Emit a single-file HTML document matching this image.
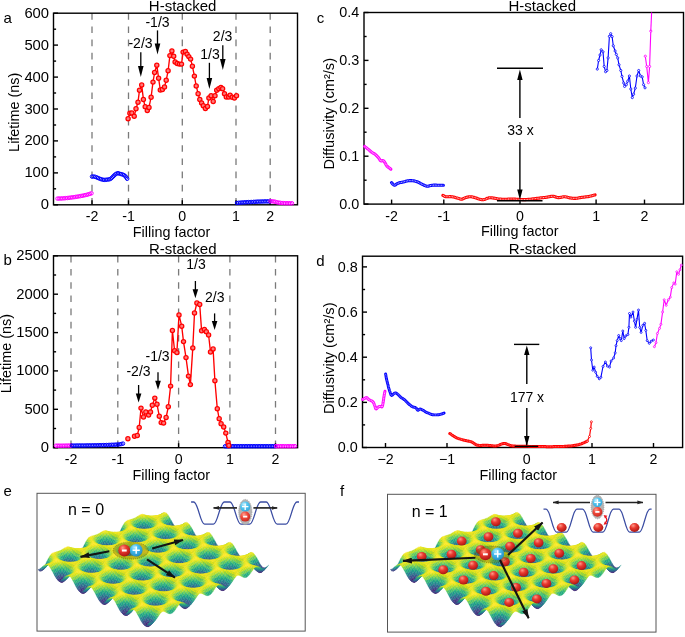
<!DOCTYPE html><html><head><meta charset="utf-8"><style>html,body{margin:0;padding:0;background:#fff;width:685px;height:637px;overflow:hidden}svg{display:block;will-change:transform}text{fill:#000}.c0{fill:#440154;stroke:#440154}.c1{fill:#46075a;stroke:#46075a}.c2{fill:#470d60;stroke:#470d60}.c3{fill:#471365;stroke:#471365}.c4{fill:#48186a;stroke:#48186a}.c5{fill:#481d6f;stroke:#481d6f}.c6{fill:#482374;stroke:#482374}.c7{fill:#482878;stroke:#482878}.c8{fill:#472d7b;stroke:#472d7b}.c9{fill:#46327e;stroke:#46327e}.c10{fill:#453781;stroke:#453781}.c11{fill:#443b84;stroke:#443b84}.c12{fill:#424086;stroke:#424086}.c13{fill:#404588;stroke:#404588}.c14{fill:#3e4989;stroke:#3e4989}.c15{fill:#3d4e8a;stroke:#3d4e8a}.c16{fill:#3b528b;stroke:#3b528b}.c17{fill:#39568c;stroke:#39568c}.c18{fill:#375b8d;stroke:#375b8d}.c19{fill:#355f8d;stroke:#355f8d}.c20{fill:#33638d;stroke:#33638d}.c21{fill:#31678e;stroke:#31678e}.c22{fill:#2f6b8e;stroke:#2f6b8e}.c23{fill:#2e6f8e;stroke:#2e6f8e}.c24{fill:#2c728e;stroke:#2c728e}.c25{fill:#2a768e;stroke:#2a768e}.c26{fill:#297a8e;stroke:#297a8e}.c27{fill:#277e8e;stroke:#277e8e}.c28{fill:#26828e;stroke:#26828e}.c29{fill:#25858e;stroke:#25858e}.c30{fill:#23898e;stroke:#23898e}.c31{fill:#228d8d;stroke:#228d8d}.c32{fill:#21918c;stroke:#21918c}.c33{fill:#1f948c;stroke:#1f948c}.c34{fill:#1f988b;stroke:#1f988b}.c35{fill:#1e9c89;stroke:#1e9c89}.c36{fill:#1fa088;stroke:#1fa088}.c37{fill:#20a386;stroke:#20a386}.c38{fill:#22a785;stroke:#22a785}.c39{fill:#25ab82;stroke:#25ab82}.c40{fill:#28ae80;stroke:#28ae80}.c41{fill:#2db27d;stroke:#2db27d}.c42{fill:#32b67a;stroke:#32b67a}.c43{fill:#38b977;stroke:#38b977}.c44{fill:#3fbc73;stroke:#3fbc73}.c45{fill:#46c06f;stroke:#46c06f}.c46{fill:#4ec36b;stroke:#4ec36b}.c47{fill:#56c667;stroke:#56c667}.c48{fill:#5ec962;stroke:#5ec962}.c49{fill:#67cc5c;stroke:#67cc5c}.c50{fill:#70cf57;stroke:#70cf57}.c51{fill:#7ad151;stroke:#7ad151}.c52{fill:#84d44b;stroke:#84d44b}.c53{fill:#8ed645;stroke:#8ed645}.c54{fill:#98d83e;stroke:#98d83e}.c55{fill:#a2da37;stroke:#a2da37}.c56{fill:#addc30;stroke:#addc30}.c57{fill:#b8de29;stroke:#b8de29}.c58{fill:#c2df23;stroke:#c2df23}.c59{fill:#cde11d;stroke:#cde11d}.c60{fill:#d8e219;stroke:#d8e219}.c61{fill:#e2e418;stroke:#e2e418}.c62{fill:#ece51b;stroke:#ece51b}.c63{fill:#f6e620;stroke:#f6e620}.c64{fill:#fde725;stroke:#fde725}</style></head><body><svg width="685" height="637" viewBox="0 0 685 637" font-family="Liberation Sans, sans-serif"><defs>
<radialGradient id="gr" cx=".4" cy=".33" r=".72" fx=".36" fy=".28"><stop offset="0" stop-color="#ff9a8a"/><stop offset=".4" stop-color="#ea3a30"/><stop offset=".85" stop-color="#b81c18"/><stop offset="1" stop-color="#8a1410"/></radialGradient>
<radialGradient id="gb" cx=".4" cy=".33" r=".72" fx=".36" fy=".28"><stop offset="0" stop-color="#b5ecff"/><stop offset=".4" stop-color="#47bdee"/><stop offset=".85" stop-color="#2c97cc"/><stop offset="1" stop-color="#1f78a8"/></radialGradient>
<radialGradient id="gr2" cx=".4" cy=".33" r=".72" fx=".36" fy=".28"><stop offset="0" stop-color="#ffa090"/><stop offset=".45" stop-color="#f04a3c"/><stop offset="1" stop-color="#c62820"/></radialGradient>
<radialGradient id="gb2" cx=".4" cy=".33" r=".72" fx=".36" fy=".28"><stop offset="0" stop-color="#c5f0ff"/><stop offset=".45" stop-color="#55c6f0"/><stop offset="1" stop-color="#35a5d8"/></radialGradient>
<marker id="ah" viewBox="0 0 16 10" refX="15" refY="5" markerUnits="userSpaceOnUse" markerWidth="9.5" markerHeight="6" orient="auto"><path d="M0 0L16 5L0 10z" fill="#141414"/></marker>
<marker id="ah2" viewBox="0 0 16 10" refX="15" refY="5" markerUnits="userSpaceOnUse" markerWidth="6" markerHeight="4.6" orient="auto"><path d="M0 0L16 5L0 10z" fill="#222"/></marker>
<filter id="bl" x="-5%" y="-5%" width="110%" height="110%"><feGaussianBlur stdDeviation="0.5"/></filter><g id="surf" filter="url(#bl)"><g transform="scale(.1)" style="stroke-width:3.0"><path class="c15" d="M1544 5206l15-7 15-24-15 5z"/><path class="c9" d="M1529 5223l15-10 15-14-15 7z"/><path class="c23" d="M1559 5199l15-15 15-20-15 11z"/><path class="c8" d="M1514 5225l15-9 15-3-15 10z"/><path class="c18" d="M1544 5213l16-16 14-13-15 15z"/><path class="c34" d="M1574 5184l16-18 15-17-16 15z"/><path class="c12" d="M1499 5215l15-6 15 7-15 9z"/><path class="c17" d="M1529 5216l16-15 15-4-16 16z"/><path class="c29" d="M1560 5197l15-19 15-12-16 18z"/><path class="c44" d="M1590 5166l15-16 15-14-15 13z"/><path class="c21" d="M1484 5199l15-4 15 14-15 6zm30 10l16-13 15 5-16 15z"/><path class="c29" d="M1545 5201l15-19 15-4-15 19z"/><path class="c41" d="M1575 5178l15-19 15-9-15 16z"/><path class="c54" d="M1605 5150l15-13 15-10-15 9z"/><path class="c28" d="M1499 5195l16-9 15 10-16 13z"/><path class="c31" d="M1530 5196l15-16 15 2-15 19z"/><path class="c32" d="M1469 5180l15-1 15 16-15 4z"/><path class="c41" d="M1560 5182l15-17 15-6-15 19z"/><path class="c52" d="M1590 5159l15-13 15-9-15 13z"/><path class="c60" d="M1620 5137l15-5 15-8-15 3z"/><path class="c37" d="M1484 5179l16-5 15 12-16 9zm31 7l15-12 15 6-15 16z"/><path class="c43" d="M1454 5162l16 2 14 15-15 1zm91 18l15-15 15 0-15 17z"/><path class="c51" d="M1575 5165l15-13 15-6-15 13z"/><path class="c59" d="M1605 5146l16-6 14-8-15 5z"/><path class="c63" d="M1635 5132l16 9 15-9-16-8z"/><path class="c45" d="M1500 5174l15-8 15 8-15 12z"/><path class="c47" d="M1470 5164l15-2 15 12-16 5zm60 10l15-11 15 2-15 15z"/><path class="c53" d="M1439 5149l16 4 15 11-16-2zm121 16l15-10 15-3-15 13z"/><path class="c59" d="M1590 5152l16-6 15-6-16 6zm61-11l15 21 15-12-15-18z"/><path class="c62" d="M1621 5140l15 9 15-8-16-9z"/><path class="c52" d="M1485 5162l15-2 15 6-15 8zm30 4l15-6 15 3-15 11zm151-4l15 27 15-15-15-24z"/><path class="c55" d="M1455 5153l15 2 15 7-15 2zm90 10l15-7 15-1-15 10z"/><path class="c58" d="M1636 5149l15 22 15-9-15-21z"/><path class="c60" d="M1424 5143l16 6 15 4-16-4zm151 12l16-4 15-5-16 6z"/><path class="c62" d="M1606 5146l15 9 15-6-15-9z"/><path class="c42" d="M1681 5189l15 31 15-18-15-28z"/><path class="c50" d="M1651 5171l15 28 15-10-15-27z"/><path class="c58" d="M1500 5160l15-1 15 1-15 6zm121-5l15 21 15-5-15-22z"/><path class="c59" d="M1470 5155l15 2 15 3-15 2zm60 5l15-2 15-2-15 7z"/><path class="c61" d="M1440 5149l15 6 15 0-15-2zm120 7l16 0 15-5-16 4z"/><path class="c62" d="M1591 5151l15 9 15-5-15-9z"/><path class="c63" d="M1409 5146l16 8 15-5-16-6z"/><path class="c31" d="M1696 5220l16 32 15-22-16-28z"/><path class="c39" d="M1666 5199l16 33 14-12-15-31z"/><path class="c49" d="M1636 5176l15 28 15-5-15-28z"/><path class="c59" d="M1606 5160l15 19 15-3-15-21z"/><path class="c61" d="M1485 5157l15 6 15-4-15 1z"/><path class="c62" d="M1425 5154l15 14 15-13-15-6zm30 1l15 11 15-9-15-2zm60 4l16 3 14-4-15 2z"/><path class="c63" d="M1395 5153l15 13 15-12-16-8zm150 5l16 4 15-6-16 0zm31-2l15 8 15-4-15-9z"/><path class="c21" d="M1712 5252l15 27 15-24-15-25z"/><path class="c27" d="M1682 5232l15 33 15-13-16-32z"/><path class="c38" d="M1651 5204l16 32 15-4-16-33z"/><path class="c51" d="M1621 5179l15 26 15-1-15-28z"/><path class="c60" d="M1410 5166l15 18 15-16-15-14zm30 2l15 16 15-18-15-11zm151-4l15 16 15-1-15-19z"/><path class="c61" d="M1380 5161l15 18 15-13-15-13zm90 5l15 13 15-16-15-6z"/><path class="c63" d="M1500 5163l16 9 15-10-16-3z"/><path class="c64" d="M1531 5162l15 7 15-7-16-4zm30 0l15 7 15-5-15-8z"/><path class="c14" d="M1727 5279l15 20 15-27-15-17z"/><path class="c16" d="M1697 5265l15 29 15-15-15-27z"/><path class="c26" d="M1667 5236l15 33 15-4-15-33z"/><path class="c41" d="M1636 5205l16 29 15 2-16-32z"/><path class="c54" d="M1606 5180l15 22 15 3-15-26z"/><path class="c55" d="M1425 5184l15 22 15-22-15-16z"/><path class="c56" d="M1395 5179l15 23 15-18-15-18z"/><path class="c57" d="M1455 5184l15 17 15-22-15-13z"/><path class="c59" d="M1365 5170l15 21 15-12-15-18z"/><path class="c60" d="M1485 5179l16 12 15-19-16-9z"/><path class="c62" d="M1576 5169l15 12 15-1-15-16z"/><path class="c63" d="M1516 5172l15 8 15-11-15-7z"/><path class="c64" d="M1546 5169l15 7 15-7-15-7z"/><path class="c7" d="M1712 5294l15 23 15-18-15-20z"/><path class="c11" d="M1742 5299l15 7 15-26-15-8z"/><path class="c15" d="M1682 5269l15 29 15-4-15-29z"/><path class="c29" d="M1652 5234l15 30 15 5-15-33z"/><path class="c45" d="M1621 5202l16 25 15 7-16-29z"/><path class="c49" d="M1410 5202l15 26 15-22-15-22zm30 4l15 22 15-27-15-17z"/><path class="c52" d="M1380 5191l15 27 15-16-15-23z"/><path class="c53" d="M1470 5201l16 16 15-26-16-12z"/><path class="c58" d="M1350 5179l15 22 15-10-15-21zm241 2l15 17 15 4-15-22z"/><path class="c59" d="M1501 5191l15 10 15-21-15-8z"/><path class="c63" d="M1531 5180l15 7 15-11-15-7zm30-4l15 7 15-2-15-12z"/><path class="c4" d="M1727 5317l16 7 14-18-15-7z"/><path class="c6" d="M1697 5298l15 20 15-1-15-23z"/><path class="c14" d="M1757 5306l16-5 15-24-16 3z"/><path class="c19" d="M1667 5264l15 26 15 8-15-29z"/><path class="c35" d="M1637 5227l15 26 15 11-15-30z"/><path class="c41" d="M1425 5228l16 26 14-26-15-22z"/><path class="c43" d="M1395 5218l15 30 15-20-15-26z"/><path class="c44" d="M1455 5228l16 18 15-29-16-16z"/><path class="c49" d="M1365 5201l15 29 15-12-15-27z"/><path class="c51" d="M1486 5217l15 11 15-27-15-10zm120-19l16 21 15 8-16-25z"/><path class="c57" d="M1335 5186l15 22 15-7-15-22z"/><path class="c58" d="M1516 5201l15 7 15-21-15-7z"/><path class="c61" d="M1576 5183l15 13 15 2-15-17z"/><path class="c63" d="M1546 5187l15 6 15-10-15-7z"/><path class="c3" d="M1712 5318l16 8 15-2-16-7z"/><path class="c7" d="M1743 5324l15-8 15-15-16 5z"/><path class="c11" d="M1682 5290l15 18 15 10-15-20z"/><path class="c21" d="M1773 5301l15-14 15-21-15 11z"/><path class="c26" d="M1652 5253l15 23 15 14-15-26z"/><path class="c33" d="M1410 5248l16 30 15-24-16-26z"/><path class="c34" d="M1441 5254l15 23 15-31-16-18z"/><path class="c39" d="M1380 5230l15 33 15-15-15-30z"/><path class="c40" d="M1471 5246l15 14 15-32-15-11z"/><path class="c43" d="M1622 5219l15 21 15 13-15-26z"/><path class="c48" d="M1350 5208l15 30 15-8-15-29z"/><path class="c50" d="M1501 5228l15 7 15-27-15-7z"/><path class="c57" d="M1320 5191l15 21 15-4-15-22zm271 5l16 15 15 8-16-21z"/><path class="c59" d="M1531 5208l15 4 15-19-15-6z"/><path class="c63" d="M1561 5193l16 5 14-2-15-13z"/><path class="c6" d="M1728 5326l15-7 15-3-15 8z"/><path class="c8" d="M1697 5308l16 8 15 10-16-8z"/><path class="c16" d="M1758 5316l15-15 15-14-15 14z"/><path class="c20" d="M1667 5276l15 16 15 16-15-18z"/><path class="c24" d="M1426 5278l15 26 15-27-15-23z"/><path class="c27" d="M1395 5263l16 32 15-17-16-30z"/><path class="c29" d="M1456 5277l15 15 15-32-15-14z"/><path class="c31" d="M1788 5287l15-17 15-18-15 14z"/><path class="c36" d="M1637 5240l15 19 15 17-15-23z"/><path class="c37" d="M1365 5238l15 32 15-7-15-33z"/><path class="c39" d="M1486 5260l15 6 15-31-15-7z"/><path class="c49" d="M1335 5212l15 28 15-2-15-30z"/><path class="c51" d="M1516 5235l15 2 15-25-15-4zm91-24l15 17 15 12-15-21z"/><path class="c59" d="M1305 5195l15 18 15-1-15-21z"/><path class="c60" d="M1546 5212l16 1 15-15-16-5z"/><path class="c61" d="M1577 5198l15 10 15 3-16-15z"/><path class="c11" d="M1713 5316l15-4 15 7-15 7z"/><path class="c14" d="M1743 5319l15-14 15-4-15 15z"/><path class="c17" d="M1411 5295l15 29 15-20-15-26zm271-3l16 7 15 17-16-8z"/><path class="c18" d="M1441 5304l15 18 15-30-15-15z"/><path class="c25" d="M1380 5270l16 33 15-8-16-32z"/><path class="c27" d="M1471 5292l15 6 15-32-15-6zm302 9l15-19 15-12-15 17z"/><path class="c31" d="M1652 5259l15 13 15 20-15-16z"/><path class="c38" d="M1350 5240l16 31 14-1-15-32z"/><path class="c41" d="M1501 5266l15 0 15-29-15-2z"/><path class="c42" d="M1803 5270l15-17 15-15-15 14z"/><path class="c46" d="M1622 5228l15 15 15 16-15-19z"/><path class="c51" d="M1320 5213l15 24 15 3-15-28z"/><path class="c54" d="M1531 5237l16-2 15-22-16-1z"/><path class="c58" d="M1592 5208l15 12 15 8-15-17z"/><path class="c61" d="M1290 5199l15 14 15 0-15-18z"/><path class="c62" d="M1562 5213l15 2 15-7-15-10z"/><path class="c9" d="M1426 5324l15 20 15-22-15-18z"/><path class="c14" d="M1396 5303l15 29 15-8-15-29z"/><path class="c16" d="M1456 5322l15 6 15-30-15-6z"/><path class="c18" d="M1728 5312l15-12 15 5-15 14z"/><path class="c20" d="M1698 5299l15-2 15 15-15 4z"/><path class="c26" d="M1366 5271l15 31 15 1-16-33zm392 34l15-19 15-4-15 19z"/><path class="c29" d="M1667 5272l16 8 15 19-16-7z"/><path class="c30" d="M1486 5298l15-2 15-30-15 0z"/><path class="c38" d="M1788 5282l16-19 14-10-15 17z"/><path class="c42" d="M1335 5237l16 28 15 6-16-31zm302 6l15 12 15 17-15-13z"/><path class="c45" d="M1516 5266l16-6 15-25-16 2z"/><path class="c52" d="M1818 5253l16-14 15-11-16 10z"/><path class="c55" d="M1305 5213l15 20 15 4-15-24zm302 7l15 11 15 12-15-15z"/><path class="c57" d="M1547 5235l15-3 15-17-15-2z"/><path class="c62" d="M1577 5215l15 3 15 2-15-12z"/><path class="c63" d="M1275 5204l15 10 15-1-15-14z"/><path class="c5" d="M1411 5332l15 21 15-9-15-20z"/><path class="c7" d="M1441 5344l15 6 15-22-15-6z"/><path class="c15" d="M1381 5302l15 27 15 3-15-29z"/><path class="c19" d="M1471 5328l15-6 15-26-15 2z"/><path class="c26" d="M1713 5297l15-8 15 11-15 12z"/><path class="c29" d="M1743 5300l15-16 15 2-15 19z"/><path class="c31" d="M1351 5265l15 28 15 9-15-31zm332 15l15 0 15 17-15 2z"/><path class="c35" d="M1501 5296l16-10 15-26-16 6z"/><path class="c38" d="M1773 5286l16-18 15-5-16 19z"/><path class="c41" d="M1652 5255l16 7 15 18-16-8z"/><path class="c47" d="M1320 5233l16 23 15 9-16-28z"/><path class="c49" d="M1804 5263l15-14 15-10-16 14z"/><path class="c51" d="M1532 5260l15-7 15-21-15 3z"/><path class="c52" d="M1622 5231l15 10 15 14-15-12z"/><path class="c59" d="M1290 5214l15 15 15 4-15-20zm544 25l15-6 15-9-15 4z"/><path class="c61" d="M1562 5232l15-2 15-12-15-3zm30-14l15 9 15 4-15-11z"/><path class="c63" d="M1260 5213l15 6 15-5-15-10z"/><path class="c2" d="M1426 5353l15 6 15-9-15-6z"/><path class="c7" d="M1396 5329l15 18 15 6-15-21z"/><path class="c10" d="M1456 5350l16-8 14-20-15 6z"/><path class="c22" d="M1366 5293l15 23 15 13-15-27z"/><path class="c26" d="M1486 5322l16-12 15-24-16 10z"/><path class="c35" d="M1728 5289l15-12 15 7-15 16z"/><path class="c36" d="M1698 5280l15-4 15 13-15 8z"/><path class="c39" d="M1336 5256l15 24 15 13-15-28z"/><path class="c40" d="M1758 5284l16-15 15-1-16 18z"/><path class="c42" d="M1668 5262l15 2 15 16-15 0z"/><path class="c43" d="M1517 5286l15-12 15-21-15 7z"/><path class="c49" d="M1789 5268l15-14 15-5-15 14z"/><path class="c51" d="M1637 5241l16 7 15 14-16-7z"/><path class="c53" d="M1305 5229l16 18 15 9-16-23z"/><path class="c56" d="M1547 5253l15-7 15-16-15 2z"/><path class="c58" d="M1819 5249l15-8 15-8-15 6z"/><path class="c60" d="M1607 5227l15 8 15 6-15-10z"/><path class="c61" d="M1245 5229l15 5 15-15-15-6z"/><path class="c62" d="M1275 5219l16 9 14 1-15-15zm574 14l15 4 15-8-15-5z"/><path class="c63" d="M1577 5230l15 2 15-5-15-9z"/><path class="c5" d="M1411 5347l15 6 15 6-15-6z"/><path class="c6" d="M1441 5359l16-9 15-8-16 8z"/><path class="c15" d="M1381 5316l15 16 15 15-15-18z"/><path class="c19" d="M1472 5342l15-16 15-16-16 12z"/><path class="c31" d="M1351 5280l15 20 15 16-15-23z"/><path class="c35" d="M1502 5310l15-17 15-19-15 12z"/><path class="c43" d="M1713 5276l15-7 15 8-15 12z"/><path class="c45" d="M1743 5277l16-11 15 3-16 15z"/><path class="c46" d="M1683 5264l15-1 15 13-15 4z"/><path class="c47" d="M1321 5247l15 19 15 14-15-24z"/><path class="c50" d="M1774 5269l15-12 15-3-15 14z"/><path class="c51" d="M1532 5274l15-12 15-16-15 7z"/><path class="c52" d="M1653 5248l15 5 15 11-15-2z"/><path class="c55" d="M1230 5253l15 3 15-22-15-5z"/><path class="c58" d="M1804 5254l15-7 15-6-15 8z"/><path class="c59" d="M1291 5228l15 13 15 6-16-18zm331 7l16 7 15 6-16-7z"/><path class="c61" d="M1562 5246l15-4 15-10-15-2zm302-9l15 19 15-11-15-16z"/><path class="c62" d="M1260 5234l16 3 15-9-16-9zm574 7l15 4 15-8-15-4z"/><path class="c63" d="M1592 5232l16 6 14-3-15-8z"/><path class="c9" d="M1426 5353l16-6 15 3-16 9z"/><path class="c13" d="M1396 5332l15 7 15 14-15-6z"/><path class="c16" d="M1457 5350l15-16 15-8-15 16z"/><path class="c25" d="M1366 5300l15 14 15 18-15-16z"/><path class="c29" d="M1487 5326l15-18 15-15-15 17z"/><path class="c41" d="M1336 5266l15 16 15 18-15-20z"/><path class="c45" d="M1517 5293l15-15 15-16-15 12z"/><path class="c46" d="M1215 5283l15 0 15-27-15-3z"/><path class="c51" d="M1698 5263l15-2 15 8-15 7zm30 6l16-7 15 4-16 11z"/><path class="c54" d="M1759 5266l15-8 15-1-15 12zm120-10l16 26 15-14-16-23z"/><path class="c55" d="M1306 5241l15 14 15 11-15-19zm362 12l15 2 15 8-15 1z"/><path class="c57" d="M1245 5256l16 0 15-19-16-3zm302 6l15-8 15-12-15 4z"/><path class="c58" d="M1789 5257l15-5 15-5-15 7z"/><path class="c59" d="M1849 5245l15 20 15-9-15-19z"/><path class="c60" d="M1638 5242l15 6 15 5-15-5z"/><path class="c62" d="M1276 5237l15 4 15 0-15-13zm543 10l15 4 15-6-15-4z"/><path class="c63" d="M1577 5242l16 3 15-7-16-6zm31-4l15 7 15-3-16-7z"/><path class="c16" d="M1411 5339l16-4 15 12-16 6z"/><path class="c17" d="M1442 5347l15-14 15 1-15 16z"/><path class="c24" d="M1381 5314l15 6 15 19-15-7z"/><path class="c27" d="M1472 5334l15-18 15-8-15 18z"/><path class="c35" d="M1200 5315l16-2 14-30-15 0z"/><path class="c37" d="M1351 5282l15 13 15 19-15-14z"/><path class="c41" d="M1502 5308l15-18 15-12-15 15z"/><path class="c45" d="M1895 5282l15 31 15-18-15-27z"/><path class="c50" d="M1230 5283l16-4 15-23-16 0z"/><path class="c51" d="M1321 5255l15 13 15 14-15-16z"/><path class="c52" d="M1864 5265l16 27 15-10-16-26z"/><path class="c54" d="M1532 5278l15-12 15-12-15 8z"/><path class="c56" d="M1713 5261l16-1 15 2-16 7z"/><path class="c57" d="M1744 5262l15-3 15-1-15 8z"/><path class="c58" d="M1683 5255l15 2 15 4-15 2z"/><path class="c59" d="M1834 5251l16 20 14-6-15-20z"/><path class="c60" d="M1261 5256l15-1 15-14-15-4zm513 2l15-2 15-4-15 5z"/><path class="c61" d="M1291 5241l15 9 15 5-15-14zm362 7l15 6 15 1-15-2z"/><path class="c62" d="M1562 5254l16-1 15-8-16-3zm242-2l15 5 15-6-15-4z"/><path class="c63" d="M1623 5245l15 8 15-5-15-6z"/><path class="c64" d="M1593 5245l15 7 15-7-15-7z"/><path class="c23" d="M1427 5335l15-10 15 8-15 14z"/><path class="c24" d="M1185 5346l16-5 15-28-16 2z"/><path class="c26" d="M1396 5320l16-1 15 16-16 4z"/><path class="c28" d="M1457 5333l15-17 15 0-15 18z"/><path class="c34" d="M1910 5313l15 31 15-20-15-29z"/><path class="c36" d="M1366 5295l16 6 14 19-15-6z"/><path class="c39" d="M1487 5316l15-19 15-7-15 18z"/><path class="c40" d="M1216 5313l15-8 15-26-16 4z"/><path class="c42" d="M1880 5292l15 32 15-11-15-31z"/><path class="c48" d="M1336 5268l15 11 15 16-15-13z"/><path class="c51" d="M1517 5290l15-14 15-10-15 12z"/><path class="c52" d="M1850 5271l15 26 15-5-16-27z"/><path class="c54" d="M1246 5279l15-6 15-18-15 1z"/><path class="c58" d="M1306 5250l15 10 15 8-15-13z"/><path class="c60" d="M1547 5266l16-4 15-9-16 1zm272-9l16 17 15-3-16-20z"/><path class="c61" d="M1698 5257l16 5 15-2-16 1zm31 3l15 1 15-2-15 3z"/><path class="c62" d="M1276 5255l15 1 15-6-15-9zm392-1l15 10 15-7-15-2zm91 5l15 2 15-5-15 2z"/><path class="c63" d="M1608 5252l15 11 15-10-15-8zm30 1l15 12 15-11-15-6zm151 3l15 6 15-5-15-5z"/><path class="c64" d="M1578 5253l15 7 15-8-15-7z"/><path class="c14" d="M1170 5371l16-8 15-22-16 5z"/><path class="c24" d="M1925 5344l15 29 15-23-15-26z"/><path class="c30" d="M1895 5324l15 33 15-13-15-31z"/><path class="c31" d="M1201 5341l15-12 15-24-15 8z"/><path class="c32" d="M1412 5319l15-6 15 12-15 10z"/><path class="c33" d="M1442 5325l15-14 15 5-15 17z"/><path class="c38" d="M1382 5301l15 2 15 16-16 1z"/><path class="c40" d="M1472 5316l15-16 15-3-15 19z"/><path class="c41" d="M1865 5297l15 32 15-5-15-32z"/><path class="c47" d="M1231 5305l15-11 15-21-15 6zm120-26l16 7 15 15-16-6z"/><path class="c50" d="M1502 5297l15-14 15-7-15 14z"/><path class="c53" d="M1835 5274l15 24 15-1-15-26z"/><path class="c57" d="M1321 5260l15 9 15 10-15-11z"/><path class="c59" d="M1261 5273l15-4 15-13-15-1zm271 3l16-6 15-8-16 4z"/><path class="c61" d="M1623 5263l15 18 15-16-15-12zm30 2l15 16 15-17-15-10zm151-3l16 14 15-2-16-17z"/><path class="c62" d="M1291 5256l15 4 15 0-15-10zm302 4l15 15 15-12-15-11zm90 4l16 13 15-15-16-5z"/><path class="c63" d="M1563 5262l15 6 15-8-15-7zm151 0l15 9 15-10-15-1zm30-1l15 7 15-7-15-2z"/><path class="c64" d="M1774 5261l15 7 15-6-15-6z"/><path class="c8" d="M1155 5386l16-9 15-14-16 8z"/><path class="c16" d="M1940 5373l16 22 15-26-16-19z"/><path class="c18" d="M1910 5357l15 31 15-15-15-29z"/><path class="c22" d="M1186 5363l15-14 15-20-15 12z"/><path class="c29" d="M1880 5329l15 32 15-4-15-33z"/><path class="c39" d="M1216 5329l15-15 15-20-15 11z"/><path class="c40" d="M1427 5313l15-10 15 8-15 14z"/><path class="c42" d="M1397 5303l15-3 15 13-15 6z"/><path class="c43" d="M1850 5298l15 29 15 2-15-32z"/><path class="c44" d="M1457 5311l15-13 15 2-15 16z"/><path class="c48" d="M1367 5286l15 3 15 14-15-2z"/><path class="c51" d="M1487 5300l16-13 14-4-15 14z"/><path class="c54" d="M1246 5294l15-9 15-16-15 4z"/><path class="c56" d="M1336 5269l16 7 15 10-16-7zm302 12l15 21 15-21-15-16zm182-5l15 21 15 1-15-24z"/><path class="c58" d="M1517 5283l16-6 15-7-16 6zm91-8l15 22 15-16-15-18zm60 6l16 18 15-22-16-13z"/><path class="c60" d="M1699 5277l15 12 15-18-15-9z"/><path class="c61" d="M1578 5268l15 19 15-12-15-15z"/><path class="c62" d="M1276 5269l15 0 15-9-15-4zm30-9l15 8 15 1-15-9zm242 10l15 6 15-8-15-6z"/><path class="c63" d="M1729 5271l15 8 15-11-15-7zm60-3l16 10 15-2-16-14z"/><path class="c64" d="M1759 5268l15 7 15-7-15-7z"/><path class="c8" d="M1141 5387l15-9 15-1-16 9z"/><path class="c9" d="M1925 5388l16 24 15-17-16-22z"/><path class="c12" d="M1956 5395l15 11 15-27-15-10z"/><path class="c17" d="M1895 5361l16 31 14-4-15-31z"/><path class="c18" d="M1171 5377l15-17 15-11-15 14z"/><path class="c32" d="M1865 5327l15 30 15 4-15-32z"/><path class="c33" d="M1201 5349l15-18 15-17-15 15z"/><path class="c47" d="M1835 5297l15 25 15 5-15-29z"/><path class="c48" d="M1231 5314l15-13 15-16-15 9zm181-14l15-5 15 8-15 10z"/><path class="c49" d="M1442 5303l15-8 15 3-15 13z"/><path class="c51" d="M1382 5289l15 1 15 10-15 3zm241 8l16 26 14-21-15-21zm30 5l16 22 15-25-16-18z"/><path class="c53" d="M1472 5298l16-9 15-2-16 13z"/><path class="c54" d="M1593 5287l15 26 15-16-15-22zm91 12l15 16 15-26-15-12z"/><path class="c57" d="M1352 5276l15 6 15 7-15-3z"/><path class="c59" d="M1503 5287l15-5 15-5-16 6zm60-11l15 21 15-10-15-19zm151 13l15 11 15-21-15-8zm91-11l15 16 15 3-15-21z"/><path class="c60" d="M1261 5285l15-5 15-11-15 0z"/><path class="c62" d="M1321 5268l16 7 15 1-16-7zm212 9l15 6 15-7-15-6z"/><path class="c63" d="M1744 5279l15 8 15-12-15-7z"/><path class="c64" d="M1291 5269l16 5 14-6-15-8zm483 6l16 7 15-4-16-10z"/><path class="c4" d="M1941 5412l15 12 15-18-15-11z"/><path class="c8" d="M1911 5392l15 23 15-3-16-24z"/><path class="c13" d="M1126 5376l15-6 15 8-15 9zm845 30l15-3 15-25-15 1z"/><path class="c17" d="M1156 5378l15-15 15-3-15 17z"/><path class="c21" d="M1880 5357l16 28 15 7-16-31z"/><path class="c29" d="M1186 5360l15-19 15-10-15 18z"/><path class="c38" d="M1850 5322l15 26 15 9-15-30z"/><path class="c43" d="M1639 5323l15 27 15-26-16-22z"/><path class="c44" d="M1216 5331l15-17 15-13-15 13z"/><path class="c45" d="M1608 5313l16 29 15-19-16-26zm61 11l15 20 15-29-15-16z"/><path class="c51" d="M1699 5315l15 12 15-27-15-11z"/><path class="c52" d="M1578 5297l15 28 15-12-15-26zm242-3l15 20 15 8-15-25z"/><path class="c55" d="M1427 5295l15-3 15 3-15 8z"/><path class="c56" d="M1246 5301l15-10 15-11-15 5zm151-11l15 0 15 5-15 5zm60 5l16-5 15-1-16 9z"/><path class="c58" d="M1729 5300l15 7 15-20-15-8z"/><path class="c59" d="M1367 5282l15 4 15 4-15-1zm181 1l15 21 15-7-15-21z"/><path class="c60" d="M1488 5289l15-2 15-5-15 5z"/><path class="c62" d="M1337 5275l15 7 15 0-15-6zm181 7l15 7 15-6-15-6zm272 0l15 11 15 1-15-16z"/><path class="c63" d="M1276 5280l16 1 15-7-16-5zm483 7l16 6 15-11-16-7z"/><path class="c64" d="M1307 5274l15 7 15-6-16-7z"/><path class="c3" d="M1926 5415l15 11 15-2-15-12z"/><path class="c6" d="M1956 5424l15-5 15-16-15 3z"/><path class="c12" d="M1896 5385l15 20 15 10-15-23z"/><path class="c19" d="M1986 5403l15-12 15-22-15 9z"/><path class="c21" d="M1141 5370l15-12 15 5-15 15z"/><path class="c22" d="M1111 5359l15-3 15 14-15 6z"/><path class="c28" d="M1865 5348l16 23 15 14-16-28z"/><path class="c29" d="M1171 5363l15-18 15-4-15 19z"/><path class="c35" d="M1624 5342l15 31 15-23-15-27zm30 8l15 24 15-30-15-20z"/><path class="c41" d="M1201 5341l15-17 15-10-15 17zm392-16l16 32 15-15-16-29zm91 19l15 15 15-32-15-12z"/><path class="c45" d="M1835 5314l15 22 15 12-15-26z"/><path class="c50" d="M1563 5304l15 28 15-7-15-28zm151 23l15 8 15-28-15-7z"/><path class="c53" d="M1231 5314l15-12 15-11-15 10z"/><path class="c58" d="M1805 5293l15 15 15 6-15-20z"/><path class="c59" d="M1533 5289l15 19 15-4-15-21zm211 18l16 5 15-19-16-6z"/><path class="c60" d="M1412 5290l15 2 15 0-15 3zm30 2l16 0 15-2-16 5z"/><path class="c61" d="M1382 5286l15 6 15-2-15 0z"/><path class="c62" d="M1261 5291l16-2 15-8-16-1zm91-9l15 11 15-7-15-4zm121 8l15 2 15-5-15 2z"/><path class="c63" d="M1503 5287l15 7 15-5-15-7zm272 6l15 5 15-5-15-11z"/><path class="c64" d="M1292 5281l15 8 15-8-15-7zm30 0l15 10 15-9-15-7z"/><path class="c5" d="M1941 5426l15-4 15-3-15 5z"/><path class="c8" d="M1911 5405l15 10 15 11-15-11z"/><path class="c13" d="M1971 5419l15-14 15-14-15 12z"/><path class="c21" d="M1881 5371l15 18 15 16-15-20z"/><path class="c26" d="M1639 5373l15 27 15-26-15-24z"/><path class="c29" d="M1126 5356l15-9 15 11-15 12zm875 35l16-17 15-19-16 14z"/><path class="c30" d="M1609 5357l15 33 15-17-15-31zm60 17l15 17 15-32-15-15z"/><path class="c32" d="M1156 5358l15-15 15 2-15 18z"/><path class="c33" d="M1096 5340l15-1 15 17-15 3z"/><path class="c37" d="M1850 5336l16 19 15 16-16-23z"/><path class="c39" d="M1699 5359l15 8 15-32-15-8z"/><path class="c40" d="M1578 5332l16 33 15-8-16-32z"/><path class="c41" d="M1186 5345l15-17 15-4-15 17z"/><path class="c51" d="M1216 5324l16-14 14-8-15 12zm332-16l15 27 15-3-15-28zm181 27l16 3 15-26-16-5z"/><path class="c52" d="M1820 5308l15 17 15 11-15-22z"/><path class="c60" d="M1246 5302l16-5 15-8-16 2zm272-8l15 16 15-2-15-19zm242 18l15 2 15-16-15-5z"/><path class="c62" d="M1337 5291l15 16 15-14-15-11zm30 2l15 14 15-15-15-6zm30-1l15 11 15-11-15-2zm30 0l16 6 15-6-16 0zm363 6l15 8 15 2-15-15z"/><path class="c63" d="M1277 5289l15 8 15-8-15-8zm30 0l15 14 15-12-15-10zm151 3l15 6 15-6-15-2zm30 0l15 7 15-5-15-7z"/><path class="c9" d="M1926 5415l15-1 15 8-15 4z"/><path class="c12" d="M1956 5422l15-13 15-4-15 14z"/><path class="c17" d="M1896 5389l15 9 15 17-15-10z"/><path class="c19" d="M1624 5390l15 30 15-20-15-27zm30 10l15 20 15-29-15-17z"/><path class="c24" d="M1986 5405l16-19 15-12-16 17z"/><path class="c27" d="M1594 5365l15 33 15-8-15-33zm90 26l15 8 15-32-15-8z"/><path class="c32" d="M1866 5355l15 15 15 19-15-18z"/><path class="c38" d="M1111 5339l15-4 15 12-15 9zm30 8l15-11 15 7-15 15z"/><path class="c39" d="M2017 5374l15-17 15-16-15 14z"/><path class="c40" d="M1714 5367l16 1 15-30-16-3z"/><path class="c41" d="M1563 5335l16 30 15 0-16-33z"/><path class="c43" d="M1171 5343l15-15 15 0-15 17z"/><path class="c44" d="M1081 5322l15 2 15 15-15 1z"/><path class="c47" d="M1835 5325l16 15 15 15-16-19z"/><path class="c51" d="M1201 5328l16-12 15-6-16 14z"/><path class="c53" d="M1533 5310l15 24 15 1-15-27zm212 28l15-1 15-23-15-2z"/><path class="c58" d="M1352 5307l15 20 15-20-15-14z"/><path class="c59" d="M1232 5310l15-6 15-7-16 5zm90-7l15 21 15-17-15-16zm483 3l15 12 15 7-15-17z"/><path class="c60" d="M1382 5307l16 15 14-19-15-11z"/><path class="c61" d="M1292 5297l15 19 15-13-15-14zm483 17l15 1 15-9-15-8z"/><path class="c62" d="M1262 5297l15 9 15-9-15-8zm150 6l16 11 15-16-16-6zm91-4l15 13 15-2-15-16z"/><path class="c63" d="M1443 5298l15 8 15-8-15-6z"/><path class="c64" d="M1473 5298l15 7 15-6-15-7z"/><path class="c11" d="M1639 5420l15 22 15-22-15-20z"/><path class="c16" d="M1609 5398l15 30 15-8-15-30zm60 22l15 9 15-30-15-8zm272-6l15-11 15 6-15 13z"/><path class="c19" d="M1911 5398l15 1 15 15-15 1z"/><path class="c23" d="M1971 5409l16-18 15-5-16 19z"/><path class="c29" d="M1579 5365l15 32 15 1-15-33zm120 34l16-1 15-30-16-1zm182-29l15 9 15 19-15-9z"/><path class="c36" d="M2002 5386l15-19 15-10-15 17z"/><path class="c43" d="M1851 5340l15 13 15 17-15-15z"/><path class="c44" d="M1548 5334l16 27 15 4-16-30zm182 34l15-5 15-26-15 1z"/><path class="c46" d="M1126 5335l15-7 15 8-15 11z"/><path class="c47" d="M1156 5336l15-10 15 2-15 15z"/><path class="c48" d="M1096 5324l15 0 15 11-15 4z"/><path class="c50" d="M2032 5357l15-15 15-13-15 12z"/><path class="c53" d="M1186 5328l16-9 15-3-16 12zm151-4l15 24 15-21-15-20zm30 3l16 20 15-25-16-15z"/><path class="c54" d="M1066 5310l15 4 15 10-15-2z"/><path class="c55" d="M1307 5316l15 25 15-17-15-21zm513 2l16 12 15 10-16-15z"/><path class="c57" d="M1398 5322l15 14 15-22-16-11zm120-10l15 18 15 4-15-24zm242 25l15-3 15-19-15-1z"/><path class="c59" d="M1217 5316l15-6 15-6-15 6zm60-10l15 21 15-11-15-19z"/><path class="c61" d="M1428 5314l15 9 15-17-15-8z"/><path class="c62" d="M1247 5304l15 10 15-8-15-9zm543 11l15 3 15 0-15-12z"/><path class="c63" d="M1488 5305l15 9 15-2-15-13z"/><path class="c64" d="M1458 5306l15 8 15-9-15-7z"/><path class="c7" d="M1624 5428l15 23 15-9-15-22zm30 14l15 9 15-22-15-9z"/><path class="c18" d="M1594 5397l15 28 15 3-15-30zm90 32l16-3 15-28-16 1z"/><path class="c24" d="M1926 5399l15-7 15 11-15 11z"/><path class="c26" d="M1956 5403l16-15 15 3-16 18z"/><path class="c30" d="M1896 5379l15 2 15 18-15-1z"/><path class="c34" d="M1564 5361l15 28 15 8-15-32zm151 37l15-8 15-27-15 5z"/><path class="c35" d="M1987 5391l15-18 15-6-15 19z"/><path class="c41" d="M1866 5353l15 8 15 18-15-9z"/><path class="c46" d="M1352 5348l16 25 15-26-16-20z"/><path class="c47" d="M1322 5341l15 28 15-21-15-24zm695 26l15-16 15-9-15 15z"/><path class="c49" d="M1383 5347l15 18 15-29-15-14zm150-17l16 23 15 8-16-27zm212 33l15-7 15-22-15 3z"/><path class="c52" d="M1292 5327l15 28 15-14-15-25z"/><path class="c53" d="M1111 5324l15-2 15 6-15 7zm30 4l16-5 14 3-15 10zm695 2l15 10 15 13-15-13z"/><path class="c55" d="M1413 5336l15 12 15-25-15-9z"/><path class="c56" d="M1081 5314l15 3 15 7-15 0zm90 12l16-6 15-1-16 9z"/><path class="c58" d="M1262 5314l15 22 15-9-15-21zm785 28l15-9 15-9-15 5z"/><path class="c60" d="M1051 5305l15 6 15 3-15-4zm151 14l15-3 15-6-15 6zm301-5l15 14 15 2-15-18zm272 20l15-3 15-13-15-3z"/><path class="c61" d="M1443 5323l15 7 15-16-15-8zm362-5l16 8 15 4-16-12z"/><path class="c62" d="M1232 5310l15 10 15-6-15-10z"/><path class="c63" d="M1473 5314l15 6 15-6-15-9z"/><path class="c3" d="M1639 5451l16 10 14-10-15-9z"/><path class="c9" d="M1609 5425l15 21 15 5-15-23zm60 26l16-5 15-20-16 3z"/><path class="c24" d="M1579 5389l15 25 15 11-15-28zm121 37l15-11 15-25-15 8z"/><path class="c33" d="M1941 5392l16-11 15 7-16 15z"/><path class="c34" d="M1911 5381l15-3 15 14-15 7z"/><path class="c38" d="M1337 5369l16 29 15-25-16-25zm635 19l15-16 15 1-15 18z"/><path class="c39" d="M1368 5373l15 22 15-30-15-18z"/><path class="c41" d="M1549 5353l15 24 15 12-15-28zm181 37l15-12 15-22-15 7z"/><path class="c42" d="M1307 5355l15 32 15-18-15-28zm574 6l15 4 15 16-15-2z"/><path class="c46" d="M1398 5365l15 13 15-30-15-12z"/><path class="c47" d="M2002 5373l15-16 15-6-15 16z"/><path class="c50" d="M1277 5336l15 28 15-9-15-28z"/><path class="c52" d="M1851 5340l15 8 15 13-15-8z"/><path class="c54" d="M1428 5348l15 7 15-25-15-7z"/><path class="c55" d="M1518 5328l16 17 15 8-16-23zm242 28l15-8 15-17-15 3z"/><path class="c56" d="M2032 5351l15-9 15-9-15 9z"/><path class="c58" d="M1126 5322l16 0 15 1-16 5zm121-2l15 21 15-5-15-22z"/><path class="c59" d="M1096 5317l15 3 15 2-15 2zm61 6l15-1 15-2-16 6z"/><path class="c60" d="M1821 5326l15 9 15 5-15-10z"/><path class="c61" d="M1066 5311l15 8 15-2-15-3zm121 9l15 1 15-5-15 3zm271 10l15 5 15-15-15-6z"/><path class="c62" d="M1217 5316l15 8 15-4-15-10zm573 15l16 1 15-6-16-8zm272 2l16 1 15-8-16-2z"/><path class="c63" d="M1036 5309l15 9 15-7-15-6zm452 11l16 8 14 0-15-14z"/><path class="c5" d="M1624 5446l16 9 15 6-16-10zm31 15l15-6 15-9-16 5z"/><path class="c16" d="M1594 5414l15 18 15 14-15-21zm91 32l15-14 15-17-15 11z"/><path class="c29" d="M1353 5398l15 26 15-29-15-22z"/><path class="c31" d="M1322 5387l16 32 15-21-16-29z"/><path class="c32" d="M1564 5377l15 21 15 16-15-25z"/><path class="c33" d="M1715 5415l15-16 15-21-15 12z"/><path class="c34" d="M1383 5395l15 15 15-32-15-13z"/><path class="c39" d="M1292 5364l16 33 14-10-15-32z"/><path class="c41" d="M1926 5378l16-7 15 10-16 11z"/><path class="c42" d="M1957 5381l15-12 15 3-15 16z"/><path class="c44" d="M1413 5378l15 7 15-30-15-7z"/><path class="c45" d="M1896 5365l16-1 14 14-15 3z"/><path class="c48" d="M1534 5345l15 19 15 13-15-24zm453 27l15-12 15-3-15 16z"/><path class="c49" d="M1262 5341l15 28 15-5-15-28zm483 37l15-12 15-18-15 8z"/><path class="c52" d="M1866 5348l15 5 15 12-15-4z"/><path class="c55" d="M1443 5355l15 3 15-23-15-5z"/><path class="c56" d="M2017 5357l15-9 15-6-15 9z"/><path class="c59" d="M1232 5324l15 19 15-2-15-21zm604 11l15 7 15 6-15-8z"/><path class="c60" d="M1504 5328l15 13 15 4-16-17zm271 20l16-4 15-12-16-1z"/><path class="c62" d="M1051 5318l15 14 15-13-15-8zm30 1l15 12 15-11-15-3zm30 1l16 8 15-6-16 0zm31 2l15 4 15-4-15 1zm331 13l16 4 15-11-16-8zm574 7l16 0 15-8-16-1zm31-8l15 17 15-11-15-14z"/><path class="c63" d="M1021 5316l15 14 15-12-15-9zm151 6l15 5 15-6-15-1zm30-1l15 8 15-5-15-8zm604 11l15 6 15-3-15-9z"/><path class="c7" d="M1640 5455l15-4 15 4-15 6z"/><path class="c13" d="M1609 5432l16 8 15 15-16-9zm61 23l15-15 15-8-15 14z"/><path class="c21" d="M1338 5419l15 28 15-23-15-26z"/><path class="c23" d="M1368 5424l15 17 15-31-15-15z"/><path class="c26" d="M1579 5398l15 15 15 19-15-18z"/><path class="c27" d="M1308 5397l15 34 15-12-16-32zm392 35l15-18 15-15-15 16z"/><path class="c33" d="M1398 5410l15 8 15-33-15-7z"/><path class="c38" d="M1277 5369l16 32 15-4-16-33z"/><path class="c42" d="M1549 5364l15 17 15 17-15-21z"/><path class="c43" d="M1730 5399l15-16 15-17-15 12z"/><path class="c45" d="M1428 5385l15 2 15-29-15-3z"/><path class="c49" d="M1942 5371l15-7 15 5-15 12z"/><path class="c50" d="M1912 5364l15-2 15 9-16 7z"/><path class="c51" d="M1247 5343l15 26 15 0-15-28z"/><path class="c52" d="M1972 5369l15-9 15 0-15 12z"/><path class="c54" d="M1881 5353l16 3 15 8-16 1z"/><path class="c56" d="M1519 5341l15 14 15 9-15-19zm241 25l16-9 15-13-16 4zm333-15l15 24 15-13-15-22z"/><path class="c57" d="M1458 5358l16 1 15-20-16-4zm544 2l15-8 15-4-15 9z"/><path class="c59" d="M1851 5342l15 6 15 5-15-5z"/><path class="c60" d="M1036 5330l15 19 15-17-15-14zm30 2l16 18 14-19-15-12z"/><path class="c61" d="M1006 5325l15 18 15-13-15-14zm90 6l16 14 15-17-16-8zm121-2l15 15 15-1-15-19zm815 19l16 0 15-6-16 0zm31-6l15 17 15-8-15-17z"/><path class="c62" d="M1489 5339l15 3 15-1-15-13z"/><path class="c63" d="M1127 5328l15 9 15-11-15-4zm664 16l15 1 15-7-15-6zm30-6l15 7 15-3-15-7z"/><path class="c64" d="M1157 5326l15 7 15-6-15-5zm30 1l15 7 15-5-15-8z"/><path class="c13" d="M1353 5447l15 20 15-26-15-17z"/><path class="c15" d="M1625 5440l15-1 15 12-15 4zm30 11l15-12 15 1-15 15z"/><path class="c16" d="M1323 5431l15 30 15-14-15-28z"/><path class="c21" d="M1383 5441l15 8 15-31-15-8z"/><path class="c24" d="M1594 5413l16 9 15 18-16-8zm91 27l15-18 15-8-15 18z"/><path class="c26" d="M1293 5401l15 32 15-2-15-34z"/><path class="c34" d="M1413 5418l15-1 15-30-15-2z"/><path class="c38" d="M1564 5381l15 14 15 18-15-15zm151 33l15-18 15-13-15 16z"/><path class="c41" d="M1262 5369l16 29 15 3-16-32z"/><path class="c47" d="M2108 5375l15 30 16-16-16-27z"/><path class="c49" d="M1443 5387l16-4 15-24-16-1z"/><path class="c52" d="M1534 5355l15 13 15 13-15-17zm211 28l16-13 15-13-16 9z"/><path class="c54" d="M1051 5349l16 22 15-21-16-18zm181-5l15 22 15 3-15-26zm846 15l15 26 15-10-15-24z"/><path class="c55" d="M1927 5362l15-2 15 4-15 7z"/><path class="c56" d="M1021 5343l15 23 15-17-15-19zm61 7l15 18 15-23-16-14zm875 14l15-4 15 0-15 9z"/><path class="c57" d="M1897 5356l15 2 15 4-15 2z"/><path class="c59" d="M991 5334l15 21 15-12-15-18zm121 11l15 12 15-20-15-9zm362 14l15-1 15-16-15-3zm513 1l15-4 15-4-15 8z"/><path class="c60" d="M1866 5348l16 6 15 2-16-3z"/><path class="c61" d="M1504 5342l15 9 15 4-15-14zm272 15l15-3 15-9-15-1zm272-9l15 18 15-7-15-17z"/><path class="c62" d="M1202 5334l15 11 15-1-15-15zm815 18l16 2 15-6-16 0z"/><path class="c63" d="M1142 5337l15 9 15-13-15-7zm694 8l15 7 15-4-15-6z"/><path class="c64" d="M1172 5333l15 8 15-7-15-7zm634 12l15 7 15-7-15-7z"/><path class="c7" d="M1338 5461l15 22 15-16-15-20z"/><path class="c10" d="M1368 5467l15 8 15-26-15-8z"/><path class="c15" d="M1308 5433l15 29 15-1-15-30z"/><path class="c21" d="M1640 5439l15-9 15 9-15 12z"/><path class="c23" d="M1398 5449l15-3 15-29-15 1z"/><path class="c25" d="M1610 5422l15 0 15 17-15 1z"/><path class="c26" d="M1670 5439l15-17 15 0-15 18z"/><path class="c30" d="M1278 5398l15 30 15 5-15-32z"/><path class="c36" d="M1579 5395l16 8 15 19-16-9zm121 27l15-19 15-7-15 18zm423-17l16 32 15-20-15-28z"/><path class="c39" d="M1428 5417l16-7 15-27-16 4z"/><path class="c44" d="M2093 5385l15 31 15-11-15-30z"/><path class="c46" d="M1247 5366l16 25 15 7-16-29z"/><path class="c48" d="M1036 5366l16 28 15-23-16-22zm31 5l15 23 15-26-15-18zm482-3l15 11 15 16-15-14z"/><path class="c49" d="M1730 5396l16-15 15-11-16 13z"/><path class="c52" d="M1006 5355l16 27 14-16-15-23zm91 13l15 16 15-27-15-12z"/><path class="c53" d="M1459 5383l15-5 15-20-15 1z"/><path class="c54" d="M2063 5366l15 25 15-6-15-26z"/><path class="c58" d="M976 5342l15 23 15-10-15-21zm151 15l15 11 15-22-15-9zm90-12l15 17 15 4-15-22z"/><path class="c59" d="M1519 5351l15 10 15 7-15-13zm242 19l15-7 15-9-15 3z"/><path class="c60" d="M1912 5358l15 3 15-1-15 2zm30 2l15 1 15-1-15 4z"/><path class="c61" d="M1972 5360l15 1 15-5-15 4zm61-6l15 16 15-4-15-18z"/><path class="c62" d="M1157 5346l15 7 15-12-15-8zm332 12l15 0 15-7-15-9zm393-4l15 9 15-5-15-2z"/><path class="c63" d="M1187 5341l15 7 15-3-15-11zm664 11l16 11 15-9-16-6zm151 4l16 4 15-6-16-2z"/><path class="c64" d="M1791 5354l15 5 15-7-15-7zm30-2l15 9 15-9-15-7z"/><path class="c4" d="M1353 5483l15 8 15-16-15-8z"/><path class="c6" d="M1323 5462l15 21 15 0-15-22z"/><path class="c13" d="M1383 5475l15-6 15-23-15 3z"/><path class="c19" d="M1293 5428l15 26 15 8-15-29z"/><path class="c26" d="M2139 5437l15 30 15-23-15-27z"/><path class="c29" d="M1413 5446l16-11 15-25-16 7z"/><path class="c31" d="M1625 5422l15-5 15 13-15 9zm30 8l15-13 15 5-15 17z"/><path class="c33" d="M2108 5416l16 34 15-13-16-32z"/><path class="c36" d="M1263 5391l15 25 15 12-15-30z"/><path class="c37" d="M1595 5403l15 2 15 17-15 0zm90 19l15-17 15-2-15 19z"/><path class="c40" d="M1052 5394l15 27 15-27-15-23z"/><path class="c43" d="M1022 5382l15 31 15-19-16-28zm60 12l15 20 15-30-15-16z"/><path class="c44" d="M2078 5391l15 30 15-5-15-31z"/><path class="c45" d="M1444 5410l15-10 15-22-15 5z"/><path class="c47" d="M1564 5379l16 8 15 16-16-8z"/><path class="c48" d="M1715 5403l16-15 15-7-16 15z"/><path class="c49" d="M991 5365l16 29 15-12-16-27z"/><path class="c50" d="M1112 5384l15 12 15-28-15-11z"/><path class="c52" d="M1232 5362l16 20 15 9-16-25z"/><path class="c55" d="M2048 5370l15 23 15-2-15-25z"/><path class="c57" d="M961 5348l15 23 15-6-15-23zm181 20l15 7 15-22-15-7zm392-7l15 9 15 9-15-11zm212 20l15-9 15-9-15 7z"/><path class="c58" d="M1474 5378l15-5 15-15-15 0z"/><path class="c61" d="M1202 5348l16 12 14 2-15-17zm665 15l15 16 15-16-15-9z"/><path class="c62" d="M1504 5358l15 4 15-1-15-10zm332 3l16 17 15-15-16-11zm61 2l15 12 15-14-15-3zm30-2l15 9 15-9-15-1zm91-1l15 12 15-2-15-16z"/><path class="c63" d="M1172 5353l15 6 15-11-15-7zm604 10l15 4 15-8-15-5zm30-4l15 14 15-12-15-9zm151 2l15 6 15-6-15-1z"/><path class="c64" d="M1987 5361l16 6 15-7-16-4z"/><path class="c3" d="M1338 5483l15 8 15 0-15-8z"/><path class="c7" d="M1368 5491l16-8 14-14-15 6z"/><path class="c12" d="M1308 5454l15 18 15 11-15-21z"/><path class="c17" d="M2154 5467l15 24 15-26-15-21z"/><path class="c20" d="M1398 5469l16-13 15-21-16 11z"/><path class="c21" d="M2124 5450l15 31 15-14-15-30z"/><path class="c27" d="M1278 5416l15 23 15 15-15-26z"/><path class="c32" d="M1037 5413l15 31 15-23-15-27zm1056 8l16 33 15-4-16-34z"/><path class="c33" d="M1067 5421l15 23 15-30-15-20z"/><path class="c37" d="M1429 5435l15-14 15-21-15 10z"/><path class="c38" d="M1007 5394l15 33 15-14-15-31zm633 23l15-9 15 9-15 13z"/><path class="c39" d="M1097 5414l15 14 15-32-15-12z"/><path class="c41" d="M1610 5405l15-2 15 14-15 5zm60 12l15-14 15 2-15 17z"/><path class="c44" d="M1248 5382l15 21 15 13-15-25z"/><path class="c46" d="M2063 5393l15 28 15 0-15-30z"/><path class="c48" d="M976 5371l16 30 15-7-16-29zm604 16l15 4 15 14-15-2zm120 18l16-13 15-4-16 15z"/><path class="c49" d="M1127 5396l15 7 15-28-15-7z"/><path class="c52" d="M1459 5400l15-10 15-17-15 5z"/><path class="c56" d="M1549 5370l16 8 15 9-16-8z"/><path class="c57" d="M1218 5360l15 15 15 7-16-20zm513 28l15-9 15-7-15 9zm302-16l15 20 15 1-15-23z"/><path class="c58" d="M946 5353l15 22 15-4-15-23zm211 22l15 3 15-19-15-6zm695 3l15 20 15-19-15-16zm30 1l15 17 15-21-15-12z"/><path class="c59" d="M1821 5373l16 20 15-15-16-17z"/><path class="c61" d="M1912 5375l15 13 15-18-15-9z"/><path class="c62" d="M1489 5373l15-2 15-9-15-4zm30-11l15 7 15 1-15-9zm242 10l15 3 15-8-15-4zm30-5l15 17 15-11-15-14z"/><path class="c63" d="M1187 5359l16 5 15-4-16-12zm755 11l15 8 15-11-15-6zm61-3l15 9 15-4-15-12z"/><path class="c64" d="M1972 5367l16 7 15-7-16-6z"/><path class="c6" d="M1353 5491l16-6 15-2-16 8z"/><path class="c9" d="M1323 5472l15 7 15 12-15-8z"/><path class="c11" d="M2139 5481l15 27 15-17-15-24z"/><path class="c12" d="M2169 5491l15 13 16-27-16-12z"/><path class="c15" d="M1384 5483l15-15 15-12-16 13z"/><path class="c20" d="M2109 5454l15 31 15-4-15-31z"/><path class="c21" d="M1293 5439l15 16 15 17-15-18z"/><path class="c23" d="M1052 5444l15 26 15-26-15-23z"/><path class="c27" d="M1022 5427l15 33 15-16-15-31zm60 17l15 16 15-32-15-14z"/><path class="c30" d="M1414 5456l15-18 15-17-15 14z"/><path class="c34" d="M2078 5421l16 30 15 3-16-33z"/><path class="c37" d="M992 5401l15 33 15-7-15-33zm271 2l15 19 15 17-15-23z"/><path class="c38" d="M1112 5428l15 6 15-31-15-7z"/><path class="c46" d="M1444 5421l15-14 15-17-15 10z"/><path class="c47" d="M1625 5403l15-4 15 9-15 9zm30 5l15-9 15 4-15 14z"/><path class="c49" d="M961 5375l16 27 15-1-16-30zm1087 17l15 24 15 5-15-28z"/><path class="c50" d="M1142 5403l15 1 15-26-15-3z"/><path class="c51" d="M1595 5391l15 1 15 11-15 2zm90 12l16-10 15-1-16 13z"/><path class="c52" d="M1233 5375l15 16 15 12-15-21zm634 23l15 22 15-24-15-17z"/><path class="c53" d="M1837 5393l15 25 15-20-15-20z"/><path class="c55" d="M1897 5396l15 16 15-24-15-13z"/><path class="c56" d="M1806 5384l16 24 15-15-16-20z"/><path class="c57" d="M1565 5378l15 5 15 8-15-4zm151 14l15-7 15-6-15 9z"/><path class="c58" d="M1474 5390l15-6 15-13-15 2z"/><path class="c59" d="M931 5357l16 19 14-1-15-22zm996 31l15 11 15-21-15-8z"/><path class="c60" d="M1172 5378l16 2 15-16-16-5zm604-3l15 18 15-9-15-17zm242 1l15 14 15 2-15-20z"/><path class="c61" d="M1203 5364l15 8 15 3-15-15z"/><path class="c62" d="M1534 5369l16 7 15 2-16-8zm212 10l15 3 15-7-15-3z"/><path class="c63" d="M1957 5378l16 8 15-12-16-7z"/><path class="c64" d="M1504 5371l15 4 15-6-15-7zm484 3l15 7 15-5-15-9z"/><path class="c5" d="M2154 5508l15 15 15-19-15-13z"/><path class="c10" d="M2124 5485l15 25 15-2-15-27z"/><path class="c12" d="M1338 5479l16-3 15 9-16 6zm846 25l16 0 15-25-15-2z"/><path class="c15" d="M1369 5485l15-14 15-3-15 15z"/><path class="c16" d="M1037 5460l15 29 15-19-15-26z"/><path class="c17" d="M1067 5470l15 19 15-29-15-16z"/><path class="c19" d="M1308 5455l15 7 15 17-15-7z"/><path class="c23" d="M2094 5451l15 28 15 6-15-31z"/><path class="c25" d="M1007 5434l15 33 15-7-15-33z"/><path class="c26" d="M1097 5460l15 6 15-32-15-6zm302 8l15-19 15-11-15 18z"/><path class="c32" d="M1278 5422l15 14 15 19-15-16z"/><path class="c38" d="M977 5402l15 31 15 1-15-33z"/><path class="c40" d="M1127 5434l16 0 14-30-15-1zm936-18l16 26 15 9-16-30z"/><path class="c41" d="M1429 5438l15-17 15-14-15 14z"/><path class="c45" d="M1852 5418l15 27 15-25-15-22z"/><path class="c46" d="M1882 5420l15 21 15-29-15-16z"/><path class="c47" d="M1248 5391l15 15 15 16-15-19z"/><path class="c48" d="M1822 5408l15 29 15-19-15-25z"/><path class="c52" d="M947 5376l15 24 15 2-16-27zm965 36l15 14 15-27-15-11z"/><path class="c53" d="M1157 5404l16-2 15-22-16-2zm483-5l15-4 15 4-15 9z"/><path class="c54" d="M1791 5393l16 27 15-12-16-24zm242-3l15 20 15 6-15-24z"/><path class="c55" d="M1459 5407l15-11 15-12-15 6zm151-15l15 1 15 6-15 4zm60 7l16-6 15 0-16 10z"/><path class="c58" d="M1580 5383l15 5 15 4-15-1zm362 16l16 8 15-21-16-8z"/><path class="c59" d="M1218 5372l15 12 15 7-15-16zm483 21l15-4 15-4-15 7z"/><path class="c60" d="M1761 5382l15 19 15-8-15-18z"/><path class="c61" d="M916 5362l16 14 15 0-16-19zm272 18l15 1 15-9-15-8z"/><path class="c62" d="M1489 5384l15-1 15-8-15-4zm61-8l15 7 15 0-15-5zm181 9l15 3 15-6-15-3zm272-4l15 10 15-1-15-14z"/><path class="c63" d="M1973 5386l15 6 15-11-15-7z"/><path class="c64" d="M1519 5375l16 8 15-7-16-7z"/><path class="c3" d="M2139 5510l15 15 15-2-15-15z"/><path class="c5" d="M2169 5523l16-2 15-17-16 0z"/><path class="c8" d="M1052 5489l15 21 15-21-15-19z"/><path class="c13" d="M1022 5467l15 29 15-7-15-29z"/><path class="c14" d="M2109 5479l15 23 15 8-15-25z"/><path class="c15" d="M1082 5489l15 6 15-29-15-6z"/><path class="c17" d="M2200 5504l15-10 15-23-15 8z"/><path class="c19" d="M1354 5476l15-11 15 6-15 14z"/><path class="c21" d="M1323 5462l16-1 15 15-16 3z"/><path class="c26" d="M1384 5471l15-18 15-4-15 19z"/><path class="c27" d="M992 5433l15 31 15 3-15-33z"/><path class="c28" d="M1112 5466l16-3 15-29-16 0z"/><path class="c30" d="M1293 5436l15 7 15 19-15-7zm786 6l15 25 15 12-15-28z"/><path class="c37" d="M1867 5445l15 25 15-29-15-21z"/><path class="c38" d="M1414 5449l15-18 15-10-15 17zm423-12l15 31 15-23-15-27z"/><path class="c42" d="M962 5400l15 27 15 6-15-31zm935 41l15 16 15-31-15-14z"/><path class="c44" d="M1143 5434l15-6 15-26-16 2zm120-28l15 12 15 18-15-14zm544 14l15 31 15-14-15-29z"/><path class="c47" d="M2048 5410l16 21 15 11-16-26z"/><path class="c50" d="M1927 5426l16 9 15-28-16-8z"/><path class="c51" d="M1444 5421l15-13 15-12-15 11z"/><path class="c53" d="M1776 5401l16 26 15-7-16-27z"/><path class="c56" d="M932 5376l15 19 15 5-15-24zm301 8l15 12 15 10-15-15z"/><path class="c57" d="M1173 5402l15-3 15-18-15-1z"/><path class="c59" d="M1625 5393l15 1 15 1-15 4zm30 2l16-1 15-1-16 6zm303 12l15 5 15-20-15-6zm60-16l15 14 15 5-15-20z"/><path class="c60" d="M1595 5388l15 4 15 1-15-1zm151 0l15 17 15-4-15-19z"/><path class="c61" d="M1474 5396l15-4 15-9-15 1zm212-3l15 0 15-4-15 4z"/><path class="c62" d="M1203 5381l15 3 15 0-15-12zm362 2l15 10 15-5-15-5z"/><path class="c63" d="M901 5367l16 10 15-1-16-14zm815 22l15 4 15-5-15-3zm272 3l15 5 15-6-15-10z"/><path class="c64" d="M1504 5383l16 7 15-7-16-8zm31 0l15 9 15-9-15-7z"/><path class="c4" d="M2154 5525l16-1 15-3-16 2z"/><path class="c5" d="M1037 5496l15 21 15-7-15-21z"/><path class="c6" d="M1067 5510l15 5 15-20-15-6z"/><path class="c8" d="M2124 5502l15 12 15 11-15-15z"/><path class="c11" d="M2185 5521l15-12 15-15-15 10z"/><path class="c16" d="M1007 5464l15 27 15 5-15-29z"/><path class="c18" d="M1097 5495l16-6 15-26-16 3z"/><path class="c22" d="M2094 5467l15 19 15 16-15-23z"/><path class="c26" d="M2215 5494l15-16 15-20-15 13z"/><path class="c27" d="M1339 5461l15-7 15 11-15 11z"/><path class="c28" d="M1852 5468l15 28 15-26-15-25z"/><path class="c29" d="M1369 5465l15-15 15 3-15 18z"/><path class="c31" d="M1882 5470l15 19 15-32-15-16z"/><path class="c32" d="M977 5427l15 27 15 10-15-31zm331 16l16 1 15 17-16 1z"/><path class="c33" d="M1822 5451l15 33 15-16-15-31z"/><path class="c34" d="M1128 5463l15-9 15-26-15 6z"/><path class="c38" d="M1399 5453l15-18 15-4-15 18z"/><path class="c39" d="M1912 5457l16 10 15-32-16-9zm152-26l15 20 15 16-15-25z"/><path class="c42" d="M1278 5418l15 8 15 17-15-7zm514 9l15 32 15-8-15-31z"/><path class="c48" d="M947 5395l15 23 15 9-15-27z"/><path class="c49" d="M1429 5431l15-15 15-8-15 13z"/><path class="c50" d="M1158 5428l15-8 15-21-15 3zm785 7l15 4 15-27-15-5z"/><path class="c53" d="M1248 5396l15 10 15 12-15-12zm513 9l16 25 15-3-16-26z"/><path class="c54" d="M2033 5405l16 16 15 10-16-21z"/><path class="c59" d="M917 5377l15 15 15 3-15-19zm542 31l16-7 14-9-15 4z"/><path class="c60" d="M1188 5399l15-2 15-13-15-3zm785 13l15 3 15-18-15-5z"/><path class="c61" d="M1218 5384l15 8 15 4-15-12zm513 9l15 15 15-3-15-17z"/><path class="c62" d="M1550 5392l15 14 15-13-15-10zm30 1l15 13 15-14-15-4zm30-1l15 11 15-9-15-1zm30 2l16 5 15-5-16 1zm363 3l15 7 15 1-15-14z"/><path class="c63" d="M887 5376l15 7 15-6-16-10zm602 16l16 6 15-8-16-7zm31-2l15 13 15-11-15-9zm151 4l15 5 15-6-15 0zm30-1l15 6 15-6-15-4z"/><path class="c2" d="M1052 5517l16 6 14-8-15-5z"/><path class="c8" d="M1022 5491l15 18 15 8-15-21z"/><path class="c9" d="M2139 5514l16 1 15 9-16 1z"/><path class="c10" d="M1082 5515l16-7 15-19-16 6zm1088 9l15-12 15-3-15 12z"/><path class="c18" d="M2109 5486l15 11 15 17-15-12z"/><path class="c20" d="M1867 5496l15 22 15-29-15-19z"/><path class="c21" d="M1837 5484l15 31 15-19-15-28zm363 25l15-18 15-13-15 16z"/><path class="c23" d="M992 5454l15 24 15 13-15-27z"/><path class="c25" d="M1113 5489l15-13 15-22-15 9z"/><path class="c28" d="M1897 5489l16 11 15-33-16-10z"/><path class="c30" d="M1807 5459l15 33 15-8-15-33z"/><path class="c33" d="M2079 5451l15 17 15 18-15-19z"/><path class="c36" d="M1354 5454l15-11 15 7-15 15z"/><path class="c37" d="M1324 5444l15-4 15 14-15 7zm906 34l16-18 15-16-16 14z"/><path class="c40" d="M962 5418l15 23 15 13-15-27zm966 49l15 2 15-30-15-4z"/><path class="c41" d="M1384 5450l15-15 15 0-15 18z"/><path class="c42" d="M1143 5454l15-13 15-21-15 8z"/><path class="c43" d="M1777 5430l15 30 15-1-15-32z"/><path class="c44" d="M1293 5426l16 3 15 15-16-1z"/><path class="c48" d="M2049 5421l15 16 15 14-15-20z"/><path class="c49" d="M1414 5435l15-13 15-6-15 15z"/><path class="c53" d="M1263 5406l16 7 14 13-15-8zm695 33l15-1 15-23-15-3z"/><path class="c54" d="M932 5392l15 17 15 9-15-23z"/><path class="c55" d="M1746 5408l16 22 15 0-16-25z"/><path class="c56" d="M1173 5420l15-7 15-16-15 2z"/><path class="c58" d="M1444 5416l16-7 15-8-16 7z"/><path class="c59" d="M1565 5406l15 19 15-19-15-13z"/><path class="c60" d="M1233 5392l15 9 15 5-15-10zm302 11l15 19 15-16-15-14zm60 3l15 16 15-19-15-11zm423-2l16 12 15 5-16-16z"/><path class="c61" d="M872 5394l15 4 15-15-15-7zm1116 21l15 1 15-12-15-7z"/><path class="c62" d="M902 5383l15 8 15 1-15-15zm573 18l15 5 15-8-16-6zm30-3l15 16 15-11-15-13zm120 5l16 11 15-15-16-5zm91-4l15 11 15-2-15-15z"/><path class="c63" d="M1203 5397l15 1 15-6-15-8zm453 2l15 8 15-8-15-5z"/><path class="c64" d="M1686 5399l15 7 15-7-15-6z"/><path class="c6" d="M1037 5509l16 7 15 7-16-6zm31 14l15-8 15-7-16 7z"/><path class="c12" d="M1852 5515l15 25 15-22-15-22z"/><path class="c14" d="M2155 5515l15-8 15 5-15 12z"/><path class="c16" d="M1007 5478l15 16 15 15-15-18zm875 40l16 12 15-30-16-11z"/><path class="c18" d="M1098 5508l15-16 15-16-15 13zm724-16l15 31 15-8-15-31zm302 5l16 3 15 15-16-1z"/><path class="c20" d="M2185 5512l15-17 15-4-15 18z"/><path class="c28" d="M1913 5500l15 1 15-32-15-2z"/><path class="c29" d="M2094 5468l15 10 15 19-15-11z"/><path class="c32" d="M977 5441l15 20 15 17-15-24zm815 19l15 32 15 0-15-33z"/><path class="c33" d="M2215 5491l15-19 16-12-16 18z"/><path class="c34" d="M1128 5476l15-16 15-19-15 13z"/><path class="c43" d="M1943 5469l15-3 15-28-15 1z"/><path class="c44" d="M1339 5440l15-6 15 9-15 11zm725-3l15 14 15 17-15-17z"/><path class="c45" d="M1369 5443l15-11 15 3-15 15z"/><path class="c46" d="M1762 5430l15 26 15 4-15-30z"/><path class="c47" d="M1309 5429l15-1 15 12-15 4zm937 31l15-15 15-14-15 13z"/><path class="c48" d="M947 5409l15 19 15 13-15-23z"/><path class="c50" d="M1158 5441l15-12 15-16-15 7z"/><path class="c51" d="M1399 5435l15-11 15-2-15 13z"/><path class="c53" d="M1279 5413l15 5 15 11-16-3z"/><path class="c54" d="M857 5419l15 2 15-23-15-4zm693 3l15 24 15-21-15-19z"/><path class="c55" d="M1580 5425l15 20 15-23-15-16z"/><path class="c56" d="M1973 5438l15-2 15-20-15-1zm61-22l15 12 15 9-15-16z"/><path class="c57" d="M1520 5414l15 24 15-16-15-19z"/><path class="c58" d="M1429 5422l16-7 15-6-16 7zm181 0l16 14 15-22-16-11zm121-12l16 18 15 2-16-22z"/><path class="c59" d="M917 5391l15 13 15 5-15-17z"/><path class="c60" d="M1188 5413l15-4 15-11-15-1zm60-12l16 7 15 5-16-7zm242 5l15 19 15-11-15-16z"/><path class="c61" d="M1641 5414l15 10 15-17-15-8z"/><path class="c62" d="M887 5398l15 4 15-11-15-8zm573 11l15 4 15-7-15-5zm543 7l16 2 15-2-16-12z"/><path class="c63" d="M1218 5398l15 6 15-3-15-9zm483 8l15 8 15-4-15-11z"/><path class="c64" d="M1671 5407l15 8 15-9-15-7z"/><path class="c7" d="M1867 5540l16 13 15-23-16-12z"/><path class="c9" d="M1053 5516l15-6 15 5-15 8zm784 7l15 26 15-9-15-25z"/><path class="c14" d="M1022 5494l16 7 15 15-16-7z"/><path class="c15" d="M1083 5515l15-16 15-7-15 16z"/><path class="c17" d="M1898 5530l15-1 15-28-15-1z"/><path class="c20" d="M1807 5492l15 29 15 2-15-31z"/><path class="c23" d="M2140 5500l15-6 15 13-15 8z"/><path class="c24" d="M2170 5507l15-15 15 3-15 17z"/><path class="c27" d="M992 5461l15 14 15 19-15-16z"/><path class="c29" d="M1113 5492l15-18 15-14-15 16zm996-14l16 4 15 18-16-3z"/><path class="c32" d="M1928 5501l15-7 15-28-15 3zm272-6l15-18 15-5-15 19z"/><path class="c36" d="M1777 5456l15 29 15 7-15-32z"/><path class="c41" d="M2079 5451l15 9 15 18-15-10z"/><path class="c42" d="M962 5428l15 16 15 17-15-20z"/><path class="c44" d="M1143 5460l15-15 15-16-15 12z"/><path class="c45" d="M842 5449l15 0 15-28-15-2zm1388 23l16-17 15-10-15 15z"/><path class="c47" d="M1565 5446l16 25 14-26-15-20z"/><path class="c48" d="M1958 5466l15-7 15-23-15 2z"/><path class="c49" d="M1535 5438l15 28 15-20-15-24z"/><path class="c50" d="M1595 5445l16 19 15-28-16-14z"/><path class="c51" d="M1354 5434l15-6 15 4-15 11zm393-6l15 22 15 6-15-26z"/><path class="c52" d="M1324 5428l15-1 15 7-15 6z"/><path class="c53" d="M2049 5428l15 11 15 12-15-14z"/><path class="c54" d="M1384 5432l15-7 15-1-15 11zm121-7l15 26 15-13-15-24z"/><path class="c55" d="M1626 5436l15 12 15-24-15-10z"/><path class="c56" d="M932 5404l15 14 15 10-15-19zm362 14l15 3 15 7-15 1zm967 27l15-11 15-10-15 7z"/><path class="c57" d="M872 5421l15 0 15-19-15-4zm301 8l15-8 15-12-15 4z"/><path class="c59" d="M1414 5424l16-5 15-4-16 7zm61-11l15 20 15-8-15-19zm513 23l16-3 15-15-16-2z"/><path class="c60" d="M1264 5408l15 6 15 4-15-5z"/><path class="c61" d="M1656 5424l15 8 15-17-15-8zm60-10l16 13 15 1-16-18zm303 4l15 7 15 3-15-12z"/><path class="c62" d="M902 5402l15 3 15-1-15-13zm543 13l15 5 15-7-15-4z"/><path class="c63" d="M1203 5409l15 2 15-7-15-6zm30-5l16 8 15-4-16-7z"/><path class="c64" d="M1686 5415l15 6 15-7-15-8z"/><path class="c3" d="M1852 5549l16 13 15-9-16-13z"/><path class="c8" d="M1883 5553l15-3 15-21-15 1z"/><path class="c11" d="M1822 5521l15 23 15 5-15-26z"/><path class="c17" d="M1038 5501l15-3 15 12-15 6z"/><path class="c18" d="M1068 5510l15-13 15 2-15 16z"/><path class="c22" d="M1913 5529l15-10 15-25-15 7z"/><path class="c25" d="M1007 5475l16 7 15 19-16-7z"/><path class="c26" d="M1792 5485l15 25 15 11-15-29z"/><path class="c27" d="M1098 5499l15-18 15-7-15 18z"/><path class="c31" d="M2155 5494l15-10 15 8-15 15z"/><path class="c33" d="M2125 5482l15-3 15 15-15 6z"/><path class="c34" d="M827 5481l15-2 15-30-15 0z"/><path class="c35" d="M2185 5492l15-16 15 1-15 18z"/><path class="c38" d="M977 5444l16 12 14 19-15-14z"/><path class="c39" d="M1943 5494l15-11 15-24-15 7z"/><path class="c40" d="M1550 5466l16 29 15-24-16-25zm31 5l15 22 15-29-16-19z"/><path class="c41" d="M1128 5474l15-18 15-11-15 15zm966-14l16 5 15 17-16-4z"/><path class="c43" d="M1762 5450l15 24 15 11-15-29z"/><path class="c44" d="M1520 5451l15 32 15-17-15-28zm695 26l16-17 15-5-16 17z"/><path class="c46" d="M1611 5464l15 14 15-30-15-12z"/><path class="c49" d="M857 5449l15-4 15-24-15 0z"/><path class="c52" d="M947 5418l15 13 15 13-15-16zm543 15l15 28 15-10-15-26zm574 6l15 8 15 13-15-9z"/><path class="c54" d="M1158 5445l15-12 15-12-15 8zm483 3l15 9 15-25-15-8zm332 11l16-8 15-18-16 3zm273-4l15-12 15-9-15 11z"/><path class="c56" d="M1732 5427l15 17 15 6-15-22z"/><path class="c57" d="M1339 5427l15-1 15 2-15 6z"/><path class="c58" d="M1369 5428l15-2 15-1-15 7z"/><path class="c59" d="M1309 5421l15 3 15 3-15 1zm151-1l15 19 15-6-15-20z"/><path class="c60" d="M887 5421l15-1 15-15-15-3zm512 4l16-1 15-5-16 5zm635 0l15 9 15 5-15-11z"/><path class="c61" d="M917 5405l15 8 15 5-15-14zm362 9l15 7 15 0-15-3zm392 18l15 5 15-16-15-6z"/><path class="c62" d="M1188 5421l15-2 15-8-15-2zm242-2l15 6 15-5-15-5zm574 14l15 0 15-8-15-7zm272 1l15-2 15-8-15 0z"/><path class="c63" d="M1249 5412l15 8 15-6-15-6zm452 9l16 7 15-1-16-13z"/><path class="c64" d="M1218 5411l16 8 15-7-16-8z"/><path class="c4" d="M1868 5562l15-3 15-9-15 3z"/><path class="c5" d="M1837 5544l16 12 15 6-16-13z"/><path class="c14" d="M1898 5550l15-12 15-19-15 10z"/><path class="c18" d="M1807 5510l15 20 15 14-15-23z"/><path class="c23" d="M812 5511l15-5 15-27-15 2z"/><path class="c24" d="M1053 5498l15-10 15 9-15 13z"/><path class="c28" d="M1023 5482l15-1 15 17-15 3z"/><path class="c29" d="M1083 5497l15-16 15 0-15 18z"/><path class="c31" d="M1566 5495l15 27 15-29-15-22zm362 24l15-15 15-21-15 11z"/><path class="c33" d="M1535 5483l16 32 15-20-16-29z"/><path class="c34" d="M1777 5474l15 22 15 14-15-25z"/><path class="c35" d="M1596 5493l15 18 15-33-15-14z"/><path class="c37" d="M993 5456l15 7 15 19-16-7z"/><path class="c39" d="M842 5479l15-9 15-25-15 4zm271 2l15-18 15-7-15 18zm1027-2l15-6 15 11-15 10z"/><path class="c40" d="M2170 5484l15-12 15 4-15 16z"/><path class="c41" d="M1505 5461l15 32 15-10-15-32z"/><path class="c44" d="M1626 5478l15 9 15-30-15-9zm484-13l15 0 15 14-15 3z"/><path class="c46" d="M2200 5476l16-14 15-2-16 17z"/><path class="c47" d="M1958 5483l16-13 15-19-16 8z"/><path class="c49" d="M962 5431l16 10 15 15-16-12z"/><path class="c50" d="M1747 5444l15 18 15 12-15-24z"/><path class="c51" d="M1143 5456l15-13 15-10-15 12z"/><path class="c52" d="M1475 5439l15 27 15-5-15-28zm604 8l16 6 15 12-16-5z"/><path class="c53" d="M872 5445l15-6 15-19-15 1z"/><path class="c54" d="M2231 5460l15-11 15-6-15 12z"/><path class="c55" d="M1656 5457l15 4 15-24-15-5z"/><path class="c59" d="M932 5413l15 10 15 8-15-13zm1057 38l15-5 15-13-15 0zm60-17l15 7 15 6-15-8z"/><path class="c60" d="M1173 5433l15-5 15-9-15 2zm272-8l15 17 15-3-15-19z"/><path class="c61" d="M1324 5424l15 6 15-4-15 1zm30 2l15 3 15-3-15 2zm363 2l15 12 15 4-15-17zm544 15l15-3 15-8-15 2z"/><path class="c62" d="M902 5420l15 0 15-7-15-8zm392 1l15 12 15-9-15-3zm90 5l16 3 15-5-16 1zm302 11l16 4 15-13-16-7zm605-5l16 14 15-10-16-12z"/><path class="c63" d="M1234 5419l15 12 15-11-15-8zm30 1l15 13 15-12-15-7zm151 4l15 6 15-5-15-6zm604 9l15 4 15-3-15-9z"/><path class="c64" d="M1203 5419l16 8 15-8-16-8z"/><path class="c6" d="M1853 5556l15-1 15 4-15 3z"/><path class="c11" d="M1883 5559l15-13 15-8-15 12z"/><path class="c13" d="M797 5536l15-8 15-22-15 5zm1025-6l16 11 15 15-16-12z"/><path class="c23" d="M1551 5515l15 29 15-22-15-27z"/><path class="c24" d="M1581 5522l15 19 15-30-15-18zm332 16l15-18 15-16-15 15z"/><path class="c27" d="M1792 5496l15 17 15 17-15-20z"/><path class="c29" d="M827 5506l15-12 15-24-15 9zm693-13l16 34 15-12-16-32z"/><path class="c33" d="M1038 5481l15-6 15 13-15 10zm573 30l15 9 15-33-15-9z"/><path class="c34" d="M1068 5488l15-13 15 6-15 16z"/><path class="c39" d="M1008 5463l15 2 15 16-15 1z"/><path class="c40" d="M1098 5481l15-16 15-2-15 18zm845 23l16-16 15-18-16 13z"/><path class="c41" d="M1490 5466l15 31 15-4-15-32z"/><path class="c44" d="M1762 5462l15 18 15 16-15-22z"/><path class="c45" d="M1641 5487l15 3 15-29-15-4z"/><path class="c46" d="M857 5470l15-10 15-21-15 6z"/><path class="c47" d="M2155 5473l15-7 15 6-15 12z"/><path class="c48" d="M978 5441l15 7 15 15-15-7zm1147 24l15-2 15 10-15 6z"/><path class="c50" d="M1128 5463l15-14 15-6-15 13zm1057 9l16-10 15 0-16 14z"/><path class="c53" d="M1460 5442l15 24 15 0-15-27zm635 11l15 3 15 9-15 0z"/><path class="c55" d="M1974 5470l15-10 15-14-15 5zm242-8l15-8 15-5-15 11z"/><path class="c56" d="M1671 5461l16 1 15-21-16-4z"/><path class="c57" d="M1732 5440l15 14 15 8-15-18zm575 6l15 23 15-13-15-20z"/><path class="c58" d="M887 5439l15-5 15-14-15 0zm60-16l16 9 15 9-16-10z"/><path class="c59" d="M1158 5443l16-7 14-8-15 5zm906-2l16 7 15 5-16-6z"/><path class="c60" d="M1279 5433l15 17 15-17-15-12z"/><path class="c61" d="M1249 5431l15 18 15-16-15-13zm60 2l15 13 15-16-15-6zm121-3l15 14 15-2-15-17zm816 19l15-3 15-6-15 3z"/><path class="c62" d="M1219 5427l15 16 15-12-15-12zm483 14l15 3 15-4-15-12zm302 5l15-1 15-8-15-4zm272-6l15 15 16-9-16-14z"/><path class="c63" d="M917 5420l15 4 15-1-15-10zm271 8l16 7 15-8-16-8zm151 2l15 10 15-11-15-3zm30-1l16 7 15-7-16-3zm665 8l15 7 15-3-15-7z"/><path class="c64" d="M1400 5429l15 7 15-6-15-6z"/><path class="c8" d="M782 5549l15-9 15-12-15 8z"/><path class="c13" d="M1868 5555l15-11 15 2-15 13z"/><path class="c14" d="M1838 5541l15 1 15 13-15 1z"/><path class="c15" d="M1566 5544l15 23 15-26-15-19z"/><path class="c18" d="M1536 5527l15 31 15-14-15-29z"/><path class="c21" d="M1596 5541l15 10 15-31-15-9z"/><path class="c22" d="M812 5528l15-15 15-19-15 12zm1086 18l15-18 15-8-15 18z"/><path class="c24" d="M1807 5513l16 10 15 18-16-11z"/><path class="c29" d="M1505 5497l16 33 15-3-16-34z"/><path class="c34" d="M1626 5520l15 1 15-31-15-3z"/><path class="c36" d="M1928 5520l16-19 15-13-16 16z"/><path class="c38" d="M842 5494l15-14 15-20-15 10z"/><path class="c39" d="M1777 5480l15 15 15 18-15-17z"/><path class="c41" d="M1053 5475l15-8 15 8-15 13z"/><path class="c43" d="M1023 5465l15-2 15 12-15 6zm452 1l15 29 15 2-15-31z"/><path class="c44" d="M1083 5475l15-12 15 2-15 16z"/><path class="c48" d="M1656 5490l16-3 15-25-16-1z"/><path class="c49" d="M2322 5469l15 29 15-16-15-26z"/><path class="c50" d="M993 5448l15 4 15 13-15-2zm966 40l15-14 15-14-15 10z"/><path class="c51" d="M1113 5465l15-12 15-4-15 14z"/><path class="c53" d="M872 5460l15-10 15-16-15 5zm875-6l15 14 15 12-15-18z"/><path class="c54" d="M2140 5463l15-2 15 5-15 7zm30 3l16-5 15 1-16 10z"/><path class="c56" d="M1264 5449l15 22 15-21-15-17zm181-5l15 20 15 2-15-24zm665 12l15 2 15 5-15 2zm181-1l16 24 15-10-15-23z"/><path class="c57" d="M963 5432l15 8 15 8-15-7zm271 11l15 23 15-17-15-18zm60 7l15 18 15-22-15-13zm907 12l15-5 15-3-15 8z"/><path class="c58" d="M1143 5449l16-6 15-7-16 7z"/><path class="c59" d="M1687 5462l15-1 15-17-15-3z"/><path class="c60" d="M1204 5435l15 19 15-11-15-16zm120 11l15 13 15-19-15-10zm665 14l15-4 15-11-15 1zm91-12l15 5 15 3-15-3z"/><path class="c61" d="M1717 5444l15 7 15 3-15-14zm514 10l15-1 15-7-15 3zm30-8l15 15 15-6-15-15z"/><path class="c62" d="M902 5434l16-1 14-9-15-4zm30-10l16 8 15 0-16-9zm242 12l15 7 15-8-16-7z"/><path class="c63" d="M1354 5440l16 9 15-13-16-7zm61-4l15 10 15-2-15-14zm634 8l16 7 15-3-16-7z"/><path class="c64" d="M1385 5436l15 7 15-7-15-7zm634 9l15 6 15-7-15-7z"/><path class="c8" d="M767 5548l15-8 15 0-15 9z"/><path class="c9" d="M1551 5558l15 24 15-15-15-23z"/><path class="c10" d="M1581 5567l15 11 15-27-15-10z"/><path class="c17" d="M797 5540l15-16 15-11-15 15z"/><path class="c18" d="M1521 5530l15 30 15-2-15-31z"/><path class="c19" d="M1853 5542l15-7 15 9-15 11z"/><path class="c22" d="M1611 5551l15 0 15-30-15-1z"/><path class="c23" d="M1883 5544l15-16 15 0-15 18z"/><path class="c25" d="M1823 5523l15 2 15 17-15-1z"/><path class="c32" d="M827 5513l15-18 15-15-15 14zm663-18l16 30 15 5-16-33z"/><path class="c34" d="M1913 5528l16-19 15-8-16 19z"/><path class="c36" d="M1792 5495l16 9 15 19-16-10z"/><path class="c38" d="M1641 5521l16-6 15-28-16 3z"/><path class="c39" d="M2337 5498l15 31 15-19-15-28z"/><path class="c47" d="M1944 5501l15-16 15-11-15 14zm363-22l15 30 15-11-15-29z"/><path class="c48" d="M857 5480l15-14 15-16-15 10zm603-16l15 25 15 6-15-29z"/><path class="c49" d="M1038 5463l15-4 15 8-15 8zm724 5l15 12 15 15-15-15z"/><path class="c50" d="M1068 5467l15-7 15 3-15 12zm181-1l15 26 15-21-15-22zm30 5l15 23 15-26-15-18z"/><path class="c52" d="M1008 5452l15 2 15 9-15 2zm664 35l15-5 15-21-15 1z"/><path class="c53" d="M1098 5463l15-8 15-2-15 12zm211 5l16 17 14-26-15-13z"/><path class="c54" d="M1219 5454l15 27 15-15-15-23z"/><path class="c56" d="M2276 5461l16 24 15-6-16-24z"/><path class="c58" d="M978 5440l15 5 15 7-15-4zm361 19l16 11 15-21-16-9zm635 15l15-8 15-10-15 4z"/><path class="c59" d="M887 5450l16-5 15-12-16 1zm241 3l16-5 15-5-16 6zm61-10l15 21 15-10-15-19zm241 3l15 16 15 2-15-20zm302 5l15 10 15 7-15-14zm423 10l16 0 15 0-16 5z"/><path class="c60" d="M2125 5458l15 3 15 0-15 2zm61 3l15-1 15-3-15 5z"/><path class="c61" d="M1702 5461l15 0 15-10-15-7zm393-8l15 8 15-3-15-2z"/><path class="c62" d="M948 5432l15 8 15 0-15-8zm211 11l15 7 15-7-15-7zm211 6l15 7 15-13-15-7zm846 8l15 2 15-6-15 1zm30-4l15 13 15-5-15-15z"/><path class="c63" d="M2004 5456l15 2 15-7-15-6zm61-5l15 10 15-8-15-5z"/><path class="c64" d="M918 5433l15 5 15-6-16-8zm482 10l15 8 15-5-15-10zm634 8l16 9 15-9-16-7z"/><path class="c4" d="M1566 5582l15 12 15-16-15-11z"/><path class="c8" d="M1536 5560l15 23 15-1-15-24z"/><path class="c12" d="M1596 5578l15-3 15-24-15 0z"/><path class="c14" d="M752 5536l15-5 15 9-15 8z"/><path class="c17" d="M782 5540l15-14 15-2-15 16z"/><path class="c22" d="M1506 5525l15 27 15 8-15-30z"/><path class="c27" d="M1626 5551l16-9 15-27-16 6z"/><path class="c28" d="M1868 5535l15-13 15 6-15 16zm484-6l16 31 15-22-16-28z"/><path class="c29" d="M812 5524l15-19 15-10-15 18zm1026 1l15-4 15 14-15 7z"/><path class="c35" d="M1898 5528l16-17 15-2-16 19zm424-19l15 33 15-13-15-31z"/><path class="c36" d="M1808 5504l15 3 15 18-15-2z"/><path class="c38" d="M1475 5489l16 26 15 10-16-30z"/><path class="c42" d="M1264 5492l15 28 15-26-15-23z"/><path class="c43" d="M842 5495l16-16 14-13-15 14z"/><path class="c44" d="M1294 5494l16 20 15-29-16-17zm363 21l15-9 15-24-15 5z"/><path class="c45" d="M1234 5481l15 30 15-19-15-26zm695 28l15-16 15-8-15 16z"/><path class="c46" d="M2292 5485l15 29 15-5-15-30z"/><path class="c47" d="M1777 5480l16 8 15 16-16-9z"/><path class="c50" d="M1325 5485l15 13 15-28-16-11z"/><path class="c51" d="M1204 5464l15 28 15-11-15-27z"/><path class="c53" d="M1445 5462l15 20 15 7-15-25z"/><path class="c55" d="M1053 5459l15-2 15 3-15 7z"/><path class="c56" d="M872 5466l16-10 15-11-16 5zm151-12l15 1 15 4-15 4zm936 31l15-10 15-9-15 8z"/><path class="c57" d="M1083 5460l15-4 15-1-15 8zm272 10l15 8 15-22-15-7zm332 12l15-5 15-16-15 0zm60-21l15 10 15 9-15-12zm514 5l16 21 15-2-16-24z"/><path class="c59" d="M993 5445l15 5 15 4-15-2zm181 5l15 21 15-7-15-21z"/><path class="c60" d="M1113 5455l16-2 15-5-16 5z"/><path class="c62" d="M1144 5448l15 7 15-5-15-7zm271 3l15 10 15 1-15-16zm302 10l15 2 15-2-15-10zm272 5l15 0 15-8-15-2zm61-6l15 15 15-14-15-10zm30 1l15 15 15-15-15-8zm30 0l15 12 15-12-15-3zm30 0l16 7 15-7-16 0zm31 0l15 5 15-6-15 1z"/><path class="c63" d="M903 5445l15 1 15-8-15-5zm60-5l15 7 15-2-15-5zm422 16l15 6 15-11-15-8zm634 2l16 12 15-10-16-9zm182 2l15 6 15-7-15-2zm30-1l15 10 15-3-15-13z"/><path class="c64" d="M933 5438l15 8 15-6-15-8z"/><path class="c3" d="M1551 5583l15 11 15 0-15-12z"/><path class="c5" d="M1581 5594l15-5 15-14-15 3z"/><path class="c13" d="M1521 5552l15 20 15 11-15-23z"/><path class="c18" d="M1611 5575l16-12 15-21-16 9z"/><path class="c19" d="M2368 5560l15 26 15-26-15-22z"/><path class="c22" d="M767 5531l15-11 15 6-15 14z"/><path class="c23" d="M737 5519l15-3 15 15-15 5zm1600 23l15 32 16-14-16-31z"/><path class="c29" d="M797 5526l15-18 15-3-15 19zm694-11l15 23 15 14-15-27z"/><path class="c34" d="M1279 5520l16 24 15-30-16-20z"/><path class="c35" d="M1249 5511l15 31 15-22-15-28zm393 31l15-14 15-22-15 9zm665-28l15 33 15-5-15-33z"/><path class="c36" d="M1853 5521l15-9 15 10-15 13z"/><path class="c39" d="M1883 5522l16-14 15 3-16 17z"/><path class="c40" d="M1310 5514l15 16 15-32-15-13zm513-7l15-1 15 15-15 4z"/><path class="c41" d="M827 5505l16-17 15-9-16 16zm392-13l15 33 15-14-15-30z"/><path class="c46" d="M1460 5482l16 21 15 12-16-26zm454 29l15-15 15-3-15 16z"/><path class="c48" d="M1793 5488l15 5 15 14-15-3zm484-1l15 27 15 0-15-29z"/><path class="c49" d="M1340 5498l15 8 15-28-15-8z"/><path class="c50" d="M1189 5471l15 28 15-7-15-28z"/><path class="c51" d="M1672 5506l15-11 15-18-15 5z"/><path class="c53" d="M858 5479l15-12 15-11-16 10z"/><path class="c55" d="M1944 5493l15-11 15-7-15 10z"/><path class="c56" d="M1762 5471l16 8 15 9-16-8z"/><path class="c58" d="M1370 5478l15 4 15-20-15-6zm60-17l15 15 15 6-15-20z"/><path class="c59" d="M1159 5455l15 20 15-4-15-21zm906 20l15 19 15-18-15-15zm30 1l15 17 15-20-15-12zm151-7l16 18 15 0-16-21z"/><path class="c60" d="M1038 5455l15 2 15 0-15 2zm30 2l16 1 14-2-15 4zm967 13l15 19 15-14-15-15z"/><path class="c61" d="M888 5456l15-2 15-8-15-1zm120-6l15 8 15-3-15-1zm694 27l15-3 15-11-15-2zm423-4l16 13 15-18-16-7z"/><path class="c62" d="M1098 5456l16 2 15-5-16 2zm634 7l15 7 15 1-15-10zm242 12l15-2 15-7-15 0zm30-9l15 15 16-11-16-12z"/><path class="c63" d="M978 5447l15 12 15-9-15-5zm151 6l15 7 15-5-15-7zm271 9l15 5 15-6-15-10zm756 6l15 9 15-11-15-5z"/><path class="c64" d="M918 5446l15 8 15-8-15-8zm30 0l15 11 15-10-15-7zm1238 20l15 7 15-7-15-6zm30 0l15 8 15-5-15-10z"/><path class="c5" d="M1566 5594l15-3 15-2-15 5z"/><path class="c9" d="M1536 5572l15 11 15 11-15-11z"/><path class="c13" d="M1596 5589l16-13 15-13-16 12zm756-15l16 28 15-16-15-26zm31 12l15 16 15-27-15-15z"/><path class="c22" d="M1506 5538l15 18 15 16-15-20z"/><path class="c23" d="M2322 5547l15 31 15-4-15-32z"/><path class="c25" d="M1264 5542l16 28 15-26-16-24z"/><path class="c28" d="M1295 5544l15 18 15-32-15-16zm332 19l15-17 15-18-15 14z"/><path class="c29" d="M1234 5525l15 33 15-16-15-31z"/><path class="c30" d="M752 5516l15-8 15 12-15 11z"/><path class="c33" d="M782 5520l16-15 14 3-15 18z"/><path class="c34" d="M722 5500l15 0 15 16-15 3z"/><path class="c37" d="M2292 5514l15 30 15 3-15-33z"/><path class="c38" d="M1325 5530l15 8 15-32-15-8z"/><path class="c39" d="M1476 5503l15 19 15 16-15-23z"/><path class="c40" d="M1204 5499l15 33 15-7-15-33z"/><path class="c41" d="M812 5508l16-16 15-4-16 17z"/><path class="c44" d="M1657 5528l15-15 15-18-15 11z"/><path class="c45" d="M1838 5506l15-4 15 10-15 9zm30 6l15-9 16 5-16 14z"/><path class="c49" d="M1899 5508l15-11 15-1-15 15z"/><path class="c50" d="M1355 5506l15 3 15-27-15-4zm453-13l15 2 15 11-15 1z"/><path class="c51" d="M843 5488l15-13 15-8-15 12zm331-13l15 26 15-2-15-28zm1088 12l15 24 15 3-15-27z"/><path class="c53" d="M1445 5476l16 16 15 11-16-21zm635 18l15 22 15-23-15-17z"/><path class="c54" d="M2050 5489l15 25 15-20-15-19z"/><path class="c55" d="M1929 5496l15-8 15-6-15 11z"/><path class="c56" d="M1778 5479l15 6 15 8-15-5zm332 14l15 17 16-24-16-13z"/><path class="c57" d="M1687 5495l15-7 15-14-15 3z"/><path class="c58" d="M2019 5481l16 22 15-14-15-19z"/><path class="c59" d="M1385 5482l15 2 15-17-15-5z"/><path class="c60" d="M873 5467l15-5 15-8-15 2zm271-7l15 16 15-1-15-20zm997 26l15 11 15-20-15-9z"/><path class="c61" d="M963 5457l15 17 15-15-15-12zm30 2l15 15 15-16-15-8zm966 23l15-2 15-7-15 2zm30-9l15 17 15-9-15-15zm242 1l16 13 15 0-16-18z"/><path class="c62" d="M933 5454l15 15 15-12-15-11zm90 4l15 12 15-13-15-2zm392 9l15 7 15 2-15-15zm332 3l16 8 15 1-16-8z"/><path class="c63" d="M903 5454l15 8 15-8-15-8zm150 3l16 8 15-7-16-1zm31 1l15 6 15-6-16-2zm633 16l15 3 15-7-15-7zm454 3l15 8 15-12-15-7z"/><path class="c64" d="M1114 5458l15 7 15-5-15-7zm1087 15l15 7 15-6-15-8z"/><path class="c6" d="M2368 5602l15 19 15-19-15-16z"/><path class="c10" d="M1551 5583l15-1 15 9-15 3z"/><path class="c12" d="M1581 5591l16-13 15-2-16 13zm756-13l16 27 15-3-16-28zm61 24l15 3 15-26-15-4z"/><path class="c18" d="M1249 5558l16 30 15-18-16-28zm31 12l15 21 15-29-15-18z"/><path class="c19" d="M1521 5556l15 9 15 18-15-11z"/><path class="c24" d="M1612 5576l15-19 15-11-15 17z"/><path class="c26" d="M1310 5562l15 9 15-33-15-8zm997-18l15 29 15 5-15-31z"/><path class="c27" d="M1219 5532l15 33 15-7-15-33z"/><path class="c33" d="M1491 5522l15 15 15 19-15-18z"/><path class="c39" d="M767 5508l16-10 15 7-16 15zm573 30l15 1 15-30-15-3zm302 8l15-18 15-15-15 15z"/><path class="c40" d="M737 5500l15-4 15 12-15 8z"/><path class="c41" d="M1189 5501l15 31 15 0-15-33z"/><path class="c42" d="M2277 5511l15 25 15 8-15-30z"/><path class="c43" d="M798 5505l15-14 15 1-16 16z"/><path class="c45" d="M707 5483l15 2 15 15-15 0z"/><path class="c47" d="M2065 5514l15 27 15-25-15-22z"/><path class="c48" d="M1461 5492l15 15 15 15-15-19zm634 24l15 22 15-28-15-17z"/><path class="c50" d="M2035 5503l15 29 15-18-15-25z"/><path class="c51" d="M828 5492l15-12 15-5-15 13z"/><path class="c52" d="M1370 5509l15-1 15-24-15-2zm483-7l15-4 15 5-15 9zm272 8l16 14 15-27-15-11z"/><path class="c53" d="M1672 5513l15-11 15-14-15 7zm211-10l16-7 15 1-15 11z"/><path class="c54" d="M1159 5476l15 23 15 2-15-26zm664 19l15 0 15 7-15 4z"/><path class="c56" d="M2004 5490l16 25 15-12-16-22zm243-3l15 19 15 5-15-24z"/><path class="c57" d="M1914 5497l15-6 15-3-15 8z"/><path class="c58" d="M948 5469l15 22 15-17-15-17zm30 5l15 20 15-20-15-15zm815 11l15 4 15 6-15-2zm363 12l15 9 15-21-15-8z"/><path class="c59" d="M858 5475l15-6 15-7-15 5zm150-1l15 16 15-20-15-12zm422 0l16 12 15 6-16-16z"/><path class="c61" d="M918 5462l15 20 15-13-15-15zm120 8l16 11 15-16-16-8zm362 14l15 2 15-12-15-7zm544 4l15-1 15-7-15 2zm30-8l15 17 15-7-15-17z"/><path class="c62" d="M888 5462l15 9 15-9-15-8zm241 3l15 13 15-2-15-16zm573 23l15-2 15-9-15-3zm61-10l15 7 15 0-15-6z"/><path class="c63" d="M1069 5465l15 8 15-9-15-6zm1117 20l15 7 15-12-15-7zm30-5l16 9 15-2-16-13z"/><path class="c64" d="M1099 5464l15 8 15-7-15-7zm633 13l16 7 15-6-16-8z"/><path class="c4" d="M2353 5605l15 18 15-2-15-19zm30 16l15 2 15-18-15-3z"/><path class="c10" d="M1265 5588l15 23 15-20-15-21z"/><path class="c15" d="M1295 5591l15 9 15-29-15-9z"/><path class="c16" d="M1234 5565l16 30 15-7-16-30zm1088 8l16 24 15 8-16-27zm91 32l16-8 15-24-16 6z"/><path class="c17" d="M1566 5582l16-10 15 6-16 13z"/><path class="c20" d="M1536 5565l15 1 15 16-15 1z"/><path class="c23" d="M1597 5578l15-17 15-4-15 19z"/><path class="c27" d="M1325 5571l15-1 15-31-15-1z"/><path class="c29" d="M1204 5532l15 31 15 2-15-33z"/><path class="c31" d="M1506 5537l15 9 15 19-15-9z"/><path class="c32" d="M2292 5536l15 26 15 11-15-29z"/><path class="c36" d="M1627 5557l15-18 15-11-15 18z"/><path class="c39" d="M2080 5541l15 25 15-28-15-22z"/><path class="c40" d="M2050 5532l15 30 15-21-15-27z"/><path class="c43" d="M1355 5539l15-4 15-27-15 1zm755-1l16 17 15-31-16-14z"/><path class="c44" d="M1476 5507l15 13 15 17-15-15z"/><path class="c45" d="M1174 5499l15 27 15 6-15-31z"/><path class="c46" d="M752 5496l16-6 15 8-16 10zm1268 19l15 30 15-13-15-29z"/><path class="c48" d="M783 5498l15-9 15 2-15 14zm1479 8l15 21 15 9-15-25z"/><path class="c49" d="M722 5485l16 0 14 11-15 4zm935 43l15-14 15-12-15 11z"/><path class="c50" d="M2141 5524l15 10 15-28-15-9z"/><path class="c52" d="M963 5491l15 25 15-22-15-20z"/><path class="c53" d="M813 5491l15-9 15-2-15 12zm180 3l16 21 14-25-15-16z"/><path class="c54" d="M933 5482l15 25 15-16-15-22z"/><path class="c55" d="M692 5471l15 5 15 9-15-2zm1297 26l16 25 15-7-16-25z"/><path class="c56" d="M1023 5490l16 15 15-24-16-11zm362 18l15-3 15-19-15-2zm61-22l15 12 15 9-15-15z"/><path class="c57" d="M1144 5478l15 18 15 3-15-23z"/><path class="c58" d="M1838 5495l15 1 15 2-15 4zm30 3l16-1 15-1-16 7zm303 8l15 6 15-20-15-7z"/><path class="c59" d="M843 5480l15-5 15-6-15 6zm60-9l15 22 15-11-15-20z"/><path class="c60" d="M1687 5502l15-6 15-10-15 2zm121-13l15 5 15 1-15 0zm91 7l15-1 15-4-15 6zm333-7l15 13 15 4-15-19z"/><path class="c61" d="M1054 5481l15 10 15-18-15-8zm905 6l15 15 15-5-15-17z"/><path class="c62" d="M873 5469l15 9 15-7-15-9zm542 17l16 2 15-2-16-12zm363-1l15 8 15-4-15-4zm151 6l15 2 15-6-15 1z"/><path class="c63" d="M1084 5473l15 8 15-9-15-8zm30-1l15 8 15-2-15-13zm1087 20l15 5 16-8-16-9z"/><path class="c64" d="M1717 5486l16 5 15-7-16-7zm31-2l15 8 15-7-15-7z"/><path class="c3" d="M2368 5623l15 2 15-2-15-2z"/><path class="c6" d="M1280 5611l15 10 15-21-15-9z"/><path class="c7" d="M1250 5595l15 23 15-7-15-23z"/><path class="c9" d="M2338 5597l15 16 15 10-15-18zm60 26l15-11 16-15-16 8z"/><path class="c16" d="M1310 5600l15-3 15-27-15 1z"/><path class="c18" d="M1219 5563l16 28 15 4-16-30z"/><path class="c24" d="M2307 5562l16 21 15 14-16-24zm122 35l15-15 15-21-15 12z"/><path class="c25" d="M1551 5566l16-6 15 12-16 10z"/><path class="c27" d="M1582 5572l15-14 15 3-15 17z"/><path class="c30" d="M2065 5562l15 29 15-25-15-25z"/><path class="c31" d="M1521 5546l15 3 15 17-15-1z"/><path class="c32" d="M1340 5570l15-8 15-27-15 4zm755-4l16 21 15-32-16-17z"/><path class="c34" d="M1189 5526l16 28 14 9-15-31z"/><path class="c35" d="M1612 5561l15-18 15-4-15 18zm423-16l15 33 15-16-15-30z"/><path class="c40" d="M2126 5555l15 11 15-32-15-10z"/><path class="c41" d="M2277 5527l15 21 15 14-15-26z"/><path class="c42" d="M1491 5520l15 9 15 17-15-9z"/><path class="c45" d="M978 5516l16 25 15-26-16-21zm1027 6l15 31 15-8-15-30z"/><path class="c46" d="M948 5507l15 30 15-21-15-25z"/><path class="c47" d="M1642 5539l15-16 15-9-15 14z"/><path class="c48" d="M1009 5515l15 18 15-28-16-15zm361 20l15-8 15-22-15 3z"/><path class="c50" d="M1159 5496l15 23 15 7-15-27zm997 38l15 5 15-27-15-6z"/><path class="c51" d="M918 5493l15 28 15-14-15-25z"/><path class="c54" d="M738 5485l15 0 15 5-16 6zm30 5l15-4 15 3-15 9zm271 15l15 12 15-26-15-10zm422-7l15 10 15 12-15-13z"/><path class="c55" d="M1974 5502l16 24 15-4-16-25zm273 0l15 16 15 9-15-21z"/><path class="c56" d="M798 5489l15-5 15-2-15 9z"/><path class="c57" d="M707 5476l16 3 15 6-16 0zm965 38l15-9 15-9-15 6z"/><path class="c58" d="M888 5478l15 23 15-8-15-22z"/><path class="c59" d="M2186 5512l15 3 15-18-15-5z"/><path class="c60" d="M828 5482l15-2 15-5-15 5zm241 9l15 8 15-18-15-8zm60-11l15 14 15 2-15-18zm271 25l16-3 15-14-16-2z"/><path class="c61" d="M677 5467l16 7 14 2-15-5zm754 21l15 7 15 3-15-12zm422 8l16 4 15-3-16 1z"/><path class="c62" d="M858 5475l15 9 15-6-15-9zm935 18l15 13 15-12-15-5zm30 1l15 9 15-7-15-1zm61 3l15 3 15-5-15 1zm60-4l15 13 15-4-15-15zm272 4l16 6 15-1-15-13z"/><path class="c63" d="M1099 5481l15 7 15-8-15-8zm603 15l16 2 15-7-16-5zm31-5l15 11 15-10-15-8zm30 1l15 13 15-12-15-8zm151 3l15 5 15-7-15-2z"/><path class="c2" d="M1265 5618l15 10 15-7-15-10z"/><path class="c8" d="M1295 5621l15-5 15-19-15 3zm1058-8l15 3 15 9-15-2zm30 12l15-9 15-4-15 11z"/><path class="c10" d="M1235 5591l15 21 15 6-15-23z"/><path class="c19" d="M2323 5583l15 13 15 17-15-16zm90 29l16-17 15-13-15 15z"/><path class="c22" d="M2080 5591l16 24 15-28-16-21z"/><path class="c23" d="M1325 5597l15-12 15-23-15 8z"/><path class="c24" d="M2050 5578l15 32 15-19-15-29z"/><path class="c25" d="M1205 5554l15 25 15 12-16-28z"/><path class="c28" d="M2111 5587l15 12 15-33-15-11z"/><path class="c33" d="M2020 5553l15 33 15-8-15-33z"/><path class="c34" d="M1567 5560l15-11 15 9-15 14zm725-12l16 17 15 18-16-21zm152 34l15-18 15-17-15 14z"/><path class="c36" d="M1536 5549l16-3 15 14-16 6z"/><path class="c37" d="M963 5537l16 29 15-25-16-25z"/><path class="c38" d="M994 5541l15 23 15-31-15-18zm603 17l15-16 15 1-15 18z"/><path class="c40" d="M1355 5562l15-13 15-22-15 8zm786 4l15 5 15-32-15-5z"/><path class="c41" d="M933 5521l15 32 15-16-15-30zm241-2l16 23 15 12-16-28z"/><path class="c43" d="M1506 5529l15 4 15 16-15-3z"/><path class="c44" d="M1024 5533l15 14 15-30-15-12z"/><path class="c46" d="M1990 5526l15 29 15-2-15-31z"/><path class="c47" d="M1627 5543l15-15 15-5-15 16z"/><path class="c49" d="M903 5501l15 29 15-9-15-28z"/><path class="c50" d="M2262 5518l15 17 15 13-15-21z"/><path class="c52" d="M2171 5539l15 1 15-25-15-3z"/><path class="c53" d="M1054 5517l15 7 15-25-15-8zm422-9l15 8 15 13-15-9z"/><path class="c54" d="M1385 5527l16-8 15-17-16 3z"/><path class="c55" d="M1144 5494l15 17 15 8-15-23z"/><path class="c56" d="M1657 5523l15-10 15-8-15 9z"/><path class="c57" d="M1959 5506l16 20 15 0-16-24z"/><path class="c58" d="M873 5484l15 21 15-4-15-23z"/><path class="c59" d="M753 5485l15 0 15 1-15 4zm30 1l15 0 15-2-15 5z"/><path class="c60" d="M723 5479l15 4 15 2-15 0zm1055 26l15 18 15-17-15-13zm454-2l15 11 15 4-15-16z"/><path class="c61" d="M1084 5499l15 5 15-16-15-7zm362-4l15 8 15 5-15-10zm302 7l15 18 15-15-15-13zm60 4l15 15 15-18-15-9zm393 9l16 2 15-14-16-6z"/><path class="c62" d="M693 5474l15 9 15-4-16-3zm120 10l15 1 15-5-15 2zm30-4l15 9 15-5-15-9zm573 22l15 0 15-7-15-7zm271 3l16 1 15-8-16-2zm31-7l15 15 15-11-15-11zm120 5l16 11 15-14-16-4z"/><path class="c63" d="M662 5472l16 10 15-8-16-7zm452 16l15 7 15-1-15-14zm755 12l15 8 15-8-15-3zm60 0l15 9 15-3-15-13z"/><path class="c64" d="M1899 5500l15 7 15-7-15-5z"/><path class="c5" d="M1280 5628l15-5 15-7-15 5z"/><path class="c6" d="M1250 5612l15 9 15 7-15-10z"/><path class="c13" d="M2368 5616l15-7 15 7-15 9z"/><path class="c14" d="M2065 5610l16 26 15-21-16-24z"/><path class="c16" d="M1310 5616l15-14 15-17-15 12z"/><path class="c17" d="M1220 5579l15 18 15 15-15-21zm876 36l15 15 15-31-15-12z"/><path class="c18" d="M2338 5596l15 4 15 16-15-3zm60 20l16-16 15-5-16 17z"/><path class="c21" d="M2035 5586l15 32 15-8-15-32z"/><path class="c28" d="M979 5566l15 26 15-28-15-23zm1147 33l15 4 15-32-15-5z"/><path class="c30" d="M948 5553l16 32 15-19-16-29zm1360 12l15 12 15 19-15-13zm121 30l15-19 15-12-15 18z"/><path class="c32" d="M1340 5585l15-16 15-20-15 13z"/><path class="c33" d="M1009 5564l15 16 15-33-15-14z"/><path class="c34" d="M1190 5542l15 21 15 16-15-25zm815 13l15 31 15 0-15-33z"/><path class="c39" d="M918 5530l16 33 14-10-15-32z"/><path class="c42" d="M1552 5546l15-6 15 9-15 11zm604 25l15-3 15-28-15-1z"/><path class="c43" d="M1039 5547l15 8 15-31-15-7zm543 2l15-11 15 4-15 16z"/><path class="c45" d="M2277 5535l15 14 16 16-16-17zm182 29l15-16 15-14-15 13z"/><path class="c46" d="M1521 5533l16 0 15 13-16 3z"/><path class="c48" d="M1370 5549l16-12 15-18-16 8z"/><path class="c49" d="M1159 5511l16 19 15 12-16-23zm453 31l15-12 15-2-15 15zm363-16l15 26 15 3-15-29z"/><path class="c50" d="M888 5505l15 29 15-4-15-29z"/><path class="c53" d="M1491 5516l15 5 15 12-15-4z"/><path class="c54" d="M1069 5524l15 4 15-24-15-5z"/><path class="c55" d="M2186 5540l16-3 15-20-16-2z"/><path class="c56" d="M1642 5528l15-9 15-6-15 10zm121-8l15 23 15-20-15-18zm30 3l15 20 15-22-15-15z"/><path class="c57" d="M2247 5514l15 12 15 9-15-17z"/><path class="c58" d="M1733 5513l15 22 15-15-15-18zm90 8l16 15 15-22-16-11z"/><path class="c59" d="M858 5489l15 19 15-3-15-21zm1086 20l16 17 15 0-16-20z"/><path class="c60" d="M1129 5495l15 12 15 4-15-17zm272 24l15-5 15-12-15 0zm60-16l15 8 15 5-15-8z"/><path class="c61" d="M1099 5504l15 3 15-12-15-7zm604 2l15 17 15-10-15-15z"/><path class="c62" d="M678 5482l15 15 15-14-15-9zm30 1l15 13 15-13-15-4zm30 0l15 10 15-8-15 0zm30 2l15 5 15-4-15 0zm904 28l16 0 15-7-16-1zm182 1l15 10 15-16-15-8zm363 3l15 2 15-5-15-11z"/><path class="c63" d="M647 5479l16 15 15-12-16-10zm151 7l15 5 15-6-15-1zm30-1l15 8 15-4-15-9zm603 17l15 5 15-4-15-8z"/><path class="c64" d="M1884 5508l15 8 15-9-15-7zm30-1l15 7 15-5-15-9z"/><path class="c8" d="M1265 5621l15-3 15 5-15 5zm816 15l15 17 15-23-15-15z"/><path class="c11" d="M2050 5618l16 27 15-9-16-26z"/><path class="c13" d="M1295 5623l15-14 15-7-15 14z"/><path class="c14" d="M1235 5597l15 9 15 15-15-9z"/><path class="c16" d="M2111 5630l15 2 15-29-15-4z"/><path class="c20" d="M964 5585l15 29 15-22-15-26z"/><path class="c21" d="M2353 5600l15-4 15 13-15 7zm30 9l16-13 15 4-16 16z"/><path class="c22" d="M994 5592l15 18 15-30-15-16z"/><path class="c23" d="M2020 5586l15 31 15 1-15-32z"/><path class="c26" d="M934 5563l15 34 15-12-16-32zm391 39l16-18 14-15-15 16z"/><path class="c28" d="M1205 5563l15 15 15 19-15-18z"/><path class="c29" d="M2323 5577l15 5 15 18-15-4zm91 23l15-19 15-5-15 19z"/><path class="c31" d="M1024 5580l15 7 15-32-15-8zm1117 23l15-5 15-30-15 3z"/><path class="c38" d="M1990 5552l15 28 15 6-15-31z"/><path class="c39" d="M903 5534l16 32 15-3-16-33z"/><path class="c42" d="M1355 5569l16-16 15-16-16 12zm937-20l16 10 15 18-15-12zm152 27l15-18 15-10-15 16z"/><path class="c44" d="M1054 5555l15 1 15-28-15-4zm121-25l15 17 15 16-15-21z"/><path class="c47" d="M2171 5568l16-6 15-25-16 3z"/><path class="c49" d="M1778 5543l15 25 15-25-15-20z"/><path class="c50" d="M1567 5540l15-6 15 4-15 11z"/><path class="c51" d="M873 5508l15 25 15 1-15-29zm664 25l15-2 15 9-15 6zm211 2l15 28 15-20-15-23zm60 8l16 20 15-27-16-15z"/><path class="c52" d="M1597 5538l15-8 15 0-15 12z"/><path class="c53" d="M1960 5526l15 21 15 5-15-26z"/><path class="c54" d="M2262 5526l15 11 15 12-15-14zm212 22l16-12 15-11-16 9z"/><path class="c55" d="M1506 5521l16 4 15 8-16 0zm212 2l15 25 15-13-15-22z"/><path class="c56" d="M1084 5528l15 0 15-21-15-3zm302 9l15-9 15-14-15 5zm453-1l15 13 15-25-15-10z"/><path class="c57" d="M1144 5507l16 14 15 9-16-19zm483 23l15-6 15-5-15 9z"/><path class="c59" d="M663 5494l15 20 15-17-15-15zm30 3l15 18 15-19-15-13zm1509 40l15-2 15-16-15-2z"/><path class="c60" d="M1476 5511l15 7 15 3-15-5z"/><path class="c61" d="M633 5488l15 19 15-13-16-15zm90 8l15 14 15-17-15-10zm120-3l15 15 15 0-15-19zm814 26l16 1 15-7-16 0zm31-6l15 19 15-9-15-17zm181 11l15 9 15-17-15-8z"/><path class="c62" d="M753 5493l15 10 15-13-15-5zm361 14l15 3 15-3-15-12zm815 7l16 12 15 0-16-17zm303 5l15 5 15 2-15-12z"/><path class="c63" d="M1416 5514l15 1 15-8-15-5zm30-7l15 8 15-4-15-8z"/><path class="c64" d="M783 5490l15 8 15-7-15-5zm30 1l15 8 15-6-15-8zm1086 25l15 6 15-8-15-7z"/><path class="c4" d="M2066 5645l15 17 15-9-15-17z"/><path class="c7" d="M2096 5653l15 0 15-21-15-2z"/><path class="c12" d="M979 5614l15 21 15-25-15-18zm1056 3l16 24 15 4-16-27z"/><path class="c15" d="M949 5597l15 30 15-13-15-29zm331 21l15-12 15 3-15 14z"/><path class="c16" d="M1250 5606l15-1 15 13-15 3z"/><path class="c19" d="M1009 5610l15 8 15-31-15-7z"/><path class="c21" d="M2126 5632l15-8 15-26-15 5z"/><path class="c24" d="M1310 5609l16-19 15-6-16 18z"/><path class="c25" d="M1220 5578l15 9 15 19-15-9z"/><path class="c27" d="M919 5566l15 32 15-1-15-34z"/><path class="c28" d="M2005 5580l15 27 15 10-15-31z"/><path class="c29" d="M2368 5596l16-9 15 9-16 13z"/><path class="c32" d="M2338 5582l15-1 15 15-15 4zm61 14l15-16 15 1-15 19z"/><path class="c33" d="M1039 5587l15 0 15-31-15-1z"/><path class="c37" d="M2156 5598l16-11 15-25-16 6z"/><path class="c38" d="M1341 5584l15-19 15-12-16 16z"/><path class="c39" d="M1190 5547l15 13 15 18-15-15z"/><path class="c41" d="M888 5533l16 29 15 4-16-32zm1420 26l15 6 15 17-15-5zm121 22l15-17 15-6-15 18z"/><path class="c42" d="M1763 5563l15 29 15-24-15-25zm30 5l16 24 15-29-16-20z"/><path class="c45" d="M1975 5547l15 23 15 10-15-28z"/><path class="c46" d="M1733 5548l15 31 15-16-15-28z"/><path class="c47" d="M1824 5563l15 15 15-29-15-13z"/><path class="c48" d="M1069 5556l15-3 15-25-15 0z"/><path class="c52" d="M1371 5553l15-13 15-12-15 9zm816 9l15-8 15-19-15 2zm90-25l16 9 15 13-16-10zm182 21l15-13 16-9-16 12z"/><path class="c53" d="M1160 5521l15 13 15 13-15-17z"/><path class="c54" d="M678 5514l15 23 15-22-15-18zm1025 18l15 26 15-10-15-25zm151 17l15 9 15-25-15-9z"/><path class="c55" d="M648 5507l15 24 15-17-15-20zm60 8l15 19 15-24-15-14zm150-7l15 22 15 3-15-25z"/><path class="c56" d="M1552 5531l15-1 15 4-15 6zm30 3l15-4 15 0-15 8z"/><path class="c57" d="M1945 5526l15 16 15 5-15-21z"/><path class="c58" d="M1522 5525l15 3 15 3-15 2z"/><path class="c59" d="M618 5497l15 22 15-12-15-19zm120 13l15 14 15-21-15-10zm361 18l15-2 15-16-15-3zm513 2l15-3 15-3-15 6z"/><path class="c60" d="M2247 5524l15 9 15 4-15-11z"/><path class="c61" d="M1129 5510l16 7 15 4-16-14zm272 18l15-4 15-9-15-1zm90-10l16 6 15 1-16-4zm182 2l15 17 15-5-15-19zm211 13l15 6 15-17-15-6zm606 3l15-4 15-9-15 2z"/><path class="c62" d="M768 5503l15 9 15-14-15-8zm60-4l15 11 15-2-15-15zm814 25l16 2 15-6-16-1zm575 11l15-1 15-10-15-5z"/><path class="c63" d="M1461 5515l15 8 15-5-15-7zm453 7l16 7 15-3-16-12z"/><path class="c64" d="M798 5498l15 8 15-7-15-8zm633 17l15 7 15-7-15-8z"/><path class="c3" d="M2081 5662l15 1 15-10-15 0z"/><path class="c6" d="M2051 5641l15 15 15 6-15-17z"/><path class="c7" d="M964 5627l15 22 15-14-15-21z"/><path class="c9" d="M994 5635l15 8 15-25-15-8z"/><path class="c12" d="M2111 5653l15-10 15-19-15 8z"/><path class="c15" d="M934 5598l15 29 15 0-15-30z"/><path class="c19" d="M2020 5607l16 22 15 12-16-24z"/><path class="c21" d="M1024 5618l15-3 15-28-15 0z"/><path class="c22" d="M1265 5605l15-9 15 10-15 12z"/><path class="c26" d="M1295 5606l16-16 15 0-16 19z"/><path class="c27" d="M1235 5587l15 1 15 17-15 1z"/><path class="c28" d="M2141 5624l16-15 15-22-16 11z"/><path class="c30" d="M904 5562l15 30 15 6-15-32z"/><path class="c33" d="M1778 5592l16 27 15-27-16-24z"/><path class="c36" d="M1326 5590l15-18 15-7-15 19zm422-11l15 32 15-19-15-29zm61 13l15 18 15-32-15-15zm181-22l15 23 15 14-15-27z"/><path class="c37" d="M1205 5560l15 8 15 19-15-9z"/><path class="c38" d="M1054 5587l15-8 15-26-15 3zm1299-6l16-6 15 12-16 9zm31 6l15-12 15 5-15 16z"/><path class="c43" d="M2323 5565l15 1 15 15-15 1zm91 15l15-15 15-1-15 17z"/><path class="c44" d="M1718 5558l15 31 15-10-15-31z"/><path class="c45" d="M1839 5578l15 11 15-31-15-9zm333 9l15-12 15-21-15 8z"/><path class="c46" d="M873 5530l16 25 15 7-16-29z"/><path class="c47" d="M693 5537l15 24 15-27-15-19z"/><path class="c48" d="M663 5531l15 28 15-22-15-23z"/><path class="c49" d="M1356 5565l15-15 15-10-15 13z"/><path class="c50" d="M1175 5534l15 11 15 15-15-13z"/><path class="c51" d="M723 5534l15 17 15-27-15-14zm1237 8l15 18 15 10-15-23z"/><path class="c52" d="M633 5519l15 28 15-16-15-24zm451 34l15-6 15-21-15 2zm1209-7l15 7 15 12-15-6zm151 18l15-13 15-6-15 13z"/><path class="c54" d="M1688 5537l15 26 15-5-15-26zm181 21l15 5 15-24-15-6z"/><path class="c57" d="M603 5505l15 23 15-9-15-22zm150 19l15 10 15-22-15-9z"/><path class="c58" d="M843 5510l16 16 14 4-15-22zm1359 44l15-6 15-14-15 1z"/><path class="c59" d="M1386 5540l15-6 15-10-15 4zm876-7l16 8 15 5-16-9z"/><path class="c60" d="M1145 5517l15 10 15 7-15-13zm422 13l15 2 15-2-15 4zm907 15l16-5 15-8-15 4z"/><path class="c61" d="M1114 5526l16 0 15-9-16-7zm423 2l15 4 15-2-15 1zm60 2l15 2 15-5-15 3zm61-4l15 15 15-4-15-17zm272 3l15 11 15 2-15-16z"/><path class="c62" d="M783 5512l15 7 15-13-15-8zm724 12l15 10 15-6-15-3zm392 15l16 4 15-14-16-7zm606-7l15 10 15-10-15-9z"/><path class="c63" d="M1416 5524l15 5 15-7-15-7zm60-1l16 12 15-11-16-6zm151 4l16 5 15-6-16-2zm605 7l15 3 15-4-15-9z"/><path class="c64" d="M813 5506l15 7 15-3-15-11zm633 16l15 10 15-9-15-8z"/><path class="c3" d="M979 5649l15 8 15-14-15-8z"/><path class="c5" d="M2066 5656l15 2 15 5-15-1z"/><path class="c7" d="M949 5627l15 21 15 1-15-22z"/><path class="c9" d="M2096 5663l15-12 15-8-15 10z"/><path class="c12" d="M1009 5643l15-5 15-23-15 3z"/><path class="c14" d="M2036 5629l15 13 15 14-15-15z"/><path class="c20" d="M919 5592l15 25 15 10-15-29z"/><path class="c22" d="M2126 5643l16-17 15-17-16 15z"/><path class="c25" d="M1763 5611l16 30 15-22-16-27zm31 8l15 22 15-31-15-18z"/><path class="c28" d="M1039 5615l15-11 15-25-15 8z"/><path class="c29" d="M2005 5593l15 19 16 17-16-22z"/><path class="c32" d="M1250 5588l15-5 15 13-15 9zm30 8l16-12 15 6-16 16zm453-7l15 34 15-12-15-32z"/><path class="c33" d="M1824 5610l15 12 15-33-15-11z"/><path class="c37" d="M889 5555l15 25 15 12-15-30z"/><path class="c38" d="M1220 5568l15 3 15 17-15-1zm91 22l15-16 15-2-15 18zm846 19l15-16 15-18-15 12z"/><path class="c39" d="M678 5559l15 28 15-26-15-24z"/><path class="c42" d="M648 5547l15 31 15-19-15-28zm60 14l15 20 15-30-15-17z"/><path class="c44" d="M1069 5579l16-10 14-22-15 6zm634-16l15 30 15-4-15-31z"/><path class="c45" d="M1854 5589l15 4 15-30-15-5zm121-29l15 19 15 14-15-23zm394 15l15-7 15 7-15 12z"/><path class="c47" d="M2338 5566l15-1 16 10-16 6z"/><path class="c48" d="M1190 5545l15 8 15 15-15-8zm151 27l15-15 15-7-15 15zm1058 3l15-11 15 1-15 15z"/><path class="c49" d="M618 5528l15 30 15-11-15-28zm120 23l15 12 15-29-15-10z"/><path class="c52" d="M859 5526l15 20 15 9-16-25z"/><path class="c53" d="M2187 5575l15-11 15-16-15 6zm121-22l15 3 15 10-15-1zm121 12l15-10 15-4-15 13z"/><path class="c55" d="M1673 5541l15 23 15-1-15-26z"/><path class="c56" d="M1884 5563l15 1 16-21-16-4z"/><path class="c57" d="M588 5511l15 23 15-6-15-23zm180 23l15 8 15-23-15-7zm331 13l16-5 15-16-16 0zm272 3l15-8 15-8-15 6z"/><path class="c58" d="M1160 5527l15 10 15 8-15-11zm785 13l15 13 15 7-15-18z"/><path class="c59" d="M2278 5541l15 6 15 6-15-7zm242 1l15 21 15-12-15-19z"/><path class="c60" d="M2459 5551l16-5 15-6-16 5z"/><path class="c61" d="M1461 5532l16 17 15-14-16-12zm31 3l15 16 15-17-15-10z"/><path class="c62" d="M798 5519l15 6 15-12-15-7zm30-6l16 11 15 2-16-16zm694 21l15 14 15-16-15-4zm30-2l15 10 15-10-15-2zm91 0l15 12 15-3-15-15zm272 11l15 3 15-6-15-11zm302 5l15-2 15-9-15-3zm273-8l15 10 15-8-15-10z"/><path class="c63" d="M1130 5526l15 4 15-3-15-10zm271 8l15 3 15-8-15-5zm30-5l15 14 15-11-15-10zm151 3l15 6 15-6-15-2zm665 5l16 7 15-3-16-8z"/><path class="c64" d="M1612 5532l16 7 15-7-16-5z"/><path class="c3" d="M964 5648l15 8 15 1-15-8z"/><path class="c6" d="M994 5657l15-7 15-12-15 5z"/><path class="c11" d="M2081 5658l15-9 15 2-15 12z"/><path class="c13" d="M934 5617l15 19 15 12-15-21zm1117 25l15 3 15 13-15-2z"/><path class="c16" d="M1779 5641l15 25 15-25-15-22z"/><path class="c19" d="M1024 5638l15-14 15-20-15 11zm1087 13l15-17 16-8-16 17z"/><path class="c20" d="M1748 5623l16 32 15-14-16-30z"/><path class="c21" d="M1809 5641l15 12 15-31-15-12z"/><path class="c24" d="M2020 5612l16 11 15 19-15-13z"/><path class="c29" d="M904 5580l15 22 15 15-15-25z"/><path class="c31" d="M663 5578l15 31 15-22-15-28zm30 9l15 24 15-30-15-20z"/><path class="c32" d="M1718 5593l15 33 15-3-15-34z"/><path class="c33" d="M1839 5622l15 3 15-32-15-4zm303 4l15-19 15-14-15 16z"/><path class="c36" d="M1054 5604l16-14 15-21-16 10z"/><path class="c38" d="M633 5558l15 33 15-13-15-31zm90 23l15 14 15-32-15-12z"/><path class="c39" d="M1265 5583l16-8 15 9-16 12z"/><path class="c40" d="M1990 5579l15 15 15 18-15-19z"/><path class="c42" d="M1235 5571l15-1 15 13-15 5zm61 13l15-13 15 3-15 16z"/><path class="c45" d="M874 5546l15 21 15 13-15-25z"/><path class="c46" d="M1688 5564l15 28 15 1-15-30z"/><path class="c47" d="M1869 5593l15-2 15-27-15-1z"/><path class="c48" d="M603 5534l15 30 15-6-15-30zm150 29l15 7 15-28-15-8zm1419 30l15-15 15-14-15 11z"/><path class="c49" d="M1205 5553l15 5 15 13-15-3zm121 21l15-13 15-4-15 15z"/><path class="c51" d="M2535 5563l16 28 15-16-16-24z"/><path class="c52" d="M1085 5569l15-10 15-17-16 5z"/><path class="c53" d="M1960 5553l15 14 15 12-15-19zm393 12l16-3 15 6-15 7zm31 3l15-6 15 2-15 11z"/><path class="c56" d="M2323 5556l15 2 15 7-15 1zm91 8l15-6 15-3-15 10z"/><path class="c57" d="M783 5542l16 4 14-21-15-6zm392-5l15 7 15 9-15-8zm181 20l15-8 15-7-15 8zm121-8l15 22 15-20-15-16z"/><path class="c58" d="M573 5516l15 21 15-3-15-23zm271 8l15 15 15 7-15-20zm663 27l15 18 15-21-15-14zm151-7l15 19 15 1-15-23zm241 20l16 0 15-18-15-3zm606-14l15 22 15-9-15-21z"/><path class="c59" d="M1446 5543l16 22 15-16-16-17zm756 21l15-7 15-11-15 2z"/><path class="c60" d="M1537 5548l15 13 15-19-15-10zm756-1l15 6 15 3-15-3zm151 8l16-3 15-6-16 5z"/><path class="c61" d="M1115 5542l15-2 15-10-15-4zm301-5l15 17 15-11-15-14z"/><path class="c62" d="M813 5525l16 5 15-6-16-11zm573 17l15 3 15-8-15-3zm544 4l15 5 15 2-15-13zm545 0l15 11 15-7-15-10z"/><path class="c63" d="M1145 5530l15 7 15 0-15-10zm422 12l15 9 15-13-15-6zm61-3l15 8 15-3-15-12zm635 5l15 7 15-4-15-6z"/><path class="c64" d="M1597 5538l16 8 15-7-16-7zm635 8l16 5 15-7-16-7z"/><path class="c7" d="M979 5656l15-6 15 0-15 7z"/><path class="c10" d="M949 5636l15 7 15 13-15-8zm815 19l15 26 15-15-15-25z"/><path class="c11" d="M1794 5666l15 14 15-27-15-12z"/><path class="c15" d="M1009 5650l15-15 15-11-15 14z"/><path class="c18" d="M2066 5645l15-6 15 10-15 9z"/><path class="c20" d="M1733 5626l16 31 15-2-16-32zm363 23l15-15 15 0-15 17z"/><path class="c21" d="M1824 5653l15 2 15-30-15-3z"/><path class="c22" d="M678 5609l15 28 15-26-15-24zm241-7l15 16 15 18-15-19z"/><path class="c24" d="M2036 5623l15 4 15 18-15-3z"/><path class="c26" d="M648 5591l15 34 15-16-15-31zm60 20l15 16 15-32-15-14z"/><path class="c30" d="M1039 5624l16-17 15-17-16 14z"/><path class="c31" d="M2126 5634l16-19 15-8-15 19z"/><path class="c35" d="M1703 5592l15 30 15 4-15-33z"/><path class="c36" d="M738 5595l15 7 15-32-15-7zm1116 30l15-5 15-29-15 2zm151-31l16 11 15 18-16-11z"/><path class="c37" d="M618 5564l15 33 15-6-15-33z"/><path class="c38" d="M889 5567l15 18 15 17-15-22z"/><path class="c41" d="M2551 5591l15 31 15-19-15-28z"/><path class="c44" d="M2157 5607l15-17 15-12-15 15z"/><path class="c46" d="M1070 5590l15-14 15-17-15 10z"/><path class="c48" d="M1250 5570l16-4 15 9-16 8zm31 5l15-8 15 4-15 13z"/><path class="c49" d="M588 5537l15 28 15-1-15-30zm180 33l16 2 15-26-16-4zm1752 2l15 29 16-10-16-28z"/><path class="c50" d="M1673 5563l15 24 15 5-15-28zm302 4l15 13 15 14-15-15z"/><path class="c51" d="M1311 5571l15-9 15-1-15 13zm181 0l15 23 15-25-15-18zm392 20l16-5 15-22-16 0z"/><path class="c52" d="M1220 5558l15 2 15 10-15 1zm242 7l15 26 15-20-15-22z"/><path class="c53" d="M859 5539l15 16 15 12-15-21z"/><path class="c54" d="M1522 5569l15 17 15-25-15-13z"/><path class="c56" d="M1431 5554l16 25 15-14-16-22zm756 24l15-9 15-12-15 7z"/><path class="c57" d="M1341 5561l15-7 15-5-15 8zm1149-4l15 22 15-7-15-22z"/><path class="c58" d="M1100 5559l15-7 15-12-15 2zm90-15l15 6 15 8-15-5zm1179 18l15 0 15 0-15 6z"/><path class="c59" d="M558 5520l15 18 15-1-15-21zm241 26l15 1 15-17-16-5zm753 15l15 11 15-21-15-9zm786-3l16 3 15 1-16 3zm61 4l15-2 15-2-15 6z"/><path class="c60" d="M1401 5545l15 19 15-10-15-17zm242 2l15 15 15 1-15-19zm302 4l15 11 15 5-15-14z"/><path class="c61" d="M1915 5564l15-1 15-12-15-5zm393-11l15 6 15-1-15-2zm121 5l16 0 15-6-16 3z"/><path class="c62" d="M829 5530l15 7 15 2-15-15zm331 7l15 7 15 0-15-7zm211 12l15 3 15-7-15-3zm211 2l16 8 15-13-16-8zm878 1l15 10 15-5-15-11z"/><path class="c63" d="M1130 5540l15 3 15-6-15-7zm1087 17l15 1 16-7-16-5zm61-6l15 9 15-7-15-6z"/><path class="c64" d="M1613 5546l15 7 15-6-15-8zm635 5l15 8 15-8-15-7z"/><path class="c4" d="M1779 5681l15 16 15-17-15-14z"/><path class="c10" d="M1749 5657l15 25 15-1-15-26z"/><path class="c11" d="M1809 5680l15 0 15-25-15-2z"/><path class="c13" d="M964 5643l15-2 15 9-15 6z"/><path class="c15" d="M693 5637l15 18 15-28-15-16zm301 13l15-13 15-2-15 15z"/><path class="c16" d="M663 5625l15 29 15-17-15-28z"/><path class="c20" d="M934 5618l15 8 15 17-15-7z"/><path class="c24" d="M723 5627l16 7 14-32-15-7zm995-5l16 28 15 7-16-31z"/><path class="c25" d="M633 5597l15 33 15-5-15-34z"/><path class="c26" d="M1024 5635l16-18 15-10-16 17zm815 20l15-7 15-28-15 5zm242-16l15-12 15 7-15 15z"/><path class="c28" d="M2051 5627l15-3 15 15-15 6z"/><path class="c31" d="M2566 5622l15 31 15-22-15-28z"/><path class="c32" d="M2111 5634l16-17 15-2-16 19z"/><path class="c34" d="M904 5585l15 14 15 19-15-16z"/><path class="c36" d="M2021 5605l15 5 15 17-15-4z"/><path class="c38" d="M753 5602l16 0 15-30-16-2zm1782-1l16 33 15-12-15-31z"/><path class="c39" d="M603 5565l15 31 15 1-15-33z"/><path class="c41" d="M1055 5607l15-18 15-13-15 14zm633-20l15 26 15 9-15-30z"/><path class="c42" d="M1869 5620l16-9 15-25-16 5z"/><path class="c43" d="M2142 5615l15-17 15-8-15 17z"/><path class="c44" d="M1477 5591l15 27 15-24-15-23z"/><path class="c45" d="M1507 5594l15 21 15-29-15-17z"/><path class="c47" d="M1447 5579l15 30 15-18-15-26zm543 1l16 9 15 16-16-11z"/><path class="c48" d="M874 5555l15 15 15 15-15-18z"/><path class="c49" d="M2505 5579l15 28 15-6-15-29z"/><path class="c51" d="M1537 5586l15 14 15-28-15-11z"/><path class="c52" d="M573 5538l15 24 15 3-15-28zm211 34l15-2 15-23-15-1z"/><path class="c53" d="M1416 5564l16 27 15-12-16-25z"/><path class="c54" d="M1085 5576l15-11 15-13-15 7zm181-10l15-3 15 4-15 8zm906 24l15-11 15-10-15 9z"/><path class="c55" d="M1235 5560l16 1 15 5-16 4zm61 7l15-5 15 0-15 9zm362-5l15 19 15 6-15-24z"/><path class="c56" d="M1900 5586l15-5 15-18-15 1z"/><path class="c58" d="M1567 5572l16 9 15-22-16-8zm393-10l15 9 15 9-15-13zm515 0l15 20 15-3-15-22z"/><path class="c59" d="M844 5537l15 12 15 6-15-16zm361 13l15 5 15 5-15-2zm121 12l15-4 15-4-15 7z"/><path class="c60" d="M1386 5552l15 19 15-7-15-19z"/><path class="c61" d="M543 5524l15 14 15 0-15-18zm271 23l15 1 15-11-15-7z"/><path class="c62" d="M1115 5552l15-1 15-8-15-3zm60-8l15 8 15-2-15-6zm181 10l15 4 15-6-15-3zm574 9l15 2 15-3-15-11zm272 6l15-3 15-8-15-1zm91-9l15 13 15-14-15-6zm30-1l16 12 15-10-16-3zm31 2l15 6 15-5-15 0zm30 1l15 3 15-5-15 2z"/><path class="c63" d="M1598 5559l15 6 15-12-15-7zm30-6l15 10 15-1-15-15zm635 6l15 13 15-12-15-9zm151 1l15 5 16-7-16 0zm31-2l15 9 15-5-15-10z"/><path class="c64" d="M1145 5543l15 8 15-7-15-7zm1087 15l16 10 15-9-15-8z"/><path class="c4" d="M1764 5682l15 15 15 0-15-16zm30 15l15-2 15-15-15 0z"/><path class="c8" d="M678 5654l15 21 15-20-15-18z"/><path class="c13" d="M648 5630l15 29 15-5-15-29zm60 25l16 7 15-28-16-7z"/><path class="c15" d="M1734 5650l15 22 15 10-15-25z"/><path class="c16" d="M1824 5680l15-10 15-22-15 7z"/><path class="c20" d="M979 5641l16-11 14 7-15 13z"/><path class="c21" d="M2581 5653l15 28 15-26-15-24z"/><path class="c22" d="M949 5626l15-1 15 16-15 2z"/><path class="c26" d="M1009 5637l16-18 15-2-16 18zm1542-3l15 33 15-14-15-31z"/><path class="c27" d="M618 5596l15 31 15 3-15-33zm121 38l15-3 15-29-16 0z"/><path class="c31" d="M1703 5613l16 24 15 13-16-28z"/><path class="c32" d="M919 5599l15 7 15 20-15-8z"/><path class="c33" d="M1854 5648l16-13 15-24-16 9z"/><path class="c34" d="M2066 5624l15-7 15 10-15 12z"/><path class="c36" d="M1492 5618l15 26 15-29-15-21zm604 9l16-13 15 3-16 17z"/><path class="c37" d="M1462 5609l15 31 15-22-15-27zm1058-2l16 32 15-5-16-33z"/><path class="c38" d="M1040 5617l15-18 15-10-15 18z"/><path class="c39" d="M2036 5610l15-1 15 15-15 3z"/><path class="c41" d="M1522 5615l15 17 15-32-15-14z"/><path class="c43" d="M588 5562l15 27 15 7-15-31zm181 40l15-6 15-26-15 2z"/><path class="c44" d="M1432 5591l15 31 15-13-15-30zm695 26l15-16 15-3-15 17z"/><path class="c45" d="M889 5570l15 12 15 17-15-14z"/><path class="c47" d="M2006 5589l15 6 15 15-15-5z"/><path class="c48" d="M1673 5581l15 21 15 11-15-26z"/><path class="c49" d="M1552 5600l16 10 15-29-16-9zm333 11l15-10 15-20-15 5z"/><path class="c50" d="M2490 5582l15 26 15-1-15-28z"/><path class="c51" d="M1070 5589l15-13 15-11-15 11z"/><path class="c53" d="M1401 5571l16 26 15-6-16-27zm756 27l15-12 15-7-15 11z"/><path class="c56" d="M558 5538l15 19 15 5-15-24zm241 32l15-4 15-18-15-1zm1176 1l16 9 15 9-16-9z"/><path class="c57" d="M859 5549l15 11 15 10-15-15z"/><path class="c58" d="M1583 5581l15 5 15-21-15-6z"/><path class="c59" d="M1251 5561l15 2 15 0-15 3zm30 2l15 0 15-1-15 5zm362 0l15 13 15 5-15-19z"/><path class="c60" d="M1100 5565l15-5 15-9-15 1zm271-7l15 17 15-4-15-19zm544 23l15-4 15-12-15-2zm363-9l15 19 15-18-15-13zm30 1l16 17 15-19-16-12zm152-6l15 16 15-1-15-20z"/><path class="c61" d="M1220 5555l16 7 15-1-16-1zm91 7l15 1 15-5-15 4zm876 17l15-5 15-8-15 3zm61-11l15 18 15-14-15-13zm91 3l15 13 15-17-15-6z"/><path class="c62" d="M829 5548l15 2 15-1-15-12zm1116 17l15 6 15 0-15-9z"/><path class="c63" d="M528 5530l15 10 15-2-15-14zm662 22l15 10 15-7-15-5zm151 6l15 5 15-5-15-4zm272 7l15 6 15-8-15-10zm604 1l16 12 15-10-16-10zm152 1l15 9 15-11-15-3z"/><path class="c64" d="M1130 5551l15 7 15-7-15-8zm30 0l15 10 15-9-15-8zm1239 14l15 7 15-7-15-5zm30 0l16 7 15-5-15-9z"/><path class="c4" d="M1779 5697l15-1 15-1-15 2z"/><path class="c5" d="M663 5659l16 21 14-5-15-21zm30 16l16 6 15-19-16-7z"/><path class="c9" d="M1749 5672l15 13 15 12-15-15z"/><path class="c11" d="M1809 5695l15-12 15-13-15 10z"/><path class="c14" d="M2596 5681l16 18 15-27-16-17z"/><path class="c15" d="M2566 5667l15 29 15-15-15-28z"/><path class="c16" d="M633 5627l15 26 15 6-15-29zm91 35l15-6 15-25-15 3z"/><path class="c24" d="M1719 5637l15 19 15 16-15-22z"/><path class="c25" d="M1839 5670l16-16 15-19-16 13zm697-31l15 33 15-5-15-33z"/><path class="c27" d="M1477 5640l15 29 15-25-15-26z"/><path class="c28" d="M964 5625l16-7 15 12-16 11z"/><path class="c29" d="M1507 5644l15 20 15-32-15-17z"/><path class="c30" d="M995 5630l15-14 15 3-16 18z"/><path class="c32" d="M1447 5622l15 34 15-16-15-31z"/><path class="c33" d="M603 5589l15 27 15 11-15-31zm151 42l15-10 15-25-15 6z"/><path class="c34" d="M934 5606l15 2 15 17-15 1z"/><path class="c38" d="M1025 5619l15-17 15-3-15 18zm512 13l15 10 16-32-16-10z"/><path class="c40" d="M1688 5602l16 20 15 15-16-24zm817 6l16 29 15 2-16-32z"/><path class="c42" d="M1417 5597l15 32 15-7-15-31zm453 38l15-15 15-19-15 10z"/><path class="c43" d="M2081 5617l16-10 15 7-16 13z"/><path class="c44" d="M904 5582l15 7 15 17-15-7zm1147 27l15-3 15 11-15 7z"/><path class="c47" d="M2112 5614l15-13 15 0-15 16z"/><path class="c49" d="M573 5557l15 23 15 9-15-27zm211 39l15-9 15-21-15 4zm271 3l15-15 15-8-15 13zm513 11l15 4 15-28-15-5zm453-15l15 2 15 12-15 1z"/><path class="c53" d="M1386 5575l16 25 15-3-16-26zm1089 8l15 22 15 3-15-26z"/><path class="c54" d="M874 5560l15 10 15 12-15-12zm1268 41l15-10 15-5-15 12z"/><path class="c55" d="M1658 5576l15 16 15 10-15-21zm635 15l15 22 16-23-16-17z"/><path class="c56" d="M1900 5601l15-9 15-15-15 4zm91-21l15 6 15 9-15-6zm272 6l15 23 15-18-15-19zm61 4l15 17 15-23-15-13z"/><path class="c59" d="M1085 5576l15-7 15-9-15 5zm513 10l15 3 15-18-15-6zm635-8l15 21 15-13-15-18z"/><path class="c60" d="M543 5540l15 14 15 3-15-19zm271 26l15-2 15-14-15-2zm1358 20l15-4 15-8-15 5zm182-2l15 12 15-20-15-9z"/><path class="c61" d="M1356 5563l15 15 15-3-15-17z"/><path class="c62" d="M844 5550l15 8 15 2-15-11zm331 11l15 15 15-14-15-10zm30 1l16 15 15-15-16-7zm31 0l15 11 15-10-15-2zm30 1l15 6 15-6-15 0zm362 8l15 5 15 0-15-13zm332 0l16 8 15 1-16-9zm242 3l16 13 15-9-16-12zm243-2l15 12 15-1-15-16z"/><path class="c63" d="M513 5540l15 7 15-7-15-10zm602 20l15 6 15-8-15-7zm30-2l15 14 15-11-15-10zm151 5l15 6 15-6-15-1zm30 0l15 6 15-6-15-5zm604 14l15 2 15-8-15-6zm454-1l15 8 15-12-15-7z"/><path class="c64" d="M2414 5572l16 7 15-7-16-7z"/><path class="c2" d="M679 5680l15 6 15-5-16-6z"/><path class="c7" d="M2581 5696l15 22 16-19-16-18z"/><path class="c9" d="M648 5653l16 19 15 8-16-21zm61 28l15-8 15-17-15 6z"/><path class="c10" d="M1764 5685l15 2 15 9-15 1zm30 11l15-10 15-3-15 12z"/><path class="c11" d="M2612 5699l15 7 15-28-15-6z"/><path class="c14" d="M2551 5672l15 28 15-4-15-29z"/><path class="c19" d="M1492 5669l15 23 15-28-15-20zm242-13l15 12 15 17-15-13z"/><path class="c21" d="M1462 5656l15 31 15-18-15-29zm362 27l16-18 15-11-16 16z"/><path class="c24" d="M618 5616l15 23 15 14-15-26zm121 40l15-13 15-22-15 10z"/><path class="c26" d="M1522 5664l15 11 15-33-15-10z"/><path class="c28" d="M2521 5637l15 30 15 5-15-33z"/><path class="c30" d="M1432 5629l15 34 15-7-15-34z"/><path class="c34" d="M1704 5622l15 16 15 18-15-19z"/><path class="c36" d="M1855 5654l15-18 15-16-15 15z"/><path class="c37" d="M980 5618l15-10 15 8-15 14z"/><path class="c38" d="M949 5608l16-3 15 13-16 7zm603 34l16 3 15-31-15-4z"/><path class="c41" d="M588 5580l15 23 15 13-15-27zm181 41l15-12 15-22-15 9zm241-5l15-14 15 0-15 17z"/><path class="c43" d="M1402 5600l15 30 15-1-15-32z"/><path class="c44" d="M2490 5605l16 26 15 6-16-29z"/><path class="c45" d="M919 5589l15 4 15 15-15-2z"/><path class="c48" d="M2278 5609l15 27 15-23-15-22z"/><path class="c49" d="M1040 5602l15-13 15-5-15 15zm633-10l15 16 16 14-16-20zm635 21l16 21 15-27-15-17z"/><path class="c50" d="M2066 5606l16-5 15 6-16 10z"/><path class="c51" d="M1583 5614l15-1 15-24-15-3zm302 6l15-13 15-15-15 9zm212-13l15-7 15 1-15 13z"/><path class="c52" d="M2248 5599l15 27 15-17-15-23z"/><path class="c53" d="M2036 5597l15 1 15 8-15 3zm303 10l15 15 15-26-15-12z"/><path class="c54" d="M889 5570l15 8 15 11-15-7z"/><path class="c55" d="M558 5554l15 17 15 9-15-23zm241 33l15-7 15-16-15 2zm1328 14l15-7 15-3-15 10z"/><path class="c56" d="M1371 5578l16 21 15 1-16-25z"/><path class="c57" d="M2006 5586l15 5 15 6-15-2zm212 1l15 23 15-11-15-21zm242-3l15 18 15 3-15-22z"/><path class="c58" d="M1070 5584l15-7 15-8-15 7z"/><path class="c59" d="M1160 5572l15 20 15-16-15-15zm30 4l16 20 15-19-16-15zm1179 20l15 9 15-21-15-8z"/><path class="c60" d="M498 5559l15 4 15-16-15-7zm723 18l15 16 15-20-15-11zm422-1l15 11 15 5-15-16zm514 15l15-3 15-6-15 4z"/><path class="c61" d="M859 5558l15 8 15 4-15-10zm754 31l15 1 15-14-15-5zm302 3l15-3 15-10-15-2z"/><path class="c62" d="M528 5547l15 7 15 0-15-14zm572 22l15 5 15-8-15-6zm30-3l15 17 15-11-15-14zm121 7l15 12 15-16-15-6zm725 6l15 7 15 0-15-6zm211 3l16 12 15-7-16-13z"/><path class="c63" d="M829 5564l15 1 15-7-15-8zm452 5l15 9 15-9-15-6zm60 0l15 11 15-2-15-15zm1058 15l16 7 15-12-16-7zm31-5l15 8 15-3-15-12z"/><path class="c64" d="M1311 5569l15 7 15-7-15-6zm634 10l16 6 15-6-16-8z"/><path class="c4" d="M2596 5718l16 6 15-18-15-7z"/><path class="c6" d="M664 5672l15 6 15 8-15-6zm30 14l15-7 15-6-15 8zm1872 14l15 20 15-2-15-22z"/><path class="c11" d="M1477 5687l15 25 15-20-15-23z"/><path class="c14" d="M2627 5706l15-6 15-25-15 3z"/><path class="c15" d="M1507 5692l15 12 15-29-15-11zm272-5l15-8 15 7-15 10z"/><path class="c17" d="M633 5639l16 17 15 16-16-19zm91 34l15-15 15-15-15 13z"/><path class="c18" d="M1447 5663l15 31 15-7-15-31zm1089 4l15 26 15 7-15-28z"/><path class="c19" d="M1749 5668l15 3 15 16-15-2z"/><path class="c21" d="M1809 5686l16-17 15-4-16 18z"/><path class="c27" d="M1537 5675l16 1 15-31-16-3z"/><path class="c31" d="M1719 5638l15 11 15 19-15-12z"/><path class="c32" d="M1417 5630l15 31 15 2-15-34z"/><path class="c33" d="M603 5603l16 19 14 17-15-23zm151 40l15-16 15-18-15 12zm1086 22l15-19 15-10-15 18z"/><path class="c35" d="M2506 5631l15 26 15 10-15-30z"/><path class="c40" d="M2293 5636l16 26 15-28-16-21z"/><path class="c42" d="M1568 5645l15-4 15-28-15 1zm695-19l15 31 15-21-15-27z"/><path class="c44" d="M2324 5634l15 19 15-31-15-15z"/><path class="c45" d="M965 5605l15-6 15 9-15 10zm723 3l16 14 15 16-15-16z"/><path class="c46" d="M995 5608l15-10 15 4-15 14z"/><path class="c47" d="M1387 5599l15 27 15 4-15-30zm483 37l15-16 15-13-15 13z"/><path class="c48" d="M934 5593l16 0 15 12-16 3z"/><path class="c49" d="M573 5571l15 18 15 14-15-23zm211 38l15-13 15-16-15 7zm1449 1l15 29 15-13-15-27z"/><path class="c50" d="M2475 5602l15 20 16 9-16-26z"/><path class="c51" d="M1025 5602l15-11 15-2-15 13zm1329 20l15 12 15-29-15-9z"/><path class="c53" d="M483 5585l15 2 15-24-15-4zm692 7l16 25 15-21-16-20z"/><path class="c54" d="M904 5578l15 5 15 10-15-4zm302 18l15 21 15-24-15-16z"/><path class="c55" d="M1598 5613l15-3 15-20-15-1z"/><path class="c56" d="M1145 5583l15 25 15-16-15-20zm937 18l15-2 15 1-15 7zm121-7l15 24 15-8-15-23z"/><path class="c57" d="M1236 5593l15 15 15-23-15-12zm422-6l15 12 15 9-15-16zm393 11l15 0 16 3-16 5z"/><path class="c58" d="M1055 5589l15-6 15-6-15 7zm301-9l16 17 15 2-16-21zm544 27l15-7 15-11-15 3zm212-7l15-3 15-3-15 7zm272 5l16 7 15-21-16-7z"/><path class="c59" d="M2021 5591l15 4 15 3-15-1z"/><path class="c60" d="M543 5554l15 12 15 5-15-17zm271 26l15-4 15-11-15-1zm60-14l15 8 15 4-15-8zm241 8l15 20 15-11-15-17z"/><path class="c61" d="M513 5563l15 3 15-12-15-7zm753 22l15 11 15-18-15-9zm876 9l15 0 15-6-15 3zm303-7l15 12 15 3-15-18z"/><path class="c62" d="M1085 5577l15 5 15-8-15-5zm543 13l15 2 15-5-15-11zm363-4l15 7 15-2-15-5zm181 2l16 12 15-6-16-12z"/><path class="c63" d="M844 5565l15 6 15-5-15-8zm452 13l15 7 15-9-15-7zm634 11l15 3 16-7-16-6zm485 2l15 6 15-10-15-8z"/><path class="c64" d="M1326 5576l15 8 15-4-15-11zm635 9l15 8 15-7-15-7z"/><path class="c3" d="M2581 5720l16 6 15-2-16-6z"/><path class="c6" d="M1492 5712l15 14 15-22-15-12z"/><path class="c8" d="M1462 5694l15 26 15-8-15-25zm1150 30l15-9 15-15-15 6z"/><path class="c10" d="M679 5678l15-5 15 6-15 7zm1872 15l15 17 15 10-15-20z"/><path class="c15" d="M649 5656l15 6 15 16-15-6zm60 23l15-15 15-6-15 15z"/><path class="c16" d="M1522 5704l16-1 15-27-16-1z"/><path class="c21" d="M1432 5661l15 30 15 3-15-31z"/><path class="c22" d="M2642 5700l15-14 15-22-15 11z"/><path class="c24" d="M1764 5671l15-5 15 13-15 8zm30 8l16-14 15 4-16 17z"/><path class="c26" d="M2521 5657l15 22 15 14-15-26z"/><path class="c28" d="M619 5622l15 14 15 20-16-17z"/><path class="c29" d="M739 5658l15-18 15-13-15 16z"/><path class="c31" d="M1553 5676l15-7 15-28-15 4zm181-27l15 4 15 18-15-3z"/><path class="c32" d="M1825 5669l15-18 15-5-15 19zm453-12l16 30 15-25-16-26z"/><path class="c33" d="M2309 5662l15 22 15-31-15-19z"/><path class="c37" d="M1402 5626l15 28 15 7-15-31z"/><path class="c38" d="M2248 5639l15 33 15-15-15-31z"/><path class="c40" d="M2339 5653l15 13 15-32-15-12z"/><path class="c43" d="M468 5615l15 0 15-28-15-2zm1236 7l15 9 15 18-15-11zm786 0l16 22 15 13-15-26z"/><path class="c44" d="M588 5589l16 17 15 16-16-19zm181 38l15-16 15-15-15 13zm1086 19l15-16 15-10-15 16z"/><path class="c46" d="M1191 5617l15 25 15-25-15-21z"/><path class="c47" d="M1583 5641l15-7 15-24-15 3zm635-23l15 29 15-8-15-29z"/><path class="c48" d="M1160 5608l16 29 15-20-16-25z"/><path class="c49" d="M1221 5617l15 19 15-28-15-15z"/><path class="c50" d="M2369 5634l15 6 16-28-16-7z"/><path class="c52" d="M980 5599l15-4 15 3-15 10zm392-2l15 22 15 7-15-27z"/><path class="c53" d="M950 5593l15 0 15 6-15 6zm180 1l16 27 14-13-15-25z"/><path class="c54" d="M1010 5598l15-6 15-1-15 11zm241 10l15 13 15-25-15-11zm422-9l16 11 15 12-16-14z"/><path class="c56" d="M498 5587l15-1 15-20-15-3zm60-21l16 14 14 9-15-18zm361 17l16 4 15 6-16 0zm966 37l15-10 15-10-15 7zm575-21l15 16 15 7-15-20z"/><path class="c57" d="M799 5596l15-8 15-12-15 4zm1389 4l15 22 15-4-15-24z"/><path class="c59" d="M1040 5591l15-4 15-4-15 6zm60-9l15 20 15-8-15-20zm513 28l15-3 15-15-15-2zm787 2l15 4 15-19-15-6z"/><path class="c60" d="M1281 5596l15 8 15-19-15-7z"/><path class="c61" d="M889 5574l16 7 14 2-15-5zm452 10l16 12 15 1-16-17zm695 11l15 8 15-5-15 0zm30 3l16 3 15-2-15 2zm31 1l15 2 15-4-15 3z"/><path class="c62" d="M528 5566l15 3 15-3-15-12zm542 17l15 5 15-6-15-5zm573 9l15 6 15 1-15-12zm363 1l15 12 15-10-15-4zm151 1l15 10 16-4-16-12z"/><path class="c63" d="M829 5576l15 2 15-7-15-6zm482 9l15 7 15-8-15-8zm604 15l15 0 15-8-15-3zm61-7l15 12 15-12-15-7zm151 4l15 3 15-6-15 0zm303 0l15 5 15-3-15-12z"/><path class="c64" d="M859 5571l15 7 15-4-15-8zm1086 21l16 10 15-9-15-8z"/><path class="c3" d="M1477 5720l15 13 15-7-15-14z"/><path class="c6" d="M2597 5726l15-7 15-4-15 9z"/><path class="c7" d="M1507 5726l16-3 15-20-16 1z"/><path class="c8" d="M2566 5710l16 7 15 9-16-6z"/><path class="c11" d="M1447 5691l15 22 15 7-15-26z"/><path class="c16" d="M2627 5715l15-16 15-13-15 14z"/><path class="c18" d="M664 5662l15-2 15 13-15 5zm30 11l15-12 15 3-15 15z"/><path class="c19" d="M2536 5679l15 15 15 16-15-17z"/><path class="c21" d="M1538 5703l15-10 15-24-15 7z"/><path class="c23" d="M2294 5687l15 25 15-28-15-22z"/><path class="c26" d="M2263 5672l16 33 15-18-16-30z"/><path class="c27" d="M634 5636l15 7 15 19-15-6zm90 28l15-18 15-6-15 18zm693-10l15 25 15 12-15-30z"/><path class="c29" d="M2324 5684l15 15 15-33-15-13z"/><path class="c32" d="M453 5647l15-2 15-30-15 0zm1326 19l16-10 15 9-16 14zm878 20l16-18 15-18-16 14z"/><path class="c34" d="M1749 5653l15-2 15 15-15 5z"/><path class="c35" d="M1810 5665l15-15 15 1-15 18zm696-21l15 18 15 17-15-22z"/><path class="c36" d="M2233 5647l15 33 15-8-15-33z"/><path class="c38" d="M1568 5669l15-12 15-23-15 7z"/><path class="c39" d="M1176 5637l15 29 15-24-15-25zm30 5l15 24 15-30-15-19zm1148 24l15 6 15-32-15-6z"/><path class="c40" d="M604 5606l15 12 15 18-15-14zm150 34l15-18 15-11-15 16z"/><path class="c43" d="M1387 5619l15 23 15 12-15-28zm332 12l15 5 15 17-15-4z"/><path class="c44" d="M1146 5621l15 31 15-15-16-29zm694 30l15-16 15-5-15 16z"/><path class="c45" d="M1236 5636l15 15 15-30-15-13z"/><path class="c47" d="M483 5615l15-4 15-25-15 1z"/><path class="c48" d="M2203 5622l15 28 15-3-15-29z"/><path class="c51" d="M2384 5640l16 1 15-25-15-4zm91-25l16 17 15 12-16-22z"/><path class="c52" d="M1115 5602l16 28 15-9-16-27z"/><path class="c53" d="M574 5580l15 13 15 13-16-17zm210 31l15-12 15-11-15 8zm482 10l15 8 15-25-15-8zm332 13l15-9 15-18-15 3zm91-24l15 9 15 12-15-9z"/><path class="c54" d="M1870 5630l15-12 15-8-15 10z"/><path class="c57" d="M1357 5596l15 17 15 6-15-22z"/><path class="c58" d="M965 5593l15 0 15 2-15 4zm30 2l15-2 15-1-15 6zm1177 9l16 19 15-1-15-22z"/><path class="c59" d="M513 5586l15-1 15-16-15-3zm422 1l15 3 15 3-15 0zm150 1l15 19 15-5-15-20z"/><path class="c60" d="M1296 5604l15 5 15-17-15-7zm1119 12l15 1 15-15-15-5z"/><path class="c61" d="M543 5569l16 8 15 3-16-14zm482 23l15 0 15-5-15 4zm633 6l16 8 15 4-16-11zm333 7l15 17 15-17-15-12zm30 0l15 15 15-17-15-8zm424-3l15 10 15 3-15-16z"/><path class="c62" d="M814 5588l15-2 15-8-15-2zm91-7l15 7 15-1-16-4zm150 6l15 6 15-5-15-5zm573 20l15-1 15-8-15-6zm272 3l15-2 15-8-15 0zm61-8l15 17 15-14-15-12zm90 1l16 11 15-13-16-3z"/><path class="c63" d="M874 5578l16 9 15-6-16-7zm452 14l16 7 15-3-16-12zm604 8l16 12 15-10-16-10zm152 1l15 8 15-8-15-2zm60-1l15 9 15-5-15-10z"/><path class="c64" d="M844 5578l15 7 15-7-15-7zm1268 23l15 7 15-8-15-3z"/><path class="c4" d="M1492 5733l16-3 15-7-16 3z"/><path class="c6" d="M1462 5713l15 13 15 7-15-13z"/><path class="c11" d="M2582 5717l15-5 15 7-15 7z"/><path class="c14" d="M1523 5723l15-12 15-18-15 10z"/><path class="c15" d="M2612 5719l15-15 15-5-15 16z"/><path class="c16" d="M2279 5705l15 28 15-21-15-25z"/><path class="c17" d="M2309 5712l15 17 15-30-15-15zm242-18l15 7 16 16-16-7z"/><path class="c19" d="M1432 5679l15 20 15 14-15-22z"/><path class="c21" d="M438 5677l15-5 15-27-15 2z"/><path class="c24" d="M2248 5680l15 33 16-8-16-33z"/><path class="c25" d="M679 5660l15-9 15 10-15 12z"/><path class="c27" d="M2339 5699l15 5 15-32-15-6zm303 0l15-19 16-12-16 18z"/><path class="c29" d="M649 5643l15 0 15 17-15 2zm60 18l15-16 15 1-15 18z"/><path class="c30" d="M1191 5666l15 27 15-27-15-24zm362 27l15-15 15-21-15 12z"/><path class="c31" d="M2521 5662l15 13 15 19-15-15z"/><path class="c33" d="M1161 5652l15 33 15-19-15-29z"/><path class="c34" d="M1221 5666l15 17 15-32-15-15z"/><path class="c35" d="M1402 5642l15 22 15 15-15-25z"/><path class="c37" d="M2218 5650l15 31 15-1-15-33z"/><path class="c38" d="M468 5645l15-9 15-25-15 4z"/><path class="c39" d="M619 5618l15 7 15 18-15-7zm120 28l15-18 15-6-15 18z"/><path class="c41" d="M1131 5630l15 32 15-10-15-31zm633 21l15-6 16 11-16 10zm31 5l15-11 15 5-15 15zm574 16l16-1 15-30-16-1z"/><path class="c43" d="M1251 5651l15 9 15-31-15-8z"/><path class="c45" d="M1734 5636l15 1 15 14-15 2z"/><path class="c46" d="M1583 5657l15-12 15-20-15 9zm242-7l15-14 15-1-15 16zm666-18l15 15 15 15-15-18z"/><path class="c50" d="M589 5593l15 10 15 15-15-12z"/><path class="c51" d="M769 5622l15-13 15-10-15 12zm603-9l15 18 15 11-15-23zm816 10l15 25 15 2-15-28z"/><path class="c52" d="M1100 5607l16 27 15-4-16-28z"/><path class="c53" d="M498 5611l16-7 14-19-15 1zm1206 8l15 6 15 11-15-5z"/><path class="c54" d="M1281 5629l15 5 15-25-15-5zm574 6l15-11 15-6-15 12zm545 6l15-2 15-22-15-1z"/><path class="c57" d="M1976 5619l15 22 15-19-15-17zm30 3l15 20 15-22-15-15z"/><path class="c58" d="M1613 5625l15-5 15-14-15 1zm847-13l16 12 15 8-16-17z"/><path class="c59" d="M1946 5612l15 21 15-14-15-17zm90 8l16 15 15-21-16-11z"/><path class="c60" d="M559 5577l15 9 15 7-15-13zm240 22l15-4 15-9-15 2zm271-6l15 17 15-3-15-19zm604 13l15 8 15 5-15-9z"/><path class="c61" d="M1311 5609l16 4 15-14-16-7zm31-10l15 11 15 3-15-17zm543 19l15-3 15-7-15 2zm272-9l16 15 15-1-16-19z"/><path class="c62" d="M528 5585l16 0 15-8-16-8zm392 3l15 13 15-11-15-3zm30 2l15 8 15-5-15 0zm30 3l15 4 15-4-15 2zm30 0l15 4 15-5-15 0zm905 15l16 14 15-10-16-12zm152 6l15 11 15-16-15-8zm363 3l15 2 15-7-15-10z"/><path class="c63" d="M859 5585l16 13 15-11-16-9zm31 2l15 14 15-13-15-7zm150 5l15 6 15-5-15-6zm603 14l16 5 15-5-16-8z"/><path class="c64" d="M829 5586l15 7 15-8-15-7zm1268 23l15 7 15-8-15-7zm30-1l15 7 15-6-15-9z"/><path class="c7" d="M1477 5726l16-1 15 5-16 3z"/><path class="c9" d="M2294 5733l15 19 15-23-15-17z"/><path class="c11" d="M1508 5730l15-12 15-7-15 12z"/><path class="c12" d="M423 5700l15-7 15-21-15 5z"/><path class="c13" d="M2263 5713l16 29 15-9-15-28z"/><path class="c14" d="M1447 5699l15 11 15 16-15-13z"/><path class="c16" d="M2324 5729l15 5 15-30-15-5z"/><path class="c19" d="M2597 5712l15-12 15 4-15 15z"/><path class="c20" d="M2566 5701l16-3 15 14-15 5z"/><path class="c22" d="M1176 5685l15 30 15-22-15-27z"/><path class="c23" d="M1206 5693l15 21 15-31-15-17z"/><path class="c24" d="M1538 5711l15-18 15-15-15 15z"/><path class="c25" d="M2233 5681l15 31 15 1-15-33z"/><path class="c27" d="M2627 5704l15-18 15-6-15 19z"/><path class="c28" d="M453 5672l16-12 14-24-15 9z"/><path class="c29" d="M1146 5662l15 34 15-11-15-33zm271 2l15 17 15 18-15-20zm1119 11l15 7 15 19-15-7z"/><path class="c30" d="M2354 5704l16-3 15-30-16 1z"/><path class="c31" d="M1236 5683l15 10 15-33-15-9z"/><path class="c35" d="M664 5643l15-5 15 13-15 9zm30 8l15-12 15 6-15 16z"/><path class="c40" d="M634 5625l15 2 15 16-15 0zm934 53l15-16 15-17-15 12z"/><path class="c41" d="M724 5645l15-15 15-2-15 18zm392-11l15 31 15-3-15-32zm1087 14l15 28 15 5-15-31z"/><path class="c42" d="M2506 5647l15 11 15 17-15-13z"/><path class="c44" d="M1266 5660l15 3 15-29-15-5z"/><path class="c45" d="M483 5636l16-11 15-21-16 7zm904-5l15 18 15 15-15-22zm998 40l15-6 15-26-15 2z"/><path class="c48" d="M1779 5645l16-6 15 6-15 11z"/><path class="c50" d="M604 5603l15 8 15 14-15-7zm150 25l15-13 15-6-15 13zm995 9l15-1 15 9-15 6zm61 8l15-9 15 0-15 14zm181-4l15 25 15-24-15-20z"/><path class="c52" d="M2021 5642l16 20 15-27-16-15z"/><path class="c53" d="M1085 5610l16 24 15 0-16-27zm876 23l15 26 15-18-15-22z"/><path class="c54" d="M1598 5645l15-11 15-14-15 5zm121-20l15 4 15 8-15-1z"/><path class="c55" d="M1296 5634l16 0 15-21-16-4zm544 2l15-8 15-4-15 11zm333-12l15 20 15 4-15-25zm303 0l15 12 15 11-15-15z"/><path class="c56" d="M2052 5635l15 14 15-24-15-11z"/><path class="c57" d="M1357 5610l15 13 15 8-15-18zm574 12l15 23 15-12-15-21z"/><path class="c58" d="M514 5604l15-5 15-14-16 0zm60-18l15 10 15 7-15-10zm1841 53l15-3 15-17-15-2z"/><path class="c59" d="M784 5609l15-7 15-7-15 4z"/><path class="c60" d="M875 5598l15 19 15-16-15-14zm30 3l15 18 15-18-15-13zm784 13l15 7 15 4-15-6z"/><path class="c61" d="M935 5601l15 14 15-17-15-8zm935 23l15-2 15-7-15 3zm30-9l16 15 15-8-16-14zm182 10l15 9 15-18-15-7z"/><path class="c62" d="M844 5593l16 17 15-12-16-13zm121 5l15 11 15-12-15-4zm90 0l15 14 15-2-15-17zm272 15l15 3 15-6-15-11zm301 7l16-1 15-8-16-5zm514-5l16 10 15-1-16-15zm303 4l15 4 16 1-16-12z"/><path class="c63" d="M544 5585l15 4 15-3-15-9zm270 10l15 7 15-9-15-7zm845 16l15 7 15-4-15-8z"/><path class="c64" d="M995 5597l15 7 15-7-15-4zm30 0l15 8 15-7-15-6zm1087 19l15 7 15-8-15-7z"/><path class="c5" d="M2279 5742l15 20 15-10-15-19z"/><path class="c7" d="M2309 5752l15 4 15-22-15-5z"/><path class="c8" d="M408 5712l16-9 14-10-15 7z"/><path class="c13" d="M1493 5725l15-10 15 3-15 12z"/><path class="c14" d="M1191 5715l15 24 15-25-15-21z"/><path class="c15" d="M1462 5710l16 1 15 14-16 1zm786 2l16 26 15 4-16-29z"/><path class="c18" d="M1161 5696l15 32 15-13-15-30z"/><path class="c19" d="M1221 5714l15 10 15-31-15-10zm1118 20l16-6 15-27-16 3z"/><path class="c21" d="M438 5693l16-15 15-18-16 12zm1085 25l15-18 15-7-15 18z"/><path class="c25" d="M1432 5681l15 10 15 19-15-11z"/><path class="c27" d="M2582 5698l15-8 15 10-15 12z"/><path class="c29" d="M1131 5665l15 33 15-2-15-34z"/><path class="c30" d="M2218 5676l15 27 15 9-15-31zm394 24l15-16 15 2-15 18z"/><path class="c31" d="M2551 5682l16 0 15 16-16 3z"/><path class="c32" d="M1251 5693l15 1 15-31-15-3z"/><path class="c35" d="M1553 5693l15-18 15-13-15 16z"/><path class="c36" d="M2370 5701l15-10 15-26-15 6z"/><path class="c38" d="M469 5660l15-15 15-20-16 11z"/><path class="c40" d="M1402 5649l15 14 15 18-15-17z"/><path class="c41" d="M2521 5658l15 7 15 17-15-7z"/><path class="c42" d="M679 5638l15-7 15 8-15 12z"/><path class="c43" d="M2006 5666l16 24 15-28-16-20z"/><path class="c44" d="M649 5627l15-1 15 12-15 5zm452 7l15 29 15 2-15-31zm875 25l15 29 15-22-15-25z"/><path class="c45" d="M709 5639l15-11 15 2-15 15z"/><path class="c47" d="M1281 5663l16-3 15-26-16 0zm907-19l15 23 15 9-15-28z"/><path class="c48" d="M2037 5662l15 16 15-29-15-14z"/><path class="c49" d="M1946 5645l15 30 15-16-15-26z"/><path class="c50" d="M1583 5662l15-14 15-14-15 11z"/><path class="c51" d="M619 5611l15 4 15 12-15-2zm120 19l15-11 15-4-15 13zm1661 35l15-8 15-21-15 3z"/><path class="c52" d="M2491 5636l15 9 15 13-15-11z"/><path class="c53" d="M499 5625l15-10 15-16-15 5zm873-2l15 14 15 12-15-18z"/><path class="c54" d="M2067 5649l15 10 15-25-15-9z"/><path class="c55" d="M890 5617l15 23 15-21-15-18zm874 19l16-1 15 4-16 6zm31 3l15-4 15 1-15 9z"/><path class="c56" d="M920 5619l15 19 15-23-15-14zm150-7l16 20 15 2-16-24zm846 18l15 25 15-10-15-23z"/><path class="c57" d="M860 5610l15 24 15-17-15-19zm874 19l15 2 15 5-15 1z"/><path class="c58" d="M589 5596l15 7 15 8-15-8zm180 19l15-6 15-7-15 7zm543 19l15-1 15-17-15-3zm513 2l15-5 15-3-15 8z"/><path class="c59" d="M950 5615l15 14 15-20-15-11zm1208 10l15 15 15 4-15-20z"/><path class="c60" d="M829 5602l16 20 15-12-16-17zm784 32l16-5 15-10-16 1z"/><path class="c61" d="M1704 5621l15 6 15 2-15-4zm151 7l15 0 15-6-15 2zm30-6l16 14 15-6-16-15zm212 12l15 6 15-17-15-7zm333 2l15-1 15-12-15-4zm30-13l16 9 15 4-15-12z"/><path class="c62" d="M529 5599l15-1 15-9-15-4zm270 3l16 8 14-8-15-7zm181 7l15 9 15-14-15-7zm362 7l15 5 15 2-15-13z"/><path class="c63" d="M559 5589l15 7 15 0-15-10zm481 16l15 9 15-2-15-14zm634 13l15 7 15-4-15-7zm453 5l16 7 15-5-16-10z"/><path class="c64" d="M1010 5604l15 8 15-7-15-8zm634 15l15 6 15-7-15-7z"/><path class="c3" d="M2294 5762l15 4 15-10-15-4z"/><path class="c7" d="M2264 5738l15 18 15 6-15-20z"/><path class="c8" d="M1176 5728l15 24 15-13-15-24z"/><path class="c9" d="M393 5709l16-7 15 1-16 9zm813 30l15 11 15-26-15-10z"/><path class="c11" d="M2324 5756l15-8 16-20-16 6z"/><path class="c17" d="M424 5703l15-16 15-9-16 15z"/><path class="c18" d="M1146 5698l15 30 15 0-15-32z"/><path class="c20" d="M1478 5711l15-6 15 10-15 10z"/><path class="c21" d="M1236 5724l15 0 15-30-15-1zm997-21l16 23 15 12-16-26z"/><path class="c23" d="M1508 5715l15-15 15 0-15 18z"/><path class="c26" d="M1447 5691l16 3 15 17-16-1zm908 37l15-13 15-24-15 10z"/><path class="c32" d="M454 5678l15-18 15-15-15 15z"/><path class="c33" d="M1116 5663l15 29 15 6-15-33z"/><path class="c34" d="M1538 5700l15-18 15-7-15 18z"/><path class="c35" d="M1991 5688l15 29 16-27-16-24z"/><path class="c36" d="M1266 5694l16-6 15-28-16 3zm1301-12l15-5 15 13-15 8zm30 8l15-12 15 6-15 16z"/><path class="c37" d="M1417 5663l15 10 15 18-15-10zm605 27l15 20 15-32-15-16z"/><path class="c38" d="M1961 5675l15 32 15-19-15-29zm242-8l15 23 15 13-15-27z"/><path class="c42" d="M2536 5665l16 2 15 15-16 0z"/><path class="c43" d="M2385 5691l15-12 15-22-15 8z"/><path class="c45" d="M2052 5678l15 12 15-31-15-10z"/><path class="c46" d="M1568 5675l15-16 15-11-15 14zm363-20l15 30 15-10-15-30z"/><path class="c47" d="M484 5645l15-14 15-16-15 10z"/><path class="c48" d="M1086 5632l15 24 15 7-15-29z"/><path class="c49" d="M875 5634l15 27 15-21-15-23zm30 6l15 24 15-26-15-19z"/><path class="c50" d="M664 5626l15-3 15 8-15 7zm30 5l15-7 15 4-15 11zm693 6l15 12 15 14-15-14z"/><path class="c51" d="M1297 5660l15-5 15-22-15 1zm1209-15l15 7 15 13-15-7z"/><path class="c52" d="M935 5638l15 17 15-26-15-14z"/><path class="c53" d="M634 5615l15 2 15 9-15 1zm1539 25l15 18 15 9-15-23z"/><path class="c54" d="M724 5628l15-8 15-1-15 11zm121-6l15 26 15-14-15-24zm1237 37l15 6 15-25-15-6z"/><path class="c56" d="M1901 5636l15 24 15-5-15-25z"/><path class="c57" d="M965 5629l15 11 15-22-15-9zm1450 28l15-7 15-15-15 1z"/><path class="c58" d="M1598 5648l16-8 15-11-16 5z"/><path class="c59" d="M514 5615l15-6 15-11-15 1zm90-12l15 6 15 6-15-4zm150 16l15-5 15-5-15 6zm61-9l15 21 15-9-16-20zm965 25l15 1 15-1-15 4z"/><path class="c60" d="M1055 5614l16 16 15 2-16-20zm302 7l15 10 15 6-15-14zm392 10l16 4 15 0-16 1zm61 4l15 0 15-4-15 5zm666-3l15 8 15 5-15-9z"/><path class="c61" d="M1327 5633l15 0 15-12-15-5zm785 7l16 5 15-15-16-7z"/><path class="c62" d="M784 5609l16 7 15-6-16-8zm211 9l15 8 15-14-15-8zm724 9l15 9 15-5-15-2zm121 4l15 3 15-6-15 0zm30-3l16 13 15-5-16-14zm273 2l15 9 15 1-15-15z"/><path class="c63" d="M574 5596l15 8 15-1-15-7zm1055 33l15 3 15-7-15-6zm60-4l15 11 15-9-15-6zm756 10l16 2 15-5-16-9z"/><path class="c64" d="M544 5598l15 5 15-7-15-7zm481 14l15 7 15-5-15-9zm634 13l15 9 15-9-15-7z"/><path class="c3" d="M1191 5752l15 13 15-15-15-11z"/><path class="c5" d="M2279 5756l15 5 15 5-15-4z"/><path class="c7" d="M2309 5766l15-9 15-9-15 8z"/><path class="c8" d="M1161 5728l15 23 15 1-15-24z"/><path class="c11" d="M1221 5750l15-3 15-23-15 0z"/><path class="c15" d="M379 5696l15-4 15 10-16 7zm1870 30l15 16 15 14-15-18z"/><path class="c18" d="M409 5702l15-14 15-1-15 16z"/><path class="c19" d="M2339 5748l16-16 15-17-15 13z"/><path class="c22" d="M1131 5692l15 27 15 9-15-30z"/><path class="c26" d="M1251 5724l16-10 15-26-16 6z"/><path class="c27" d="M1976 5707l15 31 15-21-15-29zm30 10l16 23 15-30-15-20z"/><path class="c29" d="M439 5687l15-18 15-9-15 18zm1054 18l15-12 15 7-15 15z"/><path class="c30" d="M1463 5694l15-4 15 15-15 6zm755-4l16 20 15 16-16-23z"/><path class="c33" d="M2037 5710l15 13 15-33-15-12z"/><path class="c35" d="M1523 5700l15-17 15-1-15 18zm423-15l15 34 15-12-15-32z"/><path class="c36" d="M2370 5715l15-17 15-19-15 12z"/><path class="c38" d="M1432 5673l16 4 15 17-16-3z"/><path class="c39" d="M1101 5656l15 26 15 10-15-29z"/><path class="c41" d="M890 5661l15 28 15-25-15-24z"/><path class="c43" d="M469 5660l15-17 15-12-15 14zm451 4l15 21 15-30-15-17zm362 24l15-10 15-23-15 5zm1300-11l15-7 15 8-15 12z"/><path class="c44" d="M860 5648l15 31 15-18-15-27zm1207 42l15 5 15-30-15-6z"/><path class="c45" d="M1553 5682l15-16 15-7-15 16z"/><path class="c46" d="M1916 5660l15 30 15-5-15-30zm272-2l15 19 15 13-15-23zm364 9l15-1 15 11-15 5z"/><path class="c48" d="M1402 5649l15 9 15 15-15-10z"/><path class="c49" d="M950 5655l15 14 15-29-15-11z"/><path class="c51" d="M830 5631l15 29 15-12-15-26zm1570 48l15-12 15-17-15 7z"/><path class="c52" d="M2521 5652l15 4 16 11-16-2z"/><path class="c54" d="M1071 5630l15 19 15 7-15-24z"/><path class="c55" d="M499 5631l15-10 15-12-15 6zm1598 34l15 2 16-22-16-5z"/><path class="c56" d="M679 5623l15-1 15 2-15 7zm633 32l15-6 15-16-15 0zm271 4l16-10 15-9-16 8z"/><path class="c57" d="M649 5617l15 2 15 4-15 3zm60 7l15-3 15-1-15 8zm271 16l15 9 15-23-15-8zm906 1l15 21 15-2-15-24z"/><path class="c58" d="M1372 5631l15 10 15 8-15-12z"/><path class="c59" d="M800 5616l15 21 15-6-15-21zm1358 23l15 14 15 5-15-18zm333 1l15 7 15 5-15-7z"/><path class="c60" d="M619 5609l15 6 15 2-15-2zm120 11l15-1 15-5-15 5z"/><path class="c61" d="M2430 5650l16-3 15-10-16-2z"/><path class="c62" d="M769 5614l16 8 15-6-16-7zm241 12l15 6 15-13-15-7zm30-7l16 10 15 1-16-16zm302 14l15 2 15-4-15-10zm272 7l15-1 15-7-15-3zm60-6l15 16 15-14-15-11zm30 2l15 16 15-16-15-9zm30 0l16 13 15-14-16-4zm31-1l15 9 15-8-15-1zm363 10l15 3 15-9-15-9z"/><path class="c63" d="M529 5609l15 1 15-7-15-5zm60-5l15 8 15-3-15-6zm1055 28l15 12 15-10-15-9zm151 4l15 5 15-6-15 0zm30-1l15 6 15-7-15-3zm30-1l15 11 16-4-16-13zm606 3l15 6 15-3-15-8z"/><path class="c64" d="M559 5603l15 8 15-7-15-8z"/><path class="c4" d="M1176 5751l15 11 15 3-15-13z"/><path class="c5" d="M1206 5765l15-5 15-13-15 3z"/><path class="c9" d="M2294 5761l15-7 15 3-15 9z"/><path class="c13" d="M2264 5742l15 5 15 14-15-5z"/><path class="c14" d="M1146 5719l15 21 15 11-15-23z"/><path class="c16" d="M2324 5757l16-17 15-8-16 16z"/><path class="c17" d="M1236 5747l16-12 15-21-16 10z"/><path class="c18" d="M1991 5738l16 27 15-25-16-23z"/><path class="c22" d="M2022 5740l15 15 15-32-15-13z"/><path class="c23" d="M394 5692l15-11 15 7-15 14zm1567 27l15 32 15-13-15-31z"/><path class="c25" d="M2234 5710l15 14 15 18-15-16z"/><path class="c29" d="M424 5688l15-17 15-2-15 18z"/><path class="c30" d="M1116 5682l15 23 15 14-15-27zm1239 50l15-19 15-15-15 17z"/><path class="c33" d="M905 5689l15 25 15-29-15-21zm1147 34l15 5 15-33-15-5z"/><path class="c34" d="M875 5679l15 32 15-22-15-28zm392 35l15-14 15-22-15 10z"/><path class="c35" d="M1931 5690l15 32 15-3-15-34z"/><path class="c37" d="M1478 5690l15-7 15 10-15 12z"/><path class="c38" d="M935 5685l15 16 15-32-15-14z"/><path class="c39" d="M1508 5693l15-13 15 3-15 17z"/><path class="c41" d="M454 5669l15-18 15-8-15 17zm391-9l15 32 15-13-15-31zm603 17l15-1 15 14-15 4zm755 0l15 16 16 17-16-20z"/><path class="c46" d="M1538 5683l15-14 15-3-15 16zm544 12l15 0 15-28-15-2zm303 3l15-15 15-16-15 12z"/><path class="c47" d="M1086 5649l15 21 15 12-15-26z"/><path class="c48" d="M965 5669l15 8 15-28-15-9zm936-7l15 27 15 1-15-30z"/><path class="c49" d="M1417 5658l16 5 15 14-16-4z"/><path class="c50" d="M815 5637l15 29 15-6-15-29zm482 41l15-10 15-19-15 6z"/><path class="c51" d="M2567 5666l15-2 15 6-15 7z"/><path class="c53" d="M484 5643l15-12 15-10-15 10z"/><path class="c54" d="M2173 5653l15 14 15 10-15-19z"/><path class="c55" d="M1568 5666l16-10 15-7-16 10zm968-10l16 3 15 7-15 1z"/><path class="c57" d="M995 5649l15 4 15-21-15-6zm392-8l15 8 15 9-15-9z"/><path class="c58" d="M1689 5650l15 20 15-18-15-16zm423 17l16 0 15-19-15-3zm303 0l15-7 16-13-16 3z"/><path class="c59" d="M785 5622l15 19 15-4-15-21zm271 7l15 15 15 5-15-19zm663 23l16 17 15-20-16-13zm151-7l16 17 15 0-15-21z"/><path class="c60" d="M1659 5644l15 20 15-14-15-16zm847 3l15 6 15 3-15-4z"/><path class="c61" d="M514 5621l15-3 15-8-15-1zm120-6l15 9 15-5-15-2zm30 4l15 4 15-1-15 1zm30 3l15 2 15-3-15 3zm633 27l15-3 15-11-15-2zm423 0l15 13 15-18-15-9z"/><path class="c62" d="M724 5621l16 3 14-5-15 1zm301 11l16 5 15-8-16-10zm574 17l15-2 15-8-15 1zm30-10l15 16 15-11-15-12zm514 9l15 4 15 1-15-14z"/><path class="c63" d="M574 5611l15 12 15-11-15-8zm30 1l15 13 15-10-15-6zm150 7l16 7 15-4-16-8zm603 16l15 7 15-1-15-10zm423 9l15 10 15-13-15-5zm666 3l15 3 15-7-15-6zm30-4l15 7 15-3-15-7z"/><path class="c64" d="M544 5610l15 9 15-8-15-8zm1266 31l15 8 15-8-15-6zm30 0l15 8 15-4-15-11z"/><path class="c5" d="M1191 5762l15-2 15 0-15 5z"/><path class="c10" d="M1161 5740l15 10 15 12-15-11z"/><path class="c12" d="M2007 5765l15 17 15-27-15-15z"/><path class="c13" d="M1221 5760l16-14 15-11-16 12zm755-9l16 28 15-14-16-27z"/><path class="c16" d="M2279 5747l15-4 15 11-15 7z"/><path class="c18" d="M2309 5754l16-14 15 0-16 17z"/><path class="c21" d="M2037 5755l15 4 15-31-15-5z"/><path class="c23" d="M1131 5705l15 18 15 17-15-21zm815 17l15 32 15-3-15-32z"/><path class="c24" d="M890 5711l15 29 15-26-15-25zm1359 13l15 5 15 18-15-5z"/><path class="c27" d="M920 5714l15 19 15-32-15-16zm332 21l15-17 15-18-15 14z"/><path class="c28" d="M2340 5740l15-19 15-8-15 19z"/><path class="c29" d="M860 5692l15 34 15-15-15-32z"/><path class="c33" d="M409 5681l15-14 15 4-15 17z"/><path class="c35" d="M2067 5728l15-3 15-30-15 0z"/><path class="c36" d="M950 5701l15 9 15-33-15-8z"/><path class="c37" d="M2218 5693l16 12 15 19-15-14z"/><path class="c38" d="M1916 5689l15 30 15 3-15-32z"/><path class="c40" d="M830 5666l15 32 15-6-15-32zm271 4l15 19 15 16-15-23z"/><path class="c41" d="M439 5671l15-16 15-4-15 18z"/><path class="c42" d="M2370 5713l15-17 15-13-15 15z"/><path class="c43" d="M1282 5700l15-14 15-18-15 10z"/><path class="c46" d="M1463 5676l15-3 15 10-15 7zm30 7l15-8 15 5-15 13z"/><path class="c48" d="M980 5677l16 3 14-27-15-4z"/><path class="c49" d="M1523 5680l15-11 15 0-15 14z"/><path class="c50" d="M2097 5695l16-4 15-24-16 0zm91-28l15 13 15 13-15-16z"/><path class="c51" d="M469 5651l15-12 15-8-15 12zm331-10l15 26 15-1-15-29zm633 22l15 2 15 11-15 1z"/><path class="c52" d="M1886 5662l15 23 15 4-15-27z"/><path class="c53" d="M1704 5670l16 23 15-24-16-17z"/><path class="c54" d="M1071 5644l15 15 15 11-15-21zm603 20l15 26 15-20-15-20z"/><path class="c55" d="M1735 5669l15 18 15-25-15-13zm665 14l15-11 15-12-15 7z"/><path class="c56" d="M1553 5669l16-8 15-5-16 10z"/><path class="c57" d="M1312 5668l15-8 15-14-15 3zm90-19l16 7 15 7-16-5zm242 6l15 23 15-14-15-20z"/><path class="c58" d="M2552 5659l15 2 15 3-15 2z"/><path class="c59" d="M1010 5653l16 2 15-18-16-5zm755 9l15 13 15-21-15-10z"/><path class="c60" d="M499 5631l15-5 15-8-15 3zm1629 36l15-1 15-14-15-4zm30-15l15 10 15 5-15-14z"/><path class="c61" d="M589 5623l15 17 15-15-15-13zm30 2l15 16 15-17-15-9zm151 1l15 17 15-2-15-19zm814 30l15-2 15-7-15 2zm30-9l15 17 15-9-15-16zm241 2l16 13 15 0-16-17zm666 4l16 5 15 1-16-3z"/><path class="c62" d="M559 5619l15 16 15-12-15-12zm90 5l15 13 15-14-15-4zm392 13l15 6 15 1-15-15zm331 5l15 7 15 0-15-8zm1058 18l16-1 15-9-15-3z"/><path class="c63" d="M529 5618l15 10 15-9-15-9zm150 5l15 9 15-8-15-2zm30 1l16 7 15-7-16-3zm633 22l15 3 15-7-15-7zm453 8l15 8 15-13-15-8zm696-4l15 8 15-5-15-6z"/><path class="c64" d="M740 5624l15 8 15-6-16-7zm1085 25l15 7 15-7-15-8zm636 1l15 8 15-8-15-7z"/><path class="c5" d="M1992 5779l15 19 15-16-15-17z"/><path class="c11" d="M1176 5750l15-1 15 11-15 2zm846 32l15 3 15-26-15-4z"/><path class="c12" d="M1961 5754l16 27 15-2-16-28z"/><path class="c13" d="M1206 5760l16-12 15-2-16 14z"/><path class="c17" d="M905 5740l15 21 15-28-15-19z"/><path class="c18" d="M875 5726l15 31 15-17-15-29z"/><path class="c20" d="M1146 5723l15 9 15 18-15-10z"/><path class="c23" d="M1237 5746l15-18 15-10-15 17z"/><path class="c24" d="M935 5733l15 9 15-32-15-9zm1117 26l15-6 15-28-15 3zm242-16l15-11 16 8-16 14z"/><path class="c26" d="M1931 5719l15 29 15 6-15-32z"/><path class="c27" d="M845 5698l15 34 15-6-15-34zm1419 31l15-1 15 15-15 4z"/><path class="c29" d="M2325 5740l15-17 15-2-15 19z"/><path class="c35" d="M1116 5689l15 15 15 19-15-18z"/><path class="c36" d="M2234 5705l15 6 15 18-15-5z"/><path class="c38" d="M965 5710l16 1 15-31-16-3zm302 8l15-18 15-14-15 14z"/><path class="c40" d="M2355 5721l15-18 15-7-15 17z"/><path class="c41" d="M815 5667l15 31 15 0-15-32zm1267 58l16-8 15-26-16 4z"/><path class="c43" d="M1901 5685l15 26 15 8-15-30z"/><path class="c44" d="M424 5667l15-13 15 1-15 16z"/><path class="c46" d="M1689 5690l16 27 15-24-16-23z"/><path class="c47" d="M1720 5693l15 22 15-28-15-18z"/><path class="c48" d="M2203 5680l16 10 15 15-16-12z"/><path class="c49" d="M1086 5659l15 16 15 14-15-19zm573 19l15 29 15-17-15-26z"/><path class="c51" d="M996 5680l15-1 15-24-16-2zm754 7l15 15 15-27-15-13z"/><path class="c52" d="M454 5655l15-12 15-4-15 12zm843 31l15-12 15-14-15 8zm1088 10l15-14 15-10-15 11z"/><path class="c53" d="M1478 5673l15-3 15 5-15 8z"/><path class="c54" d="M785 5643l15 22 15 2-15-26zm723 32l15-6 15 0-15 11z"/><path class="c55" d="M1448 5665l15 2 15 6-15 3zm181-1l15 25 15-11-15-23zm484 27l15-6 15-19-15 1z"/><path class="c56" d="M1871 5662l15 18 15 5-15-23z"/><path class="c57" d="M604 5640l15 21 15-20-15-16zm934 29l15-5 16-3-16 8z"/><path class="c58" d="M574 5635l15 22 15-17-15-17zm60 6l15 17 15-21-15-13zm1146 34l15 9 15-22-15-8zm393-13l15 10 15 8-15-13z"/><path class="c59" d="M484 5639l15-6 15-7-15 5zm934 17l15 5 15 4-15-2z"/><path class="c60" d="M544 5628l15 19 15-12-15-16zm512 15l15 11 15 5-15-15z"/><path class="c61" d="M664 5637l16 12 14-17-15-9zm362 18l15 1 15-13-15-6zm573-1l15 17 15-7-15-17zm816 18l16-4 15-9-16 1z"/><path class="c62" d="M514 5626l15 10 15-8-15-10zm241 6l15 12 15-1-15-17zm572 28l15-2 15-9-15-3zm60-11l16 7 15 0-16-7zm182 12l15-1 15-6-15 2zm241 1l15 7 15-13-15-7zm333 4l15 1 15-5-15-10zm394-8l15 11 15-8-15-2z"/><path class="c63" d="M694 5632l16 9 15-10-16-7zm1146 24l16 8 15-2-16-13zm636 2l15 12 15-12-15-8zm30 0l16 13 15-13-16-5z"/><path class="c64" d="M725 5631l15 7 15-6-15-8zm632 18l15 7 15-7-15-7zm1089 10l15 7 15-8-15-8z"/><path class="c4" d="M2007 5798l15 2 15-15-15-3z"/><path class="c5" d="M1977 5781l15 17 15 0-15-19z"/><path class="c9" d="M890 5757l15 23 15-19-15-21z"/><path class="c13" d="M920 5761l15 9 15-28-15-9z"/><path class="c15" d="M2037 5785l15-9 15-23-15 6z"/><path class="c16" d="M860 5732l15 30 15-5-15-31z"/><path class="c17" d="M1946 5748l16 24 15 9-16-27z"/><path class="c18" d="M1191 5749l16-9 15 8-16 12z"/><path class="c21" d="M1161 5732l15 2 15 15-15 1z"/><path class="c23" d="M1222 5748l15-17 15-3-15 18z"/><path class="c26" d="M950 5742l16-1 15-30-16-1z"/><path class="c30" d="M830 5698l15 31 15 3-15-34z"/><path class="c31" d="M2067 5753l16-12 15-24-16 8z"/><path class="c32" d="M1131 5704l15 9 15 19-15-9z"/><path class="c33" d="M1916 5711l15 25 15 12-15-29zm363 17l15-7 15 11-15 11z"/><path class="c34" d="M2309 5732l16-13 15 4-15 17z"/><path class="c35" d="M1252 5728l15-18 15-10-15 18z"/><path class="c38" d="M1705 5717l15 26 15-28-15-22zm544-6l15 1 15 16-15 1z"/><path class="c39" d="M1674 5707l15 31 16-21-16-27z"/><path class="c41" d="M981 5711l15-5 15-27-15 1zm754 4l15 18 15-31-15-15zm605 8l15-16 15-4-15 18z"/><path class="c45" d="M800 5665l15 27 15 6-15-31z"/><path class="c46" d="M1101 5675l15 12 15 17-15-15zm543 14l15 31 15-13-15-29z"/><path class="c47" d="M2098 5717l15-11 15-21-15 6zm121-27l15 6 15 15-15-6z"/><path class="c49" d="M1282 5700l15-14 15-12-15 12zm483 2l15 11 15-29-15-9zm121-22l15 21 15 10-15-26z"/><path class="c51" d="M589 5657l15 26 15-22-15-21zm1781 46l15-13 15-8-15 14z"/><path class="c52" d="M619 5661l15 22 15-25-15-17z"/><path class="c53" d="M439 5654l15-8 15-3-15 12z"/><path class="c54" d="M559 5647l15 27 15-17-15-22z"/><path class="c55" d="M649 5658l16 15 15-24-16-12zm362 21l15-4 15-19-15-1zm603-8l15 25 15-7-15-25z"/><path class="c57" d="M1071 5654l15 12 15 9-15-16zm1117 18l16 9 15 9-16-10z"/><path class="c58" d="M770 5644l15 18 15 3-15-22zm693 23l15 1 15 2-15 3zm30 3l15-1 15 0-15 6zm302 14l15 6 15-21-15-7z"/><path class="c59" d="M469 5643l15-4 15-6-15 6zm60-7l15 22 15-11-15-19zm783 38l15-6 15-10-15 2zm816 11l15-4 15-14-15-1zm272-3l16-6 15-8-16 4z"/><path class="c60" d="M680 5649l15 10 15-18-16-9zm843 20l15-1 15-4-15 5zm333-5l15 13 15 3-15-18z"/><path class="c61" d="M1433 5661l15 5 15 1-15-2zm151-1l15 16 15-5-15-17zm907 10l15 17 16-16-16-13zm31 1l15 16 15-18-15-11z"/><path class="c62" d="M499 5633l15 10 15-7-15-10zm542 23l15 2 15-4-15-11zm512 8l16 3 15-7-15 1zm605 3l15 5 15 0-15-10zm303-1l15 16 15-12-15-12z"/><path class="c63" d="M710 5641l15 7 15-10-15-7zm30-3l15 9 15-3-15-12zm663 18l15 10 15-5-15-5zm422 13l16 5 15-10-16-8zm606-1l15 8 15-10-15-7z"/><path class="c64" d="M1342 5658l15 5 15-7-15-7zm30-2l16 8 15-8-16-7z"/><path class="c3" d="M1992 5798l15 3 15-1-15-2z"/><path class="c5" d="M905 5780l15 10 15-20-15-9z"/><path class="c7" d="M875 5762l15 24 15-6-15-23z"/><path class="c9" d="M2022 5800l15-10 15-14-15 9z"/><path class="c10" d="M1962 5772l15 15 15 11-15-17z"/><path class="c15" d="M935 5770l16-3 15-26-16 1z"/><path class="c19" d="M845 5729l15 28 15 5-15-30z"/><path class="c23" d="M2052 5776l15-15 16-20-16 12z"/><path class="c25" d="M1931 5736l15 21 16 15-16-24z"/><path class="c27" d="M1176 5734l16-6 15 12-16 9z"/><path class="c28" d="M1207 5740l15-13 15 4-15 17z"/><path class="c29" d="M1689 5738l16 30 15-25-15-26z"/><path class="c31" d="M966 5741l15-8 15-27-15 5zm754 2l15 22 15-32-15-18z"/><path class="c33" d="M1146 5713l15 3 15 18-15-2z"/><path class="c35" d="M815 5692l15 27 15 10-15-31zm422 39l15-17 15-4-15 18zm422-11l15 33 15-15-15-31z"/><path class="c38" d="M1750 5733l15 12 15-32-15-11z"/><path class="c40" d="M2083 5741l15-15 15-20-15 11z"/><path class="c41" d="M2294 5721l16-9 15 7-16 13z"/><path class="c42" d="M1901 5701l15 21 15 14-15-25z"/><path class="c43" d="M2264 5712l15-3 15 12-15 7z"/><path class="c44" d="M604 5683l16 26 14-26-15-22zm512 4l15 9 15 17-15-9zm1209 32l15-13 15 1-15 16z"/><path class="c45" d="M574 5674l15 29 15-20-15-26zm1055 22l15 31 15-7-15-31z"/><path class="c47" d="M634 5683l16 19 15-29-16-15zm362 23l15-8 15-23-15 4zm271 4l15-16 15-8-15 14z"/><path class="c49" d="M1780 5713l15 5 15-28-15-6zm454-17l15 4 15 12-15-1z"/><path class="c51" d="M544 5658l15 29 15-13-15-27zm241 4l15 22 15 8-15-27zm1570 45l15-12 15-5-15 13z"/><path class="c53" d="M665 5673l15 13 15-27-15-10z"/><path class="c54" d="M2113 5706l15-9 15-16-15 4z"/><path class="c55" d="M1086 5666l15 10 15 11-15-12zm513 10l15 23 15-3-15-25z"/><path class="c56" d="M1871 5677l15 16 15 8-15-21zm333 4l15 7 15 8-15-6zm302 6l16 22 15-22-15-16z"/><path class="c57" d="M1297 5686l15-9 15-9-15 6zm1179-4l15 23 15-18-15-17z"/><path class="c58" d="M514 5643l15 23 15-8-15-22z"/><path class="c59" d="M695 5659l15 8 15-19-15-7zm331 16l15-3 15-14-15-2zm784 15l16 3 15-19-16-5zm575 0l16-6 15-8-16 6z"/><path class="c60" d="M454 5646l15-2 15-5-15 4zm1992 30l15 19 15-13-15-16z"/><path class="c61" d="M755 5647l15 13 15 2-15-18z"/><path class="c62" d="M484 5639l15 10 15-6-15-10zm572 19l15 6 15 2-15-12zm362 8l15 13 15-13-15-5zm30 0l15 11 15-9-15-1zm30 2l15 5 15-4-15 1zm30 1l15 4 15-5-15 1zm61-2l15 12 15-3-15-16zm272 7l15 5 15-2-15-13zm302 7l15 0 15-9-15-5zm30-9l16 8 15 1-16-9zm243 4l15 9 15-9-15-8z"/><path class="c63" d="M725 5648l15 7 15-8-15-9zm602 20l15 2 15-7-15-5zm30-5l16 12 15-11-16-8zm31 1l15 15 15-13-15-10zm150 4l16 5 15-6-16-3z"/><path class="c2" d="M890 5786l15 9 15-5-15-10z"/><path class="c8" d="M920 5790l16-5 15-18-16 3zm1087 11l15-9 15-2-15 10z"/><path class="c9" d="M1977 5787l15 4 15 10-15-3z"/><path class="c10" d="M860 5757l15 20 15 9-15-24z"/><path class="c18" d="M2037 5790l15-17 15-12-15 15z"/><path class="c20" d="M1946 5757l16 13 15 17-15-15z"/><path class="c21" d="M1705 5768l15 25 15-28-15-22z"/><path class="c22" d="M951 5767l15-11 15-23-15 8z"/><path class="c23" d="M1674 5753l16 33 15-18-16-30z"/><path class="c26" d="M830 5719l15 25 15 13-15-28z"/><path class="c27" d="M1735 5765l15 13 15-33-15-12z"/><path class="c33" d="M1644 5727l15 34 15-8-15-33z"/><path class="c34" d="M2067 5761l16-18 15-17-15 15z"/><path class="c35" d="M1192 5728l15-10 15 9-15 13zm724-6l15 17 15 18-15-21z"/><path class="c36" d="M589 5703l16 31 15-25-16-26z"/><path class="c37" d="M620 5709l15 24 15-31-16-19zm541 7l16-2 15 14-16 6z"/><path class="c38" d="M1765 5745l15 4 15-31-15-5z"/><path class="c39" d="M981 5733l15-13 15-22-15 8zm241-6l15-15 15 2-15 17z"/><path class="c41" d="M559 5687l15 32 15-16-15-29z"/><path class="c42" d="M800 5684l15 23 15 12-15-27z"/><path class="c43" d="M650 5702l15 15 15-31-15-13z"/><path class="c44" d="M1131 5696l15 4 15 16-15-3z"/><path class="c46" d="M1614 5699l15 29 15-1-15-31z"/><path class="c47" d="M1252 5714l15-15 15-5-15 16z"/><path class="c49" d="M529 5666l15 29 15-8-15-29zm1569 60l15-13 15-16-15 9zm181-17l16-4 15 7-16 9zm31 3l15-8 15 2-15 13z"/><path class="c50" d="M2491 5705l16 26 15-22-16-22z"/><path class="c51" d="M1795 5718l15 0 16-25-16-3zm91-25l15 16 15 13-15-21z"/><path class="c52" d="M680 5686l15 7 15-26-15-8zm1569 14l15 0 15 9-15 3z"/><path class="c54" d="M1011 5698l15-8 15-18-15 3zm90-22l15 8 15 12-15-9zm1239 30l15-9 15-2-15 12zm121-11l15 26 15-16-15-23z"/><path class="c56" d="M770 5660l15 17 15 7-15-22zm512 34l15-9 15-8-15 9z"/><path class="c57" d="M1584 5679l15 21 15-1-15-23zm635 9l15 5 15 7-15-4z"/><path class="c58" d="M499 5649l15 21 15-4-15-23z"/><path class="c59" d="M2370 5695l15-5 16-6-16 6zm61-10l15 21 15-11-15-19z"/><path class="c60" d="M710 5667l15 5 15-17-15-7zm663 8l15 19 15-15-15-15zm30 4l15 19 15-19-15-13zm30 0l15 16 15-18-15-11zm393 14l15 1 15-15-15-5zm302 4l15-5 15-11-15 0z"/><path class="c61" d="M1071 5664l15 8 15 4-15-10zm785 15l15 10 15 4-15-16z"/><path class="c62" d="M469 5644l15 9 15-4-15-10zm572 28l15 0 15-8-15-6zm271 5l15 1 15-8-15-2zm30-7l16 16 15-11-16-12zm121 7l15 12 15-16-15-5zm726 3l15 7 15 1-15-7zm212 4l15 8 15-7-15-9z"/><path class="c63" d="M740 5655l15 6 15-1-15-13zm753 18l15 9 15-9-15-4zm61 0l15 10 15-4-15-12z"/><path class="c64" d="M1523 5673l16 7 15-7-16-5zm635 8l15 6 16-7-16-8z"/><path class="c5" d="M905 5795l16-5 15-5-16 5z"/><path class="c6" d="M875 5777l15 10 15 8-15-9z"/><path class="c13" d="M1690 5786l15 27 15-20-15-25zm302 5l15-6 15 7-15 9z"/><path class="c15" d="M936 5785l15-14 15-15-15 11zm784 8l15 14 15-29-15-13z"/><path class="c18" d="M845 5744l15 18 15 15-15-20zm1177 48l15-15 15-4-15 17z"/><path class="c19" d="M1962 5770l15 5 15 16-15-4z"/><path class="c21" d="M1659 5761l16 32 15-7-16-33z"/><path class="c26" d="M1750 5778l15 3 15-32-15-4z"/><path class="c27" d="M605 5734l15 26 15-27-15-24z"/><path class="c29" d="M574 5719l16 33 15-18-16-31z"/><path class="c30" d="M2052 5773l16-19 15-11-16 18z"/><path class="c31" d="M966 5756l15-16 15-20-15 13zm965-17l16 12 15 19-16-13z"/><path class="c32" d="M635 5733l15 16 15-32-15-15z"/><path class="c35" d="M815 5707l15 21 15 16-15-25zm814 21l15 32 15 1-15-34z"/><path class="c38" d="M544 5695l16 33 14-9-15-32z"/><path class="c41" d="M1780 5749l15-2 15-29-15 0z"/><path class="c42" d="M665 5717l15 8 15-32-15-7z"/><path class="c43" d="M1177 5714l15-5 15 9-15 10z"/><path class="c44" d="M1207 5718l15-10 15 4-15 15z"/><path class="c45" d="M2083 5743l15-16 15-14-15 13zm393-22l16 30 15-20-16-26z"/><path class="c46" d="M1901 5709l15 14 15 16-15-17z"/><path class="c47" d="M996 5720l15-12 15-18-15 8zm150-20l16 1 15 13-16 2z"/><path class="c49" d="M1237 5712l15-11 15-2-15 15zm362-12l15 25 15 3-15-29z"/><path class="c50" d="M514 5670l15 28 15-3-15-29zm271 7l15 18 15 12-15-23z"/><path class="c51" d="M2446 5706l15 28 15-13-15-26z"/><path class="c53" d="M695 5693l15 4 15-25-15-5z"/><path class="c54" d="M1116 5684l15 6 15 10-15-4zm694 34l16-2 15-22-15-1z"/><path class="c55" d="M1388 5694l15 24 15-20-15-19zm30 4l15 21 15-24-15-16zm877 7l15-3 15 2-15 8z"/><path class="c56" d="M1267 5699l15-8 15-6-15 9zm997 1l15 1 16 4-16 4z"/><path class="c57" d="M1448 5695l15 16 15-22-15-12zm665 18l15-9 15-12-15 5zm212-9l15-5 15-2-15 9z"/><path class="c58" d="M1358 5686l15 23 15-15-15-19zm513 3l15 12 15 8-15-16zm545 3l15 22 15-8-15-21z"/><path class="c59" d="M484 5653l15 19 15-2-15-21zm542 37l15-5 15-13-15 0zm1208 3l15 4 15 3-15 0z"/><path class="c60" d="M1569 5683l15 16 15 1-15-21zm786 14l15-2 15-5-15 5z"/><path class="c61" d="M725 5672l15 4 15-15-15-6zm30-11l15 12 15 4-15-17zm331 11l15 8 15 4-15-8zm211 13l15 0 15-7-15-1zm30-7l16 18 15-10-16-16zm151 11l15 11 15-18-15-9z"/><path class="c62" d="M1841 5694l15 2 15-7-15-10zm363-7l15 7 15-1-15-5zm181 3l16 8 15-6-15-8z"/><path class="c63" d="M1056 5672l15 5 15-5-15-8zm452 10l16 8 15-10-16-7zm635 10l15 2 15-7-15-6z"/><path class="c64" d="M1539 5680l15 8 15-5-15-10zm634 7l16 7 15-7-15-7z"/><path class="c7" d="M1705 5813l15 16 15-22-15-14z"/><path class="c9" d="M890 5787l16-3 15 6-16 5z"/><path class="c11" d="M1675 5793l15 27 15-7-15-27z"/><path class="c13" d="M921 5790l15-13 15-6-15 14z"/><path class="c15" d="M860 5762l16 9 14 16-15-10zm875 45l15 3 15-29-15-3z"/><path class="c19" d="M590 5752l15 30 15-22-15-26z"/><path class="c20" d="M620 5760l15 19 15-30-15-16z"/><path class="c22" d="M1977 5775l15-4 15 14-15 6zm30 10l15-13 15 5-15 15z"/><path class="c23" d="M1644 5760l16 30 15 3-16-32z"/><path class="c26" d="M560 5728l15 34 15-10-16-33zm391 43l15-18 15-13-15 16z"/><path class="c29" d="M830 5728l15 15 15 19-15-18z"/><path class="c30" d="M650 5749l15 8 15-32-15-8zm1115 32l15-5 15-29-15 2zm272-4l16-18 15-5-16 19z"/><path class="c31" d="M1947 5751l15 6 15 18-15-5z"/><path class="c39" d="M529 5698l16 32 15-2-16-33zm1085 27l15 28 15 7-15-32z"/><path class="c40" d="M2461 5734l15 32 16-15-16-30z"/><path class="c42" d="M981 5740l15-17 15-15-15 12zm1087 14l15-17 15-10-15 16z"/><path class="c43" d="M680 5725l15 1 15-29-15-4zm1236-2l16 11 15 17-16-12z"/><path class="c45" d="M800 5695l15 17 15 16-15-21z"/><path class="c46" d="M1795 5747l16-7 15-24-16 2z"/><path class="c48" d="M1403 5718l15 25 15-24-15-21z"/><path class="c50" d="M1192 5709l15-6 15 5-15 10zm181 0l15 28 15-19-15-24zm60 10l15 19 15-27-15-16zm998-5l15 28 15-8-15-28z"/><path class="c52" d="M499 5672l15 25 15 1-15-28zm663 29l15 0 15 8-15 5z"/><path class="c53" d="M1222 5708l15-7 15 0-15 11zm362-9l15 21 15 5-15-25z"/><path class="c54" d="M2098 5727l15-12 15-11-15 9z"/><path class="c55" d="M710 5697l15 0 15-21-15-4zm301 11l15-10 15-13-15 5zm332-12l15 25 15-12-15-23zm120 15l15 14 15-25-15-11zm423-10l15 11 15 11-15-14z"/><path class="c56" d="M1131 5690l16 4 15 7-16-1z"/><path class="c57" d="M770 5673l15 14 15 8-15-18zm482 28l15-6 15-4-15 8z"/><path class="c58" d="M1826 5716l15-4 15-16-15-2zm575-18l15 20 15-4-15-22z"/><path class="c60" d="M1493 5700l16 8 15-18-16-8zm786 1l16 2 15-1-15 3zm31 1l15 0 15-3-15 5z"/><path class="c61" d="M1101 5680l15 7 15 3-15-6zm211 5l16 19 15-8-16-18zm937 12l15 6 15-2-15-1z"/><path class="c62" d="M740 5676l15 3 15-6-15-12zm542 15l15 1 15-7-15 0zm272-3l15 11 15 0-15-16zm302 8l15 4 15 1-15-12zm272 8l15-2 15-8-15-2zm91-10l15 11 15-8-15-4zm121 5l15 2 15-6-15 2z"/><path class="c63" d="M1041 5685l15 0 15-8-15-5zm483 5l15 7 15-9-15-8zm665 4l15 11 15-11-15-7zm181 1l16 8 15-5-16-8z"/><path class="c64" d="M1071 5677l15 8 15-5-15-8zm1087 17l16 8 15-8-16-7z"/><path class="c4" d="M1690 5820l15 17 15-8-15-16z"/><path class="c6" d="M1720 5829l15 1 15-20-15-3z"/><path class="c11" d="M605 5782l15 21 15-24-15-19z"/><path class="c13" d="M1660 5790l15 25 15 5-15-27z"/><path class="c15" d="M575 5762l15 31 15-11-15-30z"/><path class="c16" d="M906 5784l15-11 15 4-15 13z"/><path class="c17" d="M876 5771l15 0 15 13-16 3z"/><path class="c18" d="M635 5779l15 8 15-30-15-8z"/><path class="c19" d="M1750 5810l15-8 15-26-15 5z"/><path class="c24" d="M936 5777l15-18 15-6-15 18z"/><path class="c27" d="M545 5730l15 33 15-1-15-34zm300 13l16 9 15 19-16-9z"/><path class="c29" d="M1629 5753l16 27 15 10-16-30z"/><path class="c30" d="M1992 5771l15-8 15 9-15 13z"/><path class="c31" d="M665 5757l15-1 15-30-15-1z"/><path class="c33" d="M1962 5757l15-1 15 15-15 4zm60 15l16-15 15 2-16 18z"/><path class="c36" d="M1780 5776l16-11 15-25-16 7z"/><path class="c38" d="M966 5753l15-18 15-12-15 17z"/><path class="c39" d="M2446 5742l15 33 15-9-15-32z"/><path class="c40" d="M815 5712l15 13 15 18-15-15z"/><path class="c41" d="M1388 5737l15 29 15-23-15-25zm30 6l15 25 15-30-15-19z"/><path class="c42" d="M514 5697l16 29 15 4-16-32zm1418 37l15 6 15 17-15-6zm121 25l15-17 15-5-15 17z"/><path class="c45" d="M1599 5720l15 23 15 10-15-28z"/><path class="c46" d="M695 5726l15-4 15-25-15 0zm663-5l15 31 15-15-15-28zm90 17l15 17 15-30-15-14z"/><path class="c50" d="M2416 5718l15 27 15-3-15-28z"/><path class="c51" d="M996 5723l15-13 15-12-15 10zm815 17l15-8 15-20-15 4z"/><path class="c52" d="M2083 5737l15-13 15-9-15 12z"/><path class="c53" d="M1478 5725l16 9 15-26-16-8zm423-13l16 10 15 12-16-11z"/><path class="c54" d="M785 5687l15 13 15 12-15-17zm543 17l15 26 15-9-15-25z"/><path class="c57" d="M1177 5701l15 0 15 2-15 6zm30 2l15-2 15 0-15 7z"/><path class="c58" d="M725 5697l15-2 15-16-15-3zm844 2l15 16 15 5-15-21z"/><path class="c59" d="M1147 5694l15 3 15 4-15 0zm90 7l15-2 15-4-15 6z"/><path class="c60" d="M1509 5708l15 6 15-17-15-7zm877-5l15 17 15-2-15-20z"/><path class="c61" d="M755 5679l15 5 15 3-15-14zm271 19l15-4 15-9-15 0zm271-6l16 17 15-5-16-19zm544 20l15-1 15-11-15-4zm30-12l15 9 15 3-15-11zm242 15l15-4 15-9-15 2z"/><path class="c62" d="M1116 5687l16 7 15 0-16-4zm151 8l15 3 15-6-15-1zm907 7l15 15 15-12-15-11zm30 3l15 16 15-16-15-11zm30 0l15 14 15-16-15-6zm30-2l16 11 15-11-16-2z"/><path class="c63" d="M1539 5697l15 6 15-4-15-11zm604 5l16 10 15-10-16-8zm152 1l15 6 15-7-15 0zm30-1l15 6 15-7-15-2zm30-1l16 8 15-6-16-8z"/><path class="c64" d="M1056 5685l15 7 15-7-15-8zm30 0l15 8 15-6-15-7z"/><path class="c3" d="M1705 5837l15 1 15-8-15-1z"/><path class="c6" d="M590 5793l15 23 15-13-15-21z"/><path class="c7" d="M1675 5815l15 14 15 8-15-17z"/><path class="c8" d="M620 5803l15 8 15-24-15-8z"/><path class="c12" d="M1735 5830l15-11 15-17-15 8z"/><path class="c16" d="M560 5763l15 28 15 2-15-31z"/><path class="c20" d="M650 5787l15-3 15-28-15 1zm995-7l15 21 15 14-15-25z"/><path class="c23" d="M891 5771l15-8 15 10-15 11z"/><path class="c27" d="M921 5773l15-15 15 1-15 18zm844 29l16-15 15-22-16 11z"/><path class="c28" d="M861 5752l15 1 15 18-15 0z"/><path class="c31" d="M530 5726l15 29 15 8-15-33z"/><path class="c32" d="M1403 5766l15 29 15-27-15-25z"/><path class="c35" d="M1373 5752l15 33 15-19-15-29zm60 16l15 19 15-32-15-17z"/><path class="c36" d="M680 5756l15-7 15-27-15 4zm271 3l15-18 15-6-15 18z"/><path class="c37" d="M1614 5743l16 22 15 15-16-27z"/><path class="c39" d="M830 5725l16 9 15 18-16-9zm1147 31l15-5 15 12-15 8zm30 7l15-12 16 6-16 15z"/><path class="c40" d="M2431 5745l15 31 15-1-15-33z"/><path class="c43" d="M1463 5755l16 10 15-31-16-9z"/><path class="c44" d="M1343 5730l15 32 15-10-15-31zm453 35l15-12 15-21-15 8zm151-25l15 2 15 14-15 1zm91 17l15-14 15-1-15 17z"/><path class="c49" d="M981 5735l15-15 15-10-15 13z"/><path class="c51" d="M710 5722l15-6 15-21-15 2zm90-22l15 11 15 14-15-13z"/><path class="c52" d="M1584 5715l15 18 15 10-15-23zm484 27l15-12 15-6-15 13z"/><path class="c53" d="M1494 5734l15 5 15-25-15-6zm423-12l15 6 15 12-15-6zm484-2l15 24 15 1-15-27z"/><path class="c54" d="M1313 5709l15 26 15-5-15-26z"/><path class="c57" d="M1826 5732l15-6 15-15-15 1z"/><path class="c58" d="M2189 5717l15 22 15-18-15-16zm30 4l15 19 15-21-15-14z"/><path class="c59" d="M1011 5710l15-6 15-10-15 4zm1238 9l16 16 15-21-16-11z"/><path class="c60" d="M770 5684l15 10 15 6-15-13zm1116 25l15 8 16 5-16-10zm212 15l15-5 15-8-15 4zm61-12l15 19 15-14-15-15z"/><path class="c61" d="M740 5695l15 0 15-11-15-5zm422 2l15 7 15-3-15 0zm30 4l15 2 15-2-15 2zm90-3l16 15 15-4-16-17zm242 16l15 4 15-15-15-6zm847-5l15 13 15-2-15-17z"/><path class="c62" d="M1132 5694l15 12 15-9-15-3zm90 7l15 2 15-4-15 2zm332 2l15 10 15 2-15-16zm574 8l15 10 16-9-16-10zm152 3l15 11 15-16-15-6z"/><path class="c63" d="M1041 5694l15 5 15-7-15-7zm60-1l16 13 15-12-16-7zm151 6l15 5 15-6-15-3zm604 12l15 3 15-5-15-9z"/><path class="c64" d="M1071 5692l15 11 15-10-15-8zm1239 17l15 8 15-9-15-6zm30-1l15 7 16-6-16-8z"/><path class="c3" d="M605 5816l15 8 15-13-15-8z"/><path class="c6" d="M1690 5829l15 3 15 6-15-1z"/><path class="c7" d="M575 5791l15 21 15 4-15-23z"/><path class="c9" d="M1720 5838l15-11 15-8-15 11z"/><path class="c11" d="M635 5811l15-5 15-22-15 3z"/><path class="c15" d="M1660 5801l15 13 15 15-15-14z"/><path class="c21" d="M545 5755l15 26 15 10-15-28zm1205 64l16-16 15-16-16 15z"/><path class="c24" d="M1388 5785l15 31 15-21-15-29zm30 10l15 22 15-30-15-19z"/><path class="c26" d="M665 5784l15-11 15-24-15 7z"/><path class="c30" d="M1630 5765l15 19 15 17-15-21z"/><path class="c32" d="M906 5763l15-12 15 7-15 15zm452-1l15 34 15-11-15-33zm90 25l16 11 15-33-16-10z"/><path class="c33" d="M876 5753l15-4 15 14-15 8z"/><path class="c37" d="M1781 5787l15-16 15-18-15 12z"/><path class="c38" d="M936 5758l15-16 15-1-15 18z"/><path class="c40" d="M846 5734l15 3 15 16-15-1z"/><path class="c43" d="M695 5749l15-11 15-22-15 6zm784 16l15 5 15-31-15-5zm937-21l15 28 15 4-15-31z"/><path class="c44" d="M1328 5735l15 30 15-3-15-32z"/><path class="c46" d="M1599 5733l15 18 16 14-16-22zm393 18l15-6 15 6-15 12z"/><path class="c48" d="M966 5741l15-14 15-7-15 15zm996 1l15-1 15 10-15 5zm60 9l16-9 15 1-15 14z"/><path class="c50" d="M815 5711l16 8 15 15-16-9z"/><path class="c52" d="M1811 5753l15-12 15-15-15 6zm393-14l15 24 15-23-15-19z"/><path class="c53" d="M2234 5740l16 20 15-25-16-16z"/><path class="c54" d="M1932 5728l15 4 15 10-15-2zm121 15l15-9 15-4-15 12zm121-12l15 25 15-17-15-22z"/><path class="c55" d="M1298 5713l15 23 15-1-15-26zm211 26l15 2 15-23-15-4z"/><path class="c56" d="M2386 5722l15 19 15 3-15-24z"/><path class="c57" d="M725 5716l15-6 15-15-15 0zm271 4l15-8 15-8-15 6zm1269 15l15 14 15-24-15-11z"/><path class="c58" d="M1569 5713l15 13 15 7-15-18z"/><path class="c59" d="M785 5694l15 10 15 7-15-11zm1358 27l16 22 15-12-15-19z"/><path class="c60" d="M1901 5717l16 7 15 4-15-6zm182 13l15-5 15-6-15 5z"/><path class="c61" d="M1086 5703l16 18 15-15-16-13zm31 3l15 17 15-17-15-12zm30 0l15 14 15-16-15-7zm1148 19l15 10 15-18-15-8z"/><path class="c62" d="M1177 5704l15 10 15-11-15-2zm90 0l16 12 15-3-16-15zm272 14l15 4 15-9-15-10zm302 8l15-2 15-10-15-3zm272-7l15 10 15-8-15-10z"/><path class="c63" d="M755 5695l15 3 15-4-15-10zm271 9l15 3 15-8-15-5zm30-5l16 15 14-11-15-11zm151 4l15 7 15-7-15-2zm664 11l15 7 15-4-15-8zm484 1l16 9 15-2-15-13z"/><path class="c64" d="M1237 5703l15 8 15-7-15-5zm1088 14l15 7 15-9-15-7z"/><path class="c4" d="M590 5812l15 8 15 4-15-8z"/><path class="c6" d="M620 5824l15-7 15-11-15 5z"/><path class="c11" d="M1705 5832l15-8 15 3-15 11z"/><path class="c14" d="M560 5781l15 18 15 13-15-21zm1115 33l15 4 15 14-15-3z"/><path class="c15" d="M1403 5816l15 25 15-24-15-22z"/><path class="c19" d="M650 5806l15-14 15-19-15 11zm1085 21l15-17 16-7-16 16z"/><path class="c20" d="M1373 5796l15 32 15-12-15-31zm60 21l16 13 15-32-16-11z"/><path class="c26" d="M1645 5784l15 12 15 18-15-13z"/><path class="c32" d="M1343 5765l15 33 15-2-15-34zm121 33l15 3 15-31-15-5z"/><path class="c33" d="M1766 5803l15-19 15-13-15 16z"/><path class="c35" d="M680 5773l15-14 15-21-15 11z"/><path class="c40" d="M891 5749l15-7 15 9-15 12z"/><path class="c41" d="M1614 5751l16 15 15 18-15-19z"/><path class="c42" d="M921 5751l15-12 15 3-15 16z"/><path class="c43" d="M861 5737l15-1 15 13-15 4z"/><path class="c45" d="M2219 5763l15 25 16-28-16-20z"/><path class="c46" d="M1313 5736l15 27 15 2-15-30zm181 34l15-2 15-27-15-2zm695-14l15 29 15-22-15-24z"/><path class="c47" d="M1796 5771l15-15 15-15-15 12z"/><path class="c49" d="M951 5742l15-12 15-3-15 14zm1299 18l15 18 15-29-15-14zm151-19l15 23 15 8-15-28z"/><path class="c50" d="M831 5719l15 5 15 13-15-3z"/><path class="c51" d="M710 5738l15-10 15-18-15 6zm1449 5l15 28 15-15-15-25z"/><path class="c53" d="M2007 5745l16-5 15 2-16 9z"/><path class="c54" d="M1584 5726l15 14 15 11-15-18zm393 15l15-2 15 6-15 6z"/><path class="c55" d="M2280 5749l15 11 15-25-15-10z"/><path class="c56" d="M1102 5721l15 22 15-20-15-17zm845 11l15 3 15 6-15 1zm91 10l15-6 15-2-15 9z"/><path class="c57" d="M981 5727l15-8 15-7-15 8zm151-4l15 19 15-22-15-14zm392 18l15-1 15-18-15-4zm604-12l16 23 15-9-16-22z"/><path class="c58" d="M800 5704l16 7 15 8-16-8zm272 10l15 23 15-16-16-18zm211 2l15 19 15 1-15-23z"/><path class="c59" d="M1826 5741l15-6 15-11-15 2z"/><path class="c60" d="M1162 5720l15 14 15-20-15-10zm906 14l15-3 15-6-15 5zm303-10l15 15 15 2-15-19z"/><path class="c61" d="M740 5710l15-2 15-10-15-3zm301-3l16 18 15-11-16-15zm876 17l15 6 15 2-15-4zm393 11l15 7 15-18-15-7z"/><path class="c62" d="M1011 5712l15 3 15-8-15-3zm181 2l15 10 15-14-15-7zm362 8l15 3 15 1-15-13zm544 3l15 11 15-7-15-10z"/><path class="c63" d="M770 5698l15 7 15-1-15-10zm482 13l16 8 15-3-16-12zm634 10l16 7 15-4-16-7zm454 3l16 7 15-7-16-9z"/><path class="c64" d="M1222 5710l15 8 15-7-15-8zm634 14l15 4 15-7-15-7z"/><path class="c7" d="M605 5820l15-4 15 1-15 7z"/><path class="c10" d="M1388 5828l15 27 15-14-15-25zm30 13l15 15 16-26-16-13z"/><path class="c11" d="M575 5799l15 8 15 13-15-8z"/><path class="c15" d="M635 5817l15-15 15-10-15 14z"/><path class="c19" d="M1690 5818l15-6 15 12-15 8z"/><path class="c20" d="M1358 5798l15 31 15-1-15-32zm91 32l15 2 15-31-15-3z"/><path class="c21" d="M1720 5824l15-15 15 1-15 17z"/><path class="c26" d="M1660 5796l15 4 15 18-15-4z"/><path class="c29" d="M665 5792l15-17 15-16-15 14z"/><path class="c31" d="M1750 5810l16-19 15-7-15 19z"/><path class="c35" d="M1479 5801l15-4 15-29-15 2z"/><path class="c36" d="M1328 5763l15 30 15 5-15-33z"/><path class="c37" d="M2204 5785l15 29 15-26-15-25z"/><path class="c38" d="M1630 5766l15 11 15 19-15-12z"/><path class="c39" d="M2234 5788l16 21 15-31-15-18z"/><path class="c41" d="M2174 5771l15 32 15-18-15-29z"/><path class="c44" d="M1781 5784l15-17 15-11-15 15z"/><path class="c45" d="M695 5759l15-15 15-16-15 10zm1570 19l15 13 15-31-15-11z"/><path class="c48" d="M906 5742l15-7 15 4-15 12z"/><path class="c49" d="M876 5736l15-2 15 8-15 7zm1268 16l15 29 15-10-15-28z"/><path class="c50" d="M1117 5743l15 24 15-25-15-19zm181-8l15 23 15 5-15-27zm211 33l15-5 15-23-15 1z"/><path class="c51" d="M1087 5737l15 26 15-20-15-22zm512 3l16 13 15 13-16-15z"/><path class="c52" d="M936 5739l15-8 15-1-15 12z"/><path class="c53" d="M846 5724l15 3 15 9-15 1zm301 18l15 18 15-26-15-14z"/><path class="c54" d="M2295 5760l15 7 15-25-15-7zm91-21l15 18 15 7-15-23z"/><path class="c55" d="M1057 5725l15 26 15-14-15-23z"/><path class="c56" d="M1811 5756l15-10 15-11-15 6z"/><path class="c57" d="M966 5730l15-6 15-5-15 8zm1147 6l16 22 15-6-16-23z"/><path class="c58" d="M725 5728l15-7 15-13-15 2zm91-17l15 7 15 6-15-5zm361 23l15 12 15-22-15-10zm815 5l16 1 15 0-16 5z"/><path class="c59" d="M2023 5740l15-1 15-3-15 6z"/><path class="c60" d="M1026 5715l16 19 15-9-16-18zm513 25l15-1 15-14-15-3zm30-15l15 11 15 4-15-14zm393 10l15 3 15 1-15 2z"/><path class="c61" d="M1268 5719l15 14 15 2-15-19zm1057 23l15 5 16-16-16-7z"/><path class="c62" d="M996 5719l15 3 15-7-15-3zm211 5l15 8 15-14-15-8zm725 6l15 8 15-3-15-3zm121 6l15 1 15-6-15 3zm30-5l15 10 15-5-15-11zm273 0l15 8 15 0-15-15z"/><path class="c63" d="M755 5708l16 3 14-6-15-7zm30-3l16 7 15-1-16-7zm1056 30l15 1 15-8-15-4zm61-7l15 10 15-8-15-6z"/><path class="c64" d="M1237 5718l15 7 16-6-16-8zm634 10l16 8 15-8-16-7z"/><path class="c4" d="M1403 5855l15 16 15-15-15-15z"/><path class="c10" d="M1373 5829l15 25 15 1-15-27zm60 27l16 0 15-24-15-2z"/><path class="c14" d="M590 5807l15-2 15 11-15 4z"/><path class="c15" d="M620 5816l15-13 15-1-15 15z"/><path class="c24" d="M1464 5832l15-8 15-27-15 4z"/><path class="c25" d="M1343 5793l15 28 15 8-15-31z"/><path class="c26" d="M650 5802l15-18 15-9-15 17z"/><path class="c27" d="M1705 5812l15-11 15 8-15 15z"/><path class="c28" d="M2219 5814l16 24 15-29-16-21z"/><path class="c29" d="M1675 5800l15-2 15 14-15 6z"/><path class="c30" d="M2189 5803l15 32 15-21-15-29z"/><path class="c32" d="M1735 5809l16-17 15-1-16 19z"/><path class="c34" d="M2250 5809l15 15 15-33-15-13z"/><path class="c37" d="M1645 5777l15 5 15 18-15-4z"/><path class="c38" d="M2159 5781l15 33 15-11-15-32z"/><path class="c40" d="M680 5775l15-18 15-13-15 15z"/><path class="c41" d="M1313 5758l15 26 15 9-15-30zm181 39l15-9 15-25-15 5z"/><path class="c43" d="M1102 5763l15 29 15-25-15-24zm664 28l15-17 15-7-15 17z"/><path class="c44" d="M1132 5767l15 22 15-29-15-18zm1148 24l15 7 15-31-15-7z"/><path class="c47" d="M1072 5751l15 30 15-18-15-26z"/><path class="c49" d="M1615 5753l15 9 15 15-15-11zm514 5l15 28 15-5-15-29z"/><path class="c50" d="M1162 5760l15 15 15-29-15-12z"/><path class="c53" d="M1042 5734l15 27 15-10-15-26z"/><path class="c54" d="M710 5744l15-11 15-12-15 7zm1086 23l15-11 15-10-15 10z"/><path class="c55" d="M891 5734l15-2 15 3-15 7zm392-1l15 19 15 6-15-23zm241 30l15-6 15-18-15 1zm786 4l15 3 15-23-15-5z"/><path class="c56" d="M861 5727l15 2 15 5-15 2zm60 8l15-4 15 0-15 8z"/><path class="c57" d="M1192 5746l15 9 15-23-15-8z"/><path class="c58" d="M2098 5741l15 20 16-3-16-22z"/><path class="c59" d="M951 5731l15-3 15-4-15 6zm633 5l16 9 15 8-16-13z"/><path class="c60" d="M831 5718l15 5 15 4-15-3zm180 4l16 19 15-7-16-19zm1360 17l15 13 15 5-15-18z"/><path class="c62" d="M740 5721l16-1 15-9-16-3zm241 3l15 3 15-5-15-3zm241 8l15 7 15-14-15-7zm332 7l15 1 15-4-15-11zm272 7l15-2 15-8-15-1zm91-8l15 14 15-14-15-8zm30 0l15 12 15-12-15-3zm30 0l15 8 16-6-16-1zm31 2l15 4 15-5-15 1zm332 7l16 3 15-11-15-8z"/><path class="c63" d="M801 5712l15 8 15-2-15-7zm451 13l16 9 15-1-15-14zm604 11l16 10 15-10-16-8zm31 0l15 14 15-12-15-10zm151 3l15 5 15-7-15-1zm30-2l15 9 15-5-15-10z"/><path class="c64" d="M771 5711l15 8 15-7-16-7z"/><path class="c4" d="M1388 5854l15 14 15 3-15-16zm30 17l16-2 15-13-16 0z"/><path class="c16" d="M1358 5821l15 22 15 11-15-25zm91 35l15-11 15-21-15 8z"/><path class="c20" d="M2204 5835l15 28 16-25-16-24z"/><path class="c21" d="M605 5805l15-10 15 8-15 13z"/><path class="c23" d="M2235 5838l15 18 15-32-15-15z"/><path class="c26" d="M635 5803l15-17 15-2-15 18zm1539 11l15 34 15-13-15-32z"/><path class="c32" d="M1328 5784l15 24 15 13-15-28zm151 40l15-13 15-23-15 9z"/><path class="c33" d="M2265 5824l15 7 15-33-15-7z"/><path class="c35" d="M1117 5792l15 26 15-29-15-22z"/><path class="c36" d="M1087 5781l15 32 15-21-15-29zm603 17l15-7 15 10-15 11z"/><path class="c37" d="M1720 5801l16-12 15 3-16 17z"/><path class="c38" d="M665 5784l15-18 15-9-15 18zm1479 2l15 32 15-4-15-33z"/><path class="c39" d="M1147 5789l15 17 15-31-15-15z"/><path class="c40" d="M1660 5782l15 1 15 15-15 2z"/><path class="c43" d="M1057 5761l15 33 15-13-15-30z"/><path class="c44" d="M1751 5792l15-15 15-3-15 17z"/><path class="c46" d="M2295 5798l15 0 15-28-15-3z"/><path class="c48" d="M1177 5775l15 9 15-29-15-9zm121-23l15 21 15 11-15-26zm211 36l15-11 15-20-15 6z"/><path class="c49" d="M1630 5762l15 6 15 14-15-5z"/><path class="c50" d="M2113 5761l16 26 15-1-15-28z"/><path class="c51" d="M695 5757l15-13 15-11-15 11z"/><path class="c53" d="M1027 5741l15 27 15-7-15-27zm754 33l15-11 15-7-15 11z"/><path class="c57" d="M1207 5755l15 6 15-22-15-7zm393-10l15 9 15 8-15-9zm725 25l16 0 15-20-16-3z"/><path class="c59" d="M1902 5750l15 20 15-18-15-14zm30 2l15 18 15-20-15-12z"/><path class="c60" d="M725 5733l16-4 15-9-16 1zm151-4l15 2 15 1-15 2zm30 3l15 1 15-2-15 4zm90-5l16 18 15-4-16-19zm272 7l15 14 15 4-15-19zm271 23l15-4 15-13-15-1zm544-11l15 16 15-1-15-20z"/><path class="c61" d="M846 5723l15 9 15-3-15-2zm90 8l15 1 15-4-15 3zm875 25l15-4 15-8-15 2zm61-10l15 18 15-14-15-14zm90 4l15 14 15-18-15-8z"/><path class="c62" d="M1237 5739l16 5 15-10-16-9zm1119 11l15 4 15-2-15-13z"/><path class="c63" d="M816 5720l15 12 15-9-15-5zm150 8l15 5 15-6-15-3zm603 12l16 6 15-1-16-9zm272 4l15 12 16-10-16-10zm151 2l16 10 15-12-15-4z"/><path class="c64" d="M756 5720l15 6 15-7-15-8zm30-1l15 11 15-10-15-8zm1237 25l15 7 15-7-15-5zm30 0l15 7 15-5-15-9z"/><path class="c4" d="M1403 5868l16 1 15 0-16 2z"/><path class="c10" d="M1373 5843l15 13 15 12-15-14zm61 26l15-12 15-12-15 11z"/><path class="c13" d="M2219 5863l16 19 15-26-15-18z"/><path class="c15" d="M2189 5848l15 29 15-14-15-28z"/><path class="c21" d="M2250 5856l15 6 15-31-15-7z"/><path class="c25" d="M1343 5808l15 19 15 16-15-22zm121 37l15-16 15-18-15 13zm695-27l15 33 15-3-15-34z"/><path class="c26" d="M1102 5813l15 29 15-24-15-26z"/><path class="c28" d="M1132 5818l15 20 15-32-15-17z"/><path class="c31" d="M620 5795l15-13 15 4-15 17z"/><path class="c32" d="M1072 5794l15 33 15-14-15-32z"/><path class="c34" d="M2280 5831l15-2 15-31-15 0z"/><path class="c37" d="M1162 5806l15 11 15-33-15-9z"/><path class="c38" d="M650 5786l15-17 15-3-15 18z"/><path class="c40" d="M2129 5787l15 29 15 2-15-32z"/><path class="c41" d="M1313 5773l15 19 15 16-15-24zm181 38l15-15 15-19-15 11z"/><path class="c42" d="M1042 5768l15 32 15-6-15-33z"/><path class="c44" d="M1705 5791l16-9 15 7-16 12z"/><path class="c45" d="M1675 5783l15-3 15 11-15 7z"/><path class="c47" d="M1736 5789l15-12 15 0-15 15z"/><path class="c48" d="M1192 5784l15 4 15-27-15-6z"/><path class="c49" d="M680 5766l15-14 15-8-15 13zm1630 32l16-3 15-25-16 0z"/><path class="c50" d="M1645 5768l15 3 15 12-15-1z"/><path class="c54" d="M1012 5745l15 25 15-2-15-27zm754 32l15-9 15-5-15 11zm151-7l15 23 15-23-15-18zm181-8l16 22 15 3-16-26z"/><path class="c55" d="M1283 5748l15 16 15 9-15-21zm241 29l15-9 15-15-15 4zm363-13l15 25 15-19-15-20z"/><path class="c56" d="M1947 5770l15 18 15-24-15-14z"/><path class="c57" d="M1615 5754l15 7 15 7-15-6z"/><path class="c58" d="M1222 5761l16 2 15-19-16-5z"/><path class="c59" d="M710 5744l16-7 15-8-16 4zm1146 12l16 21 15-13-15-18zm121 8l16 13 15-21-16-10z"/><path class="c60" d="M1796 5763l15-4 15-7-15 4zm545 7l15-1 15-15-15-4z"/><path class="c62" d="M801 5730l15 16 15-14-15-12zm30 2l15 15 15-15-15-9zm30 0l15 12 15-13-15-2zm30-1l15 8 15-6-15-1zm90 2l16 15 15-3-16-18zm272 11l15 5 15-1-15-14zm332 2l15 8 15 0-15-9zm241 6l15 13 15-9-15-12zm242-1l15 12 15-1-15-16z"/><path class="c63" d="M741 5729l15 6 15-9-15-6zm30-3l15 15 15-11-15-11zm150 7l15 5 15-6-15-1zm633 20l16 1 15-8-16-6zm454 3l15 9 15-14-15-7z"/><path class="c64" d="M951 5732l15 7 15-6-15-5zm1087 19l15 7 15-7-15-7z"/><path class="c6" d="M2204 5877l16 22 15-17-16-19z"/><path class="c10" d="M2235 5882l15 7 15-27-15-6z"/><path class="c11" d="M1388 5856l16 2 15 11-16-1zm31 13l15-11 15-1-15 12z"/><path class="c14" d="M2174 5851l15 28 15-2-15-29z"/><path class="c18" d="M1117 5842l15 24 15-28-15-20z"/><path class="c20" d="M1087 5827l15 32 15-17-15-29z"/><path class="c21" d="M1358 5827l15 11 15 18-15-13zm91 30l15-17 15-11-15 16z"/><path class="c23" d="M2265 5862l15-3 15-30-15 2z"/><path class="c25" d="M1147 5838l15 11 15-32-15-11z"/><path class="c29" d="M2144 5816l15 29 15 6-15-33z"/><path class="c30" d="M1057 5800l15 33 15-6-15-33z"/><path class="c36" d="M1328 5792l15 17 15 18-15-19zm151 37l15-18 15-15-15 15z"/><path class="c37" d="M1177 5817l15 3 15-32-15-4z"/><path class="c39" d="M2295 5829l15-7 16-27-16 3z"/><path class="c42" d="M635 5782l15-14 15 1-15 17z"/><path class="c44" d="M1027 5770l15 30 15 0-15-32z"/><path class="c45" d="M2114 5784l15 25 15 7-15-29z"/><path class="c48" d="M1902 5789l15 27 15-23-15-23zm30 4l15 22 15-27-15-18z"/><path class="c49" d="M665 5769l16-12 14-5-15 14z"/><path class="c50" d="M1207 5788l16 0 15-25-16-2zm91-24l15 15 15 13-15-19zm211 32l15-13 15-15-15 9z"/><path class="c51" d="M1690 5780l16-3 15 5-16 9zm182-3l15 28 15-16-15-25z"/><path class="c52" d="M1721 5782l15-6 15 1-15 12zm241 6l16 16 15-27-16-13z"/><path class="c54" d="M1660 5771l15 1 15 8-15 3zm666 24l15-6 15-20-15 1z"/><path class="c56" d="M997 5748l15 21 15 1-15-25zm754 29l15-6 15-3-15 9z"/><path class="c57" d="M1841 5765l16 23 15-11-16-21z"/><path class="c58" d="M695 5752l16-7 15-8-16 7zm121-6l15 21 15-20-15-15zm814 15l15 5 15 5-15-3zm363 16l15 10 15-22-15-9zm90-14l16 17 15 4-16-22z"/><path class="c59" d="M786 5741l15 21 15-16-15-16zm60 6l15 17 15-20-15-12z"/><path class="c60" d="M1238 5763l15 1 15-15-15-5z"/><path class="c61" d="M756 5735l15 18 15-12-15-15zm120 9l15 12 15-17-15-8zm392 5l15 10 15 5-15-16zm271 19l15-4 16-10-16-1zm242 0l15-3 15-6-15 4z"/><path class="c62" d="M726 5737l15 6 15-8-15-6zm874 17l15 7 15 0-15-7zm211 5l15 13 15-7-15-13zm212 6l15 7 15-14-15-7z"/><path class="c63" d="M906 5739l15 9 15-10-15-5zm60 0l16 11 15-2-16-15zm1087 19l15 8 15-3-15-12z"/><path class="c64" d="M936 5738l15 8 15-7-15-7zm634 16l15 7 15-7-15-8z"/><path class="c4" d="M2220 5899l15 6 15-16-15-7z"/><path class="c6" d="M2189 5879l16 20 15 0-16-22z"/><path class="c11" d="M1102 5859l15 26 15-19-15-24z"/><path class="c13" d="M2250 5889l15-7 15-23-15 3z"/><path class="c14" d="M1132 5866l15 12 15-29-15-11z"/><path class="c16" d="M1404 5858l15-7 15 7-15 11z"/><path class="c18" d="M1072 5833l15 32 15-6-15-32z"/><path class="c19" d="M2159 5845l15 26 15 8-15-28z"/><path class="c21" d="M1373 5838l16 4 15 16-16-2zm61 20l15-16 15-2-15 17z"/><path class="c25" d="M1162 5849l15 2 15-31-15-3z"/><path class="c29" d="M2280 5859l15-11 15-26-15 7z"/><path class="c32" d="M1042 5800l15 31 15 2-15-33zm301 9l15 10 15 19-15-11z"/><path class="c33" d="M1464 5840l15-19 15-10-15 18z"/><path class="c35" d="M2129 5809l15 25 15 11-15-29z"/><path class="c39" d="M1917 5816l15 27 15-28-15-22z"/><path class="c40" d="M1192 5820l16-4 15-28-16 0z"/><path class="c42" d="M1887 5805l15 31 15-20-15-27z"/><path class="c43" d="M1947 5815l15 20 16-31-16-16z"/><path class="c46" d="M1313 5779l15 14 15 16-15-17zm181 32l15-15 15-13-15 13zm816 11l16-10 15-23-15 6z"/><path class="c47" d="M1012 5769l15 26 15 5-15-30z"/><path class="c48" d="M1857 5788l15 30 15-13-15-28z"/><path class="c50" d="M1978 5804l15 11 15-28-15-10z"/><path class="c51" d="M650 5768l16-10 15-1-16 12zm1449 12l15 20 15 9-15-25z"/><path class="c53" d="M801 5762l15 25 15-20-15-21zm30 5l15 21 15-24-15-17z"/><path class="c54" d="M1223 5788l15-3 15-21-15-1z"/><path class="c56" d="M771 5753l15 25 15-16-15-21zm90 11l15 16 15-24-15-12zm965 8l16 23 15-7-16-23z"/><path class="c57" d="M1706 5777l15-2 15 1-15 6zm302 10l15 6 15-21-15-7z"/><path class="c58" d="M681 5757l15-7 15-5-16 7zm602 2l15 12 15 8-15-15zm241 24l15-8 15-11-15 4zm151-11l15 2 16 3-16 3z"/><path class="c59" d="M982 5750l15 17 15 2-15-21zm754 26l15-3 15-2-15 6z"/><path class="c60" d="M741 5743l15 20 15-10-15-18zm150 13l15 11 15-19-15-9zm754 10l15 5 15 1-15-1z"/><path class="c61" d="M2068 5766l15 12 16 2-16-17z"/><path class="c62" d="M711 5745l15 5 15-7-15-6zm542 19l15 1 15-6-15-10zm513 7l15 0 15-6-15 3zm30-6l15 12 15-5-15-13z"/><path class="c63" d="M921 5748l15 8 15-10-15-8zm633 16l16 4 15-7-15-7zm61-3l15 9 15-4-15-5zm423 11l15 5 15-11-15-8z"/><path class="c64" d="M951 5746l16 8 15-4-16-11zm634 15l15 8 15-8-15-7z"/><path class="c3" d="M2205 5899l15 7 15-1-15-6z"/><path class="c6" d="M1117 5885l15 14 15-21-15-12z"/><path class="c7" d="M2235 5905l15-8 15-15-15 7z"/><path class="c9" d="M1087 5865l15 25 15-5-15-26z"/><path class="c11" d="M2174 5871l15 17 16 11-16-20z"/><path class="c14" d="M1147 5878l15 0 15-27-15-2z"/><path class="c21" d="M1057 5831l15 29 15 5-15-32zm1208 51l15-14 15-20-15 11z"/><path class="c25" d="M1389 5842l15-5 15 14-15 7zm30 9l15-13 15 4-15 16z"/><path class="c27" d="M2144 5834l15 22 15 15-15-26z"/><path class="c30" d="M1177 5851l16-7 15-28-16 4z"/><path class="c32" d="M1358 5819l16 5 15 18-16-4zm544 17l15 31 15-24-15-27zm30 7l15 23 15-31-15-20z"/><path class="c33" d="M1449 5842l15-17 15-4-15 19z"/><path class="c37" d="M1027 5795l15 28 15 8-15-31zm845 23l15 33 15-15-15-31z"/><path class="c38" d="M2295 5848l16-15 15-21-16 10z"/><path class="c39" d="M1962 5835l16 13 15-33-15-11z"/><path class="c44" d="M1328 5793l15 9 15 17-15-10zm151 28l15-16 15-9-15 15zm635-21l15 21 15 13-15-25z"/><path class="c45" d="M816 5787l15 27 15-26-15-21z"/><path class="c46" d="M1208 5816l15-8 15-23-15 3z"/><path class="c47" d="M786 5778l15 29 15-20-15-25zm1056 17l15 30 15-7-15-30z"/><path class="c48" d="M846 5788l15 20 15-28-15-16z"/><path class="c49" d="M1993 5815l15 7 15-29-15-6z"/><path class="c52" d="M997 5767l15 21 15 7-15-26z"/><path class="c53" d="M756 5763l15 27 15-12-15-25zm120 17l15 13 15-26-15-11z"/><path class="c55" d="M1298 5771l15 11 15 11-15-14zm211 25l15-11 15-10-15 8z"/><path class="c57" d="M1811 5777l16 22 15-4-16-23zm272 1l16 16 15 6-15-20z"/><path class="c58" d="M1238 5785l15-4 15-16-15-1zm785 8l15 4 15-20-15-5z"/><path class="c59" d="M666 5758l15-3 15-5-15 7zm60-8l15 21 15-8-15-20z"/><path class="c60" d="M906 5767l15 9 15-20-15-8z"/><path class="c61" d="M1690 5774l16 4 15-3-15 2zm31 1l15 3 15-5-15 3z"/><path class="c62" d="M696 5750l15 6 15-6-15-5zm271 4l15 12 15 1-15-17zm301 11l15 5 15 1-15-12zm271 10l16 0 15-7-16-4zm91-5l15 13 15-12-15-5zm30 1l15 9 15-6-15-2z"/><path class="c63" d="M936 5756l16 7 15-9-16-8zm664 13l15 13 15-12-15-9zm151 4l15 5 15-7-15 0zm30-2l15 11 15-5-15-12zm272 6l15 5 15-4-15-12z"/><path class="c64" d="M1570 5768l15 10 15-9-15-8z"/><path class="c3" d="M1102 5890l15 14 15-5-15-14z"/><path class="c6" d="M1132 5899l15-3 15-18-15 0z"/><path class="c7" d="M2220 5906l15-7 15-2-15 8z"/><path class="c9" d="M2189 5888l16 7 15 11-15-7z"/><path class="c12" d="M1072 5860l15 23 15 7-15-25z"/><path class="c16" d="M2250 5897l15-16 15-13-15 14z"/><path class="c20" d="M1162 5878l16-10 15-24-16 7z"/><path class="c21" d="M2159 5856l15 16 15 16-15-17z"/><path class="c22" d="M1917 5867l15 26 15-27-15-23z"/><path class="c26" d="M1887 5851l15 33 15-17-15-31z"/><path class="c27" d="M1947 5866l16 15 15-33-16-13z"/><path class="c28" d="M1042 5823l15 25 15 12-15-29z"/><path class="c31" d="M2280 5868l16-17 15-18-16 15z"/><path class="c33" d="M1404 5837l15-9 15 10-15 13z"/><path class="c36" d="M1374 5824l15-2 15 15-15 5zm60 14l15-15 15 2-15 17zm423-13l15 33 15-7-15-33z"/><path class="c37" d="M1193 5844l15-12 15-24-15 8zm936-23l15 19 15 16-15-22z"/><path class="c38" d="M801 5807l15 30 15-23-15-27zm30 7l15 24 15-30-15-20zm1147 34l15 6 15-32-15-7z"/><path class="c43" d="M771 5790l15 32 15-15-15-29z"/><path class="c44" d="M861 5808l15 16 15-31-15-13zm151-20l15 23 15 12-15-28zm331 14l16 6 15 16-16-5zm121 23l15-16 15-4-15 16z"/><path class="c48" d="M1827 5799l15 28 15-2-15-30z"/><path class="c50" d="M2008 5822l15 1 15-26-15-4z"/><path class="c52" d="M741 5771l15 28 15-9-15-27zm150 22l15 9 15-26-15-9zm332 15l15-8 15-19-15 4zm876-14l15 16 15 11-15-21z"/><path class="c54" d="M1313 5782l15 9 15 11-15-9zm181 23l15-11 15-9-15 11z"/><path class="c57" d="M982 5766l15 16 15 6-15-21z"/><path class="c59" d="M711 5756l15 19 15-4-15-21zm1085 26l15 18 16-1-16-22z"/><path class="c60" d="M921 5776l16 5 15-18-16-7zm694 6l15 18 15-17-15-13zm423 15l15 2 15-17-15-5z"/><path class="c61" d="M1283 5770l15 9 15 3-15-11zm241 15l16-2 15-8-16 0zm61-7l15 18 15-14-15-13zm60 5l15 15 15-18-15-9zm423-1l16 9 15 3-16-16z"/><path class="c62" d="M681 5755l15 6 15-5-15-6zm572 26l15-1 15-10-15-5zm422-1l16 12 15-14-16-4z"/><path class="c63" d="M952 5763l15 7 15-4-15-12zm603 12l15 13 15-10-15-10zm151 3l15 8 15-8-15-3zm60 0l15 8 15-4-15-11z"/><path class="c64" d="M1736 5778l15 7 15-7-15-5z"/><path class="c4" d="M1117 5904l15-2 15-6-15 3z"/><path class="c7" d="M1087 5883l15 12 15 9-15-14z"/><path class="c12" d="M2205 5895l15-4 15 8-15 7z"/><path class="c13" d="M1147 5896l16-12 15-16-16 10z"/><path class="c15" d="M1902 5884l15 28 15-19-15-26zm333 15l15-15 15-3-15 16z"/><path class="c16" d="M1932 5893l16 17 15-29-16-15z"/><path class="c19" d="M2174 5872l16 7 15 16-16-7z"/><path class="c20" d="M1057 5848l15 20 15 15-15-23z"/><path class="c24" d="M1872 5858l15 33 15-7-15-33z"/><path class="c26" d="M1963 5881l15 5 15-32-15-6z"/><path class="c27" d="M2265 5881l15-19 16-11-16 17z"/><path class="c29" d="M816 5837l15 28 15-27-15-24zm362 31l15-16 15-20-15 12z"/><path class="c32" d="M786 5822l15 34 15-19-15-30zm60 16l15 18 15-32-15-16zm1298 2l15 13 15 19-15-16z"/><path class="c36" d="M1027 5811l15 22 15 15-15-25z"/><path class="c37" d="M1842 5827l15 31 15 0-15-33z"/><path class="c40" d="M1993 5854l15-1 15-30-15-1z"/><path class="c41" d="M756 5799l15 32 15-9-15-32z"/><path class="c42" d="M876 5824l15 10 15-32-15-9zm513-2l15-4 15 10-15 9zm30 6l15-10 15 5-15 15z"/><path class="c45" d="M1208 5832l15-13 15-19-15 8z"/><path class="c46" d="M1359 5808l15 1 15 13-15 2z"/><path class="c47" d="M1449 5823l15-12 15-2-15 16zm665-13l15 15 15 15-15-19z"/><path class="c51" d="M1811 5800l16 25 15 2-15-28z"/><path class="c52" d="M726 5775l15 27 15-3-15-28zm180 27l16 4 15-25-16-5zm91-20l15 18 15 11-15-23z"/><path class="c53" d="M2023 5823l15-2 15-22-15-2z"/><path class="c54" d="M1328 5791l15 6 16 11-16-6zm151 18l15-10 15-5-15 11z"/><path class="c56" d="M1600 5796l15 23 15-19-15-18zm30 4l15 20 15-22-15-15z"/><path class="c58" d="M1238 5800l15-6 15-14-15 1zm422-2l16 16 15-22-16-12zm424-7l15 12 15 7-15-16z"/><path class="c59" d="M1570 5788l15 22 15-14-15-18z"/><path class="c60" d="M696 5761l15 17 15-3-15-19z"/><path class="c61" d="M937 5781l15 4 15-15-15-7zm30-11l15 10 15 2-15-16zm331 9l15 8 15 4-15-9zm211 15l16-3 15-8-16 2zm182-2l15 12 15-18-15-8zm90-6l15 15 15-1-15-18zm272 13l16 1 15-9-16-9z"/><path class="c62" d="M1540 5783l15 15 15-10-15-13z"/><path class="c63" d="M1268 5780l15 4 15-5-15-9zm453 6l15 8 15-9-15-7z"/><path class="c64" d="M1751 5785l15 7 15-6-15-8z"/><path class="c8" d="M1102 5895l15 0 15 7-15 2zm815 17l16 20 15-22-16-17z"/><path class="c11" d="M1132 5902l16-12 15-6-16 12z"/><path class="c13" d="M1887 5891l15 29 15-8-15-28z"/><path class="c15" d="M1948 5910l15 5 15-29-15-5z"/><path class="c16" d="M1072 5868l15 11 15 16-15-12z"/><path class="c20" d="M2220 5891l15-12 15 5-15 15z"/><path class="c21" d="M801 5856l15 30 15-21-15-28zm1389 23l15-2 15 14-15 4z"/><path class="c22" d="M831 5865l15 21 15-30-15-18z"/><path class="c23" d="M1163 5884l15-18 15-14-15 16z"/><path class="c26" d="M1857 5858l15 31 15 2-15-33z"/><path class="c27" d="M2250 5884l15-17 15-5-15 19z"/><path class="c29" d="M771 5831l15 34 15-9-15-34zm1207 55l15-3 15-30-15 1z"/><path class="c30" d="M861 5856l15 10 15-32-15-10zm181-23l15 17 15 18-15-20zm1117 20l16 7 15 19-16-7z"/><path class="c39" d="M1193 5852l15-16 15-17-15 13z"/><path class="c41" d="M741 5802l15 32 15-3-15-32zm1086 23l15 27 15 6-15-31z"/><path class="c42" d="M891 5834l16 2 15-30-16-4z"/><path class="c43" d="M2129 5825l15 11 15 17-15-13z"/><path class="c44" d="M2008 5853l15-6 15-26-15 2z"/><path class="c46" d="M1012 5800l15 18 15 15-15-22z"/><path class="c49" d="M1404 5818l15-6 15 6-15 10z"/><path class="c50" d="M1615 5819l15 25 15-24-15-20z"/><path class="c51" d="M1374 5809l15 0 15 9-15 4zm60 9l15-8 15 1-15 12zm211 2l16 21 15-27-16-16z"/><path class="c52" d="M1585 5810l15 27 15-18-15-23z"/><path class="c53" d="M1223 5819l15-11 15-14-15 6z"/><path class="c54" d="M711 5778l15 24 15 0-15-27zm211 28l15 1 15-22-15-4z"/><path class="c55" d="M1343 5797l16 4 15 8-15-1zm333 17l15 14 15-24-15-12zm120-13l16 20 15 4-16-25zm303 2l15 11 15 11-15-15z"/><path class="c56" d="M1464 5811l15-8 15-4-15 10z"/><path class="c57" d="M1555 5798l15 24 15-12-15-22zm483 23l15-3 16-18-16-1z"/><path class="c58" d="M982 5780l15 13 15 7-15-18z"/><path class="c60" d="M1706 5804l15 9 15-19-15-8z"/><path class="c61" d="M1313 5787l15 7 15 3-15-6zm181 12l16-2 15-6-16 3zm31-8l15 15 15-8-15-15z"/><path class="c62" d="M952 5785l15 3 15-8-15-10zm301 9l15-1 15-9-15-4zm816 6l15 3 15 0-15-12z"/><path class="c63" d="M1736 5794l15 8 15-10-15-7zm30-2l15 10 15-1-15-15z"/><path class="c64" d="M1283 5784l15 8 15-5-15-8z"/><path class="c5" d="M1902 5920l15 20 16-8-16-20z"/><path class="c6" d="M1933 5932l15 5 15-22-15-5z"/><path class="c13" d="M816 5886l15 24 15-24-15-21z"/><path class="c14" d="M1117 5895l16-9 15 4-16 12z"/><path class="c15" d="M1872 5889l15 26 15 5-15-29z"/><path class="c16" d="M1087 5879l15 2 15 14-15 0z"/><path class="c17" d="M786 5865l15 32 15-11-15-30z"/><path class="c18" d="M846 5886l15 11 15-31-15-10zm1117 29l15-6 15-26-15 3z"/><path class="c22" d="M1148 5890l15-18 15-6-15 18z"/><path class="c27" d="M1057 5850l15 10 15 19-15-11z"/><path class="c28" d="M2205 5877l15-8 15 10-15 12z"/><path class="c30" d="M756 5834l15 32 15-1-15-34zm1479 45l15-15 15 3-15 17z"/><path class="c31" d="M876 5866l16 2 15-32-16-2zm966-14l15 27 15 10-15-31z"/><path class="c32" d="M2175 5860l15 1 15 16-15 2z"/><path class="c34" d="M1993 5883l15-10 15-26-15 6z"/><path class="c35" d="M1178 5866l15-18 15-12-15 16z"/><path class="c41" d="M1027 5818l15 14 15 18-15-17z"/><path class="c42" d="M1630 5844l15 25 16-28-16-21zm514-8l15 7 16 17-16-7z"/><path class="c43" d="M1600 5837l15 30 15-23-15-25z"/><path class="c44" d="M726 5802l15 28 15 4-15-32z"/><path class="c45" d="M907 5836l15-2 15-27-15-1z"/><path class="c46" d="M1661 5841l15 17 15-30-15-14z"/><path class="c47" d="M1812 5821l15 23 15 8-15-27z"/><path class="c48" d="M1570 5822l15 30 15-15-15-27z"/><path class="c49" d="M1208 5836l15-14 15-14-15 11z"/><path class="c50" d="M2023 5847l15-8 15-21-15 3z"/><path class="c53" d="M1691 5828l15 11 15-26-15-9zm423-14l15 10 15 12-15-11z"/><path class="c54" d="M997 5793l15 14 15 11-15-18z"/><path class="c55" d="M1389 5809l15-1 15 4-15 6z"/><path class="c56" d="M1419 5812l15-3 15 1-15 8zm121-6l15 25 15-9-15-24z"/><path class="c57" d="M937 5807l15-1 15-18-15-3z"/><path class="c58" d="M1359 5801l15 4 15 4-15 0zm90 9l15-4 15-3-15 8z"/><path class="c59" d="M1781 5802l16 15 15 4-16-20z"/><path class="c60" d="M1238 5808l15-5 15-10-15 1zm483 5l15 7 15-18-15-8z"/><path class="c61" d="M1328 5794l16 7 15 0-16-4zm151 9l15 0 16-6-16 2zm31-6l15 15 15-6-15-15zm543 21l16-2 15-13-15-3zm31-15l15 8 15 3-15-11z"/><path class="c62" d="M967 5788l15 4 15 1-15-13z"/><path class="c63" d="M1751 5802l15 6 15-6-15-10z"/><path class="c64" d="M1268 5793l15 5 15-6-15-8zm30-1l15 7 15-5-15-7z"/><path class="c2" d="M1917 5940l16 4 15-7-15-5z"/><path class="c8" d="M801 5897l15 25 15-12-15-24zm30 13l15 12 15-25-15-11zm1056 5l15 18 15 7-15-20z"/><path class="c10" d="M1948 5937l15-9 15-19-15 6z"/><path class="c18" d="M771 5866l15 30 15 1-15-32z"/><path class="c19" d="M861 5897l16-1 15-28-16-2z"/><path class="c22" d="M1102 5881l16-6 15 11-16 9zm755-2l15 23 15 13-15-26z"/><path class="c24" d="M1133 5886l15-15 15 1-15 18z"/><path class="c25" d="M1978 5909l15-13 15-23-15 10z"/><path class="c27" d="M1072 5860l15 3 15 18-15-2z"/><path class="c34" d="M741 5830l15 30 15 6-15-32zm422 42l15-18 15-6-15 18zm452-5l15 28 15-26-15-25z"/><path class="c35" d="M892 5868l15-7 15-27-15 2z"/><path class="c36" d="M1645 5869l16 21 15-32-15-17z"/><path class="c37" d="M2190 5861l15-5 15 13-15 8zm30 8l15-11 15 6-15 15z"/><path class="c38" d="M1585 5852l15 32 15-17-15-30z"/><path class="c39" d="M1042 5832l15 10 15 18-15-10zm785 12l15 22 15 13-15-27z"/><path class="c42" d="M2008 5873l15-12 15-22-15 8z"/><path class="c44" d="M1676 5858l15 12 15-31-15-11zm483-15l16 3 15 15-15-1z"/><path class="c46" d="M1193 5848l15-16 15-10-15 14zm362-17l15 30 15-9-15-30z"/><path class="c50" d="M922 5834l15-6 15-22-15 1z"/><path class="c51" d="M1012 5807l15 11 15 14-15-14z"/><path class="c53" d="M1706 5839l15 6 15-25-15-7zm423-15l15 7 15 12-15-7z"/><path class="c54" d="M1797 5817l15 18 15 9-15-23z"/><path class="c56" d="M1525 5812l15 24 15-5-15-25zm513 27l16-7 15-16-16 2z"/><path class="c57" d="M1223 5822l15-9 15-10-15 5z"/><path class="c60" d="M1404 5808l15 2 15-1-15 3zm695 3l15 9 15 4-15-10z"/><path class="c61" d="M952 5806l15-1 15-13-15-4zm30-14l15 10 15 5-15-14zm392 13l15 5 15-2-15 1zm60 4l15 1 15-4-15 4zm302 11l15 4 15-16-15-6z"/><path class="c62" d="M1344 5801l15 10 15-6-15-4zm150 2l16 13 15-4-15-15zm272 5l15 9 16 0-16-15z"/><path class="c63" d="M1253 5803l15 3 15-8-15-5zm60-4l16 12 15-10-16-7zm151 7l15 4 15-7-15 0zm605 10l15 1 15-6-15-8z"/><path class="c64" d="M1283 5798l15 10 15-9-15-7z"/><path class="c3" d="M816 5922l15 12 15-12-15-12z"/><path class="c6" d="M1902 5933l16 5 15 6-16-4z"/><path class="c7" d="M1933 5944l15-9 15-7-15 9z"/><path class="c9" d="M786 5896l15 23 15 3-15-25z"/><path class="c10" d="M846 5922l16-3 15-23-16 1z"/><path class="c16" d="M1872 5902l15 16 15 15-15-18z"/><path class="c19" d="M1963 5928l15-16 15-16-15 13z"/><path class="c23" d="M756 5860l15 27 15 9-15-30z"/><path class="c25" d="M877 5896l15-9 15-26-15 7z"/><path class="c26" d="M1630 5895l16 24 15-29-16-21z"/><path class="c27" d="M1600 5884l15 32 15-21-15-28z"/><path class="c30" d="M1118 5875l15-12 15 8-15 15z"/><path class="c31" d="M1842 5866l15 20 15 16-15-23z"/><path class="c32" d="M1087 5863l16-3 15 15-16 6zm574 27l15 13 15-33-15-12z"/><path class="c35" d="M1148 5871l15-16 15-1-15 18zm422-10l15 34 15-11-15-32zm423 35l15-16 15-19-15 12z"/><path class="c39" d="M1057 5842l15 4 15 17-15-3z"/><path class="c42" d="M907 5861l15-10 15-23-15 6z"/><path class="c43" d="M1691 5870l15 6 15-31-15-6z"/><path class="c44" d="M2205 5856l15-6 15 8-15 11z"/><path class="c45" d="M1178 5854l15-15 15-7-15 16z"/><path class="c46" d="M1540 5836l15 29 15-4-15-30z"/><path class="c47" d="M2175 5846l15-1 15 11-15 5z"/><path class="c48" d="M1812 5835l15 18 15 13-15-22z"/><path class="c50" d="M1027 5818l15 9 15 15-15-10zm996 43l16-12 15-17-16 7z"/><path class="c53" d="M2144 5831l16 5 15 10-16-3z"/><path class="c54" d="M1721 5845l15 2 15-23-15-4z"/><path class="c55" d="M1208 5832l15-10 15-9-15 9z"/><path class="c56" d="M937 5828l15-6 15-17-15 1z"/><path class="c57" d="M1510 5816l15 21 15-1-15-24z"/><path class="c59" d="M997 5802l15 9 15 7-15-11zm784 15l16 12 15 6-15-18z"/><path class="c60" d="M2114 5820l15 7 15 4-15-7z"/><path class="c61" d="M1329 5811l15 16 15-16-15-10zm725 21l15-4 15-11-15-1z"/><path class="c62" d="M967 5805l15 2 15-5-15-10zm271 8l15 0 15-7-15-3zm60-5l16 17 15-14-16-12zm61 3l15 14 15-15-15-5zm30-1l15 10 15-10-15-2zm362 14l15 3 15-10-15-9z"/><path class="c63" d="M1268 5806l15 13 15-11-15-10zm151 4l15 6 15-6-15-1zm30 0l15 7 15-7-15-4zm30 0l16 10 15-4-16-13zm605 7l15 7 15-4-15-9z"/><path class="c4" d="M801 5919l15 12 15 3-15-12z"/><path class="c5" d="M831 5934l16-4 15-11-16 3z"/><path class="c10" d="M1918 5938l15-6 15 3-15 9z"/><path class="c14" d="M1887 5918l15 6 16 14-16-5z"/><path class="c15" d="M771 5887l15 20 15 12-15-23z"/><path class="c16" d="M1948 5935l15-15 15-8-15 16z"/><path class="c17" d="M862 5919l15-13 15-19-15 9zm753-3l16 27 15-24-16-24z"/><path class="c20" d="M1646 5919l15 16 15-32-15-13z"/><path class="c23" d="M1585 5895l15 33 15-12-15-32z"/><path class="c27" d="M1857 5886l15 13 15 19-15-16z"/><path class="c30" d="M1978 5912l15-18 15-14-15 16z"/><path class="c31" d="M1676 5903l15 5 15-32-15-6z"/><path class="c33" d="M892 5887l15-14 15-22-15 10z"/><path class="c35" d="M1555 5865l15 33 15-3-15-34z"/><path class="c38" d="M1103 5860l15-7 15 10-15 12z"/><path class="c40" d="M1133 5863l15-12 15 4-15 16z"/><path class="c42" d="M1072 5846l16 0 15 14-16 3zm755 7l15 16 15 17-15-20z"/><path class="c45" d="M1706 5876l15-1 15-28-15-2zm302 4l15-16 16-15-16 12z"/><path class="c47" d="M1163 5855l15-14 15-2-15 15z"/><path class="c49" d="M922 5851l15-11 15-18-15 6zm603-14l15 27 15 1-15-29z"/><path class="c50" d="M1042 5827l15 6 15 13-15-4z"/><path class="c52" d="M2190 5845l15-1 15 6-15 6z"/><path class="c55" d="M1193 5839l15-10 15-7-15 10zm604-10l15 14 15 10-15-18z"/><path class="c56" d="M2160 5836l15 3 15 6-15 1z"/><path class="c57" d="M1736 5847l15 0 15-20-15-3z"/><path class="c58" d="M1012 5811l15 9 15 7-15-9zm302 14l15 21 15-19-15-16zm30 2l15 19 15-21-15-14zm695 22l15-8 15-13-15 4z"/><path class="c59" d="M1495 5820l15 17 15 0-15-21z"/><path class="c60" d="M952 5822l15-4 15-11-15-2zm331-3l16 21 15-15-16-17zm91 6l15 14 15-19-15-10zm755 2l15 6 16 3-16-5z"/><path class="c61" d="M1223 5822l15-1 15-8-15 0z"/><path class="c62" d="M1253 5813l15 16 15-10-15-13zm151 7l15 10 15-14-15-6zm362 7l16 4 15-2-16-12z"/><path class="c63" d="M982 5807l15 6 15-2-15-9zm1087 21l15 3 15-7-15-7zm30-4l15 7 15-4-15-7z"/><path class="c64" d="M1434 5816l15 8 15-7-15-7zm30 1l16 8 15-5-16-10z"/><path class="c6" d="M816 5931l16-3 15 2-16 4z"/><path class="c11" d="M786 5907l15 10 15 14-15-12zm845 36l15 18 15-26-15-16z"/><path class="c12" d="M847 5930l15-13 15-11-15 13zm753-2l15 28 16-13-16-27z"/><path class="c17" d="M1902 5924l16-4 15 12-15 6z"/><path class="c19" d="M1661 5935l15 4 15-31-15-5zm272-3l15-14 15 2-15 15z"/><path class="c23" d="M1570 5898l15 32 15-2-15-33z"/><path class="c25" d="M1872 5899l15 7 15 18-15-6z"/><path class="c27" d="M877 5906l15-17 15-16-15 14z"/><path class="c28" d="M1963 5920l15-19 15-7-15 18z"/><path class="c34" d="M1691 5908l15-3 15-30-15 1z"/><path class="c38" d="M1540 5864l15 30 15 4-15-33zm302 5l15 12 15 18-15-13z"/><path class="c41" d="M1993 5894l15-18 15-12-15 16z"/><path class="c43" d="M907 5873l15-15 15-18-15 11z"/><path class="c47" d="M1088 5846l15-2 15 9-15 7zm30 7l15-7 15 5-15 12z"/><path class="c49" d="M1721 5875l15-4 15-24-15 0z"/><path class="c50" d="M1148 5851l15-9 15-1-15 14z"/><path class="c52" d="M1057 5833l16 3 15 10-16 0zm272 13l15 24 15-24-15-19zm181-9l15 23 15 4-15-27zm302 6l15 13 15 13-15-16z"/><path class="c53" d="M1299 5840l15 26 15-20-15-21z"/><path class="c54" d="M1359 5846l15 18 15-25-15-14zm664 18l16-11 15-12-15 8z"/><path class="c56" d="M937 5840l15-8 15-14-15 4zm241 1l15-7 15-5-15 10z"/><path class="c57" d="M1268 5829l16 24 15-13-16-21z"/><path class="c58" d="M1027 5820l15 6 15 7-15-6zm362 19l15 13 15-22-15-10z"/><path class="c59" d="M2175 5839l15 3 15 2-15 1z"/><path class="c60" d="M1751 5847l16-1 15-15-16-4z"/><path class="c61" d="M1208 5829l15-1 15-7-15 1zm30-8l15 17 15-9-15-16zm544 10l15 8 15 4-15-14zm362 2l16 7 15-1-15-3z"/><path class="c62" d="M1419 5830l15 9 15-15-15-8zm61-5l15 12 15 0-15-17zm574 16l15-1 15-9-15-3z"/><path class="c63" d="M967 5818l15 2 15-7-15-6zm30-5l15 8 15-1-15-9zm1117 18l15 9 15-7-15-6z"/><path class="c64" d="M1449 5824l16 8 15-7-16-8zm635 7l15 8 15-8-15-7z"/><path class="c5" d="M1615 5956l16 20 15-15-15-18z"/><path class="c9" d="M1646 5961l15 3 15-25-15-4z"/><path class="c12" d="M801 5917l16 0 15 11-16 3zm784 13l15 26 15 0-15-28z"/><path class="c13" d="M832 5928l15-11 15 0-15 13z"/><path class="c23" d="M862 5917l15-18 15-10-15 17zm814 22l15-6 15-28-15 3z"/><path class="c25" d="M1918 5920l15-10 15 8-15 14z"/><path class="c27" d="M1555 5894l15 29 15 7-15-32z"/><path class="c28" d="M1887 5906l16-1 15 15-16 4z"/><path class="c30" d="M1948 5918l15-16 15-1-15 19z"/><path class="c37" d="M1857 5881l15 7 15 18-15-7z"/><path class="c38" d="M892 5889l15-17 15-14-15 15z"/><path class="c39" d="M1706 5905l15-8 15-26-15 4z"/><path class="c40" d="M1978 5901l15-17 15-8-15 18z"/><path class="c44" d="M1525 5860l15 25 15 9-15-30z"/><path class="c45" d="M1314 5866l15 28 15-24-15-24z"/><path class="c46" d="M1344 5870l15 23 15-29-15-18z"/><path class="c49" d="M1284 5853l15 29 15-16-15-26zm543 3l15 10 15 15-15-12z"/><path class="c50" d="M1374 5864l15 16 15-28-15-13z"/><path class="c52" d="M922 5858l15-12 15-14-15 8zm1086 18l16-13 15-10-16 11z"/><path class="c53" d="M1103 5844l15-3 15 5-15 7z"/><path class="c54" d="M1133 5846l15-5 15 1-15 9zm603 25l15-6 16-19-16 1z"/><path class="c55" d="M1073 5836l15 2 15 6-15 2zm180 2l15 26 16-11-16-24z"/><path class="c57" d="M1404 5852l15 10 15-23-15-9zm91-15l15 18 15 5-15-23z"/><path class="c58" d="M1163 5842l15-5 15-3-15 7z"/><path class="c59" d="M1042 5826l15 6 16 4-16-3zm755 13l15 10 15 7-15-13z"/><path class="c61" d="M952 5832l15-2 15-10-15-2zm271-4l15 17 15-7-15-17zm816 25l15-4 15-9-15 1z"/><path class="c62" d="M1193 5834l15 0 15-6-15 1zm241 5l16 7 15-14-16-8zm333 7l15 0 15-7-15-8zm393-6l15 12 15-10-15-3z"/><path class="c63" d="M1012 5821l15 7 15-2-15-6zm453 11l15 8 15-3-15-12zm634 7l15 12 15-11-15-9zm30 1l16 13 15-13-16-7z"/><path class="c64" d="M982 5820l15 8 15-7-15-8zm1087 20l15 8 15-9-15-8z"/><path class="c3" d="M1631 5976l15 2 15-14-15-3z"/><path class="c5" d="M1600 5956l16 18 15 2-16-20z"/><path class="c14" d="M1661 5964l15-9 15-22-15 6z"/><path class="c18" d="M1570 5923l15 23 15 10-15-26z"/><path class="c19" d="M817 5917l15-8 15 8-15 11z"/><path class="c24" d="M847 5917l15-16 15-2-15 18z"/><path class="c30" d="M1691 5933l15-12 15-24-15 8z"/><path class="c34" d="M1540 5885l15 25 15 13-15-29zm363 20l15-7 15 12-15 10z"/><path class="c35" d="M877 5899l15-18 15-9-15 17zm1056 11l15-13 15 5-15 16z"/><path class="c36" d="M1329 5894l15 27 15-28-15-23z"/><path class="c39" d="M1299 5882l15 32 15-20-15-28zm573 6l16 1 15 16-16 1z"/><path class="c40" d="M1359 5893l15 19 15-32-15-16z"/><path class="c41" d="M1963 5902l15-16 15-2-15 17z"/><path class="c46" d="M1268 5864l16 31 15-13-15-29z"/><path class="c47" d="M1721 5897l15-11 15-21-15 6z"/><path class="c48" d="M907 5872l15-15 15-11-15 12zm482 8l15 11 15-29-15-10zm453-14l15 7 15 15-15-7z"/><path class="c50" d="M1510 5855l15 21 15 9-15-25z"/><path class="c51" d="M1993 5884l16-14 15-7-16 13z"/><path class="c55" d="M1238 5845l15 25 15-6-15-26z"/><path class="c57" d="M1419 5862l15 6 16-22-16-7zm393-13l15 9 15 8-15-10z"/><path class="c59" d="M937 5846l15-6 15-10-15 2zm151-8l15 2 15 1-15 3zm30 3l15 1 15-1-15 5zm633 24l16-5 15-14-15 0zm273-2l15-6 15-8-15 4z"/><path class="c60" d="M1148 5841l15 0 15-4-15 5zm966 10l16 19 15-17-16-13zm31 2l15 18 15-19-15-12z"/><path class="c61" d="M1057 5832l16 7 15-1-15-2zm151 2l15 15 15-4-15-17zm272 6l15 12 15 3-15-18z"/><path class="c62" d="M1178 5837l15 3 15-6-15 0zm272 9l15 5 15-11-15-8zm634 2l15 16 15-13-15-12z"/><path class="c63" d="M1027 5828l15 11 15-7-15-6zm755 18l15 5 15-2-15-10zm272 3l15 8 15-9-15-8z"/><path class="c64" d="M967 5830l15 5 15-7-15-8zm30-2l15 9 15-9-15-7z"/><path class="c4" d="M1616 5974l15 3 15 1-15-2z"/><path class="c9" d="M1646 5978l15-10 15-13-15 9z"/><path class="c11" d="M1585 5946l16 16 15 12-16-18z"/><path class="c22" d="M1676 5955l15-15 15-19-15 12z"/><path class="c26" d="M1555 5910l15 21 15 15-15-23z"/><path class="c28" d="M832 5909l15-13 15 5-15 16zm482 5l15 31 15-24-15-27z"/><path class="c29" d="M1344 5921l15 22 15-31-15-19z"/><path class="c34" d="M1284 5895l15 34 15-15-15-32z"/><path class="c36" d="M862 5901l15-17 15-3-15 18z"/><path class="c37" d="M1374 5912l15 12 15-33-15-11z"/><path class="c39" d="M1706 5921l15-15 15-20-15 11z"/><path class="c42" d="M1918 5898l15-8 15 7-15 13z"/><path class="c43" d="M1525 5876l15 20 15 14-15-25z"/><path class="c44" d="M1888 5889l15-2 15 11-15 7z"/><path class="c45" d="M1253 5870l16 31 15-6-16-31zm695 27l15-12 15 1-15 16z"/><path class="c47" d="M892 5881l15-15 15-9-15 15z"/><path class="c48" d="M1404 5891l15 5 15-28-15-6z"/><path class="c50" d="M1857 5873l15 4 16 12-16-1z"/><path class="c52" d="M1978 5886l15-11 16-5-16 14z"/><path class="c54" d="M1736 5886l16-9 15-17-16 5z"/><path class="c55" d="M1223 5849l15 24 15-3-15-25zm907 21l15 22 15-21-15-18z"/><path class="c56" d="M1495 5852l15 16 15 8-15-21z"/><path class="c57" d="M922 5857l15-8 15-9-15 6zm905 1l15 7 15 8-15-7zm272 6l15 24 16-18-16-19z"/><path class="c58" d="M1434 5868l16 3 15-20-15-5z"/><path class="c59" d="M2009 5870l15-6 15-7-15 6z"/><path class="c60" d="M2069 5857l15 20 15-13-15-16z"/><path class="c62" d="M1012 5837l15 15 15-13-15-11zm30 2l16 14 15-14-16-7zm31 0l15 12 15-11-15-2zm30 1l15 7 15-5-15-1zm30 2l15 4 15-5-15 0zm60-2l15 13 15-4-15-15zm272 11l15 5 15-4-15-12zm302 9l15 0 15-9-15-5zm30-9l15 8 15-1-15-9zm242 6l15 9 15-9-15-8z"/><path class="c63" d="M952 5840l15 2 15-7-15-5zm30-5l15 12 15-10-15-9zm181 6l15 6 15-7-15-3z"/><path class="c9" d="M1631 5977l15-8 15-1-15 10z"/><path class="c10" d="M1601 5962l15 4 15 11-15-3z"/><path class="c18" d="M1661 5968l15-17 15-11-15 15z"/><path class="c20" d="M1329 5945l15 25 15-27-15-22z"/><path class="c21" d="M1570 5931l16 13 15 18-16-16z"/><path class="c23" d="M1299 5929l15 32 15-16-15-31z"/><path class="c25" d="M1359 5943l15 13 15-32-15-12z"/><path class="c33" d="M1269 5901l15 34 15-6-15-34zm422 39l15-18 15-16-15 15z"/><path class="c37" d="M1389 5924l15 4 15-32-15-5zm151-28l15 17 15 18-15-21z"/><path class="c39" d="M847 5896l15-14 15 2-15 17z"/><path class="c46" d="M1238 5873l16 29 15-1-16-31z"/><path class="c47" d="M877 5884l15-14 15-4-15 15z"/><path class="c48" d="M1721 5906l16-13 15-16-16 9z"/><path class="c50" d="M1419 5896l16 1 15-26-16-3zm484-9l15-4 15 7-15 8zm30 3l15-7 15 2-15 12zm181-2l16 27 15-23-15-22z"/><path class="c51" d="M1510 5868l15 16 15 12-15-20z"/><path class="c53" d="M1872 5877l16 1 15 9-15 2zm212 0l15 27 15-16-15-24z"/><path class="c54" d="M1963 5885l15-8 15-2-15 11z"/><path class="c56" d="M907 5866l15-10 15-7-15 8z"/><path class="c57" d="M1208 5853l15 20 15 0-15-24z"/><path class="c58" d="M1842 5865l15 6 15 6-15-4z"/><path class="c59" d="M1027 5852l16 20 15-19-16-14zm966 23l16-4 15-7-15 6zm61-9l15 21 15-10-15-20z"/><path class="c60" d="M997 5847l15 20 15-15-15-15zm61 6l15 17 15-19-15-12zm392 18l15 1 15-16-15-5zm302 6l15-6 15-11-15 0z"/><path class="c61" d="M1088 5851l15 12 15-16-15-7zm392 5l15 9 15 3-15-16z"/><path class="c62" d="M937 5849l15 1 15-8-15-2zm30-7l15 16 15-11-15-12zm845 17l15 7 15-1-15-7zm212 5l15 9 15-7-15-9z"/><path class="c63" d="M1118 5847l15 9 15-10-15-4zm60 0l15 9 15-3-15-13z"/><path class="c64" d="M1148 5846l15 8 15-7-15-6zm634 14l15 6 15-7-15-8z"/><path class="c13" d="M1314 5961l15 28 15-19-15-25z"/><path class="c14" d="M1344 5970l15 15 15-29-15-13zm272-4l15-6 15 9-15 8z"/><path class="c18" d="M1646 5969l15-15 15-3-15 17z"/><path class="c20" d="M1586 5944l15 5 15 17-15-4z"/><path class="c21" d="M1284 5935l15 32 15-6-15-32z"/><path class="c25" d="M1374 5956l15 4 15-32-15-4z"/><path class="c30" d="M1676 5951l15-18 15-11-15 18z"/><path class="c33" d="M1555 5913l15 12 16 19-16-13z"/><path class="c35" d="M1254 5902l15 31 15 2-15-34z"/><path class="c39" d="M1404 5928l16-2 15-29-16-1z"/><path class="c44" d="M1706 5922l15-16 16-13-16 13zm393-18l16 30 15-19-16-27z"/><path class="c47" d="M1525 5884l15 14 15 15-15-17z"/><path class="c49" d="M862 5882l15-11 15-1-15 14z"/><path class="c50" d="M1223 5873l16 25 15 4-16-29z"/><path class="c51" d="M2069 5887l15 29 15-12-15-27z"/><path class="c53" d="M1435 5897l15-3 15-22-15-1z"/><path class="c54" d="M1012 5867l16 25 15-20-16-20zm31 5l15 22 15-24-15-17z"/><path class="c56" d="M892 5870l15-8 15-6-15 10zm845 23l15-10 15-12-15 6zm181-10l15-2 15 2-15 7z"/><path class="c57" d="M982 5858l15 24 15-15-15-20zm91 12l15 17 15-24-15-12zm815 8l15 2 15 3-15 4zm60 5l15-4 15-2-15 8z"/><path class="c58" d="M1495 5865l15 11 15 8-15-16zm544 8l15 22 15-8-15-21z"/><path class="c60" d="M1103 5863l15 12 15-19-15-9zm90-7l15 16 15 1-15-20zm664 15l16 5 15 2-16-1zm121 6l16-1 15-5-16 4z"/><path class="c61" d="M922 5856l15 1 15-7-15-1zm30-6l15 18 15-10-15-16zm513 22l15 1 15-8-15-9z"/><path class="c62" d="M2009 5871l15 8 15-6-15-9z"/><path class="c63" d="M1133 5856l15 9 15-11-15-8zm634 15l15 2 15-7-15-6zm60-5l15 8 15-3-15-6z"/><path class="c64" d="M1163 5854l15 8 15-6-15-9zm634 12l15 7 15-7-15-7z"/><path class="c6" d="M1329 5989l15 17 15-21-15-15z"/><path class="c11" d="M1299 5967l15 27 15-5-15-28z"/><path class="c14" d="M1359 5985l15 3 15-28-15-4z"/><path class="c23" d="M1631 5960l15-12 15 6-15 15z"/><path class="c24" d="M1269 5933l15 30 15 4-15-32zm332 16l15-3 15 14-15 6z"/><path class="c28" d="M1389 5960l15-5 16-29-16 2z"/><path class="c30" d="M1661 5954l15-18 15-3-15 18z"/><path class="c32" d="M1570 5925l16 6 15 18-15-5z"/><path class="c40" d="M1239 5898l15 28 15 7-15-31zm845 18l15 33 16-15-16-30z"/><path class="c42" d="M1691 5933l15-18 15-9-15 16z"/><path class="c44" d="M1420 5926l15-7 15-25-15 3zm120-28l15 10 15 17-15-12z"/><path class="c47" d="M1028 5892l15 26 15-24-15-22z"/><path class="c49" d="M1058 5894l15 20 15-27-15-17z"/><path class="c50" d="M997 5882l16 28 15-18-16-25zm1057 13l15 28 15-7-15-29z"/><path class="c54" d="M1088 5887l15 14 15-26-15-12zm120-15l16 21 15 5-16-25zm513 34l16-12 15-11-15 10z"/><path class="c55" d="M967 5868l15 26 15-12-15-24z"/><path class="c56" d="M1510 5876l15 12 15 10-15-14z"/><path class="c57" d="M1450 5894l15-4 15-17-15-1z"/><path class="c58" d="M877 5871l15-5 15-4-15 8z"/><path class="c59" d="M2024 5879l15 20 15-4-15-22z"/><path class="c60" d="M1118 5875l15 9 15-19-15-9zm785 5l15 2 15-1-15 2z"/><path class="c61" d="M937 5857l15 19 15-8-15-18zm936 19l15 8 15-4-15-2zm60 5l15 2 15-4-15 4z"/><path class="c62" d="M907 5862l15 2 15-7-15-1zm271 0l15 11 15-1-15-16zm302 11l15 4 15-1-15-11zm272 10l15-2 15-8-15-2zm211-4l15 3 16-6-16 1z"/><path class="c63" d="M1148 5865l15 7 15-10-15-8zm664 8l15 12 15-11-15-8zm30 1l16 12 15-10-16-5zm152 2l15 8 15-5-15-8z"/><path class="c64" d="M1782 5873l15 9 15-9-15-7z"/><path class="c4" d="M1314 5994l15 17 15-5-15-17z"/><path class="c6" d="M1344 6006l15 1 15-19-15-3z"/><path class="c14" d="M1284 5963l15 25 15 6-15-27z"/><path class="c18" d="M1374 5988l15-9 15-24-15 5z"/><path class="c30" d="M1254 5926l15 26 15 11-15-30z"/><path class="c31" d="M1616 5946l15-8 15 10-15 12z"/><path class="c33" d="M1646 5948l15-14 15 2-15 18z"/><path class="c35" d="M1404 5955l16-11 15-25-15 7zm182-24l15 0 15 15-15 3z"/><path class="c39" d="M2069 5923l15 33 15-7-15-33z"/><path class="c40" d="M1013 5910l15 31 15-23-15-26zm30 8l15 25 15-29-15-20z"/><path class="c42" d="M1676 5936l15-16 15-5-15 18z"/><path class="c44" d="M1073 5914l15 17 15-30-15-14zm482-6l16 7 15 16-16-6z"/><path class="c46" d="M982 5894l16 31 15-15-16-28zm242-1l15 23 15 10-15-28z"/><path class="c51" d="M1435 5919l15-9 15-20-15 4zm604-20l15 27 15-3-15-28z"/><path class="c52" d="M1103 5901l15 10 15-27-15-9zm603 14l16-12 15-9-16 12z"/><path class="c54" d="M952 5876l15 26 15-8-15-26zm573 12l15 9 15 11-15-10z"/><path class="c59" d="M1193 5873l15 15 16 5-16-21z"/><path class="c60" d="M1133 5884l15 6 15-18-15-7zm604 10l15-4 15-9-15 2zm272-10l15 17 15-2-15-20z"/><path class="c61" d="M922 5864l15 17 15-5-15-19zm543 26l15-2 15-11-15-4zm30-13l15 8 15 3-15-12zm332 8l15 17 16-16-16-12zm31 1l15 15 15-17-15-8z"/><path class="c62" d="M892 5866l15 3 15-5-15-2zm905 16l15 16 15-13-15-12zm91 2l15 12 15-14-15-2z"/><path class="c63" d="M1163 5872l15 6 15-5-15-11zm604 9l15 10 15-9-15-9zm151 1l15 9 15-8-15-2zm30 1l15 6 15-7-15-3z"/><path class="c64" d="M1978 5882l16 8 15-6-15-8z"/><path class="c3" d="M1329 6011l15 1 15-5-15-1z"/><path class="c7" d="M1299 5988l15 15 15 8-15-17z"/><path class="c11" d="M1359 6007l15-11 15-17-15 9z"/><path class="c21" d="M1269 5952l15 21 15 15-15-25z"/><path class="c27" d="M1389 5979l16-14 15-21-16 11z"/><path class="c31" d="M1028 5941l15 29 15-27-15-25z"/><path class="c34" d="M1058 5943l15 20 15-32-15-17z"/><path class="c35" d="M998 5925l15 34 15-18-15-31z"/><path class="c38" d="M1239 5916l15 22 15 14-15-26z"/><path class="c40" d="M1601 5931l15-4 15 11-15 8zm30 7l15-10 15 6-15 14zm423-12l15 31 15-1-15-33z"/><path class="c42" d="M1088 5931l15 11 15-31-15-10z"/><path class="c43" d="M1420 5944l15-13 15-21-15 9z"/><path class="c44" d="M967 5902l16 32 15-9-16-31zm694 32l15-13 15-1-15 16z"/><path class="c46" d="M1571 5915l15 2 15 14-15 0z"/><path class="c52" d="M1118 5911l15 5 15-26-15-6zm573 9l16-12 15-5-16 12z"/><path class="c53" d="M1208 5888l16 18 15 10-15-23zm816 13l15 23 15 2-15-27z"/><path class="c54" d="M937 5881l15 26 15-5-15-26zm603 16l16 7 15 11-16-7z"/><path class="c57" d="M1450 5910l15-7 15-15-15 2zm392-8l16 20 15-21-15-15z"/><path class="c58" d="M1812 5898l15 22 15-18-15-17z"/><path class="c59" d="M1873 5901l15 16 15-21-15-12z"/><path class="c60" d="M1148 5890l15 4 15-16-15-6zm574 13l15-5 15-8-15 4zm60-12l15 20 15-13-15-16z"/><path class="c61" d="M907 5869l15 16 15-4-15-17zm603 16l15 8 15 4-15-9zm393 11l15 11 15-16-15-9z"/><path class="c62" d="M1178 5878l15 9 15 1-15-15zm574 12l15 11 15-10-15-10zm242 0l15 13 15-2-15-17z"/><path class="c63" d="M1480 5888l15 3 15-6-15-8zm453 3l15 8 15-10-15-6z"/><path class="c64" d="M1963 5889l16 8 15-7-16-8z"/><path class="c7" d="M1314 6003l15 2 15 7-15-1z"/><path class="c9" d="M1344 6012l15-10 15-6-15 11z"/><path class="c16" d="M1284 5973l15 14 15 16-15-15z"/><path class="c21" d="M1374 5996l16-17 15-14-16 14z"/><path class="c23" d="M1043 5970l15 23 15-30-15-20z"/><path class="c24" d="M1013 5959l15 31 15-20-15-29z"/><path class="c30" d="M1073 5963l15 12 15-33-15-11z"/><path class="c31" d="M1254 5938l15 18 15 17-15-21z"/><path class="c32" d="M983 5934l15 34 15-9-15-34z"/><path class="c37" d="M1405 5965l15-17 15-17-15 13z"/><path class="c42" d="M1103 5942l15 4 15-30-15-5z"/><path class="c44" d="M952 5907l16 30 15-3-16-32zm1087 17l15 28 15 5-15-31z"/><path class="c47" d="M1224 5906l15 18 15 14-15-22zm392 21l15-6 15 7-15 10z"/><path class="c49" d="M1586 5917l15 0 15 10-15 4zm60 11l15-9 15 2-15 13z"/><path class="c51" d="M1827 5920l16 25 15-23-16-20z"/><path class="c52" d="M1435 5931l15-12 15-16-15 7zm423-9l15 21 15-26-15-16z"/><path class="c54" d="M1133 5916l15 1 15-23-15-4zm543 5l15-9 16-4-16 12zm121-10l15 26 15-17-15-22z"/><path class="c55" d="M1556 5904l15 4 15 9-15-2z"/><path class="c56" d="M922 5885l15 22 15 0-15-26zm966 32l15 15 15-25-15-11z"/><path class="c57" d="M2009 5903l15 19 15 2-15-23z"/><path class="c58" d="M1767 5901l15 22 15-12-15-20z"/><path class="c59" d="M1193 5887l16 13 15 6-16-18z"/><path class="c60" d="M1707 5908l15-4 15-6-15 5z"/><path class="c61" d="M1465 5903l15-2 15-10-15-3zm60-10l15 8 16 3-16-7zm393 14l15 10 15-18-15-8z"/><path class="c62" d="M1163 5894l15 3 15-10-15-9zm574 4l15 11 15-8-15-11z"/><path class="c63" d="M1948 5899l15 7 16-9-16-8zm31-2l15 8 15-2-15-13z"/><path class="c64" d="M1495 5891l15 7 15-5-15-8z"/><path class="c12" d="M1329 6005l15-7 15 4-15 10z"/><path class="c14" d="M1028 5990l15 26 15-23-15-23z"/><path class="c16" d="M1299 5987l15 4 15 14-15-2z"/><path class="c18" d="M1058 5993l15 13 15-31-15-12z"/><path class="c19" d="M1359 6002l16-16 15-7-16 17z"/><path class="c20" d="M998 5968l15 33 15-11-15-31z"/><path class="c27" d="M1269 5956l15 12 15 19-15-14z"/><path class="c30" d="M1088 5975l15 3 15-32-15-4z"/><path class="c32" d="M968 5937l15 33 15-2-15-34zm422 42l15-18 15-13-15 17z"/><path class="c42" d="M1239 5924l15 15 15 17-15-18z"/><path class="c44" d="M1118 5946l15-1 15-28-15-1zm725-1l15 25 15-27-15-21z"/><path class="c45" d="M1812 5937l15 29 16-21-16-25z"/><path class="c47" d="M937 5907l16 28 15 2-16-30zm483 41l15-15 15-14-15 12zm453-5l15 18 15-29-15-15z"/><path class="c49" d="M2024 5922l15 22 15 8-15-28z"/><path class="c51" d="M1782 5923l15 28 15-14-15-26z"/><path class="c54" d="M1601 5917l15-1 15 5-15 6zm30 4l15-4 15 2-15 9zm272 11l15 11 15-26-15-10z"/><path class="c55" d="M1209 5900l15 13 15 11-15-18z"/><path class="c57" d="M1148 5917l15-1 15-19-15-3zm423-9l15 4 15 5-15 0zm90 11l15-5 15-2-15 9zm91-10l15 22 15-8-15-22z"/><path class="c58" d="M1450 5919l15-7 15-11-15 2z"/><path class="c60" d="M1691 5912l16-2 15-6-15 4zm242 5l15 8 15-19-15-7zm61-12l15 14 15 3-15-19z"/><path class="c61" d="M1540 5901l16 6 15 1-15-4z"/><path class="c62" d="M1178 5897l16 4 15-1-16-13zm544 7l15 11 15-6-15-11z"/><path class="c63" d="M1963 5906l16 7 15-8-15-8z"/><path class="c64" d="M1480 5901l15 4 15-7-15-7zm30-3l15 8 15-5-15-8z"/><path class="c9" d="M1043 6016l15 15 15-25-15-13z"/><path class="c10" d="M1013 6001l15 27 15-12-15-26z"/><path class="c19" d="M1073 6006l15 2 15-30-15-3z"/><path class="c20" d="M1314 5991l15-5 15 12-15 7z"/><path class="c21" d="M983 5970l15 31 15 0-15-33z"/><path class="c22" d="M1344 5998l15-14 16 2-16 16z"/><path class="c27" d="M1284 5968l15 5 15 18-15-4z"/><path class="c31" d="M1375 5986l15-19 15-6-15 18z"/><path class="c34" d="M1103 5978l15-4 15-29-15 1z"/><path class="c36" d="M953 5935l15 29 15 6-15-33zm874 31l16 30 15-26-15-25z"/><path class="c37" d="M1858 5970l15 22 15-31-15-18z"/><path class="c39" d="M1254 5939l15 11 15 18-15-12z"/><path class="c40" d="M1797 5951l15 33 15-18-15-29z"/><path class="c44" d="M1405 5961l15-17 15-11-15 15zm483 0l15 14 15-32-15-11z"/><path class="c49" d="M1133 5945l15-6 15-23-15 1zm634-14l15 30 15-10-15-28z"/><path class="c52" d="M1224 5913l15 13 15 13-15-15z"/><path class="c53" d="M1918 5943l15 8 15-26-15-8z"/><path class="c55" d="M2009 5919l15 18 15 7-15-22z"/><path class="c56" d="M1435 5933l15-10 15-11-15 7z"/><path class="c57" d="M1737 5915l15 22 15-6-15-22z"/><path class="c59" d="M1616 5916l15 1 15 0-15 4z"/><path class="c60" d="M1163 5916l16-1 15-14-16-4zm423-4l15 4 15 0-15 1zm60 5l15 0 15-3-15 5z"/><path class="c61" d="M1194 5901l15 9 15 3-15-13zm754 24l16 4 15-16-16-7z"/><path class="c62" d="M1556 5907l15 10 15-5-15-4zm120 7l16 2 15-6-16 2zm31-4l15 10 15-5-15-11z"/><path class="c63" d="M1465 5912l15 1 15-8-15-4zm60-6l16 10 15-9-16-6zm454 7l15 7 15-1-15-14z"/><path class="c64" d="M1495 5905l15 9 15-8-15-8z"/><path class="c4" d="M1028 6028l15 16 15-13-15-15z"/><path class="c9" d="M1058 6031l15 0 15-23-15-2z"/><path class="c11" d="M998 6001l15 25 15 2-15-27z"/><path class="c23" d="M1088 6008l15-8 15-26-15 4z"/><path class="c26" d="M968 5964l15 28 15 9-15-31z"/><path class="c27" d="M1843 5996l15 25 15-29-15-22z"/><path class="c28" d="M1329 5986l15-10 15 8-15 14z"/><path class="c29" d="M1812 5984l16 32 15-20-16-30z"/><path class="c30" d="M1299 5973l15-2 15 15-15 5z"/><path class="c33" d="M1359 5984l16-16 15-1-15 19zm514 8l15 16 15-33-15-14z"/><path class="c38" d="M1782 5961l15 33 15-10-15-33z"/><path class="c39" d="M1269 5950l15 5 15 18-15-5z"/><path class="c40" d="M1118 5974l15-10 15-25-15 6z"/><path class="c43" d="M1390 5967l15-16 15-7-15 17zm513 8l15 7 15-31-15-8z"/><path class="c49" d="M1752 5937l15 28 15-4-15-30z"/><path class="c50" d="M1239 5926l15 9 15 15-15-11z"/><path class="c54" d="M1148 5939l16-6 15-18-16 1zm272 5l15-11 15-10-15 10zm513 7l16 3 15-25-16-4z"/><path class="c59" d="M1209 5910l15 9 15 7-15-13zm513 10l15 19 15-2-15-22z"/><path class="c60" d="M1994 5920l15 13 15 4-15-18z"/><path class="c61" d="M1450 5923l15-2 15-8-15-1z"/><path class="c62" d="M1179 5915l15 1 15-6-15-9zm362 1l15 16 15-15-15-10zm30 1l15 13 15-14-15-4zm30-1l15 10 15-9-15-1zm30 1l15 6 15-6-15 0zm333 12l15 4 15-13-15-7z"/><path class="c63" d="M1480 5913l15 11 15-10-15-9zm30 1l15 15 16-13-16-10zm151 3l15 6 16-7-16-2zm31-1l15 9 15-5-15-10z"/><path class="c4" d="M1043 6044l15-1 15-12-15 0z"/><path class="c5" d="M1013 6026l15 14 15 4-15-16z"/><path class="c15" d="M1073 6031l15-10 15-21-15 8z"/><path class="c17" d="M983 5992l15 22 15 12-15-25z"/><path class="c19" d="M1828 6016l15 29 15-24-15-25z"/><path class="c21" d="M1858 6021l15 18 15-31-15-16z"/><path class="c26" d="M1797 5994l15 34 16-12-16-32z"/><path class="c31" d="M1103 6000l15-13 15-23-15 10zm785 8l15 7 15-33-15-7z"/><path class="c37" d="M1314 5971l15-6 15 11-15 10z"/><path class="c38" d="M1344 5976l16-13 15 5-16 16zm423-11l15 33 15-4-15-33z"/><path class="c41" d="M1284 5955l15 1 15 15-15 2z"/><path class="c44" d="M1375 5968l15-15 15-2-15 16zm543 14l15 1 16-29-16-3z"/><path class="c47" d="M1133 5964l15-11 16-20-16 6z"/><path class="c50" d="M1254 5935l15 7 15 13-15-5z"/><path class="c51" d="M1737 5939l15 26 15 0-15-28z"/><path class="c53" d="M1405 5951l15-11 15-7-15 11z"/><path class="c56" d="M1949 5954l15-1 15-20-15-4z"/><path class="c58" d="M1224 5919l15 9 15 7-15-9z"/><path class="c59" d="M1164 5933l15-4 15-13-15-1zm361-4l16 20 15-17-15-16zm31 3l15 18 15-20-15-13z"/><path class="c60" d="M1435 5933l15-4 15-8-15 2zm272-8l15 15 15-1-15-19z"/><path class="c61" d="M1495 5924l15 19 15-14-15-15zm91 6l15 14 15-18-15-10z"/><path class="c62" d="M1616 5926l15 10 15-13-15-6zm363 7l15 3 15-3-15-13z"/><path class="c63" d="M1194 5916l15 5 15-2-15-9zm271 5l15 13 15-10-15-11z"/><path class="c64" d="M1646 5923l15 7 15-7-15-6zm30 0l16 7 15-5-15-9z"/><path class="c5" d="M1028 6040l15 1 15 2-15 1z"/><path class="c10" d="M1058 6043l15-12 15-10-15 10z"/><path class="c12" d="M998 6014l15 13 15 13-15-14zm845 31l15 20 15-26-15-18z"/><path class="c14" d="M1812 6028l16 30 15-13-15-29z"/><path class="c19" d="M1873 6039l15 7 15-31-15-7z"/><path class="c24" d="M1088 6021l15-17 15-17-15 13z"/><path class="c26" d="M1782 5998l15 32 15-2-15-34z"/><path class="c33" d="M1903 6015l15-2 15-30-15-1z"/><path class="c41" d="M1118 5987l15-15 15-19-15 11zm634-22l15 29 15 4-15-33z"/><path class="c45" d="M1329 5965l16-8 15 6-16 13z"/><path class="c46" d="M1299 5956l15-2 15 11-15 6z"/><path class="c48" d="M1360 5963l15-10 15 0-15 15zm573 20l16-4 15-26-15 1z"/><path class="c51" d="M1269 5942l15 3 15 11-15-1z"/><path class="c53" d="M1541 5949l15 24 15-23-15-18z"/><path class="c54" d="M1390 5953l15-9 15-4-15 11zm332-13l15 22 15 3-15-26z"/><path class="c55" d="M1148 5953l16-9 15-15-15 4zm362-10l16 25 15-19-16-20zm61 7l15 19 15-25-15-14z"/><path class="c58" d="M1239 5928l15 7 15 7-15-7zm241 6l15 22 15-13-15-19z"/><path class="c59" d="M1601 5944l15 13 15-21-15-10zm363 9l15-1 15-16-15-3z"/><path class="c60" d="M1420 5940l15-4 15-7-15 4z"/><path class="c62" d="M1450 5929l15 13 15-8-15-13zm181 7l15 9 15-15-15-7zm61-6l15 12 15-2-15-15z"/><path class="c63" d="M1179 5929l15 1 15-9-15-5zm30-8l15 8 15-1-15-9z"/><path class="c64" d="M1661 5930l16 8 15-8-16-7z"/><path class="c6" d="M1828 6058l15 22 15-15-15-20z"/><path class="c9" d="M1858 6065l15 6 15-25-15-7z"/><path class="c11" d="M1043 6041l15-10 15 0-15 12z"/><path class="c12" d="M1013 6027l15 2 15 12-15-1z"/><path class="c15" d="M1797 6030l16 28 15 0-16-30z"/><path class="c20" d="M1073 6031l15-17 15-10-15 17z"/><path class="c22" d="M1888 6046l15-4 15-29-15 2z"/><path class="c30" d="M1767 5994l15 30 15 6-15-32z"/><path class="c35" d="M1103 6004l15-17 15-15-15 15z"/><path class="c38" d="M1918 6013l16-7 15-27-16 4z"/><path class="c46" d="M1737 5962l15 25 15 7-15-29z"/><path class="c47" d="M1526 5968l15 28 15-23-15-24zm30 5l15 23 15-27-15-19z"/><path class="c50" d="M1133 5972l16-13 15-15-16 9z"/><path class="c51" d="M1495 5956l16 28 15-16-16-25zm91 13l15 16 15-28-15-13z"/><path class="c52" d="M1314 5954l15-2 16 5-16 8z"/><path class="c53" d="M1345 5957l15-6 15 2-15 10zm604 22l15-6 15-21-15 1z"/><path class="c55" d="M1284 5945l15 2 15 7-15 2z"/><path class="c56" d="M1375 5953l15-6 15-3-15 9z"/><path class="c57" d="M1465 5942l15 24 15-10-15-22zm151 15l15 11 15-23-15-9z"/><path class="c58" d="M1707 5942l15 17 15 3-15-22z"/><path class="c59" d="M1254 5935l15 6 15 4-15-3z"/><path class="c60" d="M1164 5944l15-4 15-10-15-1z"/><path class="c61" d="M1405 5944l15-2 15-6-15 4z"/><path class="c62" d="M1435 5936l15 13 15-7-15-13zm211 9l16 7 15-14-16-8z"/><path class="c63" d="M1224 5929l15 8 15-2-15-7zm453 9l15 7 15-3-15-12z"/><path class="c64" d="M1194 5930l15 6 15-7-15-8z"/><path class="c3" d="M1843 6080l15 6 15-15-15-6z"/><path class="c6" d="M1813 6058l15 20 15 2-15-22z"/><path class="c12" d="M1873 6071l15-6 15-23-15 4z"/><path class="c17" d="M1028 6029l15-6 15 8-15 10z"/><path class="c20" d="M1782 6024l16 25 15 9-16-28z"/><path class="c21" d="M1058 6031l15-15 15-2-15 17z"/><path class="c28" d="M1903 6042l15-11 16-25-16 7z"/><path class="c32" d="M1088 6014l15-18 15-9-15 17z"/><path class="c36" d="M1752 5987l15 25 15 12-15-30z"/><path class="c38" d="M1541 5996l15 28 15-28-15-23z"/><path class="c41" d="M1511 5984l15 32 15-20-15-28zm60 12l15 20 15-31-15-16z"/><path class="c45" d="M1934 6006l15-11 15-22-15 6z"/><path class="c46" d="M1118 5987l16-16 15-12-16 13z"/><path class="c48" d="M1480 5966l15 30 16-12-16-28zm121 19l15 12 15-29-15-11z"/><path class="c52" d="M1722 5959l15 20 15 8-15-25z"/><path class="c56" d="M1450 5949l15 24 15-7-15-24z"/><path class="c57" d="M1631 5968l15 7 16-23-16-7z"/><path class="c58" d="M1149 5959l15-8 15-11-15 4zm150-12l15 2 15 3-15 2zm30 5l16-1 15 0-15 6z"/><path class="c59" d="M1360 5951l15-1 15-3-15 6z"/><path class="c61" d="M1269 5941l15 5 15 1-15-2zm423 4l15 12 15 2-15-17z"/><path class="c62" d="M1390 5947l15 1 15-6-15 2zm30-5l15 12 15-5-15-13zm242 10l15 6 15-13-15-7z"/><path class="c63" d="M1179 5940l15 3 15-7-15-6zm60-3l15 9 15-5-15-6z"/><path class="c64" d="M1209 5936l15 8 15-7-15-8z"/><path class="c3" d="M1828 6078l15 7 15 1-15-6z"/><path class="c7" d="M1858 6086l15-8 15-13-15 6z"/><path class="c12" d="M1798 6049l15 18 15 11-15-20z"/><path class="c20" d="M1888 6065l15-14 15-20-15 11z"/><path class="c26" d="M1043 6023l15-13 15 6-15 15z"/><path class="c28" d="M1767 6012l15 22 16 15-16-25z"/><path class="c31" d="M1526 6016l15 31 15-23-15-28zm30 8l15 23 15-31-15-20z"/><path class="c33" d="M1073 6016l15-17 15-3-15 18z"/><path class="c37" d="M1495 5996l16 34 15-14-15-32zm91 20l15 14 15-33-15-12zm332 15l16-15 15-21-15 11z"/><path class="c44" d="M1103 5996l16-17 15-8-16 16z"/><path class="c45" d="M1737 5979l15 20 15 13-15-25z"/><path class="c47" d="M1465 5973l15 30 15-7-15-30z"/><path class="c48" d="M1616 5997l15 7 15-29-15-7z"/><path class="c55" d="M1134 5971l15-10 15-10-15 8z"/><path class="c57" d="M1435 5954l15 22 15-3-15-24zm211 21l16 4 15-21-15-6zm61-18l15 15 15 7-15-20z"/><path class="c61" d="M1314 5949l16 6 15-4-16 1z"/><path class="c62" d="M1164 5951l15 0 15-8-15-3zm90-5l15 14 15-14-15-5zm30 0l15 12 15-9-15-2zm61 5l15 3 15-4-15 1zm332 7l15 5 15-6-15-12z"/><path class="c63" d="M1224 5944l15 14 15-12-15-9zm151 6l15 5 15-7-15-1zm30-2l15 11 15-5-15-12z"/><path class="c64" d="M1194 5943l15 11 15-10-15-8z"/><path class="c7" d="M1843 6085l15-6 15-1-15 8z"/><path class="c10" d="M1813 6067l15 6 15 12-15-7z"/><path class="c16" d="M1873 6078l15-15 15-12-15 14z"/><path class="c21" d="M1541 6047l15 27 15-27-15-23z"/><path class="c22" d="M1782 6034l16 15 15 18-15-18z"/><path class="c25" d="M1511 6030l15 33 15-16-15-31z"/><path class="c26" d="M1571 6047l15 16 15-33-15-14z"/><path class="c31" d="M1903 6051l16-18 15-17-16 15z"/><path class="c36" d="M1480 6003l16 33 15-6-16-34zm121 27l15 6 15-32-15-7z"/><path class="c37" d="M1058 6010l15-14 15 3-15 17z"/><path class="c38" d="M1752 5999l15 18 15 17-15-22z"/><path class="c44" d="M1088 5999l15-15 16-5-16 17z"/><path class="c49" d="M1450 5976l15 28 15-1-15-30zm181 28l16 1 15-26-16-4z"/><path class="c53" d="M1722 5972l15 16 15 11-15-20z"/><path class="c54" d="M1119 5979l15-10 15-8-15 10z"/><path class="c59" d="M1420 5959l15 18 15-1-15-22zm242 20l15 1 15-17-15-5z"/><path class="c60" d="M1239 5958l15 19 15-17-15-14zm30 2l15 16 15-18-15-12z"/><path class="c61" d="M1149 5961l15-2 15-8-15 0zm60-7l15 18 15-14-15-14zm483 9l15 7 15 2-15-15z"/><path class="c62" d="M1299 5958l16 13 15-16-16-6z"/><path class="c63" d="M1179 5951l15 13 15-10-15-11zm151 4l15 9 15-10-15-3zm60 0l15 8 15-4-15-11z"/><path class="c64" d="M1360 5954l15 8 15-7-15-5z"/><path class="c13" d="M1828 6073l15-3 15 9-15 6z"/><path class="c15" d="M1526 6063l15 29 15-18-15-27zm30 11l15 17 15-28-15-16z"/><path class="c16" d="M1858 6079l15-14 15-2-15 15z"/><path class="c20" d="M1798 6049l15 7 15 17-15-6z"/><path class="c24" d="M1496 6036l15 33 15-6-15-33zm90 27l15 6 15-33-15-6z"/><path class="c27" d="M1888 6063l15-19 16-11-16 18z"/><path class="c33" d="M1767 6017l16 14 15 18-16-15z"/><path class="c38" d="M1465 6004l16 31 15 1-16-33zm151 32l15-1 16-30-16-1z"/><path class="c47" d="M1073 5996l15-11 15-1-15 15z"/><path class="c48" d="M1737 5988l15 15 15 14-15-18z"/><path class="c52" d="M1435 5977l15 24 15 3-15-28zm212 28l15-2 15-23-15-1z"/><path class="c54" d="M1103 5984l16-10 15-5-15 10z"/><path class="c55" d="M1254 5977l15 22 15-23-15-16z"/><path class="c56" d="M1224 5972l15 24 15-19-15-19z"/><path class="c57" d="M1284 5976l15 17 16-22-16-13z"/><path class="c59" d="M1194 5964l15 22 15-14-15-18zm513 6l15 12 15 6-15-16z"/><path class="c61" d="M1134 5969l15-3 15-7-15 2zm181 2l15 11 15-18-15-9zm90-8l15 15 15-1-15-18zm272 17l15 1 15-11-15-7z"/><path class="c62" d="M1164 5959l15 15 15-10-15-13z"/><path class="c63" d="M1345 5964l15 9 15-11-15-8z"/><path class="c64" d="M1375 5962l15 8 15-7-15-8z"/><path class="c7" d="M1541 6092l15 20 15-21-15-17z"/><path class="c13" d="M1511 6069l15 29 15-6-15-29zm60 22l15 6 15-28-15-6z"/><path class="c21" d="M1843 6070l15-11 15 6-15 14z"/><path class="c23" d="M1813 6056l15-1 15 15-15 3z"/><path class="c26" d="M1481 6035l15 31 15 3-15-33z"/><path class="c27" d="M1601 6069l15-4 15-30-15 1zm272-4l15-17 15-4-15 19z"/><path class="c32" d="M1783 6031l15 7 15 18-15-7z"/><path class="c42" d="M1450 6001l15 28 16 6-16-31z"/><path class="c43" d="M1631 6035l16-6 15-26-15 2z"/><path class="c45" d="M1752 6003l15 11 16 17-16-14z"/><path class="c49" d="M1239 5996l15 27 15-24-15-22z"/><path class="c50" d="M1269 5999l15 21 15-27-15-17z"/><path class="c52" d="M1209 5986l15 28 15-18-15-24z"/><path class="c54" d="M1299 5993l16 15 15-26-15-11z"/><path class="c56" d="M1088 5985l16-7 15-4-16 10zm332-7l15 19 15 4-15-24zm242 25l15-4 15-18-15-1zm60-21l15 11 15 10-15-15z"/><path class="c57" d="M1179 5974l15 24 15-12-15-22z"/><path class="c60" d="M1330 5982l15 10 15-19-15-9z"/><path class="c61" d="M1119 5974l15-1 15-7-15 3zm30-8l15 16 15-8-15-15z"/><path class="c62" d="M1692 5981l15 3 15-2-15-12z"/><path class="c63" d="M1360 5973l15 7 15-10-15-8zm30-3l15 9 15-1-15-15z"/><path class="c5" d="M1526 6098l15 20 15-6-15-20zm30 14l15 5 15-20-15-6z"/><path class="c16" d="M1496 6066l15 26 15 6-15-29z"/><path class="c17" d="M1586 6097l15-6 15-26-15 4z"/><path class="c29" d="M1828 6055l15-7 15 11-15 11z"/><path class="c31" d="M1858 6059l15-14 15 3-15 17z"/><path class="c32" d="M1465 6029l16 27 15 10-15-31z"/><path class="c33" d="M1616 6065l16-10 15-26-16 6z"/><path class="c34" d="M1798 6038l15 1 15 16-15 1z"/><path class="c41" d="M1254 6023l15 25 15-28-15-21z"/><path class="c42" d="M1224 6014l15 31 15-22-15-27z"/><path class="c44" d="M1767 6014l16 8 15 16-15-7z"/><path class="c45" d="M1284 6020l16 18 15-30-16-15z"/><path class="c48" d="M1194 5998l15 30 15-14-15-28zm241-1l15 23 15 9-15-28z"/><path class="c49" d="M1647 6029l15-8 15-22-15 4z"/><path class="c52" d="M1315 6008l15 11 15-27-15-10z"/><path class="c54" d="M1737 5993l15 10 15 11-15-11z"/><path class="c56" d="M1164 5982l15 24 15-8-15-24z"/><path class="c60" d="M1345 5992l15 7 15-19-15-7zm60-13l15 15 15 3-15-19zm272 20l15-2 15-13-15-3z"/><path class="c61" d="M1134 5973l15 14 15-5-15-16z"/><path class="c62" d="M1104 5978l15 1 15-6-15 1zm603 6l15 7 15 2-15-11z"/><path class="c63" d="M1375 5980l15 6 15-7-15-9z"/><path class="c3" d="M1541 6118l15 4 15-5-15-5z"/><path class="c8" d="M1511 6092l15 17 15 9-15-20z"/><path class="c9" d="M1571 6117l15-9 15-17-15 6z"/><path class="c23" d="M1481 6056l15 22 15 14-15-26z"/><path class="c24" d="M1601 6091l15-14 16-22-16 10z"/><path class="c33" d="M1239 6045l15 29 15-26-15-25z"/><path class="c35" d="M1269 6048l16 22 15-32-16-18z"/><path class="c37" d="M1209 6028l15 34 15-17-15-31zm634 20l15-10 15 7-15 14z"/><path class="c39" d="M1813 6039l15-3 15 12-15 7z"/><path class="c40" d="M1450 6020l16 22 15 14-16-27z"/><path class="c41" d="M1632 6055l15-13 15-21-15 8z"/><path class="c42" d="M1300 6038l15 13 15-32-15-11z"/><path class="c45" d="M1783 6022l15 3 15 14-15-1z"/><path class="c46" d="M1179 6006l15 31 15-9-15-30z"/><path class="c52" d="M1330 6019l15 6 15-26-15-7z"/><path class="c54" d="M1420 5994l15 17 15 9-15-23zm332 9l16 8 15 11-16-8z"/><path class="c55" d="M1662 6021l15-8 15-16-15 2z"/><path class="c56" d="M1149 5987l15 24 15-5-15-24z"/><path class="c60" d="M1360 5999l15 4 15-17-15-6z"/><path class="c61" d="M1722 5991l15 9 15 3-15-10z"/><path class="c62" d="M1119 5979l15 12 15-4-15-14zm271 7l15 8 15 0-15-15z"/><path class="c63" d="M1692 5997l15 1 15-7-15-7z"/><path class="c6" d="M1526 6109l15 6 15 7-15-4z"/><path class="c7" d="M1556 6122l15-8 15-6-15 9z"/><path class="c17" d="M1496 6078l15 16 15 15-15-17z"/><path class="c18" d="M1586 6108l15-15 15-16-15 14z"/><path class="c24" d="M1254 6074l15 25 16-29-16-22z"/><path class="c26" d="M1224 6062l15 32 15-20-15-29z"/><path class="c31" d="M1285 6070l15 14 15-33-15-13z"/><path class="c33" d="M1466 6042l15 20 15 16-15-22z"/><path class="c34" d="M1616 6077l16-16 15-19-15 13z"/><path class="c35" d="M1194 6037l15 34 15-9-15-34z"/><path class="c42" d="M1315 6051l15 5 15-31-15-6z"/><path class="c45" d="M1828 6036l15-6 15 8-15 10z"/><path class="c47" d="M1164 6011l15 30 15-4-15-31z"/><path class="c48" d="M1798 6025l15 0 15 11-15 3z"/><path class="c49" d="M1435 6011l15 18 16 13-16-22z"/><path class="c50" d="M1647 6042l15-12 15-17-15 8z"/><path class="c53" d="M1345 6025l15 2 15-24-15-4z"/><path class="c54" d="M1768 6011l15 5 15 9-15-3z"/><path class="c57" d="M1134 5991l15 22 15-2-15-24z"/><path class="c60" d="M1405 5994l15 13 15 4-15-17zm272 19l15-3 15-12-15-1zm60-13l15 7 16 4-16-8z"/><path class="c61" d="M1375 6003l15 3 15-12-15-8z"/><path class="c63" d="M1707 5998l15 7 15-5-15-9z"/><path class="c10" d="M1541 6115l15-6 15 5-15 8z"/><path class="c15" d="M1511 6094l15 6 15 15-15-6z"/><path class="c16" d="M1239 6094l15 28 15-23-15-25zm332 20l15-15 15-6-15 15z"/><path class="c19" d="M1269 6099l16 16 15-31-15-14z"/><path class="c23" d="M1209 6071l15 34 15-11-15-32z"/><path class="c28" d="M1481 6062l15 13 15 19-15-16z"/><path class="c29" d="M1601 6093l16-19 15-13-16 16z"/><path class="c30" d="M1300 6084l15 5 15-33-15-5z"/><path class="c35" d="M1179 6041l15 32 15-2-15-34z"/><path class="c43" d="M1450 6029l16 16 15 17-15-20z"/><path class="c44" d="M1330 6056l15 0 15-29-15-2z"/><path class="c45" d="M1632 6061l15-16 15-15-15 12z"/><path class="c49" d="M1149 6013l15 26 15 2-15-30z"/><path class="c53" d="M1813 6025l15-1 15 6-15 6z"/><path class="c56" d="M1360 6027l15 0 15-21-15-3zm60-20l15 13 15 9-15-18z"/><path class="c57" d="M1662 6030l15-8 15-12-15 3zm121-14l15 3 15 6-15 0z"/><path class="c61" d="M1752 6007l16 7 15 2-15-5z"/><path class="c62" d="M1390 6006l15 4 15-3-15-13z"/><path class="c63" d="M1692 6010l15 2 15-7-15-7z"/><path class="c64" d="M1722 6005l15 7 15-5-15-7z"/><path class="c10" d="M1254 6122l16 17 15-24-16-16z"/><path class="c12" d="M1224 6105l15 28 15-11-15-28z"/><path class="c18" d="M1285 6115l15 4 15-30-15-5z"/><path class="c19" d="M1526 6100l15-3 15 12-15 6zm30 9l15-13 15 3-15 15z"/><path class="c23" d="M1194 6073l15 32 15 0-15-34z"/><path class="c27" d="M1496 6075l15 7 15 18-15-6z"/><path class="c28" d="M1586 6099l15-18 16-7-16 19z"/><path class="c33" d="M1315 6089l15-3 15-30-15 0z"/><path class="c39" d="M1164 6039l15 30 15 4-15-32z"/><path class="c40" d="M1466 6045l15 12 15 18-15-13z"/><path class="c41" d="M1617 6074l15-17 15-12-15 16z"/><path class="c48" d="M1345 6056l15-5 15-24-15 0z"/><path class="c53" d="M1435 6020l16 13 15 12-16-16z"/><path class="c54" d="M1647 6045l15-11 15-12-15 8z"/><path class="c59" d="M1375 6027l15-2 15-15-15-4zm423-8l15 4 15 1-15 1z"/><path class="c61" d="M1405 6010l15 7 15 3-15-13z"/><path class="c62" d="M1677 6022l15-1 15-9-15-2zm91-8l15 8 15-3-15-3z"/><path class="c63" d="M1737 6012l16 10 15-8-16-7z"/><path class="c64" d="M1707 6012l15 8 15-8-15-7z"/><path class="c4" d="M1239 6133l15 20 16-14-16-17z"/><path class="c8" d="M1270 6139l15 4 15-24-15-4z"/><path class="c13" d="M1209 6105l15 27 15 1-15-28z"/><path class="c22" d="M1300 6119l15-6 15-27-15 3z"/><path class="c26" d="M1541 6097l15-9 15 8-15 13z"/><path class="c28" d="M1179 6069l15 28 15 8-15-32z"/><path class="c29" d="M1511 6082l15-1 15 16-15 3z"/><path class="c30" d="M1571 6096l15-15 15 0-15 18z"/><path class="c38" d="M1330 6086l15-9 15-26-15 5z"/><path class="c39" d="M1481 6057l15 7 15 18-15-7z"/><path class="c40" d="M1601 6081l16-18 15-6-15 17z"/><path class="c50" d="M1451 6033l15 10 15 14-15-12z"/><path class="c52" d="M1632 6057l15-13 15-10-15 11z"/><path class="c53" d="M1360 6051l15-6 15-20-15 2z"/><path class="c60" d="M1420 6017l15 10 16 6-16-13zm242 17l15-4 15-9-15 1z"/><path class="c62" d="M1390 6025l15 0 15-8-15-7zm363-3l15 14 15-14-15-8zm30 0l15 13 15-12-15-4z"/><path class="c63" d="M1722 6020l15 13 16-11-16-10z"/><path class="c64" d="M1692 6021l15 8 15-9-15-8z"/><path class="c3" d="M1254 6153l16 2 15-12-15-4z"/><path class="c5" d="M1224 6132l15 17 15 4-15-20z"/><path class="c13" d="M1285 6143l15-9 15-21-15 6z"/><path class="c18" d="M1194 6097l15 24 15 11-15-27z"/><path class="c29" d="M1315 6113l15-12 15-24-15 9z"/><path class="c35" d="M1526 6081l15-5 15 12-15 9zm30 7l15-12 15 5-15 15z"/><path class="c41" d="M1496 6064l15 2 15 15-15 1z"/><path class="c42" d="M1586 6081l16-15 15-3-16 18z"/><path class="c46" d="M1345 6077l15-11 15-21-15 6z"/><path class="c50" d="M1466 6043l15 7 15 14-15-7z"/><path class="c51" d="M1617 6063l15-12 15-7-15 13z"/><path class="c58" d="M1375 6045l15-5 15-15-15 0zm60-18l16 9 15 7-15-10z"/><path class="c59" d="M1647 6044l15-6 15-8-15 4z"/><path class="c60" d="M1737 6033l16 20 15-17-15-14zm31 3l15 18 15-19-15-13z"/><path class="c62" d="M1707 6029l15 17 15-13-15-13z"/><path class="c63" d="M1405 6025l15 5 15-3-15-10zm272 5l15 8 15-9-15-8z"/><path class="c4" d="M1239 6149l16 4 15 2-16-2z"/><path class="c8" d="M1270 6155l15-10 15-11-15 9z"/><path class="c12" d="M1209 6121l15 15 15 13-15-17z"/><path class="c22" d="M1300 6134l15-15 15-18-15 12z"/><path class="c38" d="M1330 6101l15-15 15-20-15 11z"/><path class="c43" d="M1541 6076l15-8 15 8-15 12z"/><path class="c45" d="M1511 6066l15-2 15 12-15 5z"/><path class="c46" d="M1571 6076l15-12 16 2-16 15z"/><path class="c51" d="M1481 6050l15 4 15 12-15-2z"/><path class="c52" d="M1602 6066l15-11 15-4-15 12z"/><path class="c53" d="M1360 6066l15-10 15-16-15 5z"/><path class="c55" d="M1753 6053l15 23 15-22-15-18z"/><path class="c56" d="M1722 6046l15 24 16-17-16-20z"/><path class="c58" d="M1451 6036l15 7 15 7-15-7z"/><path class="c59" d="M1632 6051l15-6 15-7-15 6z"/><path class="c60" d="M1692 6038l15 21 15-13-15-17z"/><path class="c62" d="M1390 6040l15-1 15-9-15-5zm272-2l15 9 15-9-15-8z"/><path class="c63" d="M1420 6030l16 7 15-1-16-9z"/><path class="c9" d="M1255 6153l15-8 15 0-15 10z"/><path class="c11" d="M1224 6136l15 5 16 12-16-4z"/><path class="c18" d="M1285 6145l15-16 15-10-15 15z"/><path class="c33" d="M1315 6119l15-18 15-15-15 15z"/><path class="c48" d="M1345 6086l15-14 15-16-15 10z"/><path class="c49" d="M1737 6070l16 28 15-22-15-23z"/><path class="c51" d="M1526 6064l15-2 15 6-15 8zm30 4l15-6 15 2-15 12z"/><path class="c53" d="M1707 6059l15 27 15-16-15-24z"/><path class="c54" d="M1496 6054l15 3 15 7-15 2zm90 10l16-7 15-2-15 11z"/><path class="c58" d="M1677 6047l15 22 15-10-15-21z"/><path class="c59" d="M1375 6056l15-5 15-12-15 1zm91-13l15 7 15 4-15-4zm151 12l15-4 15-6-15 6z"/><path class="c62" d="M1647 6045l15 9 15-7-15-9z"/><path class="c63" d="M1436 6037l15 8 15-2-15-7z"/><path class="c64" d="M1405 6039l15 6 16-8-16-7z"/><path class="c15" d="M1239 6141l16-5 15 9-15 8z"/><path class="c19" d="M1270 6145l15-14 15-2-15 16z"/><path class="c30" d="M1300 6129l15-18 15-10-15 18z"/><path class="c43" d="M1722 6086l16 31 15-19-16-28z"/><path class="c44" d="M1330 6101l15-16 15-13-15 14z"/><path class="c50" d="M1692 6069l15 29 15-12-15-27z"/><path class="c56" d="M1360 6072l15-9 15-12-15 5zm181-10l15-2 15 2-15 6z"/><path class="c57" d="M1511 6057l15 2 15 3-15 2z"/><path class="c58" d="M1571 6062l16-3 15-2-16 7zm91-8l15 22 15-7-15-22z"/><path class="c60" d="M1481 6050l15 5 15 2-15-3z"/><path class="c61" d="M1602 6057l15 0 15-6-15 4z"/><path class="c62" d="M1632 6051l15 9 15-6-15-9z"/><path class="c63" d="M1390 6051l15 1 15-7-15-6zm61-6l15 9 15-4-15-7z"/><path class="c64" d="M1420 6045l16 7 15-7-15-8z"/><path class="c24" d="M1255 6136l15-12 15 7-15 14z"/><path class="c30" d="M1285 6131l15-18 15-2-15 18z"/><path class="c40" d="M1707 6098l15 33 16-14-16-31z"/><path class="c42" d="M1315 6111l15-17 15-9-15 16z"/><path class="c50" d="M1677 6076l15 28 15-6-15-29z"/><path class="c53" d="M1345 6085l15-12 15-10-15 9z"/><path class="c59" d="M1647 6060l15 20 15-4-15-22z"/><path class="c61" d="M1526 6059l15 4 15-3-15 2zm30 1l15 3 16-4-16 3z"/><path class="c62" d="M1375 6063l15-2 15-9-15-1zm121-8l15 10 15-6-15-2zm91 4l15 4 15-6-15 0z"/><path class="c63" d="M1436 6052l15 13 15-11-15-9zm30 2l15 12 15-11-15-5zm151 3l15 8 15-5-15-9z"/><path class="c64" d="M1405 6052l16 9 15-9-16-7z"/><path class="c34" d="M1270 6124l15-13 15 2-15 18z"/><path class="c39" d="M1692 6104l15 33 15-6-15-33z"/><path class="c42" d="M1300 6113l15-15 15-4-15 17z"/><path class="c51" d="M1662 6080l15 26 15-2-15-28z"/><path class="c52" d="M1330 6094l15-13 15-8-15 12z"/><path class="c60" d="M1360 6073l15-4 15-8-15 2zm272-8l15 17 15-2-15-20z"/><path class="c61" d="M1451 6065l15 18 15-17-15-12zm30 1l15 16 15-17-15-10z"/><path class="c62" d="M1421 6061l15 17 15-13-15-13zm90 4l15 13 15-15-15-4z"/><path class="c63" d="M1390 6061l15 10 16-10-16-9zm151 2l15 9 15-9-15-3zm30 0l16 7 15-7-15-4z"/><path class="c64" d="M1602 6063l15 7 15-5-15-8z"/><path class="c40" d="M1677 6106l15 31 15 0-15-33z"/><path class="c45" d="M1285 6111l15-13 15 0-15 15z"/><path class="c52" d="M1315 6098l15-11 15-6-15 13z"/><path class="c53" d="M1647 6082l15 23 15 1-15-26z"/><path class="c56" d="M1466 6083l15 21 15-22-15-16z"/><path class="c57" d="M1436 6078l15 23 15-18-15-18z"/><path class="c58" d="M1496 6082l15 17 15-21-15-13z"/><path class="c60" d="M1345 6081l15-4 15-8-15 4zm60-10l16 20 15-13-15-17z"/><path class="c61" d="M1526 6078l15 12 15-18-15-9z"/><path class="c62" d="M1375 6069l15 11 15-9-15-10zm242 1l15 13 15-1-15-17z"/><path class="c63" d="M1556 6072l15 8 16-10-16-7z"/><path class="c64" d="M1587 6070l15 8 15-8-15-7z"/><path class="c44" d="M1662 6105l15 27 15 5-15-31z"/><path class="c51" d="M1451 6101l15 26 15-23-15-21zm30 3l15 22 15-27-15-17z"/><path class="c53" d="M1421 6091l15 27 15-17-15-23z"/><path class="c54" d="M1300 6098l15-8 15-3-15 11z"/><path class="c55" d="M1511 6099l15 16 15-25-15-12z"/><path class="c57" d="M1632 6083l15 19 15 3-15-23z"/><path class="c58" d="M1390 6080l16 23 15-12-16-20z"/><path class="c60" d="M1330 6087l15-4 15-6-15 4zm211 3l15 10 15-20-15-8z"/><path class="c62" d="M1360 6077l15 11 15-8-15-11z"/><path class="c63" d="M1571 6080l16 8 15-10-15-8zm31-2l15 8 15-3-15-13z"/><path class="c43" d="M1466 6127l15 26 15-27-15-22z"/><path class="c45" d="M1436 6118l15 30 15-21-15-26z"/><path class="c46" d="M1496 6126l15 19 15-30-15-16z"/><path class="c50" d="M1406 6103l15 29 15-14-15-27zm241-1l15 22 15 8-15-27z"/><path class="c53" d="M1526 6115l15 12 15-27-15-10z"/><path class="c57" d="M1375 6088l15 23 16-8-16-23z"/><path class="c59" d="M1556 6100l16 8 15-20-16-8z"/><path class="c61" d="M1315 6090l15-1 15-6-15 4zm302-4l15 14 15 2-15-19z"/><path class="c62" d="M1345 6083l15 11 15-6-15-11z"/><path class="c63" d="M1587 6088l15 7 15-9-15-8z"/><path class="c35" d="M1451 6148l15 30 15-25-15-26z"/><path class="c36" d="M1481 6153l15 23 15-31-15-19z"/><path class="c40" d="M1421 6132l15 33 15-17-15-30z"/><path class="c43" d="M1511 6145l15 13 15-31-15-12z"/><path class="c49" d="M1390 6111l16 30 15-9-15-29z"/><path class="c52" d="M1541 6127l15 7 16-26-16-8z"/><path class="c56" d="M1632 6100l15 17 15 7-15-22z"/><path class="c58" d="M1360 6094l15 22 15-5-15-23z"/><path class="c60" d="M1572 6108l15 4 15-17-15-7z"/><path class="c62" d="M1330 6089l15 10 15-5-15-11z"/><path class="c63" d="M1602 6095l15 6 15-1-15-14z"/><path class="c26" d="M1466 6178l15 26 15-28-15-23z"/><path class="c29" d="M1436 6165l15 32 15-19-15-30z"/><path class="c31" d="M1496 6176l15 16 15-34-15-13z"/><path class="c37" d="M1406 6141l15 33 15-9-15-33z"/><path class="c42" d="M1526 6158l15 8 15-32-15-7z"/><path class="c49" d="M1375 6116l15 28 16-3-16-30z"/><path class="c53" d="M1556 6134l16 3 15-25-15-4z"/><path class="c59" d="M1345 6099l15 19 15-2-15-22z"/><path class="c61" d="M1587 6112l15 4 15-15-15-6zm30-11l15 12 15 4-15-17z"/><path class="c18" d="M1451 6197l15 30 15-23-15-26z"/><path class="c20" d="M1481 6204l15 18 15-30-15-16z"/><path class="c25" d="M1421 6174l15 34 15-11-15-32z"/><path class="c30" d="M1511 6192l15 7 15-33-15-8z"/><path class="c38" d="M1390 6144l16 33 15-3-15-33z"/><path class="c43" d="M1541 6166l16 1 15-30-16-3z"/><path class="c51" d="M1360 6118l15 26 15 0-15-28z"/><path class="c55" d="M1572 6137l15 0 15-21-15-4z"/><path class="c62" d="M1602 6116l15 3 15-6-15-12z"/><path class="c11" d="M1466 6227l15 20 15-25-15-18z"/><path class="c14" d="M1436 6208l15 30 15-11-15-30z"/><path class="c18" d="M1496 6222l15 8 15-31-15-7z"/><path class="c26" d="M1406 6177l15 32 15-1-15-34z"/><path class="c32" d="M1526 6199l15-2 16-30-16-1z"/><path class="c41" d="M1375 6144l16 29 15 4-16-33z"/><path class="c47" d="M1557 6167l15-4 15-26-15 0z"/><path class="c58" d="M1587 6137l15-1 15-17-15-3z"/><path class="c6" d="M1451 6238l15 22 15-13-15-20z"/><path class="c8" d="M1481 6247l15 7 15-24-15-8z"/><path class="c15" d="M1421 6209l15 28 15 1-15-30z"/><path class="c21" d="M1511 6230l15-4 15-29-15 2z"/><path class="c30" d="M1391 6173l15 29 15 7-15-32z"/><path class="c37" d="M1541 6197l16-7 15-27-15 4z"/><path class="c52" d="M1572 6163l15-6 15-21-15 1z"/><path class="c3" d="M1466 6260l15 7 15-13-15-7z"/><path class="c7" d="M1436 6237l15 20 15 3-15-22z"/><path class="c11" d="M1496 6254l15-6 15-22-15 4z"/><path class="c20" d="M1406 6202l15 25 15 10-15-28z"/><path class="c27" d="M1526 6226l15-11 16-25-16 7z"/><path class="c44" d="M1557 6190l15-11 15-22-15 6z"/><path class="c4" d="M1451 6257l15 7 15 3-15-7z"/><path class="c7" d="M1481 6267l15-8 15-11-15 6z"/><path class="c13" d="M1421 6227l15 18 15 12-15-20z"/><path class="c19" d="M1511 6248l15-14 15-19-15 11z"/><path class="c36" d="M1541 6215l16-15 15-21-15 11z"/><path class="c7" d="M1466 6264l15-5 15 0-15 8z"/><path class="c11" d="M1436 6245l15 7 15 12-15-7z"/><path class="c15" d="M1496 6259l15-15 15-10-15 14z"/><path class="c30" d="M1526 6234l15-18 16-16-16 15z"/><path class="c14" d="M1451 6252l15-3 15 10-15 5z"/><path class="c16" d="M1481 6259l15-14 15-1-15 15z"/><path class="c27" d="M1511 6244l15-18 15-10-15 18z"/><path class="c21" d="M1466 6249l15-10 15 6-15 14z"/><path class="c27" d="M1496 6245l15-17 15-2-15 18z"/><path class="c32" d="M1481 6239l15-14 15 3-15 17z"/></g></g></defs><g stroke="#7a7a7a" stroke-width="1.3" stroke-dasharray="6.6 6.6"><line x1="92" y1="13.2" x2="92" y2="204.8"/><line x1="128.5" y1="13.2" x2="128.5" y2="204.8"/><line x1="182.3" y1="13.2" x2="182.3" y2="204.8"/><line x1="236" y1="13.2" x2="236" y2="204.8"/><line x1="270.2" y1="13.2" x2="270.2" y2="204.8"/></g><g stroke="#000" stroke-width="1.4" fill="none"><rect x="53.5" y="13.2" width="244" height="191.6"/><line x1="53.5" y1="204.8" x2="58" y2="204.8"/><line x1="53.5" y1="172.9" x2="58" y2="172.9"/><line x1="53.5" y1="140.9" x2="58" y2="140.9"/><line x1="53.5" y1="109" x2="58" y2="109"/><line x1="53.5" y1="77.1" x2="58" y2="77.1"/><line x1="53.5" y1="45.1" x2="58" y2="45.1"/><line x1="53.5" y1="13.2" x2="58" y2="13.2"/><line x1="53.5" y1="188.8" x2="56.1" y2="188.8"/><line x1="53.5" y1="156.9" x2="56.1" y2="156.9"/><line x1="53.5" y1="125" x2="56.1" y2="125"/><line x1="53.5" y1="93" x2="56.1" y2="93"/><line x1="53.5" y1="61.1" x2="56.1" y2="61.1"/><line x1="53.5" y1="29.2" x2="56.1" y2="29.2"/><line x1="92" y1="204.8" x2="92" y2="200.3"/><line x1="128.5" y1="204.8" x2="128.5" y2="200.3"/><line x1="182.3" y1="204.8" x2="182.3" y2="200.3"/><line x1="236" y1="204.8" x2="236" y2="200.3"/><line x1="270.2" y1="204.8" x2="270.2" y2="200.3"/></g><g font-size="14.8" text-anchor="end"><text x="49.1" y="209.3">0</text><text x="49.1" y="177.4">100</text><text x="49.1" y="145.4">200</text><text x="49.1" y="113.5">300</text><text x="49.1" y="81.6">400</text><text x="49.1" y="49.6">500</text><text x="49.1" y="17.7">600</text></g><g font-size="14.2" text-anchor="middle"><text x="92" y="221">-2</text><text x="128.5" y="221">-1</text><text x="182.3" y="221">0</text><text x="236" y="221">1</text><text x="270.2" y="221">2</text></g><g fill="none" stroke="#ff00ff" stroke-width="1.0"><circle cx="57.5" cy="198.6" r="1.75"/><circle cx="59.1" cy="198.5" r="1.75"/><circle cx="60.8" cy="198.5" r="1.75"/><circle cx="62.4" cy="198.4" r="1.75"/><circle cx="64.1" cy="198.3" r="1.75"/><circle cx="65.7" cy="198.1" r="1.75"/><circle cx="67.3" cy="198" r="1.75"/><circle cx="69" cy="197.8" r="1.75"/><circle cx="70.6" cy="197.6" r="1.75"/><circle cx="72.2" cy="197.4" r="1.75"/><circle cx="73.9" cy="197.2" r="1.75"/><circle cx="75.5" cy="196.9" r="1.75"/><circle cx="77.1" cy="196.7" r="1.75"/><circle cx="78.7" cy="196.4" r="1.75"/><circle cx="80.4" cy="196.1" r="1.75"/><circle cx="82" cy="195.8" r="1.75"/><circle cx="83.6" cy="195.5" r="1.75"/><circle cx="85.2" cy="195.1" r="1.75"/><circle cx="86.8" cy="194.8" r="1.75"/><circle cx="88.4" cy="194.3" r="1.75"/><circle cx="89.9" cy="193.8" r="1.75"/><circle cx="91.5" cy="193.3" r="1.75"/></g><g fill="none" stroke="#0000ff" stroke-width="1.0"><circle cx="92" cy="176.6" r="1.75"/><circle cx="93.6" cy="176.5" r="1.75"/><circle cx="95.2" cy="176.8" r="1.75"/><circle cx="96.7" cy="177.4" r="1.75"/><circle cx="98.1" cy="178" r="1.75"/><circle cx="99.6" cy="178.7" r="1.75"/><circle cx="101.1" cy="179.2" r="1.75"/><circle cx="102.7" cy="179.7" r="1.75"/><circle cx="104.2" cy="179.9" r="1.75"/><circle cx="105.8" cy="179.8" r="1.75"/><circle cx="107.4" cy="179.6" r="1.75"/><circle cx="109" cy="179.4" r="1.75"/><circle cx="110.5" cy="178.9" r="1.75"/><circle cx="111.7" cy="177.9" r="1.75"/><circle cx="112.9" cy="176.7" r="1.75"/><circle cx="114" cy="175.6" r="1.75"/><circle cx="115.2" cy="174.5" r="1.75"/><circle cx="116.5" cy="173.6" r="1.75"/><circle cx="118" cy="173.2" r="1.75"/><circle cx="119.5" cy="173.7" r="1.75"/><circle cx="121.1" cy="174.1" r="1.75"/><circle cx="122.6" cy="174.5" r="1.75"/><circle cx="124.1" cy="175.2" r="1.75"/><circle cx="125.3" cy="176.2" r="1.75"/><circle cx="126.3" cy="177.5" r="1.75"/><circle cx="127.2" cy="178.8" r="1.75"/></g><g fill="none" stroke="#0000ff" stroke-width="1.0"><circle cx="237" cy="203" r="1.75"/><circle cx="238.6" cy="202.8" r="1.75"/><circle cx="240.3" cy="202.7" r="1.75"/><circle cx="241.9" cy="202.5" r="1.75"/><circle cx="243.6" cy="202.4" r="1.75"/><circle cx="245.2" cy="202.3" r="1.75"/><circle cx="246.9" cy="202.2" r="1.75"/><circle cx="248.5" cy="202.1" r="1.75"/><circle cx="250.2" cy="202.1" r="1.75"/><circle cx="251.8" cy="202" r="1.75"/><circle cx="253.5" cy="201.9" r="1.75"/><circle cx="255.1" cy="201.8" r="1.75"/><circle cx="256.8" cy="201.7" r="1.75"/><circle cx="258.4" cy="201.6" r="1.75"/><circle cx="260.1" cy="201.6" r="1.75"/><circle cx="261.7" cy="201.5" r="1.75"/><circle cx="263.4" cy="201.5" r="1.75"/><circle cx="265" cy="201.4" r="1.75"/><circle cx="266.7" cy="201.4" r="1.75"/><circle cx="268.3" cy="201.4" r="1.75"/><circle cx="270" cy="201.5" r="1.75"/></g><g fill="none" stroke="#ff00ff" stroke-width="1.0"><circle cx="270.5" cy="201.2" r="1.75"/><circle cx="272.2" cy="201.3" r="1.75"/><circle cx="273.8" cy="201.5" r="1.75"/><circle cx="275.4" cy="201.8" r="1.75"/><circle cx="277.1" cy="202.3" r="1.75"/><circle cx="278.7" cy="202.6" r="1.75"/><circle cx="280.3" cy="202.8" r="1.75"/><circle cx="282" cy="203" r="1.75"/><circle cx="283.7" cy="203.1" r="1.75"/><circle cx="285.3" cy="203.2" r="1.75"/><circle cx="287" cy="203.2" r="1.75"/><circle cx="288.7" cy="203.2" r="1.75"/><circle cx="290.3" cy="203.3" r="1.75"/><circle cx="292" cy="203.3" r="1.75"/></g><polyline points="128.1,118.7 129.9,113.2 131.8,113 134.2,116.3 136,108.8 138,102.2 139.5,90.2 141.7,85 143.4,99.4 145.2,106.8 147.3,110.6 149,107.4 151.1,97.2 153,82.1 154.6,72.5 156.8,65.2 158.6,78.2 160.3,89.9 162.4,89.5 164.5,87 166.2,80.3 168.1,70.8 169.9,55.6 171.9,50.9 173.7,56.3 175.1,62 177.2,63.4 179.4,64.1 181.5,64.1 183.1,52.1 185.4,51.4 187.1,54.2 188.8,56.6 190.6,59.1 192.4,66.2 194.4,76.1 196.2,85.9 198.1,93.7 199.8,99.4 201.6,102.9 203.3,105.7 205.4,108.5 207.5,106.4 208.9,97.9 211.1,95.8 213.2,101.5 215,95.8 216.7,90.2 218.8,88.8 220.9,87.4 222.6,88.8 224.5,93.7 226.3,97 228.7,97 230.1,95.1 232.2,97.2 234.4,97.9 236.5,95.8" fill="none" stroke="#ff0000" stroke-width="1.35" stroke-linejoin="round"/><g fill="#ff7a7a" stroke="#ff0000" stroke-width="1.25"><circle cx="128.1" cy="118.7" r="2.1"/><circle cx="129.9" cy="113.2" r="2.1"/><circle cx="131.8" cy="113" r="2.1"/><circle cx="134.2" cy="116.3" r="2.1"/><circle cx="136" cy="108.8" r="2.1"/><circle cx="138" cy="102.2" r="2.1"/><circle cx="139.5" cy="90.2" r="2.1"/><circle cx="141.7" cy="85" r="2.1"/><circle cx="143.4" cy="99.4" r="2.1"/><circle cx="145.2" cy="106.8" r="2.1"/><circle cx="147.3" cy="110.6" r="2.1"/><circle cx="149" cy="107.4" r="2.1"/><circle cx="151.1" cy="97.2" r="2.1"/><circle cx="153" cy="82.1" r="2.1"/><circle cx="154.6" cy="72.5" r="2.1"/><circle cx="156.8" cy="65.2" r="2.1"/><circle cx="158.6" cy="78.2" r="2.1"/><circle cx="160.3" cy="89.9" r="2.1"/><circle cx="162.4" cy="89.5" r="2.1"/><circle cx="164.5" cy="87" r="2.1"/><circle cx="166.2" cy="80.3" r="2.1"/><circle cx="168.1" cy="70.8" r="2.1"/><circle cx="169.9" cy="55.6" r="2.1"/><circle cx="171.9" cy="50.9" r="2.1"/><circle cx="173.7" cy="56.3" r="2.1"/><circle cx="175.1" cy="62" r="2.1"/><circle cx="177.2" cy="63.4" r="2.1"/><circle cx="179.4" cy="64.1" r="2.1"/><circle cx="181.5" cy="64.1" r="2.1"/><circle cx="183.1" cy="52.1" r="2.1"/><circle cx="185.4" cy="51.4" r="2.1"/><circle cx="187.1" cy="54.2" r="2.1"/><circle cx="188.8" cy="56.6" r="2.1"/><circle cx="190.6" cy="59.1" r="2.1"/><circle cx="192.4" cy="66.2" r="2.1"/><circle cx="194.4" cy="76.1" r="2.1"/><circle cx="196.2" cy="85.9" r="2.1"/><circle cx="198.1" cy="93.7" r="2.1"/><circle cx="199.8" cy="99.4" r="2.1"/><circle cx="201.6" cy="102.9" r="2.1"/><circle cx="203.3" cy="105.7" r="2.1"/><circle cx="205.4" cy="108.5" r="2.1"/><circle cx="207.5" cy="106.4" r="2.1"/><circle cx="208.9" cy="97.9" r="2.1"/><circle cx="211.1" cy="95.8" r="2.1"/><circle cx="213.2" cy="101.5" r="2.1"/><circle cx="215" cy="95.8" r="2.1"/><circle cx="216.7" cy="90.2" r="2.1"/><circle cx="218.8" cy="88.8" r="2.1"/><circle cx="220.9" cy="87.4" r="2.1"/><circle cx="222.6" cy="88.8" r="2.1"/><circle cx="224.5" cy="93.7" r="2.1"/><circle cx="226.3" cy="97" r="2.1"/><circle cx="228.7" cy="97" r="2.1"/><circle cx="230.1" cy="95.1" r="2.1"/><circle cx="232.2" cy="97.2" r="2.1"/><circle cx="234.4" cy="97.9" r="2.1"/><circle cx="236.5" cy="95.8" r="2.1"/></g><line x1="140.8" y1="52.2" x2="140.8" y2="67" stroke="#000" stroke-width="1.3"/><path d="M138 66L143.6 66L140.8 77z" fill="#000"/><line x1="157.5" y1="30.4" x2="157.5" y2="44.4" stroke="#000" stroke-width="1.3"/><path d="M154.7 43.4L160.3 43.4L157.5 54.4z" fill="#000"/><line x1="209.4" y1="62.8" x2="209.4" y2="79" stroke="#000" stroke-width="1.3"/><path d="M206.6 78L212.2 78L209.4 89z" fill="#000"/><line x1="222.8" y1="45.2" x2="222.8" y2="59.9" stroke="#000" stroke-width="1.3"/><path d="M220 58.9L225.6 58.9L222.8 69.9z" fill="#000"/><text x="140.5" y="48" font-size="14" text-anchor="middle" >-2/3</text><text x="157.5" y="26.8" font-size="14" text-anchor="middle" >-1/3</text><text x="210" y="58.5" font-size="14" text-anchor="middle" >1/3</text><text x="222.6" y="40.9" font-size="14" text-anchor="middle" >2/3</text><text x="182.6" y="10.6" font-size="15" text-anchor="middle" >H-stacked</text><text x="171.6" y="236.8" font-size="14.4" text-anchor="middle" >Filling factor</text><text x="0" y="0" font-size="14.4" text-anchor="middle" transform="translate(18.9 112.3) rotate(-90)">Lifetime (ns)</text><text x="3.5" y="23" font-size="15" text-anchor="start" >a</text><g stroke="#7a7a7a" stroke-width="1.3" stroke-dasharray="6.6 6.6"><line x1="71" y1="255.8" x2="71" y2="447.7"/><line x1="117.8" y1="255.8" x2="117.8" y2="447.7"/><line x1="178.6" y1="255.8" x2="178.6" y2="447.7"/><line x1="229.9" y1="255.8" x2="229.9" y2="447.7"/><line x1="275.5" y1="255.8" x2="275.5" y2="447.7"/></g><g stroke="#000" stroke-width="1.4" fill="none"><rect x="53.5" y="255.8" width="244.1" height="191.9"/><line x1="53.5" y1="447.7" x2="58" y2="447.7"/><line x1="53.5" y1="409.3" x2="58" y2="409.3"/><line x1="53.5" y1="370.9" x2="58" y2="370.9"/><line x1="53.5" y1="332.6" x2="58" y2="332.6"/><line x1="53.5" y1="294.2" x2="58" y2="294.2"/><line x1="53.5" y1="255.8" x2="58" y2="255.8"/><line x1="53.5" y1="428.5" x2="56.1" y2="428.5"/><line x1="53.5" y1="390.1" x2="56.1" y2="390.1"/><line x1="53.5" y1="351.8" x2="56.1" y2="351.8"/><line x1="53.5" y1="313.4" x2="56.1" y2="313.4"/><line x1="53.5" y1="275" x2="56.1" y2="275"/><line x1="71" y1="447.7" x2="71" y2="443.2"/><line x1="117.8" y1="447.7" x2="117.8" y2="443.2"/><line x1="178.6" y1="447.7" x2="178.6" y2="443.2"/><line x1="229.9" y1="447.7" x2="229.9" y2="443.2"/><line x1="275.5" y1="447.7" x2="275.5" y2="443.2"/></g><g font-size="14.8" text-anchor="end"><text x="49.1" y="452.2">0</text><text x="49.1" y="413.8">500</text><text x="49.1" y="375.4">1000</text><text x="49.1" y="337.1">1500</text><text x="49.1" y="298.7">2000</text><text x="49.1" y="260.3">2500</text></g><g font-size="14.2" text-anchor="middle"><text x="71" y="464">-2</text><text x="117.8" y="464">-1</text><text x="178.6" y="464">0</text><text x="229.9" y="464">1</text><text x="275.5" y="464">2</text></g><g fill="none" stroke="#ff00ff" stroke-width="1.0"><circle cx="56" cy="445.7" r="1.75"/><circle cx="57.7" cy="445.7" r="1.75"/><circle cx="59.3" cy="445.7" r="1.75"/><circle cx="61" cy="445.7" r="1.75"/><circle cx="62.7" cy="445.7" r="1.75"/><circle cx="64.3" cy="445.7" r="1.75"/><circle cx="66" cy="445.6" r="1.75"/><circle cx="67.7" cy="445.6" r="1.75"/><circle cx="69.3" cy="445.6" r="1.75"/><circle cx="71" cy="445.6" r="1.75"/></g><g fill="none" stroke="#0000ff" stroke-width="1.0"><circle cx="72" cy="445.6" r="1.75"/><circle cx="73.6" cy="445.6" r="1.75"/><circle cx="75.3" cy="445.6" r="1.75"/><circle cx="76.9" cy="445.5" r="1.75"/><circle cx="78.6" cy="445.5" r="1.75"/><circle cx="80.2" cy="445.5" r="1.75"/><circle cx="81.9" cy="445.5" r="1.75"/><circle cx="83.5" cy="445.5" r="1.75"/><circle cx="85.2" cy="445.5" r="1.75"/><circle cx="86.8" cy="445.4" r="1.75"/><circle cx="88.5" cy="445.4" r="1.75"/><circle cx="90.1" cy="445.4" r="1.75"/><circle cx="91.8" cy="445.4" r="1.75"/><circle cx="93.4" cy="445.3" r="1.75"/><circle cx="95.1" cy="445.3" r="1.75"/><circle cx="96.7" cy="445.3" r="1.75"/><circle cx="98.4" cy="445.2" r="1.75"/><circle cx="100" cy="445.2" r="1.75"/><circle cx="101.7" cy="445.2" r="1.75"/><circle cx="103.3" cy="445.1" r="1.75"/><circle cx="105" cy="445.1" r="1.75"/><circle cx="106.6" cy="445" r="1.75"/><circle cx="108.3" cy="445" r="1.75"/><circle cx="109.9" cy="444.9" r="1.75"/><circle cx="111.6" cy="444.8" r="1.75"/><circle cx="113.2" cy="444.8" r="1.75"/><circle cx="114.9" cy="444.7" r="1.75"/><circle cx="116.5" cy="444.6" r="1.75"/><circle cx="118.1" cy="444.5" r="1.75"/><circle cx="119.8" cy="444.3" r="1.75"/><circle cx="121.4" cy="444" r="1.75"/><circle cx="123" cy="443.6" r="1.75"/></g><g fill="none" stroke="#0000ff" stroke-width="1.0"><circle cx="225" cy="446.3" r="1.75"/><circle cx="226.6" cy="446.3" r="1.75"/><circle cx="228.2" cy="446.3" r="1.75"/><circle cx="229.8" cy="446.2" r="1.75"/><circle cx="231.5" cy="446.2" r="1.75"/><circle cx="233.1" cy="446.2" r="1.75"/><circle cx="234.7" cy="446.2" r="1.75"/><circle cx="236.3" cy="446.2" r="1.75"/><circle cx="237.9" cy="446.2" r="1.75"/><circle cx="239.5" cy="446.2" r="1.75"/><circle cx="241.1" cy="446.2" r="1.75"/><circle cx="242.7" cy="446.2" r="1.75"/><circle cx="244.4" cy="446.2" r="1.75"/><circle cx="246" cy="446.2" r="1.75"/><circle cx="247.6" cy="446.2" r="1.75"/><circle cx="249.2" cy="446.2" r="1.75"/><circle cx="250.8" cy="446.2" r="1.75"/><circle cx="252.4" cy="446.2" r="1.75"/><circle cx="254" cy="446.2" r="1.75"/><circle cx="255.6" cy="446.2" r="1.75"/><circle cx="257.3" cy="446.2" r="1.75"/><circle cx="258.9" cy="446.2" r="1.75"/><circle cx="260.5" cy="446.2" r="1.75"/><circle cx="262.1" cy="446.2" r="1.75"/><circle cx="263.7" cy="446.2" r="1.75"/><circle cx="265.3" cy="446.2" r="1.75"/><circle cx="266.9" cy="446.2" r="1.75"/><circle cx="268.5" cy="446.2" r="1.75"/><circle cx="270.2" cy="446.2" r="1.75"/><circle cx="271.8" cy="446.2" r="1.75"/><circle cx="273.4" cy="446.2" r="1.75"/><circle cx="275" cy="446.2" r="1.75"/></g><g fill="none" stroke="#ff00ff" stroke-width="1.0"><circle cx="276" cy="446.2" r="1.75"/><circle cx="277.7" cy="446.2" r="1.75"/><circle cx="279.5" cy="446.2" r="1.75"/><circle cx="281.2" cy="446.2" r="1.75"/><circle cx="282.9" cy="446.2" r="1.75"/><circle cx="284.6" cy="446.2" r="1.75"/><circle cx="286.4" cy="446.2" r="1.75"/><circle cx="288.1" cy="446.2" r="1.75"/><circle cx="289.8" cy="446.2" r="1.75"/><circle cx="291.5" cy="446.2" r="1.75"/><circle cx="293.3" cy="446.2" r="1.75"/><circle cx="295" cy="446.2" r="1.75"/></g><circle cx="127.9" cy="438.8" r="2.1" fill="#ff7a7a" stroke="#ff0000" stroke-width="1.25"/><polyline points="134.5,436.3 137.3,435.4 139.2,427.5 141,408.1 143.5,416.9 145.8,411.9 148.6,415.1 150.5,411.9 152.3,405.3 154.8,398.1 157,404.3 159.3,416.2 161.2,422.6 163.6,423.1 166.1,417.5 168.3,406.8 170.6,386.1 172.4,330.5 174.6,350.7 176.9,352.6 179,314.9 181.7,326.2 183.5,341.6 186,357.6 188.5,376.1 190.4,384.6 192.8,347.9 194.5,313 196.9,303 199.7,304.4 201.6,330.7 204.4,329.4 206.3,331.8 208.6,335 210.5,352 213.1,349 214.9,380.8 217.3,408.7 219.2,418.8 221.1,423.7 223.7,426.9 225.8,433.1 228,442.5 228.8,445.5" fill="none" stroke="#ff0000" stroke-width="1.35" stroke-linejoin="round"/><g fill="#ff7a7a" stroke="#ff0000" stroke-width="1.25"><circle cx="134.5" cy="436.3" r="2.1"/><circle cx="137.3" cy="435.4" r="2.1"/><circle cx="139.2" cy="427.5" r="2.1"/><circle cx="141" cy="408.1" r="2.1"/><circle cx="143.5" cy="416.9" r="2.1"/><circle cx="145.8" cy="411.9" r="2.1"/><circle cx="148.6" cy="415.1" r="2.1"/><circle cx="150.5" cy="411.9" r="2.1"/><circle cx="152.3" cy="405.3" r="2.1"/><circle cx="154.8" cy="398.1" r="2.1"/><circle cx="157" cy="404.3" r="2.1"/><circle cx="159.3" cy="416.2" r="2.1"/><circle cx="161.2" cy="422.6" r="2.1"/><circle cx="163.6" cy="423.1" r="2.1"/><circle cx="166.1" cy="417.5" r="2.1"/><circle cx="168.3" cy="406.8" r="2.1"/><circle cx="170.6" cy="386.1" r="2.1"/><circle cx="172.4" cy="330.5" r="2.1"/><circle cx="174.6" cy="350.7" r="2.1"/><circle cx="176.9" cy="352.6" r="2.1"/><circle cx="179" cy="314.9" r="2.1"/><circle cx="181.7" cy="326.2" r="2.1"/><circle cx="183.5" cy="341.6" r="2.1"/><circle cx="186" cy="357.6" r="2.1"/><circle cx="188.5" cy="376.1" r="2.1"/><circle cx="190.4" cy="384.6" r="2.1"/><circle cx="192.8" cy="347.9" r="2.1"/><circle cx="194.5" cy="313" r="2.1"/><circle cx="196.9" cy="303" r="2.1"/><circle cx="199.7" cy="304.4" r="2.1"/><circle cx="201.6" cy="330.7" r="2.1"/><circle cx="204.4" cy="329.4" r="2.1"/><circle cx="206.3" cy="331.8" r="2.1"/><circle cx="208.6" cy="335" r="2.1"/><circle cx="210.5" cy="352" r="2.1"/><circle cx="213.1" cy="349" r="2.1"/><circle cx="214.9" cy="380.8" r="2.1"/><circle cx="217.3" cy="408.7" r="2.1"/><circle cx="219.2" cy="418.8" r="2.1"/><circle cx="221.1" cy="423.7" r="2.1"/><circle cx="223.7" cy="426.9" r="2.1"/><circle cx="225.8" cy="433.1" r="2.1"/><circle cx="228" cy="442.5" r="2.1"/><circle cx="228.8" cy="445.5" r="2.1"/></g><line x1="138.6" y1="385" x2="138.6" y2="394.4" stroke="#000" stroke-width="1.3"/><path d="M135.8 393.4L141.4 393.4L138.6 402.4z" fill="#000"/><line x1="158" y1="372.3" x2="158" y2="381.8" stroke="#000" stroke-width="1.3"/><path d="M155.2 380.8L160.8 380.8L158 389.8z" fill="#000"/><line x1="195.4" y1="281" x2="195.4" y2="290.3" stroke="#000" stroke-width="1.3"/><path d="M192.6 289.3L198.2 289.3L195.4 298.3z" fill="#000"/><line x1="214.6" y1="313.4" x2="214.6" y2="322" stroke="#000" stroke-width="1.3"/><path d="M211.8 321L217.4 321L214.6 330z" fill="#000"/><text x="138.5" y="375.7" font-size="14" text-anchor="middle" >-2/3</text><text x="157.6" y="361" font-size="14" text-anchor="middle" >-1/3</text><text x="196" y="269.2" font-size="14" text-anchor="middle" >1/3</text><text x="214.7" y="301.7" font-size="14" text-anchor="middle" >2/3</text><text x="182.8" y="254.1" font-size="15" text-anchor="middle" >R-stacked</text><text x="171.3" y="479.8" font-size="14.4" text-anchor="middle" >Filling factor</text><text x="0" y="0" font-size="14.4" text-anchor="middle" transform="translate(11.4 353.6) rotate(-90)">Lifetime (ns)</text><text x="3.5" y="264.5" font-size="15" text-anchor="start" >b</text><g stroke="#000" stroke-width="1.4" fill="none"><rect x="364" y="12.5" width="319.5" height="191.6"/><line x1="364" y1="204.1" x2="368.5" y2="204.1"/><line x1="364" y1="156.2" x2="368.5" y2="156.2"/><line x1="364" y1="108.3" x2="368.5" y2="108.3"/><line x1="364" y1="60.4" x2="368.5" y2="60.4"/><line x1="364" y1="12.5" x2="368.5" y2="12.5"/><line x1="364" y1="180.2" x2="366.6" y2="180.2"/><line x1="364" y1="132.2" x2="366.6" y2="132.2"/><line x1="364" y1="84.4" x2="366.6" y2="84.4"/><line x1="364" y1="36.5" x2="366.6" y2="36.5"/><line x1="391.6" y1="204.1" x2="391.6" y2="199.6"/><line x1="443.8" y1="204.1" x2="443.8" y2="199.6"/><line x1="520" y1="204.1" x2="520" y2="199.6"/><line x1="596.1" y1="204.1" x2="596.1" y2="199.6"/><line x1="644.5" y1="204.1" x2="644.5" y2="199.6"/></g><g font-size="14.4" text-anchor="end"><text x="359.3" y="208.7">0.0</text><text x="359.3" y="160.8">0.1</text><text x="359.3" y="112.9">0.2</text><text x="359.3" y="65">0.3</text><text x="359.3" y="17.1">0.4</text></g><g font-size="14.2" text-anchor="middle"><text x="391.6" y="220.5">-2</text><text x="443.8" y="220.5">-1</text><text x="520" y="220.5">0</text><text x="596.1" y="220.5">1</text><text x="644.5" y="220.5">2</text></g><polyline points="364.6,146.4 365.2,146.9 365.9,147.4 366.5,147.9 367.1,148.4 367.8,148.9 368.4,149.4 369,149.9 369.6,150.5 370.2,151 370.8,151.5 371.4,152 372.1,152.5 372.8,152.9 373.5,153.3 374.2,153.7 374.9,154.1 375.5,154.6 376.1,155.2 376.7,155.7 377.2,156.3 377.8,156.9 378.3,157.5 378.8,158.1 379.3,158.8 379.7,159.5 380.1,160.2 380.6,160.8 381.4,161 382.1,160.7 382.9,160.5 383.6,160.9 384.1,161.5 384.6,162.2 385,162.8 385.4,163.5 385.8,164.2 386.2,165 386.6,165.6 387.1,166.3 387.7,166.8 388.3,167.3 389,167.7 389.7,168.2 390.3,168.7 390.9,169.2" fill="none" stroke="#ff00ff" stroke-width="3.1" stroke-linejoin="round" stroke-linecap="round"/><polyline points="364.6,146.4 365.2,146.9 365.9,147.4 366.5,147.9 367.1,148.4 367.8,148.9 368.4,149.4 369,149.9 369.6,150.5 370.2,151 370.8,151.5 371.4,152 372.1,152.5 372.8,152.9 373.5,153.3 374.2,153.7 374.9,154.1 375.5,154.6 376.1,155.2 376.7,155.7 377.2,156.3 377.8,156.9 378.3,157.5 378.8,158.1 379.3,158.8 379.7,159.5 380.1,160.2 380.6,160.8 381.4,161 382.1,160.7 382.9,160.5 383.6,160.9 384.1,161.5 384.6,162.2 385,162.8 385.4,163.5 385.8,164.2 386.2,165 386.6,165.6 387.1,166.3 387.7,166.8 388.3,167.3 389,167.7 389.7,168.2 390.3,168.7 390.9,169.2" fill="none" stroke="#fff" stroke-opacity="0.7" stroke-width="1.1" stroke-linejoin="round" stroke-dasharray="1 .6"/><polyline points="391.5,182.6 392,183.2 392.6,183.8 393.1,184.4 393.7,184.9 394.5,185.2 395.3,185 395.9,184.6 396.6,184.1 397.3,183.6 398,183.3 398.7,183 399.5,182.8 400.3,182.6 401.1,182.4 401.9,182.2 402.7,182.1 403.5,181.9 404.3,181.7 405.1,181.5 405.8,181.3 406.6,181.1 407.4,180.9 408.2,180.8 409,180.7 409.8,180.6 410.6,180.6 411.4,180.6 412.2,180.7 413.1,180.8 413.9,180.9 414.7,181 415.4,181.2 416.2,181.4 417,181.7 417.8,182 418.5,182.3 419.2,182.7 419.9,183.1 420.6,183.5 421.3,183.9 422.1,184.2 422.8,184.6 423.5,184.9 424.2,185.3 425,185.6 425.7,185.9 426.5,186.1 427.3,186.2 428.1,186.2 428.9,186 429.7,185.8 430.5,185.6 431.3,185.4 432.1,185.2 432.9,185.2 433.7,185.1 434.5,185.1 435.3,185.1 436.1,185.1 436.9,185.2 437.7,185.2 438.5,185.2 439.3,185.2 440.2,185.2 441,185.2 441.8,185.2 442.6,185.2 443.4,185.2" fill="none" stroke="#0000ff" stroke-width="3.1" stroke-linejoin="round" stroke-linecap="round"/><polyline points="391.5,182.6 392,183.2 392.6,183.8 393.1,184.4 393.7,184.9 394.5,185.2 395.3,185 395.9,184.6 396.6,184.1 397.3,183.6 398,183.3 398.7,183 399.5,182.8 400.3,182.6 401.1,182.4 401.9,182.2 402.7,182.1 403.5,181.9 404.3,181.7 405.1,181.5 405.8,181.3 406.6,181.1 407.4,180.9 408.2,180.8 409,180.7 409.8,180.6 410.6,180.6 411.4,180.6 412.2,180.7 413.1,180.8 413.9,180.9 414.7,181 415.4,181.2 416.2,181.4 417,181.7 417.8,182 418.5,182.3 419.2,182.7 419.9,183.1 420.6,183.5 421.3,183.9 422.1,184.2 422.8,184.6 423.5,184.9 424.2,185.3 425,185.6 425.7,185.9 426.5,186.1 427.3,186.2 428.1,186.2 428.9,186 429.7,185.8 430.5,185.6 431.3,185.4 432.1,185.2 432.9,185.2 433.7,185.1 434.5,185.1 435.3,185.1 436.1,185.1 436.9,185.2 437.7,185.2 438.5,185.2 439.3,185.2 440.2,185.2 441,185.2 441.8,185.2 442.6,185.2 443.4,185.2" fill="none" stroke="#fff" stroke-opacity="0.7" stroke-width="1.1" stroke-linejoin="round" stroke-dasharray="1 .6"/><polyline points="442.9,195.3 443.6,195.7 444.3,196.2 445,196.5 445.8,196.7 446.5,196.8 447.3,196.8 448.1,196.7 448.9,196.7 449.7,196.6 450.5,196.6 451.3,196.7 452.1,196.8 452.9,196.9 453.7,197.1 454.5,197.3 455.3,197.5 456,197.7 456.8,197.9 457.6,198.1 458.3,198.4 459.1,198.6 459.8,198.9 460.6,199.1 461.4,199.2 462.2,199.1 462.9,198.8 463.7,198.5 464.4,198.1 465.1,197.8 465.9,197.6 466.6,197.3 467.4,197.1 468.2,197 469,196.8 469.8,196.7 470.6,196.7 471.4,196.8 472.2,196.9 472.9,197.1 473.7,197.2 474.5,197.5 475.3,197.7 476,197.9 476.8,198.2 477.5,198.5 478.3,198.8 479,199 479.8,199.2 480.6,199.4 481.4,199.6 482.2,199.7 483,199.7 483.8,199.6 484.5,199.4 485.3,199.2 486,198.9 486.8,198.5 487.5,198.2 488.3,198 489,197.8 489.8,197.7 490.6,197.7 491.4,197.8 492.2,197.9 493,198 493.8,198.1 494.6,198.3 495.4,198.4 496.2,198.6 496.9,198.8 497.7,198.9 498.5,199 499.3,199.1 500.1,199.1 500.9,199.1 501.7,199.2 502.5,199.2 503.3,199.2 504.1,199.2 504.9,199.2 505.7,199.2 506.5,199.2 507.3,199.2 508.1,199.1 508.9,199.1 509.7,199.1 510.5,199 511.3,199 512.1,199 512.9,199 513.7,199 514.5,199.1 515.3,199.1 516.1,199.2 516.9,199.2 517.7,199.3 518.5,199.3 519.3,199.4 520.1,199.4 520.9,199.5 521.7,199.5 522.5,199.6 523.3,199.6 524.1,199.6 524.9,199.6 525.7,199.6 526.5,199.5 527.3,199.5 528.1,199.4 528.9,199.3 529.7,199.3 530.5,199.2 531.3,199.1 532.1,199 532.9,198.9 533.7,198.8 534.5,198.7 535.2,198.6 536,198.5 536.8,198.4 537.6,198.3 538.4,198.2 539.2,198.1 540,198 540.8,197.9 541.6,197.8 542.4,197.7 543.2,197.6 544,197.5 544.8,197.5 545.6,197.4 546.4,197.2 547.2,197.1 547.9,197 548.7,196.8 549.5,196.7 550.3,196.5 551.1,196.4 551.9,196.3 552.7,196.3 553.5,196.3 554.3,196.5 555,196.7 555.8,197 556.5,197.3 557.3,197.5 558.1,197.6 558.9,197.6 559.7,197.5 560.5,197.4 561.3,197.2 562.1,197.1 562.8,196.9 563.6,196.8 564.4,196.7 565.2,196.7 566,196.9 566.8,197.1 567.5,197.3 568.3,197.5 569.1,197.7 569.9,197.9 570.7,198 571.5,198.1 572.2,198.2 573,198.3 573.8,198.4 574.6,198.4 575.4,198.4 576.2,198.3 577,198.2 577.8,198.1 578.6,197.9 579.4,197.8 580.2,197.6 581,197.5 581.8,197.4 582.5,197.3 583.3,197.2 584.1,197.1 584.9,197 585.7,196.9 586.5,196.8 587.3,196.7 588.1,196.6 588.9,196.5 589.7,196.3 590.5,196.1 591.2,195.9 592,195.7 592.8,195.5 593.6,195.3 594.3,195.1 595.1,194.9" fill="none" stroke="#ff0000" stroke-width="3.1" stroke-linejoin="round" stroke-linecap="round"/><polyline points="442.9,195.3 443.6,195.7 444.3,196.2 445,196.5 445.8,196.7 446.5,196.8 447.3,196.8 448.1,196.7 448.9,196.7 449.7,196.6 450.5,196.6 451.3,196.7 452.1,196.8 452.9,196.9 453.7,197.1 454.5,197.3 455.3,197.5 456,197.7 456.8,197.9 457.6,198.1 458.3,198.4 459.1,198.6 459.8,198.9 460.6,199.1 461.4,199.2 462.2,199.1 462.9,198.8 463.7,198.5 464.4,198.1 465.1,197.8 465.9,197.6 466.6,197.3 467.4,197.1 468.2,197 469,196.8 469.8,196.7 470.6,196.7 471.4,196.8 472.2,196.9 472.9,197.1 473.7,197.2 474.5,197.5 475.3,197.7 476,197.9 476.8,198.2 477.5,198.5 478.3,198.8 479,199 479.8,199.2 480.6,199.4 481.4,199.6 482.2,199.7 483,199.7 483.8,199.6 484.5,199.4 485.3,199.2 486,198.9 486.8,198.5 487.5,198.2 488.3,198 489,197.8 489.8,197.7 490.6,197.7 491.4,197.8 492.2,197.9 493,198 493.8,198.1 494.6,198.3 495.4,198.4 496.2,198.6 496.9,198.8 497.7,198.9 498.5,199 499.3,199.1 500.1,199.1 500.9,199.1 501.7,199.2 502.5,199.2 503.3,199.2 504.1,199.2 504.9,199.2 505.7,199.2 506.5,199.2 507.3,199.2 508.1,199.1 508.9,199.1 509.7,199.1 510.5,199 511.3,199 512.1,199 512.9,199 513.7,199 514.5,199.1 515.3,199.1 516.1,199.2 516.9,199.2 517.7,199.3 518.5,199.3 519.3,199.4 520.1,199.4 520.9,199.5 521.7,199.5 522.5,199.6 523.3,199.6 524.1,199.6 524.9,199.6 525.7,199.6 526.5,199.5 527.3,199.5 528.1,199.4 528.9,199.3 529.7,199.3 530.5,199.2 531.3,199.1 532.1,199 532.9,198.9 533.7,198.8 534.5,198.7 535.2,198.6 536,198.5 536.8,198.4 537.6,198.3 538.4,198.2 539.2,198.1 540,198 540.8,197.9 541.6,197.8 542.4,197.7 543.2,197.6 544,197.5 544.8,197.5 545.6,197.4 546.4,197.2 547.2,197.1 547.9,197 548.7,196.8 549.5,196.7 550.3,196.5 551.1,196.4 551.9,196.3 552.7,196.3 553.5,196.3 554.3,196.5 555,196.7 555.8,197 556.5,197.3 557.3,197.5 558.1,197.6 558.9,197.6 559.7,197.5 560.5,197.4 561.3,197.2 562.1,197.1 562.8,196.9 563.6,196.8 564.4,196.7 565.2,196.7 566,196.9 566.8,197.1 567.5,197.3 568.3,197.5 569.1,197.7 569.9,197.9 570.7,198 571.5,198.1 572.2,198.2 573,198.3 573.8,198.4 574.6,198.4 575.4,198.4 576.2,198.3 577,198.2 577.8,198.1 578.6,197.9 579.4,197.8 580.2,197.6 581,197.5 581.8,197.4 582.5,197.3 583.3,197.2 584.1,197.1 584.9,197 585.7,196.9 586.5,196.8 587.3,196.7 588.1,196.6 588.9,196.5 589.7,196.3 590.5,196.1 591.2,195.9 592,195.7 592.8,195.5 593.6,195.3 594.3,195.1 595.1,194.9" fill="none" stroke="#fff" stroke-opacity="0.7" stroke-width="1.1" stroke-linejoin="round" stroke-dasharray="1 .6"/><polyline points="597.3,69.1 598.6,60.5 600,55 601.2,49.8 603,51.8 604.2,66.5 605.6,71.7 606.9,70.5 608.1,57.9 609.4,36.3 610.7,33.7 612.1,36.6 613.3,45.8 615.1,51 616.3,54.4 617.7,57.9 619,64.8 620.8,70.5 622,76.4 623.7,83 624.6,86.4 626.3,84.7 627.7,81.2 629.4,76 630.8,89 632.3,97.6 633.6,94.2 635.3,88.1 637,76 638.7,70.5 640.5,76 642.2,76.9 643.6,84.7 645,87.8" fill="none" stroke="#0000ff" stroke-width="1.1" stroke-linejoin="round"/><g fill="#fff" stroke="#0000ff" stroke-width="0.8"><circle cx="597.3" cy="69.1" r="1.1"/><circle cx="598.6" cy="60.5" r="1.1"/><circle cx="600" cy="55" r="1.1"/><circle cx="601.2" cy="49.8" r="1.1"/><circle cx="603" cy="51.8" r="1.1"/><circle cx="604.2" cy="66.5" r="1.1"/><circle cx="605.6" cy="71.7" r="1.1"/><circle cx="606.9" cy="70.5" r="1.1"/><circle cx="608.1" cy="57.9" r="1.1"/><circle cx="609.4" cy="36.3" r="1.1"/><circle cx="610.7" cy="33.7" r="1.1"/><circle cx="612.1" cy="36.6" r="1.1"/><circle cx="613.3" cy="45.8" r="1.1"/><circle cx="615.1" cy="51" r="1.1"/><circle cx="616.3" cy="54.4" r="1.1"/><circle cx="617.7" cy="57.9" r="1.1"/><circle cx="619" cy="64.8" r="1.1"/><circle cx="620.8" cy="70.5" r="1.1"/><circle cx="622" cy="76.4" r="1.1"/><circle cx="623.7" cy="83" r="1.1"/><circle cx="624.6" cy="86.4" r="1.1"/><circle cx="626.3" cy="84.7" r="1.1"/><circle cx="627.7" cy="81.2" r="1.1"/><circle cx="629.4" cy="76" r="1.1"/><circle cx="630.8" cy="89" r="1.1"/><circle cx="632.3" cy="97.6" r="1.1"/><circle cx="633.6" cy="94.2" r="1.1"/><circle cx="635.3" cy="88.1" r="1.1"/><circle cx="637" cy="76" r="1.1"/><circle cx="638.7" cy="70.5" r="1.1"/><circle cx="640.5" cy="76" r="1.1"/><circle cx="642.2" cy="76.9" r="1.1"/><circle cx="643.6" cy="84.7" r="1.1"/><circle cx="645" cy="87.8" r="1.1"/></g><polyline points="645.3,56.2 646.7,66.5 648.4,82.6 649.6,66.5 650.8,31.1" fill="none" stroke="#ff00ff" stroke-width="1.1" stroke-linejoin="round"/><g fill="#fff" stroke="#ff00ff" stroke-width="0.8"><circle cx="645.3" cy="56.2" r="1.1"/><circle cx="646.7" cy="66.5" r="1.1"/><circle cx="648.4" cy="82.6" r="1.1"/><circle cx="649.6" cy="66.5" r="1.1"/><circle cx="650.8" cy="31.1" r="1.1"/></g><line x1="650.8" y1="31.1" x2="651.6" y2="12.5" stroke="#ff00ff" stroke-width="1.1"/><g stroke="#000" stroke-width="1.4"><line x1="497" y1="68.2" x2="543" y2="68.2"/><line x1="497" y1="200.8" x2="542.5" y2="200.8"/><line x1="519.9" y1="76" x2="519.9" y2="118"/><line x1="519.9" y1="142" x2="519.9" y2="192"/></g><path d="M517.2 80L522.6 80L519.9 69.5zM517.2 189.5L522.6 189.5L519.9 200z" fill="#000"/><text x="520.5" y="135" font-size="14" text-anchor="middle" >33 x</text><text x="542.3" y="10.5" font-size="15" text-anchor="middle" >H-stacked</text><text x="519.7" y="236" font-size="14.4" text-anchor="middle" >Filling factor</text><text x="0" y="0" font-size="14.6" text-anchor="middle" transform="translate(333.6 113.8) rotate(-90)">Diffusivity (cm²/s)</text><text x="316.8" y="23" font-size="15" text-anchor="start" >c</text><g stroke="#000" stroke-width="1.4" fill="none"><rect x="362.5" y="256.2" width="320.1" height="191.3"/><line x1="362.5" y1="447.5" x2="367" y2="447.5"/><line x1="362.5" y1="402.4" x2="367" y2="402.4"/><line x1="362.5" y1="357.2" x2="367" y2="357.2"/><line x1="362.5" y1="312.1" x2="367" y2="312.1"/><line x1="362.5" y1="266.9" x2="367" y2="266.9"/><line x1="362.5" y1="424.9" x2="365.1" y2="424.9"/><line x1="362.5" y1="379.8" x2="365.1" y2="379.8"/><line x1="362.5" y1="334.6" x2="365.1" y2="334.6"/><line x1="362.5" y1="289.5" x2="365.1" y2="289.5"/><line x1="385.5" y1="447.5" x2="385.5" y2="443"/><line x1="447" y1="447.5" x2="447" y2="443"/><line x1="526.6" y1="447.5" x2="526.6" y2="443"/><line x1="592" y1="447.5" x2="592" y2="443"/><line x1="653.5" y1="447.5" x2="653.5" y2="443"/></g><g font-size="14.4" text-anchor="end"><text x="357.8" y="452.1">0.0</text><text x="357.8" y="407">0.2</text><text x="357.8" y="361.8">0.4</text><text x="357.8" y="316.7">0.6</text><text x="357.8" y="271.5">0.8</text></g><g font-size="14.2" text-anchor="middle"><text x="385.5" y="463.5">−2</text><text x="447" y="463.5">−1</text><text x="526.6" y="463.5">0</text><text x="592" y="463.5">1</text><text x="653.5" y="463.5">2</text></g><polyline points="362.6,399.4 363.3,399.1 364.1,398.7 364.8,398.4 365.5,397.9 366.2,397.6 367,397.8 367.5,398.4 368.1,399 368.7,399.5 369.4,399.9 370.2,400.2 370.9,400.6 371.6,400.9 372.4,401.3 373,401.8 373.4,402.5 373.8,403.2 374.1,404 374.4,404.8 374.7,405.5 375,406.3 375.2,407.1 375.4,407.8 375.7,408.6 376.3,409 376.9,408.4 377.4,407.8 377.9,407.2 378.6,406.8 379.4,406.5 380.2,406.4 381,406.6 381.7,406.9 382.3,406.5 382.5,405.7 382.7,404.9 382.8,404.1 383,403.3 383.1,402.5 383.2,401.7 383.4,400.9 383.5,400.1 383.6,399.3 383.7,398.5 383.8,397.7 383.9,396.9 384.1,396.1 384.2,395.3 384.3,394.5 384.5,393.7 384.6,392.9 384.8,392.1 385,391.3" fill="none" stroke="#ff00ff" stroke-width="3.0" stroke-linejoin="round" stroke-linecap="round"/><polyline points="362.6,399.4 363.3,399.1 364.1,398.7 364.8,398.4 365.5,397.9 366.2,397.6 367,397.8 367.5,398.4 368.1,399 368.7,399.5 369.4,399.9 370.2,400.2 370.9,400.6 371.6,400.9 372.4,401.3 373,401.8 373.4,402.5 373.8,403.2 374.1,404 374.4,404.8 374.7,405.5 375,406.3 375.2,407.1 375.4,407.8 375.7,408.6 376.3,409 376.9,408.4 377.4,407.8 377.9,407.2 378.6,406.8 379.4,406.5 380.2,406.4 381,406.6 381.7,406.9 382.3,406.5 382.5,405.7 382.7,404.9 382.8,404.1 383,403.3 383.1,402.5 383.2,401.7 383.4,400.9 383.5,400.1 383.6,399.3 383.7,398.5 383.8,397.7 383.9,396.9 384.1,396.1 384.2,395.3 384.3,394.5 384.5,393.7 384.6,392.9 384.8,392.1 385,391.3" fill="none" stroke="#fff" stroke-opacity="0.7" stroke-width="1.1" stroke-linejoin="round" stroke-dasharray="1 .6"/><polyline points="385.6,373.9 385.7,374.7 385.9,375.5 386,376.3 386.1,377.1 386.3,377.9 386.4,378.7 386.6,379.5 386.8,380.2 387,381 387.2,381.8 387.4,382.6 387.6,383.4 387.8,384.2 388,384.9 388.2,385.7 388.3,386.5 388.5,387.3 388.7,388.1 389,388.8 389.2,389.6 389.4,390.4 389.7,391.2 390,391.9 390.2,392.7 390.5,393.4 390.7,394.2 391,395 391.6,395.5 392.3,395.1 392.8,394.6 393.4,394 394,393.5 394.7,393.1 395.5,392.9 396.2,393.2 396.9,393.6 397.5,394.1 398.2,394.6 398.7,395.2 399.3,395.8 399.8,396.4 400.4,396.9 401,397.5 401.7,397.9 402.4,398.3 403.1,398.8 403.7,399.2 404.4,399.7 405,400.2 405.6,400.8 406.1,401.4 406.7,401.9 407.3,402.5 407.9,403.1 408.4,403.6 409,404.2 409.7,404.7 410.3,405.2 410.9,405.7 411.6,406.2 412.2,406.6 413,407 413.8,407.2 414.5,407.3 415.3,407.5 416,407.9 416.5,408.5 416.9,409.2 417.3,409.9 418,410.3 418.6,409.8 419.2,409.3 419.9,409 420.7,409.2 421.5,409.5 422.2,409.8 422.9,410.2 423.6,410.6 424.3,411 424.9,411.5 425.6,411.9 426.3,412.3 427.1,412.6 427.8,412.9 428.6,413.2 429.3,413.5 430.1,413.9 430.8,414.2 431.5,414.5 432.3,414.7 433.1,414.8 433.9,414.9 434.7,414.9 435.5,414.9 436.3,414.9 437.1,414.9 437.9,414.8 438.7,414.7 439.5,414.6 440.3,414.4 441.1,414.2 441.9,414 442.6,413.7 443.4,413.4 444.1,413" fill="none" stroke="#0000ff" stroke-width="2.9" stroke-linejoin="round" stroke-linecap="round"/><polyline points="385.6,373.9 385.7,374.7 385.9,375.5 386,376.3 386.1,377.1 386.3,377.9 386.4,378.7 386.6,379.5 386.8,380.2 387,381 387.2,381.8 387.4,382.6 387.6,383.4 387.8,384.2 388,384.9 388.2,385.7 388.3,386.5 388.5,387.3 388.7,388.1 389,388.8 389.2,389.6 389.4,390.4 389.7,391.2 390,391.9 390.2,392.7 390.5,393.4 390.7,394.2 391,395 391.6,395.5 392.3,395.1 392.8,394.6 393.4,394 394,393.5 394.7,393.1 395.5,392.9 396.2,393.2 396.9,393.6 397.5,394.1 398.2,394.6 398.7,395.2 399.3,395.8 399.8,396.4 400.4,396.9 401,397.5 401.7,397.9 402.4,398.3 403.1,398.8 403.7,399.2 404.4,399.7 405,400.2 405.6,400.8 406.1,401.4 406.7,401.9 407.3,402.5 407.9,403.1 408.4,403.6 409,404.2 409.7,404.7 410.3,405.2 410.9,405.7 411.6,406.2 412.2,406.6 413,407 413.8,407.2 414.5,407.3 415.3,407.5 416,407.9 416.5,408.5 416.9,409.2 417.3,409.9 418,410.3 418.6,409.8 419.2,409.3 419.9,409 420.7,409.2 421.5,409.5 422.2,409.8 422.9,410.2 423.6,410.6 424.3,411 424.9,411.5 425.6,411.9 426.3,412.3 427.1,412.6 427.8,412.9 428.6,413.2 429.3,413.5 430.1,413.9 430.8,414.2 431.5,414.5 432.3,414.7 433.1,414.8 433.9,414.9 434.7,414.9 435.5,414.9 436.3,414.9 437.1,414.9 437.9,414.8 438.7,414.7 439.5,414.6 440.3,414.4 441.1,414.2 441.9,414 442.6,413.7 443.4,413.4 444.1,413" fill="none" stroke="#fff" stroke-opacity="0.45" stroke-width="1.1" stroke-linejoin="round" stroke-dasharray="1 .6"/><polyline points="449.8,433.5 450.5,433.9 451.1,434.4 451.8,434.9 452.4,435.3 453.1,435.8 453.8,436.2 454.5,436.6 455.1,437 455.8,437.4 456.6,437.8 457.3,438.1 458,438.4 458.8,438.7 459.6,438.9 460.3,439.1 461.1,439.4 461.9,439.6 462.6,439.8 463.4,440 464.2,440.2 465,440.4 465.8,440.5 466.5,440.7 467.3,440.9 468.1,441 468.9,441.2 469.7,441.4 470.5,441.6 471.2,441.8 472,442.1 472.7,442.5 473.3,442.9 474,443.4 474.6,443.9 475.3,444.3 476,444.7 476.7,445 477.5,445.2 478.3,445.3 479.1,445.4 479.9,445.4 480.7,445.4 481.5,445.4 482.3,445.3 483.1,445.3 483.9,445.2 484.7,445.2 485.5,445.2 486.3,445.2 487.1,445.2 487.9,445.3 488.7,445.4 489.5,445.4 490.3,445.5 491.1,445.7 491.9,445.7 492.7,445.8 493.5,445.9 494.3,445.9 495.1,446 495.9,445.9 496.7,445.8 497.4,445.6 498.2,445.4 499,445.1 499.7,444.8 500.4,444.5 501.2,444.2 501.9,443.9 502.7,443.7 503.5,443.5 504.3,443.5 505.1,443.6 505.9,443.7 506.6,444 507.4,444.3 508.1,444.6 508.9,444.9 509.6,445.2 510.4,445.5 511.1,445.7 511.9,445.8 512.7,445.9 513.5,446 514.3,446.1 515.1,446.1 515.9,446.2 516.7,446.2 517.5,446.2 518.3,446.2 519.1,446.2 519.9,446.2 520.7,446.2 521.5,446.2 522.3,446.3 523.1,446.3 523.9,446.3 524.7,446.3 525.5,446.3 526.3,446.3 527.1,446.3 527.9,446.3 528.7,446.4 529.5,446.4 530.3,446.4 531.1,446.4 531.9,446.4 532.7,446.5 533.5,446.5 534.3,446.5 535.1,446.5 535.9,446.5 536.7,446.5 537.5,446.6 538.3,446.6 539.1,446.6 539.9,446.6 540.7,446.6 541.5,446.6 542.3,446.6 543.1,446.6 543.9,446.6 544.7,446.6 545.5,446.6 546.3,446.7 547.1,446.7 547.9,446.7 548.8,446.7 549.6,446.7 550.4,446.7 551.2,446.7 552,446.7 552.8,446.7 553.6,446.6 554.4,446.6 555.2,446.6 556,446.6 556.8,446.6 557.6,446.6 558.4,446.6 559.2,446.5 560,446.5 560.8,446.5 561.6,446.5 562.4,446.4 563.2,446.4 564,446.4 564.8,446.3 565.6,446.3 566.4,446.2 567.2,446.2 568,446.1 568.8,446.1 569.6,446 570.4,445.9 571.2,445.9 572,445.8 572.8,445.7 573.5,445.6 574.3,445.5 575.1,445.3 575.9,445.2 576.7,445 577.5,444.9 578.3,444.7 579.1,444.5 579.8,444.3 580.6,444.1 581.4,443.8 582.1,443.5 582.8,443.2 583.6,442.9 584.3,442.6 585,442.2 585.8,441.9 586.5,441.5 587.2,441.2" fill="none" stroke="#ff0000" stroke-width="3.0" stroke-linejoin="round" stroke-linecap="round"/><polyline points="449.8,433.5 450.5,433.9 451.1,434.4 451.8,434.9 452.4,435.3 453.1,435.8 453.8,436.2 454.5,436.6 455.1,437 455.8,437.4 456.6,437.8 457.3,438.1 458,438.4 458.8,438.7 459.6,438.9 460.3,439.1 461.1,439.4 461.9,439.6 462.6,439.8 463.4,440 464.2,440.2 465,440.4 465.8,440.5 466.5,440.7 467.3,440.9 468.1,441 468.9,441.2 469.7,441.4 470.5,441.6 471.2,441.8 472,442.1 472.7,442.5 473.3,442.9 474,443.4 474.6,443.9 475.3,444.3 476,444.7 476.7,445 477.5,445.2 478.3,445.3 479.1,445.4 479.9,445.4 480.7,445.4 481.5,445.4 482.3,445.3 483.1,445.3 483.9,445.2 484.7,445.2 485.5,445.2 486.3,445.2 487.1,445.2 487.9,445.3 488.7,445.4 489.5,445.4 490.3,445.5 491.1,445.7 491.9,445.7 492.7,445.8 493.5,445.9 494.3,445.9 495.1,446 495.9,445.9 496.7,445.8 497.4,445.6 498.2,445.4 499,445.1 499.7,444.8 500.4,444.5 501.2,444.2 501.9,443.9 502.7,443.7 503.5,443.5 504.3,443.5 505.1,443.6 505.9,443.7 506.6,444 507.4,444.3 508.1,444.6 508.9,444.9 509.6,445.2 510.4,445.5 511.1,445.7 511.9,445.8 512.7,445.9 513.5,446 514.3,446.1 515.1,446.1 515.9,446.2 516.7,446.2 517.5,446.2 518.3,446.2 519.1,446.2 519.9,446.2 520.7,446.2 521.5,446.2 522.3,446.3 523.1,446.3 523.9,446.3 524.7,446.3 525.5,446.3 526.3,446.3 527.1,446.3 527.9,446.3 528.7,446.4 529.5,446.4 530.3,446.4 531.1,446.4 531.9,446.4 532.7,446.5 533.5,446.5 534.3,446.5 535.1,446.5 535.9,446.5 536.7,446.5 537.5,446.6 538.3,446.6 539.1,446.6 539.9,446.6 540.7,446.6 541.5,446.6 542.3,446.6 543.1,446.6 543.9,446.6 544.7,446.6 545.5,446.6 546.3,446.7 547.1,446.7 547.9,446.7 548.8,446.7 549.6,446.7 550.4,446.7 551.2,446.7 552,446.7 552.8,446.7 553.6,446.6 554.4,446.6 555.2,446.6 556,446.6 556.8,446.6 557.6,446.6 558.4,446.6 559.2,446.5 560,446.5 560.8,446.5 561.6,446.5 562.4,446.4 563.2,446.4 564,446.4 564.8,446.3 565.6,446.3 566.4,446.2 567.2,446.2 568,446.1 568.8,446.1 569.6,446 570.4,445.9 571.2,445.9 572,445.8 572.8,445.7 573.5,445.6 574.3,445.5 575.1,445.3 575.9,445.2 576.7,445 577.5,444.9 578.3,444.7 579.1,444.5 579.8,444.3 580.6,444.1 581.4,443.8 582.1,443.5 582.8,443.2 583.6,442.9 584.3,442.6 585,442.2 585.8,441.9 586.5,441.5 587.2,441.2" fill="none" stroke="#fff" stroke-opacity="0.35" stroke-width="1.1" stroke-linejoin="round" stroke-dasharray="1 .6"/><polyline points="587.2,441.2 589.5,436.5 590.7,428.4 591.4,421.8" fill="none" stroke="#ff0000" stroke-width="1.2" stroke-linejoin="round"/><g fill="#fff" stroke="#ff0000" stroke-width="0.8"><circle cx="587.2" cy="441.2" r="1.0"/><circle cx="589.5" cy="436.5" r="1.0"/><circle cx="590.7" cy="428.4" r="1.0"/><circle cx="591.4" cy="421.8" r="1.0"/></g><polyline points="590.7,347.8 591.5,360 592.8,370.2 594.2,367.1 595.6,372.2 597.2,376.3 599.3,378.8 600.9,377.3 603,366.5 605.4,362 607.4,366.1 609.5,367.1 611.1,361 613.6,358 615.2,352.9 616,345.7 617.2,340.6 618.7,335.5 620.1,338.6 621.3,340.6 622.8,331 624.2,338.6 625.8,335.9 627.9,334.5 628.9,327.3 629.5,313.5 630.9,317.1 633,312 634.4,321.2 635.6,327.3 637,319.2 638.5,310 639.7,327.3 641.1,332.4 642.8,325.3 644.6,323.3 645.8,330.4 647.2,340.6 649.3,343.3 651.3,341.2 653.4,340" fill="none" stroke="#0000ff" stroke-width="1.1" stroke-linejoin="round"/><g fill="#fff" stroke="#0000ff" stroke-width="0.8"><circle cx="590.7" cy="347.8" r="1.0"/><circle cx="591.5" cy="360" r="1.0"/><circle cx="592.8" cy="370.2" r="1.0"/><circle cx="594.2" cy="367.1" r="1.0"/><circle cx="595.6" cy="372.2" r="1.0"/><circle cx="597.2" cy="376.3" r="1.0"/><circle cx="599.3" cy="378.8" r="1.0"/><circle cx="600.9" cy="377.3" r="1.0"/><circle cx="603" cy="366.5" r="1.0"/><circle cx="605.4" cy="362" r="1.0"/><circle cx="607.4" cy="366.1" r="1.0"/><circle cx="609.5" cy="367.1" r="1.0"/><circle cx="611.1" cy="361" r="1.0"/><circle cx="613.6" cy="358" r="1.0"/><circle cx="615.2" cy="352.9" r="1.0"/><circle cx="616" cy="345.7" r="1.0"/><circle cx="617.2" cy="340.6" r="1.0"/><circle cx="618.7" cy="335.5" r="1.0"/><circle cx="620.1" cy="338.6" r="1.0"/><circle cx="621.3" cy="340.6" r="1.0"/><circle cx="622.8" cy="331" r="1.0"/><circle cx="624.2" cy="338.6" r="1.0"/><circle cx="625.8" cy="335.9" r="1.0"/><circle cx="627.9" cy="334.5" r="1.0"/><circle cx="628.9" cy="327.3" r="1.0"/><circle cx="629.5" cy="313.5" r="1.0"/><circle cx="630.9" cy="317.1" r="1.0"/><circle cx="633" cy="312" r="1.0"/><circle cx="634.4" cy="321.2" r="1.0"/><circle cx="635.6" cy="327.3" r="1.0"/><circle cx="637" cy="319.2" r="1.0"/><circle cx="638.5" cy="310" r="1.0"/><circle cx="639.7" cy="327.3" r="1.0"/><circle cx="641.1" cy="332.4" r="1.0"/><circle cx="642.8" cy="325.3" r="1.0"/><circle cx="644.6" cy="323.3" r="1.0"/><circle cx="645.8" cy="330.4" r="1.0"/><circle cx="647.2" cy="340.6" r="1.0"/><circle cx="649.3" cy="343.3" r="1.0"/><circle cx="651.3" cy="341.2" r="1.0"/><circle cx="653.4" cy="340" r="1.0"/></g><polyline points="654.4,346.7 656,342.7 657.4,333.5 659.5,328.4 660.9,324.3 662.6,312 664.2,299.8 666.2,305.3 668.3,299.8 670.3,297.1 671.7,287.6 673.8,282.9 675.2,284.1 676.8,271.8 678.5,274.3 679.9,269.8 681.3,265.1" fill="none" stroke="#ff00ff" stroke-width="1.1" stroke-linejoin="round"/><g fill="#fff" stroke="#ff00ff" stroke-width="0.8"><circle cx="654.4" cy="346.7" r="1.0"/><circle cx="656" cy="342.7" r="1.0"/><circle cx="657.4" cy="333.5" r="1.0"/><circle cx="659.5" cy="328.4" r="1.0"/><circle cx="660.9" cy="324.3" r="1.0"/><circle cx="662.6" cy="312" r="1.0"/><circle cx="664.2" cy="299.8" r="1.0"/><circle cx="666.2" cy="305.3" r="1.0"/><circle cx="668.3" cy="299.8" r="1.0"/><circle cx="670.3" cy="297.1" r="1.0"/><circle cx="671.7" cy="287.6" r="1.0"/><circle cx="673.8" cy="282.9" r="1.0"/><circle cx="675.2" cy="284.1" r="1.0"/><circle cx="676.8" cy="271.8" r="1.0"/><circle cx="678.5" cy="274.3" r="1.0"/><circle cx="679.9" cy="269.8" r="1.0"/><circle cx="681.3" cy="265.1" r="1.0"/></g><g stroke="#000" stroke-width="1.4"><line x1="514" y1="344.4" x2="539.3" y2="344.4"/><line x1="514.7" y1="446.4" x2="538.1" y2="446.4"/><line x1="526.8" y1="352" x2="526.8" y2="384"/><line x1="526.8" y1="408" x2="526.8" y2="438"/></g><path d="M524.1 355L529.5 355L526.8 345.5zM524.1 436L529.5 436L526.8 446.2z" fill="#000"/><text x="527" y="401.5" font-size="14" text-anchor="middle" >177 x</text><text x="542.6" y="254.4" font-size="15" text-anchor="middle" >R-stacked</text><text x="518.3" y="479.8" font-size="14.4" text-anchor="middle" >Filling factor</text><text x="0" y="0" font-size="14.6" text-anchor="middle" transform="translate(333.6 358.3) rotate(-90)">Diffusivity (cm²/s)</text><text x="316.3" y="265.5" font-size="15" text-anchor="start" >d</text><rect x="37" y="493.3" width="268.2" height="137.8" fill="none" stroke="#555" stroke-width="1"/><use href="#surf"/><ellipse cx="130.8" cy="550.5" rx="17.7" ry="8.6" fill="#5a5000" fill-opacity=".32" stroke="#4a4400" stroke-opacity=".45" stroke-width="1" stroke-dasharray="1 1"/><circle cx="124.3" cy="550.5" r="6.05" fill="url(#gr)"/><path d="M121.9 550.5h4.8" stroke="#fff" stroke-width="2.08"/><circle cx="136.2" cy="550.2" r="6.3" fill="url(#gb)"/><path d="M132.6 550.2h7.2M136.2 546.6v7.2" stroke="#fff" stroke-width="1.5"/><g stroke="#141414" stroke-width="2.1" marker-end="url(#ah)"><line x1="109.3" y1="551.3" x2="80.5" y2="556.9"/><line x1="152.2" y1="548.4" x2="183" y2="540"/><line x1="147" y1="559.4" x2="175" y2="577.6"/></g><path d="M191.1 502L193.7 502C198.1 502 200.2 524.2 204.6 524.2L213.4 524.2C217.8 524.2 219.9 502 224.3 502L230 502C234.4 502 236.5 524.2 240.9 524.2L249.7 524.2C254.1 524.2 256.2 502 260.6 502L266.3 502C270.7 502 272.8 524.2 277.2 524.2L286 524.2C290.4 524.2 292.5 502 296.9 502L299 502" fill="none" stroke="#3a4ca2" stroke-width="1.3"/><g stroke="#2a2a2a" stroke-width="1.7" marker-end="url(#ah2)"><line x1="237" y1="507.9" x2="213.5" y2="507.9"/><line x1="253.4" y1="507.9" x2="277.2" y2="507.9"/></g><ellipse cx="245.3" cy="512" rx="6.6" ry="12.6" fill="#b4b4b4" stroke="#999" stroke-width=".8" stroke-dasharray="1 1"/><circle cx="245.2" cy="506.7" r="5.1" fill="url(#gb2)"/><path d="M242 506.7h6.4M245.2 503.5v6.4" stroke="#fff" stroke-width="1.3"/><circle cx="245.2" cy="516.6" r="5.0" fill="url(#gr2)"/><path d="M243.1 516.6h4.2" stroke="#fff" stroke-width="1.8199999999999998"/><text x="68" y="514.9" font-size="16" text-anchor="start" >n = 0</text><text x="3.5" y="496" font-size="15" text-anchor="start" >e</text><rect x="387.5" y="494.3" width="268.5" height="137.8" fill="none" stroke="#555" stroke-width="1"/><use href="#surf" x="352.4"/><g fill="url(#gr)"><ellipse cx="495.9" cy="521.7" rx="4.9" ry="4.5"/><ellipse cx="517.9" cy="533.3" rx="4.9" ry="4.5"/><ellipse cx="488.5" cy="536.8" rx="4.9" ry="4.5"/><ellipse cx="461.7" cy="541.1" rx="4.9" ry="4.5"/><ellipse cx="538.6" cy="542.7" rx="4.9" ry="4.5"/><ellipse cx="510.1" cy="546.3" rx="4.9" ry="4.5"/><ellipse cx="480.7" cy="549.7" rx="4.9" ry="4.5"/><ellipse cx="559.3" cy="553.2" rx="4.9" ry="4.5"/><ellipse cx="451.5" cy="554.2" rx="4.9" ry="4.5"/><ellipse cx="421.7" cy="556.5" rx="4.9" ry="4.5"/><ellipse cx="530.8" cy="558.4" rx="4.9" ry="4.5"/><ellipse cx="504.9" cy="561.8" rx="4.9" ry="4.5"/><ellipse cx="473" cy="565.3" rx="4.9" ry="4.5"/><ellipse cx="581.5" cy="565.6" rx="4.9" ry="4.5"/><ellipse cx="553.3" cy="568.7" rx="4.9" ry="4.5"/><ellipse cx="443.2" cy="569.7" rx="4.9" ry="4.5"/><ellipse cx="523.6" cy="572.2" rx="4.9" ry="4.5"/><ellipse cx="493.7" cy="575.6" rx="4.9" ry="4.5"/><ellipse cx="574.4" cy="579.9" rx="4.9" ry="4.5"/><ellipse cx="463.5" cy="580" rx="4.9" ry="4.5"/><ellipse cx="546.4" cy="583.4" rx="4.9" ry="4.5"/><ellipse cx="516.1" cy="587.4" rx="4.9" ry="4.5"/><ellipse cx="485.9" cy="591.2" rx="4.9" ry="4.5"/><ellipse cx="536.9" cy="598.9" rx="4.9" ry="4.5"/><ellipse cx="509.2" cy="602.4" rx="4.9" ry="4.5"/></g><ellipse cx="492" cy="554.5" rx="17.5" ry="8.5" fill="#5a5000" fill-opacity=".32" stroke="#4a4400" stroke-opacity=".45" stroke-width="1" stroke-dasharray="1 1"/><circle cx="485.4" cy="554.3" r="6.0" fill="url(#gr)"/><path d="M483 554.3h4.8" stroke="#fff" stroke-width="2.08"/><circle cx="497.7" cy="553.9" r="6.35" fill="url(#gb)"/><path d="M494.1 553.9h7.2M497.7 550.3v7.2" stroke="#fff" stroke-width="1.5"/><g stroke="#141414" stroke-width="2.1" marker-end="url(#ah)"><line x1="475.4" y1="557.7" x2="403" y2="560.9"/><line x1="508" y1="555" x2="542.6" y2="522.5"/><line x1="500" y1="560" x2="528.7" y2="618.3"/></g><path d="M543.5 509.1L546.1 509.1C550.4 509.1 552.4 532.1 556.6 532.1L566.4 532.1C570.6 532.1 572.6 509.1 576.9 509.1L582.6 509.1C586.9 509.1 588.9 532.1 593.1 532.1L602.9 532.1C607.1 532.1 609.1 509.1 613.4 509.1L619.1 509.1C623.4 509.1 625.4 532.1 629.6 532.1L639.4 532.1C643.6 532.1 645.6 509.1 649.9 509.1L651.6 509.1" fill="none" stroke="#3a4ca2" stroke-width="1.3"/><ellipse cx="561.7" cy="527.5" rx="5" ry="4.4" fill="url(#gr)"/><ellipse cx="598.3" cy="527.5" rx="5" ry="4.4" fill="url(#gr)"/><ellipse cx="634.5" cy="527.5" rx="5" ry="4.4" fill="url(#gr)"/><g stroke="#222" stroke-width="1.5" marker-end="url(#ah2)"><line x1="590" y1="502.4" x2="553" y2="502.4"/><line x1="605.5" y1="502.4" x2="643" y2="502.4"/></g><ellipse cx="597.5" cy="507" rx="6.4" ry="11.8" fill="#b4b4b4" stroke="#999" stroke-width=".8" stroke-dasharray="1 1"/><circle cx="597.4" cy="502.3" r="4.9" fill="url(#gb2)"/><path d="M594.3 502.3h6.2M597.4 499.2v6.2" stroke="#fff" stroke-width="1.3"/><circle cx="597.4" cy="511.9" r="4.9" fill="url(#gr2)"/><path d="M595.3 511.9h4.2" stroke="#fff" stroke-width="1.8199999999999998"/><path d="M605.2 516.6Q608.4 519.8 605.2 523" fill="none" stroke="#e8141c" stroke-width="1.2"/><path d="M603.6 514.9L607.4 515.7 605 518.4zM603.6 524.7L607.4 523.9 605 521.2z" fill="#e8141c"/><text x="411.7" y="516.5" font-size="16" text-anchor="start" >n = 1</text><text x="340" y="496" font-size="15" text-anchor="start" >f</text></svg></body></html>
